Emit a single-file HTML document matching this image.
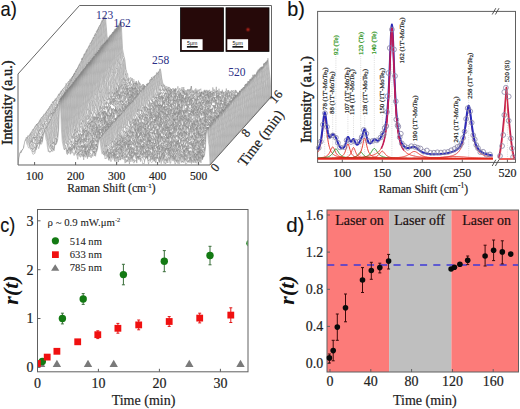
<!DOCTYPE html><html><head><meta charset="utf-8"><style>html,body{margin:0;padding:0;background:#fff;overflow:hidden}svg{display:block}.k{stroke:#222;stroke-width:0.2px}</style></head><body>
<svg width="520" height="409" viewBox="0 0 520 409">
<rect width="520" height="409" fill="#fff"/>
<defs><filter id="bl" x="-5%" y="-5%" width="110%" height="110%"><feGaussianBlur stdDeviation="0.35"/></filter></defs>
<defs><clipPath id="ca"><path d="M18,165 H210 L271.5,96.5 V5 H79 L18,73.5Z"/></clipPath></defs>
<g clip-path="url(#ca)"><g fill="#fff" stroke="#7a7a7a" stroke-width="0.4" stroke-linejoin="round" filter="url(#bl)">
<path d="M79,99.5V96.5l.7-11.6l.8-7.6l.7-1l.8-.5l.7-2.4l.7-3.4l.8-1.8l.7-3.9l.7-3.7l.8-3.5l.7-.2l.8,3.3l.7-.4l.7,.4l.8-1.1l.7,2l.7,1.3l.8,.1l.7-.1l.8-1.2l.7,0l.7-1.7l.8,.5l.7-3.3l.7-2.9l.8-1.8l.7-4.4l.8,1.7l.7-2.3l.7-.7l.8-1.7l.7-2.8l.8-6.1l.7-10.7l.7-9.6l.8,2.2l.7,9.4l.7,7.9l.8,7.1l.7,9.5l.8,4.9l.7,4.4l.7,6.3l.8,1.4l.7,1.1l.7,6.4l.8-.9l.7,.2l.8,.3l.7-2.6l.7,.5l.8,1.7l.7-5l.8-4.9l.7-10.9l.7-19.1l.8-13.5l.7,12l.7,14.8l.8,4.1l.7,3.6l.8,3.1l.7,6.5l.7,4.9l.8,3.4l.7-.5l.7,8.2l.8,.2l.7-2.7l.8-2.1l.7,1.8l.7,5.2l.8,2.1l.7-5.7l.8,3.3l.7,1.6l.7-3.9l.8,.2l.7,2.6l.7,.2l.8-.1l.7-2.2l.8,2.4l.7,.4l.7,.1l.8,4.8l.7-6.1l.7,.9l.8,1l.7,5.6l.8-2.8l.7-3.2l.7,5.9l.8-3.5l.7-2.6l.7,5.2l.8-6.4l.7,2.4l.8,1.4l.7-1l.7-.7l.8,.8l.7-2.1l.8,2.7l.7-1.1l.7-3.3l.8-.5l.7-2.6l.7-6.7l.8-4.7l.7,2.8l.8,6.5l.7,3.6l.7,2.8l.8,2l.7-1.6l.7,4.7l.8-3.5l.7,5l.8-.5l.7-2.6l.7-.8l.8,.6l.7,1.2l.8,.6l.7,.1l.7-.8l.8,1.8l.7-.9l.7-.6l.8,1.4l.7-1.6l.8,.5l.7-3.1l.7,3.7l.8,1.7l.7,0l.7-.8l.8-2l.7,2.8l.8-1.5l.7-3.2l.7,7.6l.8-1l.7-2.9l.7-.3l.8,.4l.7,1.5l.8-2.4l.7,.9l.7,1.8l.8-6.4l.7,4.6l.8,2l.7-1l.7,.4l.8-.4l.7,1.9l.7-.8l.8-3.3l.7,4.8l.8-2.4l.7-2.2l.7,.3l.8-1.4l.7,6.9l.7-2.7l.8,0l.7-2.1l.8-1l.7,3.5l.7-3.4l.8,5.6l.7-4.6l.8,4.8l.7-3.7l.7-2.2l.8,3l.7-.7l.7-1.3l.8,1.5l.7,.5l.8-3.5l.7,1.1l.7,3l.8-6.6l.7,8.6l.7-4.5l.8,2.6l.7-.8l.8-1.3l.7,1.1l.7-.9l.8,3.4l.7,0l.7-3.2l.8,3.5l.7,.2l.8-.6l.7-4.4l.7,1.2l.8-1.6l.7,5.4l.8-2.1l.7,2l.7-3.6l.8-1.7l.7,5.4l.7-5.3l.8,1.3l.7,2.6l.8-.8l.7-2.6l.7,3.3l.8,1.2l.7-2.2l.7,0l.8-2.4l.7,4.7l.8-3.9l.7-.8l.7,.1l.8,3.6l.7,1.2l.8-3.9l.7,2l.7,0l.8-2.9l.7,3.7l.7-1.9l.8,2.2l.7-1.2l.8-1.5l.7,1.1l.7,2l.8-1.4l.7-1.8l.7,1.6l.8-2.8l.7,3l.8-2.5l.7-1l.7-.3l.8,4.9l.7-3.6l.7,3.1l.8,.9l.7-.6l.8-4.9l.7,2.6l.7-2l.8-1.7l.7-3.5l.8-6.3l.7-12.6l.7-8l.8,6.4l.7,7.5l.7,6.1l.8,15.7v3H79Z"/>
<path d="M78.5,99.9V96.9l.7-10.1l.8-9.2l.7-1.4l.8-.5l.7-1.2l.7-2.5l.8-2.6l.7-5.1l.7-2.2l.8-4.2l.7-.4l.8,3.6l.7,1.1l.7-1.4l.8,.7l.7-1.8l.7,1.5l.8,2l.7,.7l.8-1.3l.7-3l.7,2.1l.8-4.6l.7,3.1l.7-5.2l.8-5.1l.7-1.8l.8,3.3l.7-2.7l.7-2.8l.8-1l.7-2.8l.8-5.8l.7-10.5l.7-9.2l.8,2.2l.7,8.2l.7,8.5l.8,8.4l.7,8.9l.8,3l.7,4.2l.7,4.9l.8,4.4l.7,1.2l.7,3.7l.8,4.9l.7-3.8l.8-.6l.7-.1l.7,.9l.8-2.6l.7-.8l.8-6.2l.7-9.9l.7-20.3l.8-13.8l.7,12.4l.7,14l.8,5.5l.7,3.2l.8,.6l.7,7.4l.7,4.7l.8,.9l.7,6.3l.7,.7l.8,2.2l.7,.6l.8-.4l.7,.4l.7,2.1l.8-2.8l.7,.6l.8-1l.7,6.4l.7-1.4l.8-.8l.7-.7l.7,4.3l.8-.8l.7,.9l.8-3.8l.7,2.2l.7,2.1l.8-1l.7-2.4l.7,4.2l.8-1.3l.7,1.3l.8-1.3l.7,1.2l.7-2.1l.8,3.4l.7-.3l.7-3.8l.8,.9l.7,2.2l.8-2.4l.7-.1l.7,1.6l.8-1l.7,.3l.8-.6l.7-.7l.7-1.9l.8-.1l.7-5.5l.7-3.6l.8-5.4l.7,2.1l.8,5.2l.7,4.5l.7,3.4l.8-.5l.7,3.2l.7,2l.8-.2l.7,4.4l.8-4.8l.7-1.9l.7,.8l.8,4.8l.7-3.3l.8,.1l.7,3.1l.7,1.6l.8-3.1l.7-2l.7,2.3l.8-1.9l.7,4.8l.8-1.4l.7,.3l.7-1.2l.8-1l.7,.1l.7,0l.8,.7l.7,1.7l.8-2.1l.7-.3l.7-1.6l.8,6.2l.7-2.8l.7,.7l.8-1.6l.7-1.7l.8,3.1l.7-1.5l.7,2l.8-2.2l.7-5.1l.8,7.2l.7,.2l.7-1.1l.8-2.2l.7,2.2l.7-.3l.8-.1l.7,2l.8-3.5l.7,3.2l.7-1.4l.8,.2l.7-.1l.7,.1l.8-1l.7,1.5l.8-.9l.7-1.4l.7,1.6l.8,0l.7-2.5l.8,5.9l.7-2.3l.7,1.3l.8,1l.7-4.4l.7,3.1l.8,1.4l.7-8.5l.8,3.6l.7-.7l.7,3.3l.8,.1l.7-2.8l.7,4l.8,.9l.7,.1l.8-3l.7,1.6l.7,1.5l.8-2.1l.7-2.4l.7,3.7l.8-2.9l.7,3.7l.8-4.9l.7,4.7l.7-1.5l.8,1l.7-2.6l.8,.9l.7,.9l.7-1.4l.8-.6l.7,3.3l.7,.2l.8-.1l.7-.7l.8,.6l.7-5.6l.7,3.9l.8,.2l.7,1l.7-.5l.8,.2l.7-4l.8,1.8l.7,1.5l.7-.9l.8,1.2l.7-3.9l.8,2.6l.7-2.5l.7,.9l.8,2.9l.7,1.5l.7-3.6l.8,3.2l.7-1.1l.8,1.1l.7,.2l.7-2.9l.8,.5l.7,.7l.7-3.8l.8,4.6l.7-3.7l.8,1.9l.7,.6l.7,.4l.8-3.8l.7,4.3l.7,1l.8-1.8l.7-3.6l.8,4.5l.7-3.2l.7-2.1l.8-1.7l.7-3l.8-8.1l.7-10.1l.7-6.5l.8,6.3l.7,6.2l.7,5.9l.8,15.8v3H78.5Z"/>
<path d="M78,100.4V97.4l.7-13.1l.8-6.8l.7-2.3l.8-.4l.7-1.7l.7-1.3l.8-2l.7-4l.7-3.2l.8-4.8l.7,1l.8,1.2l.7-.1l.7,2.2l.8-1.3l.7-1.9l.7,2.4l.8,2.3l.7-1l.8-.6l.7-.7l.7,1.4l.8-5l.7-1.7l.7-.4l.8-3.6l.7-.2l.8-2.3l.7,1.1l.7-4.3l.8-.6l.7-2.2l.8-6.8l.7-10.5l.7-9.1l.8,2.2l.7,8.3l.7,8.4l.8,8.1l.7,6.4l.8,6.2l.7,6.5l.7,.4l.8,6.1l.7,1.6l.7,4l.8,.5l.7,2.6l.8-5.1l.7-.4l.7,3.3l.8,0l.7-2.1l.8-8.3l.7-9.4l.7-19.4l.8-13.9l.7,11.9l.7,14.6l.8,4.9l.7,4.1l.8,1.5l.7,4.5l.7,4.8l.8,5.3l.7,4.1l.7-.1l.8,2.4l.7-3.3l.8,1.8l.7,1.9l.7,.8l.8,1l.7,1.2l.8-.5l.7-.6l.7,.2l.8,.4l.7-2.8l.7,6.5l.8-1.2l.7-5.9l.8,10.5l.7-2.7l.7-1.3l.8,.2l.7-.5l.7,1.6l.8-1.2l.7,.8l.8-1.5l.7,5.9l.7-2.1l.8-1.9l.7,2.3l.7,.1l.8-3.7l.7,2.7l.8-2.6l.7-.2l.7,.7l.8-.5l.7,.9l.8,1.7l.7-3l.7-1.9l.8-.7l.7-3.9l.7-5.8l.8-3.6l.7,.8l.8,4.6l.7,6.6l.7,2.1l.8,2.1l.7-1.6l.7,2.6l.8-.6l.7,3.3l.8-.9l.7,.2l.7,3.7l.8-6.5l.7,1.3l.8,6l.7-5.4l.7,2.1l.8-1.2l.7,.3l.7,4.2l.8-2.8l.7-3.6l.8,4.6l.7,1l.7,.8l.8-.2l.7-3.4l.7-2.9l.8,2.8l.7,.5l.8-4.4l.7,6.1l.7,.4l.8-2.6l.7,0l.7,3.5l.8,.4l.7-3.2l.8,.1l.7,3.5l.7-2.4l.8,.8l.7-2.2l.8,1.3l.7,0l.7,.6l.8-3l.7-.7l.7,3.9l.8-2.6l.7,3.5l.8-1.8l.7-1.4l.7-1.7l.8,4.3l.7-.7l.7-.5l.8,3.7l.7-3.3l.8,1.6l.7-2.3l.7,3.4l.8-.1l.7-2.4l.8-.5l.7,1.8l.7-3.1l.8,2.6l.7,.8l.7-2.4l.8,3.8l.7-1.2l.8-1.4l.7-1.8l.7,2.2l.8-1l.7,2.2l.7-2.1l.8-3l.7,5.3l.8-6.7l.7,6.6l.7-1.4l.8-.3l.7-1.8l.7,4.6l.8-1.9l.7-1.7l.8-.4l.7,.4l.7-4.3l.8,5.3l.7,0l.8-1.5l.7,1.3l.7-2.8l.8,5.2l.7-.7l.7-4.2l.8,1.7l.7,2.6l.8-2.8l.7-2.7l.7,4.8l.8,.6l.7,.6l.7,.7l.8-.4l.7-2.8l.8,1.3l.7-.1l.7,.6l.8-2.4l.7,.9l.8,1.4l.7-1.8l.7,1.8l.8,.8l.7-4.4l.7,2.2l.8,2.7l.7-4.1l.8,1.6l.7,1.2l.7-4l.8,2.8l.7-1.3l.7,1.5l.8,.8l.7,.4l.8-3l.7,2l.7,.6l.8-1.5l.7,.5l.7-1.5l.8,2.1l.7-1l.8,2.1l.7-3l.7-1.9l.8-2.3l.7-2.1l.8-6.9l.7-13.3l.7-5.4l.8,4.3l.7,7.1l.7,7.7l.8,14.8v3H78Z"/>
<path d="M77.6,101.4V98.4l.7-11.7l.8-7.8l.7,2.4l.8-5l.7-2.1l.7-.5l.8-2.9l.7-4.4l.7-1.9l.8-5l.7-.6l.8,1.2l.7,2.9l.7,1.8l.8-3l.7,1.3l.7-.1l.8-.4l.7,3.1l.8-3.6l.7,.6l.7-.5l.8-.8l.7-.7l.7-4.2l.8-3.1l.7,.1l.8-.6l.7-4.3l.7,0l.8-2.8l.7-1.5l.8-6.1l.7-10.1l.7-9l.8,1.3l.7,9.3l.7,7.4l.8,9.6l.7,5.9l.8,7.4l.7,5.5l.7,1l.8,5.9l.7-.7l.7,2.1l.8,3.5l.7-1.7l.8,2.5l.7-3.9l.7,.8l.8-.8l.7-1l.8-5.8l.7-11l.7-18l.8-14.2l.7,11.4l.7,13.5l.8,6.6l.7,2l.8,.9l.7,10.4l.7,6.6l.8-1.9l.7,3.2l.7,1.6l.8,6.1l.7-3.2l.8,1l.7,.1l.7-1.1l.8-.8l.7-2.6l.8,10.7l.7-1.1l.7,1.2l.8-5.7l.7,5.3l.7-1.8l.8,0l.7,6.4l.8-7.3l.7,.7l.7,3.2l.8,0l.7,0l.7-1.6l.8,.5l.7-1l.8,4.3l.7-.7l.7-1.9l.8-.1l.7,1.9l.7-4.4l.8,2.2l.7-.9l.8,.6l.7-2.4l.7,3.9l.8-.6l.7-2l.8,0l.7,2.4l.7-2.6l.8-3.2l.7-3.1l.7-4.6l.8-4.3l.7,1.2l.8,4.9l.7,4.4l.7,4l.8,2.6l.7,.4l.7,3.1l.8-4.2l.7,.4l.8,2.1l.7-.9l.7-1.8l.8,3.2l.7,0l.8-1.6l.7,3.4l.7-2.2l.8,3.1l.7-3.7l.7,3.5l.8-1.7l.7-.1l.8,3.4l.7-1.9l.7-1.8l.8,1.4l.7,1.1l.7,0l.8-.2l.7-1.2l.8,.6l.7-3.1l.7,1.7l.8,1.4l.7,3.6l.7-4.2l.8-1.1l.7,1.7l.8-3.9l.7,0l.7,1.3l.8,2.9l.7-5.1l.8,3.1l.7,5.4l.7-6.7l.8,6.1l.7-.1l.7-4.9l.8-1.1l.7,2.9l.8-1.8l.7-.1l.7,5.8l.8-4l.7-.8l.7,3.6l.8-3.6l.7,2.4l.8-1.5l.7,.7l.7-3.5l.8,3.1l.7,.9l.8,2.9l.7-1.8l.7-5.4l.8,3.1l.7-1.2l.7,.3l.8,5l.7-2l.8-.1l.7-2.9l.7,4.2l.8-.9l.7,.2l.7,.8l.8-1.5l.7-.6l.8,2.1l.7-.1l.7-2.1l.8-3.3l.7,3.3l.7,2.9l.8-3.5l.7-1.1l.8,1.4l.7,.2l.7,1.6l.8-1.2l.7,2.5l.8-3l.7-2l.7,2.2l.8-2.3l.7,1.4l.7,1.4l.8,1.9l.7-3.9l.8,1.7l.7,.9l.7-3.8l.8,1l.7-.4l.7-.3l.8,3.7l.7-.7l.8,1.9l.7-3.9l.7,2.9l.8-5l.7,6l.8-3.3l.7-1.4l.7,2.6l.8,1.1l.7,1.2l.7-4.6l.8,.5l.7-1.4l.8,4.5l.7-4.6l.7,2.3l.8-.4l.7,.7l.7,2l.8-.6l.7-2.8l.8,2.8l.7-.9l.7,0l.8-.8l.7-2l.7,4.2l.8-2.6l.7,1.6l.8-1.5l.7-.1l.7-.3l.8-2.7l.7-2.6l.8-8.9l.7-9.9l.7-7.4l.8,4.5l.7,8.4l.7,5.1l.8,16v3H77.6Z"/>
<path d="M77.1,101.6V98.6l.7-10.4l.8-10.7l.7,.9l.8,0l.7-4.3l.7,.2l.8-3.4l.7-3.3l.7-4.1l.8-3.8l.7,.3l.8,2.9l.7,2.1l.7-.4l.8-1.4l.7-1.4l.7,.9l.8,.6l.7,1l.8,1.3l.7-.6l.7,1.3l.8-4.2l.7-2.8l.7-2.8l.8-2.3l.7-1.1l.8-1.4l.7-.3l.7-3.5l.8-1.5l.7-1.9l.8-6.4l.7-9.1l.7-9.8l.8,2.1l.7,9l.7,6.3l.8,8l.7,9.1l.8,5.2l.7,3.8l.7,4.2l.8,2.7l.7,5.8l.7,1.2l.8-.1l.7-.9l.8,1.1l.7,.2l.7-.8l.8,.2l.7-1.8l.8-7.7l.7-9l.7-19.6l.8-14.7l.7,12.2l.7,14.3l.8,6.6l.7,1.2l.8,1.4l.7,6.4l.7,3.9l.8,6l.7,2l.7,3.2l.8-.1l.7-1.1l.8,5.7l.7-2.6l.7-.5l.8,2.2l.7,.1l.8-1.6l.7-1.9l.7,3.7l.8,1.2l.7,4.6l.7-7.3l.8,4.5l.7,.5l.8,2.6l.7-2.1l.7,2.4l.8-2.4l.7-.7l.7,1.1l.8-.4l.7,2.6l.8-5l.7,4.7l.7,2.6l.8-3.5l.7,1.3l.7,.6l.8-1.4l.7-1.4l.8,2.9l.7-2.1l.7-3.1l.8,1.3l.7,1.2l.8-.9l.7-.3l.7-1.3l.8-2.9l.7-2.4l.7-3.6l.8-6.3l.7,2.3l.8,4.6l.7,5.7l.7,2l.8-1.3l.7,5.9l.7,1l.8,1.1l.7,2.3l.8-.5l.7-4.1l.7,2.2l.8,3l.7-.7l.8-4.5l.7,3.2l.7-.8l.8-1.5l.7-2.1l.7-1.2l.8,2.1l.7,2l.8,0l.7-3.5l.7,.9l.8,3.9l.7-1.7l.7,.5l.8,.5l.7,1.3l.8,1.9l.7-1.7l.7,2.2l.8-6l.7,1.5l.7,3.9l.8-5.7l.7,1.2l.8,6.2l.7-8.2l.7,2.3l.8-2.7l.7,7.3l.8-3.9l.7,.3l.7,.5l.8,.1l.7-1.9l.7,5.7l.8-.5l.7,.3l.8-1.8l.7,.2l.7-2.1l.8,.2l.7,.6l.7,1.6l.8-.5l.7-3l.8,.4l.7,1.5l.7,1l.8-4.1l.7,4.8l.8-2.7l.7-1.1l.7,3.2l.8-2.4l.7,4.3l.7-4.6l.8,1.8l.7,3.1l.8-4.1l.7,3.5l.7-4.8l.8,4.4l.7-1.1l.7-1l.8,1.4l.7-1.2l.8,1.8l.7-2.7l.7,1.5l.8-.4l.7-.4l.7-1.6l.8,2.5l.7,1.1l.8-1.1l.7-.8l.7-1.3l.8,4.6l.7-5.6l.8,3.8l.7-5.6l.7,5.6l.8-1.7l.7,2.3l.7,.9l.8-4.1l.7,.5l.8-1.4l.7,1.6l.7,3.2l.8-1.2l.7,1.4l.7,.1l.8,.3l.7-3.1l.8,.6l.7,1.3l.7-1l.8,.7l.7-.8l.8-1.2l.7-.5l.7,3.7l.8-1.2l.7-3.5l.7,2.9l.8-2.2l.7,2.6l.8,.5l.7-.8l.7,.8l.8,.4l.7-2.8l.7-.8l.8-1.2l.7,5.4l.8-.7l.7-2.5l.7-1l.8,1.6l.7,2.5l.7-4.1l.8-.3l.7,.3l.8,1.8l.7-2l.7-1.4l.8-.8l.7-2.4l.8-8.4l.7-12.1l.7-6.4l.8,4.4l.7,9l.7,6l.8,14.9v3H77.1Z"/>
<path d="M76.6,102.4V99.4l.7-11l.8-7.6l.7-2.2l.8-.5l.7,.9l.7-6.5l.8-.9l.7-1.9l.7-5.1l.8-4l.7,.1l.8,2l.7,1.2l.7-.6l.8-1.1l.7,.2l.7,.9l.8,3.7l.7,.5l.8-2.1l.7,.3l.7-1.8l.8,.1l.7-2.1l.7-3.5l.8-.4l.7-2.6l.8-2.2l.7-.7l.7-1.6l.8-3.1l.7-3.3l.8-5.3l.7-8.8l.7-9.9l.8,2.4l.7,8.4l.7,8.4l.8,8.2l.7,6.6l.8,6.3l.7,4.6l.7,5.4l.8,.2l.7,4.1l.7,3.4l.8-.6l.7-.9l.8,2.4l.7-3.2l.7,2.2l.8-3.3l.7-1.5l.8-4.3l.7-10.4l.7-19.1l.8-14.3l.7,11.3l.7,14.2l.8,6l.7,3l.8,2.8l.7,4l.7,9.7l.8,.8l.7,2.1l.7,3.9l.8,.1l.7,0l.8,2.1l.7,.2l.7,.7l.8-.3l.7-1.3l.8-.9l.7,2.7l.7,1l.8,1.7l.7-1.6l.7,1.6l.8-2.8l.7,2.5l.8-1.6l.7,1.2l.7,1.1l.8-.3l.7,2.3l.7-3l.8,1.9l.7,1.4l.8-1.7l.7-1.6l.7,1.9l.8,5l.7-3.6l.7-1.2l.8-1l.7,2.6l.8-2.1l.7-.9l.7,.4l.8,3.7l.7-2.3l.8-.4l.7-1.1l.7-1.8l.8-3.4l.7-2.1l.7-4.6l.8-4.6l.7,.6l.8,6.8l.7,4.1l.7,.9l.8,1.3l.7,.9l.7,4.9l.8-4.3l.7,3.3l.8-1.7l.7,2.1l.7-1.9l.8,2.2l.7,.1l.8,.5l.7,1.6l.7-1.7l.8-1.7l.7,4.3l.7-2.5l.8,2.5l.7,.4l.8,.9l.7-7l.7,3.4l.8,1.1l.7-2.8l.7,6.5l.8-4.4l.7,1.5l.8-2.7l.7,4.3l.7-3l.8,.3l.7-3l.7,4.1l.8-.9l.7-1l.8,.1l.7-.2l.7,.9l.8,2.4l.7-4.7l.8-1.1l.7,3.6l.7,1.7l.8-3.6l.7,4.2l.7-2.5l.8,3.9l.7-6.2l.8,5.5l.7-3.1l.7,2l.8-.2l.7,1.6l.7-2.4l.8,2.3l.7-4.4l.8,4l.7-1.7l.7-1.7l.8,0l.7-.3l.8-.3l.7,1.4l.7-.6l.8-.4l.7,4.8l.7-2.8l.8,0l.7,.3l.8-1.4l.7,3.4l.7,.8l.8-1.6l.7-2.3l.7,3l.8-1.1l.7-3.4l.8,0l.7,1.4l.7,1.8l.8,.1l.7,2.2l.7-.4l.8-3.9l.7,2.7l.8-3.4l.7,2.9l.7-.2l.8-.5l.7-2.9l.8,2.7l.7,2.2l.7,0l.8-2.7l.7,3l.7-.1l.8-1.9l.7,.3l.8,1.7l.7,.3l.7-2.6l.8,.8l.7,1.5l.7-.2l.8-5.1l.7,5.5l.8-3l.7,1.8l.7-2.9l.8-.6l.7,3.7l.8-1.1l.7,2.3l.7-1l.8-2.5l.7,2.8l.7,.5l.8-1.7l.7,.7l.8,.2l.7-1.5l.7,1.3l.8-.5l.7-.1l.7-.4l.8-1.6l.7-2.8l.8,6.4l.7,.1l.7-3.3l.8,1.2l.7,2.1l.7-.5l.8,.2l.7-.3l.8-.1l.7-2.8l.7-2l.8-2.6l.7-1l.8-8.4l.7-12l.7-6.7l.8,4.1l.7,8.8l.7,5.8l.8,16v3H76.6Z"/>
<path d="M76.2,102.6V99.6l.7-9.6l.8-8.6l.7-1.6l.8-1.1l.7-3.1l.7-.3l.8-3.9l.7-1.5l.7-4.2l.8-5.3l.7,.2l.8,1.9l.7,1.8l.7-.2l.8,.9l.7-3.1l.7,2.9l.8-.8l.7,1.7l.8,2.9l.7-1.4l.7-4.4l.8,.6l.7-1.4l.7-3.7l.8-2.3l.7-1l.8-.8l.7-1.5l.7-4.2l.8-.1l.7-3.7l.8-5.4l.7-9.7l.7-9.2l.8,2.2l.7,8.8l.7,8l.8,8.8l.7,7l.8,6.4l.7,1.9l.7,5l.8,4.4l.7,4.6l.7-.5l.8,1.7l.7,1.3l.8-.6l.7,.2l.7-3.8l.8,.8l.7-5.2l.8-2.1l.7-10.8l.7-19.8l.8-13.3l.7,12l.7,14.4l.8,6.1l.7-.1l.8,3.7l.7,3.6l.7,8.3l.8,3.3l.7,4.5l.7-1.6l.8,5.6l.7-3.2l.8-.8l.7-.6l.7,5l.8-4l.7,4.7l.8,.9l.7,2l.7-4.8l.8-.5l.7,5.4l.7,.8l.8-.6l.7-6l.8,3.5l.7,3.7l.7,2.9l.8-2.3l.7-4l.7-1.3l.8,4.8l.7,1l.8-.3l.7,3.1l.7-6l.8,4.4l.7-4.7l.7,6.2l.8-1l.7-3.4l.8,2.1l.7-3.1l.7,1.4l.8,2l.7-3.5l.8-.8l.7,3.7l.7-6.6l.8-.1l.7-3.5l.7-3.2l.8-5.5l.7,1.5l.8,4.6l.7,6.9l.7,2.5l.8,3.5l.7-1.5l.7-.2l.8,4.1l.7-1.5l.8-1.8l.7-1.9l.7,2l.8,2.1l.7,2.1l.8-.4l.7-.5l.7-1.7l.8,.6l.7-3.7l.7,3.1l.8,3.1l.7-5.7l.8,1.4l.7,2l.7,1.8l.8,2.6l.7-1.8l.7-4.2l.8,3.8l.7,1.2l.8-3.3l.7-.1l.7-.7l.8-.1l.7-1.6l.7,5l.8-4l.7,4.4l.8-3.6l.7,1.1l.7-.1l.8-1.5l.7,2.2l.8-2.5l.7,.6l.7,1.7l.8,1.6l.7,.4l.7-.5l.8-.6l.7-.4l.8-6.6l.7,5.2l.7-.2l.8,3.6l.7-.3l.7-.8l.8-1.1l.7,2.7l.8-5.7l.7,4.8l.7-3.6l.8,4l.7-1.5l.8-.6l.7,.2l.7-.9l.8,.8l.7,.3l.7,2.5l.8-.5l.7-.6l.8-2.3l.7,.7l.7,1.2l.8,1.4l.7-.5l.7-5.3l.8,.3l.7,4l.8-3l.7,4.8l.7-.8l.8,.1l.7,.9l.7-.7l.8-1.6l.7-6.2l.8,8.1l.7-1.5l.7-.5l.8,.8l.7-2.1l.8-1.9l.7,5.7l.7-2l.8,.9l.7-1.3l.7,1.6l.8-.5l.7-1.3l.8,0l.7,.7l.7,.3l.8-1.2l.7,2.3l.7,.9l.8-1.2l.7,1.1l.8-3.1l.7,.3l.7,1.2l.8-1.2l.7,2.5l.8-1.5l.7,.1l.7-1.2l.8,1.4l.7,.1l.7,0l.8,1.1l.7-6.3l.8,3.8l.7,.1l.7-4.1l.8,1.9l.7,3.7l.7-2.2l.8-.3l.7-2.4l.8,1.2l.7,1.2l.7,3.6l.8-.2l.7-2.6l.7-.7l.8,3.1l.7-1.7l.8-.4l.7-1.6l.7-1.3l.8-1.3l.7-2.6l.8-8.7l.7-12.3l.7-5.4l.8,4.2l.7,8.3l.7,6.3l.8,15.3v3H76.2Z"/>
<path d="M75.7,103V100l.7-10.2l.8-9l.7-1.4l.8-.3l.7-2.3l.7-1.4l.8-3.7l.7-1.7l.7-5.2l.8-3.8l.7,.5l.8,1.3l.7,1.9l.7-.5l.8-4l.7,3.6l.7,.4l.8,2l.7,.9l.8-3.8l.7,.3l.7,.6l.8,.7l.7-6.8l.7-1.4l.8-1l.7-.4l.8-.9l.7-3.1l.7-.5l.8-1.1l.7-2.7l.8-4.5l.7-11.8l.7-9.2l.8,1.4l.7,9.1l.7,7.6l.8,8.4l.7,9.3l.8,4l.7,4.2l.7,2.8l.8,3.7l.7,4.5l.7,.9l.8,.8l.7-.9l.8,1.7l.7,.5l.7-1.5l.8-.6l.7-4.3l.8-4l.7-9.3l.7-20.4l.8-14.2l.7,12.5l.7,15l.8,3.5l.7,3.1l.8,5.4l.7,.2l.7,8.1l.8,7.9l.7-1.4l.7,2.5l.8-.3l.7,1l.8,2.8l.7-2.6l.7-.5l.8,2.2l.7,.6l.8,3.1l.7-1.3l.7,1.5l.8-.5l.7,1.3l.7,3.5l.8-4.9l.7,3l.8-.7l.7,1.8l.7-2l.8,1l.7-4.5l.7,7.9l.8-1.2l.7-2.6l.8,2.9l.7-2.1l.7-6.2l.8,5.1l.7,.5l.7-1.1l.8,.1l.7,.4l.8,.7l.7,.6l.7-3l.8,.6l.7,1.3l.8-.7l.7,1.3l.7-1.8l.8-1.2l.7-5l.7-6.5l.8-4.2l.7,2.4l.8,5.9l.7,3.5l.7,2.6l.8,3.9l.7-.1l.7-.5l.8,.5l.7,0l.8,0l.7,1.5l.7,1.7l.8,2.6l.7-1.5l.8-3.6l.7-1.3l.7,1.7l.8,2.9l.7,3l.7-5.7l.8,4.3l.7-1.7l.8-3.8l.7,5l.7-.5l.8-2.2l.7,2.7l.7-3.2l.8-1.9l.7,4.5l.8-3.9l.7,5.6l.7-2.5l.8,1.1l.7,2.9l.7-2.8l.8-2.1l.7,2.2l.8,2.1l.7-4.1l.7,3.2l.8-3.7l.7-.1l.8,1.2l.7,1.5l.7-.4l.8-3.7l.7-.7l.7,3.6l.8,3.6l.7,0l.8,.4l.7-6.4l.7,6.5l.8-6.1l.7,2.5l.7,1l.8-3.6l.7,3.8l.8-3.1l.7,0l.7,4.2l.8-1.4l.7-2.6l.8,4.4l.7-3.9l.7,2.7l.8-2.2l.7,2.5l.7,.3l.8,.7l.7,1.5l.8-1.3l.7-1.5l.7,2.5l.8-3.2l.7,0l.7-.2l.8-.3l.7-.1l.8,2.9l.7-2.5l.7,1l.8-.9l.7,2.1l.7,.2l.8,1l.7-.3l.8-1l.7,.4l.7-.6l.8,1.8l.7-.6l.8-.8l.7,1l.7-2.1l.8,.3l.7-1.5l.7,3.6l.8-1.8l.7,.2l.8-.1l.7,1.1l.7-4.7l.8,3.3l.7-2.5l.7,4.6l.8-1.9l.7-1.7l.8,1.9l.7-.3l.7,1.5l.8-5.4l.7,2.3l.8,2.5l.7-1l.7,2.1l.8-3.4l.7,1.6l.7,1l.8-2l.7-4.6l.8,5.6l.7,1.1l.7-.2l.8-2.8l.7,3.1l.7-.1l.8-3.8l.7,3.3l.8-.2l.7-.4l.7-.3l.8,.8l.7,0l.7-2l.8,1.6l.7,.2l.8-5.3l.7,1.4l.7-1.3l.8-.5l.7-2.6l.8-7.1l.7-13.4l.7-5.6l.8,6l.7,6.1l.7,6.3l.8,15.8v3H75.7Z"/>
<path d="M75.2,103.7V100.7l.7-11.2l.8-7.6l.7-.1l.8-1.1l.7-3.6l.7-.3l.8-3.8l.7-3.3l.7-2.7l.8-4l.7-.8l.8,1.7l.7,1.2l.7,.1l.8-1.4l.7,1.1l.7,.9l.8-.1l.7,2.2l.8-2.2l.7,3.4l.7-4.2l.8,.1l.7,.8l.7-7.1l.8-2.2l.7-.7l.8,1.5l.7-2.3l.7-4.9l.8,.7l.7-.2l.8-7.9l.7-10l.7-10l.8,2l.7,9l.7,7.8l.8,6.7l.7,9.9l.8,2.1l.7,7.3l.7,4.4l.8,.8l.7,2.8l.7,4.1l.8-1.2l.7,3.8l.8-1.9l.7-3.6l.7,1.5l.8,1.2l.7-4.4l.8-5.4l.7-10l.7-18.2l.8-14.6l.7,11.8l.7,13.7l.8,4.6l.7,4.5l.8,3.6l.7,4.3l.7,2.8l.8,7.6l.7-1.3l.7,9.4l.8-5.6l.7,3.5l.8-2.1l.7-.4l.7,4l.8-1.9l.7,0l.8,0l.7,4.2l.7,.8l.8,2.6l.7-9.4l.7,6.4l.8,.4l.7,3.1l.8-5.1l.7,3.4l.7-4.1l.8,1.4l.7,2l.7-1.4l.8,4.1l.7-1.6l.8,.7l.7,1.6l.7-2.8l.8,.4l.7-3.4l.7,10.6l.8-5.9l.7,.4l.8-1l.7-1.8l.7,0l.8,.5l.7,.6l.8-2.1l.7-.4l.7,1.9l.8-4.2l.7-2.4l.7-5.7l.8-5.5l.7,1.8l.8,5.6l.7,5.5l.7,2.2l.8,2.8l.7-.9l.7,.2l.8-1.5l.7,1.2l.8,4.2l.7-.4l.7,1.2l.8-2.4l.7-3.6l.8,3l.7,6.5l.7-2l.8,.2l.7-3.9l.7,1.3l.8-.6l.7-3.2l.8,5.8l.7,.2l.7-6.2l.8,3.7l.7,2.5l.7,2.8l.8-1.1l.7,.7l.8-4.1l.7,.1l.7-2.1l.8,2.6l.7,1.2l.7,.2l.8-5.8l.7,8.1l.8-4.2l.7,.4l.7-1.3l.8,2.3l.7-2l.8-.6l.7,2.2l.7,.7l.8-.6l.7,1.8l.7-1.7l.8,.3l.7-1.1l.8-2.4l.7,.1l.7,3.9l.8-2.3l.7,.7l.7-1l.8,1.7l.7-.5l.8,1.6l.7,.8l.7-3.6l.8-.9l.7,1.4l.8,.5l.7,.4l.7,1.7l.8,1.5l.7-3.9l.7,1l.8,1.7l.7,1l.8-4.9l.7,4.8l.7-5.8l.8,2.5l.7-3.8l.7,6.9l.8-1.5l.7,1.1l.8-1.5l.7,.9l.7,1.2l.8-4l.7,4.2l.7-.6l.8-2.3l.7,2.4l.8-.2l.7-1.7l.7,1.7l.8,1.1l.7-1.7l.8,.3l.7-4.2l.7,5.8l.8-4.1l.7,3.9l.7-.9l.8,0l.7-1.3l.8-1.3l.7-1.9l.7,5.3l.8-4.3l.7,.8l.7,.4l.8,3.5l.7-3.7l.8,2.2l.7-1l.7,1.4l.8-2.1l.7-1l.8,0l.7,2.9l.7-2.6l.8-1.1l.7,4.9l.7-4.9l.8,4.1l.7-2.1l.8-.1l.7-2l.7,2.6l.8,1.7l.7,.7l.7-.5l.8-3.1l.7,2.2l.8,1l.7-2.8l.7,2.8l.8-.8l.7-.1l.7-4.8l.8,.2l.7,3.2l.8,2.7l.7-4.3l.7-.9l.8-2.1l.7-3.5l.8-6.1l.7-12.9l.7-6.7l.8,5.5l.7,8.3l.7,6.5l.8,14.5v3H75.2Z"/>
<path d="M74.7,104.4V101.4l.7-10.8l.8-9.6l.7,.9l.8-.6l.7-4.7l.7,.3l.8-2.7l.7-2.7l.7-6.1l.8-2.5l.7,.2l.8,2l.7,1.5l.7-.3l.8-.7l.7,.5l.7-1.6l.8,4.3l.7-2.5l.8,.6l.7,2.6l.7-4.2l.8-.3l.7-.2l.7-6.7l.8-2.1l.7,3.4l.8-3.9l.7,.6l.7-1.7l.8-4.1l.7-.5l.8-6.4l.7-10.3l.7-9.2l.8,2.1l.7,9.5l.7,6.5l.8,7.1l.7,7.2l.8,5.3l.7,5.6l.7,3.9l.8,4.3l.7,4.9l.7-.3l.8,1.2l.7,.6l.8-1.9l.7-1.5l.7,1.1l.8-2.2l.7-1.2l.8-5.7l.7-10.8l.7-18.9l.8-13.1l.7,12.3l.7,13.7l.8,4.8l.7,6.3l.8-.6l.7,6.8l.7,2.9l.8,4.3l.7,4.1l.7,2.7l.8,.2l.7-1.1l.8,3.6l.7-2.3l.7,1.4l.8,.7l.7,1.7l.8,1.9l.7-3.8l.7,1.1l.8,2l.7,0l.7-2.1l.8,2.1l.7-.2l.8,1.2l.7-1.5l.7,2.4l.8,1.7l.7-3.6l.7,.3l.8,3.5l.7-2.4l.8,.1l.7-.3l.7-6l.8,6.5l.7,.5l.7,.9l.8,.4l.7,4.3l.8-4.7l.7-.6l.7,1.6l.8-2.4l.7-.9l.8-1.6l.7-2.2l.7,2.1l.8-.8l.7-3.4l.7-7.1l.8-3.3l.7,1.3l.8,5.1l.7,5l.7,2.7l.8,1.5l.7,4.6l.7-2l.8-.9l.7,3.8l.8,.8l.7-3.7l.7,1.8l.8-1.2l.7,5l.8-3.8l.7,2l.7-3.5l.8-2l.7,4.8l.7-2.7l.8,4l.7-1.3l.8-1.4l.7,2.3l.7-4.1l.8,2.1l.7,3.6l.7,.1l.8-1.5l.7,3.3l.8-7l.7,3.4l.7,.4l.8-1.2l.7,.9l.7-3.6l.8-.1l.7,1.3l.8,.5l.7-.8l.7,1.1l.8,1.2l.7-2.4l.8,1.7l.7-.7l.7-1.9l.8-.9l.7,4.2l.7-2.3l.8,5.5l.7-1.4l.8-2.4l.7,2.2l.7,.9l.8-.4l.7-2.7l.7,4l.8-4.2l.7-.9l.8,5l.7-3.7l.7-.6l.8,4.3l.7-3.6l.8,1.8l.7-2l.7-.4l.8,.7l.7,1.7l.7-2.1l.8-2.2l.7,6.1l.8-7.9l.7,6.5l.7,2.1l.8-.2l.7-5.7l.7,1.9l.8,2.6l.7-.2l.8-.6l.7,1.9l.7-.2l.8-2.5l.7,1l.7-2.5l.8,1.6l.7,.8l.8-1.6l.7-1.8l.7,4l.8-1.1l.7,1.4l.8,.7l.7,.3l.7-.9l.8,.5l.7-1l.7,.4l.8-1.5l.7-1.3l.8-2.2l.7,5.3l.7-.7l.8-1.4l.7,2.4l.7-3.4l.8,.7l.7,1.5l.8-2.6l.7,4.1l.7-1l.8,.4l.7-.5l.8,.3l.7-.5l.7-2.2l.8,.9l.7-1.1l.7,1.1l.8-.8l.7,3.5l.8-.9l.7-.6l.7-5.3l.8,.6l.7,4.6l.7,.8l.8-2.1l.7,2.9l.8-4.6l.7-2.3l.7,5.9l.8,.3l.7-4.1l.7-.6l.8,1.2l.7,.6l.8,.4l.7-1l.7-.6l.8-1.9l.7-3.3l.8-8.3l.7-9.4l.7-8.9l.8,6.9l.7,7.8l.7,7l.8,13.4v3H74.7Z"/>
<path d="M74.3,105V102l.7-12.1l.8-5.5l.7-4.2l.8,1.7l.7-.4l.7-4.6l.8-2.5l.7-2.7l.7-2.8l.8-4.9l.7-.1l.8,2.1l.7,1.6l.7,1.6l.8-2l.7-3.3l.7,1.3l.8,3.6l.7,1.1l.8-1.6l.7-1.4l.7-.4l.8,1.5l.7-3.7l.7-2.7l.8-4.9l.7-.7l.8,1l.7-2.2l.7-.9l.8-3.5l.7-.4l.8-6.2l.7-10.1l.7-8.6l.8,1.7l.7,9.3l.7,6.6l.8,8.3l.7,7.7l.8,4.8l.7,7.4l.7,1.3l.8,2.9l.7,3l.7,.5l.8,0l.7,3.1l.8,0l.7-1.6l.7-1l.8-.9l.7-.2l.8-7.1l.7-9.2l.7-20.1l.8-13.7l.7,12.1l.7,12.8l.8,7.8l.7,2.3l.8,2.4l.7,4.2l.7,8.4l.8,1.1l.7,4.5l.7-.7l.8-.3l.7,3.1l.8,.5l.7-.5l.7,6.3l.8-7l.7,1.1l.8,1.6l.7,2l.7,1.3l.8-.6l.7-2.4l.7,3.1l.8-2.7l.7,8.6l.8-4.3l.7-1.3l.7,.8l.8,3.6l.7-1.9l.7-4l.8,5.5l.7-.5l.8,.3l.7-1l.7-2.5l.8,.2l.7,5.6l.7-7.4l.8,4.4l.7-.1l.8-4.4l.7,3.3l.7,2l.8-1.3l.7-.2l.8,0l.7-1.9l.7-2.8l.8-1.2l.7-1.8l.7-8.2l.8-2.2l.7,1l.8,5.8l.7,3.8l.7,4l.8,.6l.7-1.5l.7,3.8l.8,2.5l.7-2l.8,2.3l.7-.5l.7-.9l.8-.2l.7,1.5l.8-2.3l.7,2.4l.7,2.4l.8-4.5l.7,2.7l.7-3.2l.8,4l.7-2.5l.8,.7l.7,5l.7-1.1l.8-.7l.7-5.3l.7,7l.8-5.9l.7-.3l.8,1.3l.7-.3l.7,2.5l.8-1l.7-.5l.7-.3l.8-.6l.7,2l.8,1.1l.7-.3l.7-2l.8,4.4l.7-.8l.8-1.7l.7,.3l.7-.6l.8,1.9l.7-1.6l.7-.2l.8-2.1l.7,5.2l.8-2.9l.7-1.6l.7,0l.8-1.4l.7,.3l.7,4.5l.8-3.5l.7,2.1l.8,1l.7-4.9l.7,4.6l.8,.5l.7-.9l.8,1l.7-3.9l.7,1.4l.8-2.2l.7,2.2l.7,2.2l.8-3.5l.7,3.6l.8-.3l.7-.6l.7-.4l.8-2.4l.7,3.8l.7-2l.8,.9l.7,2.6l.8-.3l.7-1.8l.7-1.3l.8,.2l.7-.3l.7,1l.8,1l.7-1.8l.8,3.1l.7-.2l.7-1.2l.8,1l.7-.5l.8,.5l.7-.3l.7-1.1l.8,1.7l.7-.8l.7-.4l.8-.7l.7,2.2l.8-2.7l.7-1.3l.7,3.9l.8-2.2l.7-.9l.7,2.3l.8-1l.7,0l.8,.6l.7-.9l.7,.2l.8,1.9l.7-3.2l.8,1.7l.7-.2l.7,1l.8-2.1l.7,.9l.7-2.2l.8,1.5l.7,2.2l.8-.8l.7-2.5l.7,2.7l.8-1.6l.7-.3l.7,1.5l.8-1.3l.7,.5l.8-.2l.7,.1l.7,1.8l.8-4.3l.7,2.8l.7,.8l.8,0l.7-2.6l.8,2.7l.7-2.3l.7-3.3l.8-1.3l.7-3.2l.8-7l.7-11.4l.7-5l.8,2.9l.7,7.8l.7,7l.8,15.6v3H74.3Z"/>
<path d="M73.8,105.6V102.6l.7-10.4l.8-7.7l.7-1.7l.8-2.2l.7,.3l.7-2.9l.8-2.7l.7-4.3l.7-2.6l.8-3.4l.7-1l.8,2.4l.7,2.1l.7,0l.8-2.7l.7,2.8l.7-.5l.8-1.2l.7,2.3l.8,1.5l.7-.7l.7-3.1l.8-.4l.7-.6l.7-2.5l.8-2.3l.7-1.1l.8-2l.7-1.6l.7-1.6l.8-2.8l.7-1l.8-6.3l.7-8.7l.7-10.6l.8,1.3l.7,8.9l.7,8.1l.8,7.7l.7,7.7l.8,5.6l.7,4.6l.7,3l.8,4l.7,2.2l.7,2.4l.8-.4l.7-.4l.8,.1l.7-.7l.7-1.8l.8,3l.7-5.5l.8-.9l.7-13.2l.7-18.6l.8-13.9l.7,13.1l.7,12.5l.8,6.6l.7,2.5l.8,1.9l.7,6.1l.7,4.9l.8,2.4l.7,4.4l.7,.9l.8,2.5l.7,1l.8-.9l.7,1.2l.7-1.5l.8,1.4l.7,1.3l.8-.1l.7,3.1l.7-3.5l.8,.8l.7,6.8l.7-4.7l.8,1.4l.7-1.9l.8-3l.7,5.6l.7-.5l.8,1.7l.7-2.4l.7-.7l.8,1.1l.7,.4l.8,2.7l.7-2.1l.7,1.9l.8-1.1l.7-4.1l.7,3.2l.8,1.8l.7,.5l.8,.8l.7-2l.7-4.9l.8,4.1l.7-.4l.8,.9l.7-1.7l.7-3.1l.8-1.8l.7-2.1l.7-4.8l.8-5.6l.7,.7l.8,4.9l.7,5.3l.7,4.2l.8,.8l.7,2.6l.7,1.4l.8,.4l.7-.8l.8-.9l.7-1.3l.7,.4l.8,1.7l.7,5.9l.8-7.8l.7,2.3l.7,2.6l.8-4.2l.7,4.8l.7-1.2l.8-.5l.7,.2l.8,.1l.7,4.3l.7-1.3l.8-2.7l.7-1.8l.7,1.8l.8,2.4l.7,.2l.8,0l.7-4.9l.7,4.5l.8-3.7l.7,4.2l.7-.3l.8-.7l.7-4.1l.8,4.3l.7-1.1l.7,1l.8-.2l.7-3.1l.8,3.4l.7-.8l.7,2.2l.8-1.1l.7-1.7l.7-2.9l.8-.7l.7,6.6l.8-2.1l.7,3.1l.7-2.8l.8-.8l.7-1.2l.7,.3l.8,3.3l.7,.5l.8,.6l.7-6.6l.7,6.2l.8-4.8l.7,1.6l.8-1.4l.7,5l.7-3.8l.8,0l.7,1l.7-1l.8,3.5l.7-5.6l.8,5.6l.7-2l.7-2.2l.8,.7l.7-2.2l.7,3.5l.8,2.4l.7-3.1l.8-.3l.7,2.9l.7-3.7l.8-.7l.7,4.5l.7-3.7l.8,1.8l.7-1.9l.8,3.3l.7-2.9l.7,.4l.8,1.3l.7,.9l.8-.3l.7-1.8l.7-1.6l.8,3.5l.7-2.2l.7,1.7l.8-3.9l.7,1.6l.8,.9l.7,.8l.7,2.1l.8-.8l.7-2l.7,3.4l.8-.2l.7-3.7l.8,1.6l.7,2l.7-3.9l.8,3.2l.7-2.8l.8,3.4l.7-.8l.7,.9l.8-3.1l.7,1.1l.7,2l.8-3.5l.7-3.4l.8,6l.7,1.3l.7-.9l.8,.7l.7-5l.7,1.7l.8,3.5l.7-3.9l.8,1.4l.7,.3l.7,0l.8,.4l.7,1.4l.7-.8l.8,.1l.7-3l.8,2.7l.7-3.3l.7-1.2l.8-.7l.7-3l.8-7.7l.7-12.4l.7-5.3l.8,4.1l.7,8.6l.7,4.5l.8,16v3H73.8Z"/>
<path d="M73.3,105.9V102.9l.7-9.3l.8-10.2l.7-.9l.8-2.6l.7-.4l.7-1.2l.8-2.4l.7-3.3l.7-3.3l.8-5.1l.7,.3l.8,2.5l.7,2.4l.7-2.1l.8-.1l.7,1.4l.7-1.1l.8-.4l.7,3.1l.8-.7l.7,.7l.7-.4l.8-3.7l.7-4.6l.7,1.5l.8-2.9l.7-2.3l.8,1.5l.7-2.6l.7-2.7l.8,.2l.7-2.3l.8-6.3l.7-10.3l.7-9l.8,1.3l.7,9.8l.7,6.5l.8,9l.7,6.7l.8,5.4l.7,5.8l.7,2.8l.8,4.2l.7,.7l.7,3.3l.8,.7l.7-.6l.8,.4l.7-3.3l.7,2.1l.8-2.3l.7-1.2l.8-3.8l.7-11.7l.7-18.8l.8-14l.7,12.1l.7,12.8l.8,7.7l.7,.2l.8,4.5l.7,7.4l.7,6.6l.8-1.2l.7,7.4l.7-3.2l.8,.5l.7,1.8l.8,1.4l.7,.1l.7-.9l.8,1.6l.7,1.1l.8,.5l.7-2.5l.7,4.4l.8-1.6l.7,3.8l.7-.5l.8,1.7l.7-2.2l.8-1.7l.7,1l.7,1.9l.8-2.2l.7,2.2l.7-1.4l.8,.3l.7-.4l.8,6.5l.7-2.4l.7-4.4l.8,2l.7-5l.7,5.3l.8,.7l.7-4.1l.8,1.8l.7-2.5l.7,2.5l.8,1.1l.7-1.9l.8,2.1l.7-1.3l.7-1.1l.8-2.4l.7-4.4l.7-4.2l.8-5l.7,2.1l.8,4.7l.7,8l.7,.3l.8,1.2l.7,3l.7-2.6l.8,1.8l.7-1.6l.8,.9l.7,.8l.7,1.7l.8,2.2l.7-1.7l.8,.6l.7-1.4l.7,1.7l.8-7.4l.7,10l.7-5.8l.8,3.6l.7-.4l.8-2.4l.7,2l.7,2.6l.8-3.4l.7,1.4l.7,4l.8-4.8l.7,2.7l.8-.6l.7-2.5l.7,.4l.8,1.3l.7-5.2l.7,3.8l.8,2.2l.7-1.8l.8,.8l.7,3.7l.7-.5l.8-.3l.7-7.3l.8,4.8l.7,.2l.7,.7l.8-3.3l.7,2.1l.7-3.5l.8,2l.7-1.8l.8,3.8l.7-1.1l.7,1.8l.8-.5l.7,3.3l.7-2.4l.8,.8l.7-.5l.8-4l.7,2.1l.7-2l.8,.8l.7-.1l.8-.1l.7,3.4l.7-2.9l.8,2.4l.7,.5l.7-3.7l.8-2l.7,6.7l.8-5.7l.7,2l.7,3.6l.8-2.4l.7-.2l.7,.1l.8,1.6l.7,2l.8-2.8l.7-1.7l.7,.2l.8,.3l.7-.9l.7,4.5l.8-2l.7-.8l.8-1.3l.7,1.8l.7-.8l.8,.9l.7-4.1l.8,4.3l.7,.2l.7-5.2l.8,4.8l.7,.8l.7-.6l.8,1.4l.7,.4l.8-1.8l.7-3.2l.7,2.7l.8-.4l.7-.7l.7,1.8l.8,2.2l.7-1.6l.8-.9l.7,1.3l.7,.8l.8-.7l.7-.3l.8,1.1l.7-1.4l.7,.6l.8-.8l.7-2.9l.7,2.3l.8,.7l.7,1.2l.8,.2l.7-2.3l.7,2.6l.8-2.8l.7,2.6l.7-2l.8,.4l.7-2.3l.8,2.9l.7-.1l.7-1.4l.8,.3l.7-3.6l.7,4l.8,.3l.7-.7l.8-2.2l.7,.2l.7-1.4l.8-.3l.7-6.2l.8-6.3l.7-10.6l.7-5.9l.8,4l.7,7.7l.7,8.4l.8,13.3v3H73.3Z"/>
<path d="M72.8,106.2V103.2l.7-9.5l.8-7.3l.7-3l.8-.5l.7-1.8l.7-1.1l.8-4.7l.7-4l.7-2l.8-3l.7-1.8l.8,1.8l.7,.9l.7,2.8l.8-1.8l.7,1.8l.7-1.8l.8,3.6l.7,1.2l.8-3.5l.7,0l.7,2.8l.8-3l.7-6.5l.7,4.2l.8-5.9l.7-4.4l.8,.5l.7,.7l.7-1.7l.8-2.8l.7-1.2l.8-6.3l.7-10.1l.7-8.8l.8,1.3l.7,8.3l.7,8.8l.8,7.7l.7,8.1l.8,4.2l.7,6.8l.7,2.8l.8,4.6l.7-1l.7,3.7l.8-1.7l.7,.9l.8-.3l.7,.5l.7,1.2l.8-1.1l.7-3.5l.8-5.1l.7-10.8l.7-19.1l.8-14.4l.7,12.2l.7,15.7l.8,4.5l.7,4.2l.8,1.8l.7,4.8l.7,3.6l.8,3.9l.7,6.1l.7-.2l.8,.1l.7,1.8l.8-3.3l.7,5.9l.7-3.7l.8,1l.7,2.1l.8,0l.7,1.1l.7-.5l.8,2.4l.7,0l.7-5.8l.8,6.8l.7-1.9l.8-.9l.7,4.4l.7-3.5l.8,3.3l.7,4.3l.7-5.4l.8,6.7l.7-6.2l.8-1.7l.7-2.3l.7,2.6l.8-.9l.7,1l.7,1.4l.8-2.2l.7,3l.8-1.3l.7,1.8l.7-.9l.8-1.4l.7,3.7l.8-2.7l.7-.3l.7-2.5l.8-4.3l.7-.3l.7-5.9l.8-4.6l.7,2l.8,5.8l.7,3l.7,4.1l.8,2.4l.7,2l.7,.2l.8-2.5l.7,3.8l.8,2.2l.7-1.6l.7-1.7l.8-.6l.7,1l.8-1.7l.7,4.7l.7-.5l.8-1.3l.7-.8l.7,4.8l.8-4.1l.7,3.3l.8-5.5l.7,1.6l.7-3.1l.8-.5l.7,3.2l.7,1.8l.8,1.7l.7-.9l.8-3.6l.7,1.6l.7,.7l.8,3.1l.7-2.4l.7-4.3l.8,4.4l.7-3.3l.8,6l.7-6.2l.7,5.3l.8,.9l.7-2.2l.8,1l.7-5.2l.7,4.2l.8-.1l.7,1l.7-3.1l.8-.9l.7,.7l.8,5.3l.7-2.8l.7-1.6l.8,3.9l.7-2.4l.7-2.3l.8-1.1l.7,2.2l.8-.8l.7,0l.7,1.2l.8,3.1l.7-6.3l.8,2.5l.7,1.8l.7,1.6l.8-6.8l.7,4.3l.7-1.2l.8,2.9l.7-1.3l.8,.5l.7-2.3l.7,3.9l.8-5.3l.7,3.9l.7-1.6l.8-.5l.7,3.4l.8-2.9l.7,4.3l.7-3l.8,2.3l.7-4l.7-.9l.8,5.3l.7-2.7l.8,2.3l.7-.1l.7-1.2l.8-2.4l.7-.2l.8,3.7l.7-.6l.7-3.7l.8,3.3l.7-4l.7-.2l.8,3l.7,3l.8-1l.7-2.4l.7,2.2l.8-.6l.7-.8l.7,1l.8,1l.7-.1l.8,.6l.7-2l.7,1.4l.8,.1l.7-4.1l.8-.1l.7,3.7l.7,.7l.8-1.2l.7-.6l.7-2.8l.8,3.3l.7,1.7l.8-1.1l.7-3.2l.7,3.3l.8-2l.7-.8l.7,3.8l.8-1.1l.7-.5l.8-1.4l.7,1.6l.7-.4l.8-1.2l.7,2.8l.7-3.7l.8-.9l.7,4.3l.8-1.1l.7-2.3l.7-.8l.8-2.1l.7-4.5l.8-4.8l.7-13.4l.7-6.1l.8,5.3l.7,8.4l.7,6.9l.8,13.3v3H72.8Z"/>
<path d="M72.4,107.2V104.2l.7-9.1l.8-7.8l.7-.5l.8-4.7l.7-1.4l.7-.1l.8-1.8l.7-4.6l.7-4.5l.8-2.3l.7-.4l.8,1.5l.7,1l.7,.7l.8-1.4l.7,1.5l.7,2.8l.8-2.3l.7,2.2l.8-1.1l.7-.1l.7-2l.8,.6l.7-4.9l.7-.7l.8-3.9l.7-1.2l.8-.3l.7-.6l.7-.3l.8-2.9l.7-4.2l.8-4.3l.7-9.7l.7-9.2l.8,2.2l.7,8.6l.7,7.5l.8,6.6l.7,8l.8,3.9l.7,5.7l.7,1.9l.8,4.7l.7,4.5l.7-1.9l.8,3l.7-.8l.8,.5l.7-.4l.7-.9l.8,1.5l.7-2.1l.8-5.7l.7-11.3l.7-18.7l.8-14.4l.7,12l.7,13l.8,5.7l.7,4.4l.8,1.9l.7,6.3l.7,3.8l.8,4.4l.7,3.5l.7,.6l.8,4l.7-3.1l.8,1.7l.7,1.6l.7-1.3l.8-1.6l.7,3.4l.8-1.7l.7,.5l.7-1.4l.8,6.2l.7-1.6l.7-1l.8-1.8l.7,3l.8-.8l.7,5l.7-1.8l.8-4.7l.7,4.4l.7-5.2l.8,6.4l.7-.9l.8,3l.7-4.8l.7,.9l.8-3.7l.7,4l.7,1l.8,2.5l.7-2.9l.8-2l.7,.3l.7-1l.8,.6l.7,1.4l.8-1.6l.7,.1l.7,.9l.8-5.7l.7-1.8l.7-4.1l.8-5.6l.7,1.7l.8,5.1l.7,3.9l.7,8l.8-2.8l.7-.6l.7,4.8l.8,2.2l.7-3.5l.8,.2l.7,.2l.7,3.1l.8-1l.7-1.3l.8-1.1l.7-3l.7,4.2l.8,2.1l.7,3.9l.7-7.4l.8,2.7l.7,.1l.8,2l.7-3.7l.7,5.6l.8-4.1l.7,0l.7-.4l.8-2.1l.7,3.1l.8-.4l.7-1.6l.7,5.3l.8-2.7l.7-.7l.7-1.9l.8,3.8l.7-3.4l.8,.9l.7,4.2l.7,0l.8-.1l.7-3.4l.8-.1l.7-1.1l.7-.1l.8,3l.7-3.5l.7,.6l.8,.8l.7,0l.8,3.9l.7-3.5l.7,3l.8,.4l.7-1.8l.7-1l.8,.4l.7,.7l.8,1.5l.7-2.6l.7,2.1l.8,1.5l.7-3.2l.8-3l.7,4.1l.7,1.5l.8-5.3l.7-.7l.7,4.4l.8-.1l.7-.9l.8-6l.7,6.2l.7-1.8l.8,1.2l.7,2.8l.7,.7l.8,.3l.7-3.6l.8,.8l.7-3.7l.7,4.5l.8-1.2l.7,.6l.7-.1l.8-4.8l.7,4.5l.8-2.6l.7,.5l.7,4.2l.8-2.8l.7,2.3l.8-1l.7-.1l.7,.4l.8,1.1l.7-4.4l.7,4l.8-2.1l.7-2.1l.8,2.4l.7-.9l.7-.7l.8,.6l.7-1.3l.7,4.3l.8-4.8l.7,4.2l.8-.1l.7,1.6l.7-.8l.8-.6l.7,.4l.8,1l.7-2.1l.7,.3l.8,2.1l.7-1.3l.7-.3l.8-.4l.7,.2l.8,.5l.7-2.5l.7,2.3l.8,.7l.7-1.4l.7,1.2l.8,.2l.7-.2l.8-1.5l.7-2.4l.7,3.1l.8,.1l.7-1.5l.7,1.1l.8,.9l.7-2.5l.8,1l.7-1.1l.7-2l.8-1.3l.7-3l.8-5.5l.7-12.3l.7-8.1l.8,5.1l.7,7.5l.7,6.6l.8,15.1v3H72.4Z"/>
<path d="M71.9,107.5V104.5l.7-9.8l.8-9.2l.7,.9l.8-1.4l.7-4.3l.7,.7l.8-4l.7-1.2l.7-6.4l.8-2l.7-1.9l.8,2.7l.7,1.3l.7,1.7l.8-2.3l.7,.5l.7-.7l.8,3.1l.7,.3l.8,.8l.7-1.1l.7-2.5l.8,.4l.7-2.6l.7,1.6l.8-8.3l.7,2l.8,.9l.7-4.1l.7-.3l.8-5.4l.7-.4l.8-5.4l.7-10.2l.7-8.8l.8,1.7l.7,8.3l.7,6.1l.8,8.8l.7,8.4l.8,4.8l.7,6.6l.7-.2l.8,6.2l.7,1.5l.7,1.3l.8,.5l.7,1.8l.8-.8l.7-1.2l.7,2.8l.8-3.2l.7-3.6l.8-5.4l.7-9.3l.7-19l.8-14.6l.7,12.8l.7,13.1l.8,7.8l.7,1.2l.8,3.9l.7,4.3l.7,3.7l.8,4.8l.7,3l.7,1.7l.8-2.2l.7,2.4l.8,1.5l.7,2.8l.7-3.9l.8,2.9l.7,2.7l.8-2.6l.7,2.4l.7-.9l.8-.1l.7,1.6l.7,1.3l.8-.8l.7-5.7l.8,7.7l.7,.7l.7-.5l.8,1l.7-1.7l.7,1.3l.8-2.4l.7,.5l.8-1.7l.7,2l.7-.4l.8-.1l.7,6.7l.7-6l.8,.9l.7,.8l.8-1.6l.7,1.3l.7-2.7l.8,.2l.7,3l.8-4.1l.7,3l.7-4.3l.8-3.4l.7-2.4l.7-3.2l.8-6.3l.7,1.5l.8,6.5l.7,4.6l.7,.6l.8,3.5l.7,4l.7-1.5l.8,.2l.7-.8l.8-2.1l.7,2.5l.7-.7l.8,5.4l.7-.9l.8-2.1l.7-.5l.7-3.9l.8,1.7l.7,6l.7-4.4l.8,3.7l.7-.7l.8-.9l.7,.3l.7-.5l.8,1.6l.7-2.9l.7,2.6l.8-.2l.7,1l.8-1.6l.7,2.1l.7,.2l.8-3.7l.7,.7l.7,.3l.8,.6l.7,2.3l.8,1l.7-5.2l.7,2.3l.8-1.1l.7,1l.8-1.6l.7,4.2l.7-4.4l.8,6l.7-4.3l.7-2.3l.8,2.1l.7,.2l.8,2.3l.7-3.7l.7,1.9l.8-1.3l.7,.2l.7,1.9l.8,.8l.7-2.8l.8,.2l.7,1l.7-.6l.8,2.4l.7-1.3l.8-1.5l.7,1.1l.7,2.3l.8-2.4l.7,1.8l.7-.4l.8-.9l.7-2.9l.8,5.5l.7-.2l.7-5.9l.8,5.3l.7-5l.7,.7l.8,5l.7-1.3l.8-2.3l.7-1.7l.7,3.6l.8-.6l.7,1.4l.7-5.4l.8,6.5l.7-2.3l.8-1.3l.7,1.1l.7,1.8l.8-2l.7,2.5l.8,.7l.7-6.3l.7,.3l.8,5.7l.7-1.5l.7-3l.8,3l.7,.8l.8-.4l.7,.3l.7-1l.8,2.3l.7-1.2l.7,.3l.8-.6l.7,.7l.8,.3l.7-2.8l.7,.4l.8,1.6l.7-.9l.8,1.1l.7-4l.7,2.9l.8-.8l.7,1.3l.7,1.1l.8-2.3l.7,.5l.8-1.5l.7,1.7l.7-.4l.8-.2l.7,1.1l.7,1.1l.8-3.2l.7,2.8l.8-.7l.7,.1l.7-1.9l.8,1.9l.7,1.8l.7-3l.8-2.2l.7,2.9l.8-4.3l.7,2.4l.7-1.4l.8-2.9l.7-2.9l.8-8.7l.7-8.6l.7-7.5l.8,4.6l.7,8.7l.7,6.9l.8,14.2v3H71.9Z"/>
<path d="M71.4,108.1V105.1l.7-10.7l.8-9.2l.7-1.7l.8-.7l.7,.3l.7-1.8l.8-3.6l.7-1.3l.7-5l.8-4l.7-.2l.8,1l.7,1.5l.7,1.4l.8-1.1l.7,1.6l.7-.2l.8,.7l.7,1.2l.8-.4l.7-1.3l.7,1.6l.8-1.8l.7,0l.7-6.9l.8-.1l.7-.3l.8-3l.7-.2l.7-3.9l.8-.2l.7-4.2l.8-4.2l.7-9.2l.7-9.2l.8,1.9l.7,7.8l.7,6.4l.8,9.8l.7,8l.8,3.7l.7,3.7l.7,6.6l.8,2l.7,2.8l.7-.2l.8,1.2l.7,1.8l.8-.2l.7-3.4l.7,3.7l.8-4.2l.7-.9l.8-7.2l.7-9.6l.7-18.1l.8-13.9l.7,12.3l.7,14.7l.8,5.5l.7,1.5l.8,6.5l.7,2.9l.7,1.8l.8,4.9l.7,5.3l.7,1.8l.8,1.1l.7,2.1l.8-5.2l.7,2.2l.7,1.6l.8,2.1l.7-1.6l.8,1l.7-4l.7,5.3l.8-.7l.7-1.6l.7,1.3l.8,2.2l.7,4.6l.8-7.5l.7,1.9l.7,2.4l.8-.6l.7,2l.7,.1l.8,1.3l.7-4.2l.8,.1l.7,.8l.7-1.2l.8,.6l.7,.9l.7,2.2l.8-3.1l.7-1.1l.8,1.1l.7-1.2l.7,3.1l.8,.7l.7-4.2l.8,2.7l.7-2l.7-.6l.8-2.2l.7-3.1l.7-5.1l.8-4l.7-.4l.8,6.6l.7,6.7l.7,2l.8,2.2l.7,.6l.7,3.9l.8-4.8l.7-1.7l.8,3.8l.7-1.6l.7,.4l.8,4l.7-5.1l.8,6.4l.7-2.3l.7-.4l.8-3.3l.7,2.5l.7,.6l.8,1.6l.7-1.8l.8,.1l.7-1.4l.7-1.4l.8,1.5l.7,1.6l.7,.4l.8-3.7l.7,3.1l.8,.5l.7-3.9l.7,.6l.8,2.2l.7,1.5l.7,1.1l.8-3.6l.7,3.3l.8-3l.7,3.8l.7-1.9l.8-.6l.7,.6l.8-.1l.7-.3l.7,3.3l.8,0l.7-2l.7-4.2l.8,4.2l.7,1.8l.8-.6l.7-1.4l.7-2.5l.8,3.8l.7-2.4l.7,.9l.8,1.2l.7,1.3l.8-1.7l.7,1.3l.7-2.7l.8,4.2l.7-5.4l.8,.9l.7,.4l.7-1.9l.8,1.9l.7,4l.7-2.7l.8-.8l.7,2.4l.8,1l.7-3.3l.7-.1l.8,2l.7-.3l.7,.6l.8,.1l.7-1l.8-2.4l.7,4.2l.7-1.1l.8-4.2l.7,2.8l.7,.4l.8-1.4l.7,4l.8,.1l.7-1l.7,.4l.8-2.1l.7-1.2l.8,2.7l.7,.6l.7-2.2l.8-.5l.7,.8l.7,.7l.8,1.1l.7-2.5l.8,.9l.7,2.4l.7-.4l.8-4.6l.7,.4l.7,1.9l.8,.4l.7,.2l.8,1.6l.7-1.1l.7-4.2l.8,5.9l.7-.4l.8-1.8l.7-1.6l.7,.2l.8,3.4l.7-1.4l.7,.3l.8,.5l.7-1.3l.8,1.2l.7-3l.7,1l.8,2.6l.7-1.9l.7,.9l.8,.6l.7-.4l.8-3.3l.7,3.1l.7-.1l.8,.7l.7-3.6l.7-3l.8,6.6l.7-1.8l.8-.5l.7-.3l.7-2.4l.8-1.5l.7-3.6l.8-8.2l.7-10.1l.7-7.6l.8,5l.7,9l.7,6.4l.8,14.2v3H71.4Z"/>
<path d="M71,108.7V105.7l.7-10.2l.8-8.5l.7-.2l.8-2l.7-1.4l.7-1.4l.8-2.2l.7-5.2l.7-3.1l.8-3.3l.7-.3l.8,2.2l.7,3.4l.7-.9l.8-1.7l.7-.8l.7,1.7l.8,2.8l.7-.5l.8-1l.7,0l.7-4.6l.8,2l.7-1.6l.7-1.8l.8-.4l.7-5.3l.8,2.3l.7-3.8l.7-.6l.8-1.8l.7-3.2l.8-4.3l.7-9l.7-10.2l.8,1.8l.7,8.2l.7,7.7l.8,7.5l.7,8.4l.8,4.6l.7,3.4l.7,8.2l.8-1.6l.7,1.6l.7,1.2l.8,3.5l.7-.8l.8,0l.7,0l.7-2l.8-.9l.7-1.7l.8-2.4l.7-12.4l.7-19.1l.8-13.8l.7,13l.7,12.2l.8,9.1l.7,2.2l.8-.3l.7,6.6l.7,6.3l.8,3.6l.7,.1l.7,4.1l.8-1.6l.7,1l.8,.4l.7-.8l.7,2.9l.8,2.3l.7,1.1l.8-2.7l.7,2.4l.7-4.4l.8,5.9l.7-5l.7,4.2l.8,0l.7,4.4l.8-3.7l.7-3.1l.7,6.5l.8-5.8l.7,1.2l.7-.1l.8,4.2l.7-5.5l.8,6l.7-5.8l.7,1l.8,6.3l.7-6.9l.7-.7l.8,4.2l.7,2.9l.8-2.7l.7,.1l.7-2.3l.8,3.2l.7-.5l.8-2.4l.7-.8l.7,1.7l.8-4.8l.7-2.4l.7-5.4l.8-5.2l.7,1.6l.8,5.7l.7,3.1l.7,4.3l.8,2l.7,.5l.7-1.2l.8,1.9l.7,.9l.8-1.1l.7,5.2l.7-4.8l.8,.4l.7,2.5l.8,2.8l.7,.4l.7,1.3l.8-5.4l.7,1.2l.7,1.8l.8-3.9l.7,4.2l.8-4.3l.7,.6l.7,.6l.8,3.6l.7,0l.7-2.4l.8-2.1l.7,4.6l.8-2.7l.7-1.4l.7,5.7l.8-7.8l.7,4.6l.7,.7l.8-1.5l.7,.8l.8,1.8l.7-.7l.7-.8l.8,1.9l.7-4.5l.8,.8l.7-.1l.7,5.2l.8-2.5l.7-2.2l.7,1.4l.8,3.7l.7-4.6l.8-3.6l.7,2.2l.7,2.5l.8,2.4l.7-4.8l.7,1.1l.8,2l.7,0l.8-2.5l.7,2.1l.7,1.3l.8,1.1l.7-1.7l.8-.1l.7,.5l.7-10.6l.8,12.3l.7,0l.7-1.2l.8-3.3l.7-2.5l.8,7l.7-1.3l.7-2.5l.8,2.9l.7-2.8l.7,2.1l.8-3.3l.7,2.3l.8-3.4l.7,6.4l.7-5.1l.8,3.3l.7-3.2l.7,3.7l.8-3l.7-.5l.8,1.7l.7,3l.7-.8l.8-.3l.7-.6l.8-2.6l.7,4.3l.7-1.8l.8-.3l.7,.1l.7,2l.8-4.8l.7,3l.8,1.6l.7-1.4l.7-2.8l.8,1.4l.7-1.3l.7,1.5l.8,2l.7-.2l.8,1.2l.7-1.8l.7,.1l.8,.3l.7,1.3l.8-4.4l.7,2.1l.7-4.4l.8,3.2l.7,2.6l.7-1.2l.8-3.2l.7,1.8l.8,2.2l.7,.6l.7-.3l.8-1.7l.7-1.2l.7,2l.8-.2l.7,1.7l.8-2.1l.7-.9l.7,3.2l.8-3.7l.7,1.9l.7-1.8l.8,.8l.7-1l.8-.2l.7-.7l.7,.1l.8-2.3l.7-2.6l.8-7.6l.7-12.8l.7-5.8l.8,4.1l.7,9l.7,5.8l.8,15.1v3H71Z"/>
<path d="M70.5,108.8V105.8l.7-10.8l.8-6.5l.7,1.3l.8-3.5l.7-3l.7-.3l.8-3.8l.7-2.8l.7-3.9l.8-4.6l.7-.5l.8,3.1l.7,1.7l.7-.7l.8,1.4l.7-.9l.7-1.3l.8,1.5l.7,2.5l.8,.4l.7-2l.7,1.8l.8-2.5l.7-2.1l.7,.4l.8-7.5l.7-1.2l.8-.2l.7,1.7l.7-2.9l.8-2.2l.7-1.8l.8-7.7l.7-7.8l.7-9.5l.8,1.5l.7,8.1l.7,6.5l.8,9.9l.7,5.4l.8,6.2l.7,5.8l.7,1.9l.8,4.8l.7-1.5l.7,4.8l.8-1.2l.7-.1l.8,1.7l.7-.8l.7-1.6l.8,1.5l.7-4.5l.8-4.3l.7-10.1l.7-19.1l.8-14.4l.7,13.3l.7,12.4l.8,8.3l.7,2l.8,4.3l.7,.8l.7,5.7l.8,2.7l.7,3.7l.7,2.7l.8-2.1l.7,2.5l.8,.6l.7-.2l.7-.3l.8,1.3l.7,1.6l.8,3.9l.7-7.2l.7,8l.8,2.4l.7-2.7l.7-5.4l.8,1.9l.7,4.3l.8-1.7l.7,.9l.7,4.4l.8-3.4l.7-1.3l.7-1.8l.8,5.4l.7,2.4l.8-1.4l.7-4.1l.7,.6l.8-.1l.7,.1l.7,1.1l.8,2.2l.7-3.9l.8,.2l.7-.5l.7-1.3l.8,4.5l.7,1.5l.8-1.6l.7-6.9l.7,3.3l.8-3.7l.7-2.9l.7-5.7l.8-5.9l.7,3.8l.8,5.5l.7,5.1l.7,1.9l.8,1.2l.7,3.4l.7-3.1l.8,.7l.7,1.6l.8,1.4l.7,.5l.7,3l.8-4.6l.7,3.8l.8-1l.7-3.1l.7,4.3l.8-.8l.7-2.9l.7-2.1l.8,5.7l.7-3.9l.8,4l.7-2.3l.7-.1l.8,3.6l.7-4.7l.7-1.7l.8,3.9l.7-.4l.8,3.2l.7-6.4l.7,3.8l.8,3l.7-4.5l.7,5l.8-1.7l.7,2.6l.8-7l.7-1.8l.7,6.3l.8,0l.7-.1l.8,0l.7-2.4l.7-1.9l.8,5.4l.7-3.1l.7,4.8l.8-7.1l.7,3.6l.8,1.3l.7-4.8l.7,3.6l.8-3.2l.7,.7l.7-1.3l.8,5.5l.7-1.9l.8-.6l.7,1.3l.7-3.8l.8,5l.7-3.7l.8-.8l.7,5.3l.7-.1l.8-.1l.7-.8l.7-2l.8,1.3l.7-.5l.8,1.2l.7-.8l.7-1.2l.8-.5l.7,3.4l.7-1.5l.8,1.5l.7-1.3l.8,2l.7-4.4l.7,.7l.8,1.8l.7,1.2l.7-.4l.8,.5l.7,.1l.8-5.1l.7-3.6l.7,9.3l.8,.1l.7-3.4l.8,0l.7,2.4l.7-.8l.8-1.3l.7,1l.7-2.9l.8,4.2l.7-1.2l.8,.2l.7,1.3l.7-.9l.8,.4l.7-3.4l.7,3l.8-.1l.7,1.1l.8,.2l.7,.2l.7-1.6l.8-4.1l.7,1.6l.8,1.9l.7-3.1l.7,1.4l.8,1.8l.7,.8l.7,1l.8-1.9l.7,1.2l.8-.4l.7,.7l.7-5.3l.8,3.8l.7-.7l.7,.6l.8,1.5l.7-2.1l.8-1.4l.7,3l.7-1.9l.8-1.3l.7,3.2l.7-1.6l.8,1.8l.7-3.2l.8,1.6l.7-2.3l.7,.4l.8-3.7l.7-1.9l.8-6.3l.7-11.9l.7-8l.8,6.2l.7,5.8l.7,6.9l.8,15.8v3H70.5Z"/>
<path d="M70,109.7V106.7l.7-10.6l.8-9.2l.7-.9l.8,3.2l.7-4.9l.7-.9l.8-2.4l.7-3l.7-4.7l.8-3.9l.7-.4l.8,1.9l.7,2.9l.7-.4l.8,.1l.7-2.6l.7,2.2l.8,3.2l.7-2.8l.8-1l.7,4.7l.7-6.1l.8,.9l.7-.9l.7,.5l.8-4.6l.7-1.6l.8-2.2l.7-.2l.7-2.9l.8-1.5l.7-2.3l.8-4.7l.7-10.4l.7-7.5l.8,1.2l.7,8l.7,7.7l.8,6l.7,8.9l.8,7.1l.7,2.7l.7,3.4l.8,3.3l.7,2.2l.7,1.5l.8-.6l.7,1.4l.8-1.4l.7-.6l.7-2.3l.8,1.7l.7-2.3l.8-5.9l.7-10.6l.7-18.6l.8-12.8l.7,12.7l.7,11.6l.8,9.7l.7,2.1l.8,4.4l.7,2.1l.7,5l.8,7.8l.7-3.8l.7,4.7l.8-2.2l.7,.8l.8,2.1l.7-2.1l.7,3.9l.8-1.4l.7,1.2l.8,0l.7-.1l.7,1.5l.8,1.9l.7-2l.7,2.7l.8-2.3l.7,4l.8,1l.7-7.5l.7,8.1l.8-4.6l.7-1.7l.7,2.2l.8,.8l.7,1.3l.8,0l.7,1.8l.7-3l.8-.3l.7,4.6l.7,1.8l.8-11.6l.7,7.2l.8,1.8l.7-.2l.7-3.7l.8-1l.7,3.8l.8-1.6l.7-2.1l.7,.4l.8-3l.7-3.4l.7-5.3l.8-4.7l.7,2.2l.8,6.2l.7,5.5l.7,1.5l.8,3.1l.7,.3l.7,.4l.8,.3l.7-1.6l.8,1.4l.7,.7l.7-2.9l.8,3.3l.7-3.7l.8,4.2l.7-.8l.7,3.2l.8-2.3l.7,2.3l.7-5l.8,2.7l.7-2.6l.8,2.1l.7,3.4l.7,2.9l.8-4.8l.7,1.1l.7-.2l.8-1.7l.7,.5l.8,.9l.7-1.2l.7,2.2l.8,.5l.7-.8l.7-3.4l.8,1l.7,2.2l.8-1.7l.7-.4l.7,3.7l.8-6.4l.7,5l.8,1.6l.7-2.5l.7-.2l.8-2.5l.7,.2l.7,3.8l.8,.3l.7-.5l.8,0l.7,1.5l.7-1.8l.8-3l.7,.8l.7,2.7l.8,2.1l.7-4.1l.8-1.2l.7,5.8l.7-4.2l.8-2.7l.7,1.5l.8,1l.7,1.6l.7,1.2l.8-2l.7-1.9l.7,1.1l.8-.2l.7,2.1l.8,.3l.7-3.5l.7,2.9l.8-1.8l.7,3.1l.7,1.3l.8-2.6l.7-.2l.8-.3l.7,2.9l.7-2.6l.8,1.4l.7,2.1l.7-2.5l.8-1.1l.7-1.9l.8,3.9l.7-.9l.7,1.5l.8-6.3l.7,4l.8,3.3l.7-3.8l.7-.3l.8-.4l.7,0l.7,3.4l.8,.4l.7-2l.8,.8l.7,.8l.7-.9l.8-1.3l.7,.2l.7-1.4l.8,1.7l.7,1.3l.8,1.3l.7-.9l.7,.9l.8-1.2l.7,1.3l.8-4.1l.7,2.7l.7-1.3l.8,.9l.7,.7l.7-1.3l.8,1.4l.7,.2l.8-3.4l.7,3.7l.7-3l.8,.2l.7,1.5l.7,0l.8-2.1l.7,1.4l.8-4.8l.7,4.4l.7,2.7l.8-6.5l.7,3.3l.7,1.9l.8-.4l.7,1.8l.8-.2l.7-2.5l.7-2l.8-2.1l.7-2.7l.8-7.5l.7-11.7l.7-7.8l.8,6.7l.7,6.9l.7,6.3l.8,14.8v3H70Z"/>
<path d="M69.5,110.1V107.1l.7-10.4l.8-7.4l.7-.6l.8-.9l.7-2.2l.7-2.3l.8-.8l.7-5l.7-3.3l.8-4.1l.7-1.5l.8,4.1l.7,1.1l.7,.4l.8-2.2l.7,1.2l.7,2.9l.8,1.1l.7-1.8l.8-.1l.7-1.6l.7,1.6l.8-2.9l.7,.8l.7-6.1l.8-1.2l.7-.3l.8-.9l.7-3.3l.7,.5l.8-1.3l.7-2.4l.8-5.4l.7-10.2l.7-9.2l.8,1.9l.7,8l.7,6.5l.8,8.9l.7,8.2l.8,6.7l.7,1.3l.7,4.6l.8,2.3l.7,1.4l.7,1.7l.8,3.7l.7-.6l.8-2.1l.7-.9l.7-2.1l.8,2.2l.7-.2l.8-8.8l.7-8.5l.7-19.6l.8-14.3l.7,13l.7,12.1l.8,7.8l.7,2.3l.8,4.4l.7,.5l.7,7.1l.8,5.8l.7-1.1l.7,7.1l.8-1l.7-1.2l.8,.5l.7,2.2l.7-5.1l.8,.4l.7,5.9l.8-2.1l.7,3l.7,.2l.8-2.6l.7,2.4l.7,.9l.8-.1l.7,3.1l.8-5.1l.7,4.6l.7-4.4l.8,4.1l.7,.1l.7-4.1l.8,2.9l.7,1.9l.8-.1l.7-2.4l.7-2.7l.8,2.8l.7,2.3l.7,1.6l.8-1l.7-1.2l.8-.8l.7,1.7l.7-3.8l.8,4l.7-.7l.8-2.6l.7-.6l.7,.1l.8-3.6l.7-1l.7-7.6l.8-4.7l.7,1.7l.8,6.8l.7,2.6l.7,4.8l.8-.2l.7,3.4l.7,0l.8-.1l.7,4.6l.8-2.5l.7-3.6l.7,9.4l.8-6.5l.7-1l.8,1.4l.7,.4l.7-2.5l.8,2.4l.7,5l.7-2l.8-1.3l.7-.9l.8,1.4l.7-.7l.7-3.8l.8,7l.7-5.8l.7,.5l.8,.8l.7,1.4l.8-.1l.7-.6l.7,.3l.8,2.2l.7-3.3l.7,3.6l.8-1.7l.7,.7l.8,1.8l.7-3.8l.7,1.5l.8,2.5l.7-2.4l.8,2.9l.7-6.1l.7,2l.8-3.2l.7,5.7l.7-2.8l.8,3.8l.7-.3l.8-1.6l.7-1.1l.7-1l.8,2.6l.7-3l.7,.4l.8,4.1l.7-1.5l.8,1.6l.7-5.7l.7,5l.8-3.1l.7,0l.8,2.6l.7,.5l.7-1.8l.8,2.5l.7,1.1l.7-.6l.8-2.8l.7,.3l.8-3.4l.7,5.9l.7-3l.8,3.6l.7-5l.7,1.1l.8,1.2l.7-2.9l.8,4.1l.7,.4l.7,1.2l.8-.9l.7-1.6l.7-1.2l.8-1.3l.7,3.4l.8,1.1l.7-.9l.7,.3l.8,.1l.7-.1l.8,1.1l.7-1.8l.7,1l.8-.7l.7,.9l.7-1.5l.8-.9l.7-.1l.8,2.6l.7,.2l.7-.3l.8,.2l.7,.3l.7-.7l.8-1l.7-1.2l.8,1.8l.7,1.2l.7,.1l.8-3.4l.7-2.2l.8,4.7l.7-.1l.7,.2l.8-.4l.7-.1l.7-5.8l.8,6.8l.7-1.2l.8,1.5l.7-2.5l.7,1.9l.8-2.4l.7,2.8l.7-6.2l.8,4.1l.7,.8l.8-2l.7,2.5l.7,1l.8-3.2l.7,2l.7-2.9l.8,2.6l.7-3.5l.8,1.2l.7-.6l.7-.9l.8-1.4l.7-3.4l.8-7.4l.7-12.2l.7-5.9l.8,3l.7,8.3l.7,8.6l.8,13.9v3H69.5Z"/>
<path d="M69.1,110.8V107.8l.7-10l.8-11.3l.7,1.4l.8,1.6l.7-3.4l.7-2.2l.8-3.1l.7-1.9l.7-3.7l.8-3.5l.7-1.5l.8,1.8l.7,4l.7-1.6l.8,.2l.7-1.4l.7,.4l.8,2.6l.7,.4l.8,2.6l.7-3.1l.7-3l.8,2l.7-3.2l.7-2.8l.8-5.8l.7,3.4l.8-2l.7,0l.7-2.8l.8-1.6l.7-.6l.8-7.1l.7-8.7l.7-9.4l.8,1.4l.7,8.6l.7,8.2l.8,7.6l.7,5.5l.8,4.7l.7,3.3l.7,7.1l.8,1.1l.7,2.4l.7,2.7l.8,.4l.7,1.2l.8-2.1l.7-.5l.7-.4l.8-2.5l.7,1.1l.8-6.4l.7-10.2l.7-19.3l.8-13.8l.7,12.4l.7,14.2l.8,7.3l.7,1.1l.8,5.6l.7,4.7l.7,4.2l.8-.1l.7,2.4l.7,4.9l.8-3.8l.7,3.6l.8,3.8l.7-3.8l.7,3l.8,.9l.7,2.9l.8-4.4l.7,.2l.7,3.8l.8-3.1l.7,1l.7,0l.8,.2l.7,3.3l.8-2.2l.7-.1l.7,2.6l.8-.5l.7,2.2l.7-3l.8,3l.7-3.3l.8,.8l.7,.7l.7-1.6l.8,2l.7-4.3l.7,2.8l.8,3.4l.7-1.4l.8-1.8l.7-2.7l.7,4.3l.8-4l.7,2.2l.8-2.3l.7,2.3l.7-1l.8-2.6l.7-3.8l.7-4.5l.8-4.6l.7,.6l.8,5.3l.7,5.4l.7,3.3l.8-.4l.7,5.4l.7-3.3l.8,1.4l.7-.5l.8,.8l.7-1l.7,1l.8,1.4l.7-1.8l.8,4.1l.7-2.4l.7-.3l.8,4.4l.7-4.5l.7,.2l.8-.8l.7,1.9l.8-2.4l.7,.6l.7,.8l.8,4l.7-2.7l.7-.4l.8,.6l.7,2.4l.8-4.2l.7,2.9l.7-.5l.8-1.1l.7-1.7l.7,3.4l.8,1.4l.7-3l.8,.4l.7,4.6l.7-2.7l.8-1.5l.7,4.1l.8-6.4l.7,5.3l.7-4.4l.8,4.1l.7-1.4l.7,.7l.8-.7l.7,2.8l.8-1.9l.7-3.4l.7,.9l.8-3.4l.7,7.6l.7-6.2l.8,2.9l.7,3.1l.8,.3l.7-1.9l.7-1.3l.8,1.3l.7-4.3l.8,3.5l.7,1.3l.7,.6l.8,.5l.7-2.2l.7,.2l.8,1.4l.7-2.4l.8,2.3l.7-.4l.7-3.4l.8-.1l.7,3.3l.7-4.6l.8,4.8l.7-3.5l.8,2.2l.7,1.4l.7-.8l.8,.7l.7-1.2l.7,.7l.8,.1l.7,1.8l.8-3l.7-1l.7,4.3l.8-2.2l.7-1.9l.8,.1l.7,3.7l.7-7.2l.8,7.2l.7-3.3l.7,.8l.8-4.9l.7,7.2l.8-4.2l.7,1.8l.7,3l.8-1.9l.7,1.8l.7-2.2l.8,.1l.7-.2l.8-.8l.7,.7l.7-1.6l.8,2.1l.7,1.9l.8-3.3l.7-.6l.7,1.2l.8-1.4l.7,1l.7,2.3l.8,.7l.7-.8l.8-3.2l.7,1.8l.7-1.2l.8,2.6l.7,0l.7,.8l.8-6.5l.7,2.7l.8,.4l.7,.2l.7,1.2l.8,.2l.7,.3l.7-1.8l.8,1l.7-.8l.8-1.3l.7-.2l.7-.9l.8-1.7l.7-3.5l.8-7.3l.7-12.1l.7-6.9l.8,6.7l.7,7l.7,6.7l.8,14.7v3H69.1Z"/>
<path d="M68.6,110.9V107.9l.7-10l.8-9.4l.7,.8l.8,.5l.7-2.1l.7-3.5l.8-2.4l.7-2.8l.7-3.7l.8-4.1l.7,.3l.8,2l.7,1.2l.7,1.1l.8-2l.7,.8l.7,.8l.8,1.1l.7-1.7l.8-.3l.7,.5l.7,1.7l.8-2.2l.7-3l.7-2.5l.8,.2l.7-3.2l.8,1.1l.7-3.2l.7-2.4l.8-.3l.7-4.2l.8-3.4l.7-10.7l.7-7.8l.8,1.7l.7,7l.7,8.6l.8,7.7l.7,5.3l.8,6.8l.7,3.6l.7,5.4l.8-1l.7,3.3l.7,2.5l.8,.6l.7,1.7l.8-.8l.7,.1l.7-2.7l.8-1.3l.7-1.3l.8-5l.7-10.4l.7-18l.8-13.6l.7,11.6l.7,14.6l.8,5.5l.7,4l.8,4.1l.7,2.6l.7,6.1l.8,5.3l.7,.8l.7,2.1l.8,1.5l.7-.6l.8-2.7l.7-2.7l.7,1.2l.8,4.7l.7-2.7l.8,3.4l.7-.2l.7,2.9l.8-.7l.7,3.8l.7-7l.8,5.8l.7-2.6l.8,2.7l.7-1.6l.7,3.2l.8-1.4l.7-2.6l.7,.7l.8,5.5l.7-5.8l.8,4.6l.7-3.2l.7-.4l.8,2.5l.7-.7l.7,0l.8-1.4l.7-1l.8-.8l.7,1.9l.7-3.1l.8,5.2l.7-5l.8,3l.7-2.3l.7,.2l.8-2.3l.7-2.4l.7-6.3l.8-5.5l.7,2.7l.8,5.8l.7,4.5l.7,2l.8,2.8l.7,.9l.7,.3l.8-1.4l.7,.9l.8,4l.7-.6l.7-.9l.8-1.6l.7-.2l.8,2.6l.7-4.8l.7,5l.8-3.2l.7,.1l.7-.4l.8,3.1l.7-.7l.8,4.5l.7,.7l.7-2.5l.8-2.7l.7-.7l.7,2.5l.8-2.4l.7,1.1l.8-2l.7,6.7l.7-1.7l.8,.4l.7,.2l.7-5.7l.8,5.5l.7-.1l.8-.9l.7-2.7l.7,2.9l.8-2.5l.7,.5l.8,2.6l.7,1.9l.7-1.3l.8,.7l.7-6.1l.7,5.1l.8,.8l.7-3.1l.8,.8l.7,2.1l.7-4.3l.8,.5l.7,1.4l.7,2.1l.8,.4l.7,1l.8-3.6l.7,0l.7,2.9l.8-2.1l.7-6.9l.8,9.4l.7,.6l.7-4.1l.8,2.2l.7,.1l.7-2.3l.8,1.7l.7-2.4l.8,1.1l.7-1.4l.7,2.3l.8,1.4l.7-3.9l.7,4.9l.8-4.2l.7,1.7l.8,3.1l.7-2.6l.7-1.7l.8,4.1l.7-2.3l.7,1.8l.8,.5l.7-.7l.8-4l.7,1.2l.7,1.6l.8,.2l.7-.5l.8-.3l.7,.3l.7,1.1l.8-2.6l.7,3.8l.7-3l.8-.3l.7,3.1l.8-1.2l.7-.1l.7,1.2l.8-2.4l.7,1.8l.7,0l.8,.9l.7-.9l.8,.8l.7-1.5l.7-2.8l.8,.7l.7,1.2l.8,1.8l.7-3.1l.7,.3l.8-2.5l.7,3.5l.7,.9l.8,.7l.7-3.1l.8,4l.7-.8l.7-5.7l.8,2.7l.7,2l.7,0l.8-2.9l.7,4.2l.8-2.6l.7,1l.7,1.7l.8-.3l.7-3.9l.7-.4l.8,3.6l.7-4l.8,3.5l.7-2.3l.7-.9l.8-.9l.7-4.5l.8-6.2l.7-10.3l.7-8.2l.8,5.1l.7,7.9l.7,6.5l.8,14.3v3H68.6Z"/>
<path d="M68.1,111.4V108.4l.7-9.6l.8-11l.7-.5l.8,.2l.7-2.2l.7-.5l.8-2.4l.7-2.6l.7-4.4l.8-3.9l.7,.3l.8,2.7l.7,1.5l.7,.2l.8,.9l.7-1.2l.7-1l.8,5.2l.7-2.7l.8-1.7l.7,2.4l.7-2.7l.8-.5l.7-.6l.7-1.2l.8-4.6l.7-2.1l.8,.6l.7-1.3l.7-4l.8-.8l.7-1.2l.8-5.8l.7-8.6l.7-8.4l.8,1l.7,7.3l.7,7.3l.8,7.7l.7,6.9l.8,6.4l.7,1.7l.7,5.7l.8,2.5l.7,1.5l.7,3.6l.8-2l.7-.2l.8,.8l.7-.1l.7-3.6l.8,3.3l.7-2.9l.8-5.2l.7-11.6l.7-17.4l.8-14.8l.7,12.5l.7,14.8l.8,7.9l.7-.4l.8,8.5l.7,2.3l.7,.2l.8,5l.7,4.5l.7,2l.8,2.5l.7-3.7l.8,3.8l.7-1.8l.7-1.7l.8,3l.7-.2l.8-2.4l.7,7.2l.7-3.1l.8-2.7l.7,4.4l.7,.9l.8-1.3l.7,4.6l.8-3.1l.7-1.1l.7,1.9l.8-4.3l.7,7.8l.7-4.7l.8,.4l.7-.2l.8,3.6l.7-6.3l.7,3.3l.8-.2l.7,.8l.7,1l.8-.5l.7,.3l.8-.8l.7-2.9l.7,1.4l.8,2.5l.7-1.2l.8-1l.7,.1l.7-2.7l.8-1.5l.7-1.6l.7-6.8l.8-3.7l.7,1.1l.8,6l.7,4.8l.7,1.5l.8,2.8l.7-1.9l.7,2.9l.8-.7l.7,2.7l.8-4.2l.7,5.4l.7,.5l.8,2.1l.7-6.9l.8,1.3l.7,3.3l.7,3.2l.8-2.1l.7-1.7l.7-1.6l.8-.3l.7,.6l.8,1.5l.7,1.5l.7,2.5l.8-6.5l.7,5l.7-2.3l.8-2.2l.7,6.4l.8-3l.7-1.6l.7,3.2l.8,.4l.7-5.5l.7,4.4l.8-.6l.7-3.3l.8,3.1l.7-2.9l.7,6.1l.8-4.7l.7-3.1l.8,7l.7-.3l.7-3.2l.8-2.4l.7-.5l.7,6.6l.8,.7l.7-1.5l.8-5.4l.7-.7l.7,3.6l.8-.2l.7,2.9l.7-2.6l.8,2.1l.7-1.4l.8,2.6l.7-1.2l.7-2l.8-.3l.7,4.5l.8-8.5l.7,2l.7,2.9l.8-1.7l.7,4.6l.7-3.9l.8-2.6l.7,6.9l.8-1.3l.7,.2l.7-2.2l.8,.2l.7,3.4l.7-2.5l.8-.6l.7-1.7l.8,3.8l.7-2.7l.7,2.2l.8-1.8l.7-2l.7,3.9l.8,1.1l.7-1.5l.8-.6l.7-1.9l.7,4.3l.8-2.4l.7-2.7l.8,3.2l.7-.5l.7-.5l.8-.3l.7-.6l.7,.8l.8,.5l.7,.2l.8-3.5l.7,5.2l.7-2.3l.8,1.7l.7-.5l.7-3.1l.8,1.7l.7,2.1l.8,.8l.7-5.2l.7,5.2l.8-1.4l.7-1l.8,1.4l.7,.4l.7-1.2l.8-.5l.7,1.2l.7-.6l.8,.3l.7,.4l.8-.3l.7-2.8l.7,2.2l.8-1.3l.7-.3l.7-2l.8,4.4l.7-1.8l.8,3l.7-5.4l.7,5.2l.8-.3l.7,.3l.7-4.2l.8-.6l.7-3.6l.8,6.3l.7-1.1l.7-1.7l.8-1.7l.7-3.4l.8-7.5l.7-11.6l.7-6.6l.8,6.4l.7,5.9l.7,6.7l.8,15.4v3H68.1Z"/>
<path d="M67.6,112.1V109.1l.7-11.6l.8-5.7l.7-3.6l.8,2.2l.7-4.3l.7,1.5l.8-3.4l.7-4.9l.7-3.4l.8-3.4l.7-.1l.8,2l.7,2l.7,1.1l.8-1.6l.7-.9l.7,2.5l.8-.4l.7-1.2l.8,4.7l.7-1.9l.7-1.1l.8-1.5l.7-1.9l.7-1.5l.8-4.1l.7-1.1l.8,.4l.7-3.3l.7-.9l.8,.1l.7-2.1l.8-6.8l.7-8.8l.7-8.8l.8,2l.7,7.5l.7,7l.8,8.2l.7,6.8l.8,4l.7,4.1l.7,3.6l.8,3.7l.7,3.7l.7-1.1l.8,.1l.7,.5l.8-.6l.7-.1l.7-.5l.8,.3l.7-3.4l.8-3.4l.7-12.5l.7-17.8l.8-13.2l.7,12.3l.7,15.7l.8,6l.7,2.4l.8-.6l.7,9.1l.7,1.7l.8,4.8l.7,3.1l.7-.1l.8,5.8l.7-5l.8-1.8l.7,3.2l.7,.7l.8-.1l.7-.4l.8,3.2l.7-.5l.7-.2l.8,2.4l.7-1.1l.7,.5l.8-.5l.7,3.9l.8-.7l.7-.1l.7-3.2l.8,2.1l.7,4.2l.7-.6l.8-6.8l.7,3.5l.8,3.6l.7-.7l.7-2.2l.8-2.7l.7-.3l.7,4.2l.8-.1l.7-4.4l.8,5.6l.7-4.9l.7,2.2l.8,.3l.7-2.3l.8,1l.7,1.3l.7-.4l.8-4l.7-3.8l.7-5.7l.8-2.2l.7-.6l.8,6l.7,3.6l.7,3.3l.8,2.4l.7,.7l.7,.7l.8,2.3l.7-.5l.8-.2l.7,1.3l.7,2.2l.8,.4l.7-4l.8,.1l.7,1l.7,2.8l.8-4.1l.7,2.7l.7,3.7l.8-7.6l.7,6.5l.8-7.8l.7,3.7l.7,2.1l.8,3.9l.7-3.3l.7-4.6l.8,.4l.7,2.3l.8,4.3l.7-2.8l.7-.2l.8-1.5l.7,1.3l.7-1l.8,4.3l.7-2.1l.8-4.4l.7,6.2l.7-5l.8-2.9l.7,3.6l.8,4.4l.7-5.6l.7,6.6l.8-4.6l.7,1.6l.7-3.4l.8,.1l.7,2.2l.8-3.4l.7,1.8l.7,3.1l.8,1.1l.7-7.3l.7,6.2l.8-1.7l.7,1.1l.8,.8l.7,2.4l.7-3l.8,0l.7-2.3l.8,3.2l.7,2.1l.7-.9l.8-2.1l.7-.6l.7-1l.8,2.4l.7-1.9l.8,.9l.7-3.3l.7,3.8l.8-.4l.7-.9l.7-1.3l.8,4.6l.7-.9l.8-.4l.7,.2l.7-3.5l.8,.5l.7,2.3l.7-7.1l.8,4.5l.7-1.6l.8,1l.7,1.5l.7,3.7l.8-5l.7,2.4l.8,2.9l.7-2l.7-1.5l.8-.4l.7,1.7l.7,1.5l.8-2.7l.7,3.3l.8-1.4l.7-1.8l.7,2.4l.8-1.5l.7,.3l.7,2.2l.8-.6l.7-.8l.8-1.7l.7,1.6l.7-2.1l.8,1.8l.7,.6l.8-1.5l.7,1.6l.7-.8l.8-2l.7,3.4l.7-3.6l.8,3.8l.7-.9l.8-.4l.7,1l.7-4.5l.8,2.6l.7-2l.7,3.6l.8,1l.7-3l.8-.8l.7-.1l.7,2.8l.8-2.3l.7,1.1l.7-.5l.8-1l.7,1.3l.8,2.5l.7-3.4l.7-.8l.8-1.9l.7-4.3l.8-7.8l.7-10.5l.7-6.7l.8,5.3l.7,8.3l.7,5.1l.8,15v3H67.6Z"/>
<path d="M67.2,112.7V109.7l.7-9.5l.8-9.1l.7,1l.8-1.9l.7-.8l.7-3.5l.8-.1l.7-6.6l.7-2.7l.8-3.3l.7,0l.8,2.7l.7,2.1l.7-1.2l.8,.1l.7-1.7l.7-.7l.8,3.7l.7-.2l.8,1.5l.7,.5l.7-2.3l.8-3.7l.7,.1l.7-2.1l.8-1.7l.7-1.9l.8-1.8l.7,.3l.7-1l.8-2.1l.7-2.9l.8-5.2l.7-7.9l.7-9.9l.8,1.9l.7,9.2l.7,6.8l.8,6.7l.7,7.9l.8,3.9l.7,4l.7,3.7l.8,3.1l.7,1l.7,4.2l.8,1.9l.7-3l.8-2l.7,1.1l.7-2.6l.8,.4l.7-.1l.8-6.3l.7-11.4l.7-17.6l.8-14.1l.7,12.4l.7,15.3l.8,4.8l.7,4.5l.8,1.2l.7,5.4l.7,5.8l.8,2.7l.7,3.7l.7-4.4l.8,6.9l.7,.2l.8-3.6l.7,.9l.7,.3l.8,3.9l.7,.6l.8-1.1l.7,0l.7-.9l.8,.6l.7,1.5l.7-.3l.8,5.4l.7,0l.8-1.3l.7-1.3l.7,1.5l.8-.4l.7-1.1l.7,1.7l.8-1l.7-2.4l.8,1.3l.7,1.9l.7-1l.8-.6l.7,.7l.7-1.5l.8,4.9l.7-5l.8,3.9l.7-3.2l.7,3.8l.8-4.7l.7,.1l.8,2.1l.7-2.8l.7,.4l.8-3.9l.7-1.8l.7-5.1l.8-4.3l.7,1.2l.8,5.2l.7,4.2l.7,4.4l.8,1.4l.7,2.2l.7,.2l.8-.4l.7-.6l.8-.5l.7,2.8l.7,1.5l.8-5.6l.7,3.6l.8,.9l.7-1l.7,.6l.8-1.5l.7,.4l.7,3.8l.8-1.7l.7-2.1l.8,2l.7-2.1l.7,4l.8-5.4l.7,2.4l.7,4.2l.8-5.6l.7,4.5l.8-2.6l.7,.2l.7-.4l.8-.6l.7,5.5l.7-3.2l.8,1.3l.7-.8l.8-1.4l.7-5.9l.7,6.2l.8,2.1l.7-7.9l.8,4.2l.7,2l.7-4.4l.8,1.9l.7,.3l.7,5l.8-6.4l.7,4l.8-1.3l.7-.2l.7-2.5l.8,.7l.7,3.6l.7,.3l.8,1l.7-1.5l.8-1l.7,.3l.7,.7l.8,1.6l.7-.2l.8-2.2l.7-1.2l.7,.7l.8,2.2l.7-2.2l.7-1.1l.8,4.2l.7,.7l.8-4l.7-2.1l.7,3l.8,.2l.7,.8l.7-2.5l.8,5.5l.7-3.2l.8,1.2l.7,.1l.7-.1l.8-.7l.7-.1l.7,.6l.8,.2l.7-1.6l.8,3l.7,.5l.7-3.5l.8,0l.7-.7l.8,3.8l.7-4.3l.7,.5l.8,1.5l.7,2.7l.7-3.8l.8-.8l.7,3.2l.8-1.5l.7-.1l.7-.7l.8,.4l.7,0l.7,2.6l.8-.1l.7-.5l.8-2.7l.7,.6l.7,.6l.8-2.9l.7,5.8l.8-5.1l.7,5l.7-1.8l.8,.9l.7,.1l.7-.5l.8-.5l.7-1l.8-.4l.7,2.7l.7,.3l.8-3.2l.7-1.3l.7,.7l.8,.9l.7,1.5l.8-1.9l.7,2.7l.7-3.7l.8-.7l.7,3.5l.7,1.1l.8-1.5l.7-2.1l.8-.6l.7,1.3l.7-2.1l.8-.9l.7-3.6l.8-8l.7-11.1l.7-5.2l.8,4.2l.7,6.2l.7,8.6l.8,13.5v3H67.2Z"/>
<path d="M66.7,113.5V110.5l.7-9.9l.8-7.5l.7-4.1l.8,1.3l.7-.1l.7-3.3l.8-2.2l.7-3.3l.7-3.9l.8-3.6l.7,.8l.8,2.3l.7,1.2l.7,1l.8-2.7l.7-1.9l.7,1.9l.8,2.3l.7,.8l.8,1.4l.7,.6l.7-3.4l.8,1.8l.7-4.3l.7-2l.8-4.3l.7-.1l.8,.2l.7-.5l.7-1.4l.8-3l.7-2.8l.8-5.2l.7-9.3l.7-7.7l.8,1.6l.7,7.1l.7,7.7l.8,5.1l.7,8.9l.8,7.2l.7,3l.7,.7l.8,7l.7-.3l.7,3.6l.8-2.9l.7,2.7l.8,0l.7-.5l.7-1.2l.8,2.1l.7-4.8l.8-7.8l.7-8.7l.7-18.7l.8-13.3l.7,11.8l.7,15.1l.8,7l.7,.3l.8,4.2l.7,6.4l.7,.5l.8,6l.7,1.3l.7,2.2l.8-1l.7,1.5l.8,2.1l.7-2.1l.7,2.2l.8-.7l.7-2.6l.8,6.6l.7,.7l.7-.7l.8,.7l.7-3.4l.7,6.6l.8-8l.7,1.8l.8,4.6l.7-1.2l.7,1.4l.8-2.1l.7,.2l.7-.1l.8,.1l.7-2.4l.8,4.6l.7-1.8l.7,2l.8-.4l.7-.4l.7,.6l.8-.8l.7,2.4l.8-1.4l.7,.8l.7,.9l.8-1l.7-.7l.8-1.1l.7,1.4l.7-3.2l.8-1l.7-3.9l.7-6.1l.8-5.1l.7,2.2l.8,6.2l.7,4.6l.7,.7l.8,5.7l.7-3l.7,5l.8-.9l.7-.8l.8,.8l.7-3.4l.7,2.4l.8,1.3l.7-2l.8,2.1l.7,1.9l.7-4l.8-.7l.7,.5l.7,5.4l.8-6.5l.7,5l.8-2.4l.7-.9l.7-2.4l.8,8.6l.7-1.2l.7-4.7l.8,1.5l.7,1.8l.8,2.4l.7-4l.7,1.4l.8,3.1l.7-9.1l.7,9.2l.8-2.2l.7-1.1l.8-.5l.7-1.1l.7,2.2l.8,1.4l.7-1.1l.8,3l.7-1.3l.7-6.6l.8,5.8l.7-1.3l.7-4.2l.8,1.9l.7,2l.8-1.3l.7,2.2l.7,1.4l.8-4l.7,1.9l.7-3.1l.8,4l.7,.3l.8-1.5l.7,1.2l.7,.3l.8,1.2l.7-2.4l.8-.1l.7-3.2l.7,4l.8,2.6l.7-3.6l.7-3.9l.8,6l.7,.8l.8-1.3l.7-.6l.7,1l.8-.3l.7,2.1l.7-3.7l.8,3.2l.7-.3l.8,0l.7-2.8l.7-2.8l.8,1.5l.7,2.3l.7,1.6l.8-.5l.7-2.7l.8,3.3l.7-2l.7-1.1l.8,4l.7-.6l.8-2.2l.7,1l.7,.3l.8,.9l.7-1l.7-4.1l.8,1.1l.7,3.5l.8-.6l.7,0l.7,.1l.8,.9l.7-.5l.7-.5l.8,1.8l.7-2.2l.8-.9l.7,2l.7-.6l.8-.7l.7,1.2l.8,.7l.7-1.4l.7-2l.8,.4l.7,2.1l.7,.8l.8-3.3l.7,1.1l.8-.7l.7,2.5l.7,1.2l.8-2.3l.7,1.7l.7-3.8l.8,.6l.7,1.3l.8-1l.7-1.5l.7,.6l.8,3.1l.7,.7l.7-4.1l.8-.3l.7,1.7l.8,2.2l.7-2l.7-2.4l.8-1l.7-3.5l.8-7.6l.7-12.4l.7-4.4l.8,4l.7,6.3l.7,7.5l.8,14.9v3H66.7Z"/>
<path d="M66.2,113.9V110.9l.7-10.1l.8-6.6l.7-.1l.8,1.5l.7-3.7l.7-5.5l.8,.3l.7-5l.7-4l.8-2.7l.7,.5l.8-.5l.7,2.7l.7,.7l.8,1.3l.7-2.6l.7,3.5l.8,1.6l.7-1.6l.8,.1l.7-.8l.7-.5l.8-.6l.7-2.2l.7-.5l.8-4.8l.7-2.1l.8-1.4l.7,3.8l.7-6.7l.8,.9l.7-3.7l.8-3.7l.7-9.6l.7-8.9l.8,1.7l.7,7.8l.7,6.3l.8,7.5l.7,8.5l.8,3.5l.7,4.7l.7,5.3l.8,2.4l.7-1.1l.7,1.9l.8,3.6l.7-2.1l.8,1.4l.7-3l.7-3.1l.8,3.4l.7-3.9l.8-2.6l.7-11.4l.7-18.8l.8-14.5l.7,13l.7,15.3l.8,7.3l.7,1.9l.8,1.7l.7,3.8l.7,7l.8,.8l.7,3.7l.7,2.2l.8-.1l.7-3.2l.8,5l.7-.7l.7,.3l.8,1.1l.7-.8l.8,1.9l.7,4.1l.7-4.2l.8,5.2l.7-3.5l.7,.4l.8-3l.7,1.5l.8,1.3l.7,3.8l.7-2.6l.8-3.7l.7,3l.7,.2l.8-4.8l.7,6.3l.8,3.4l.7-5.1l.7,1.1l.8,3.7l.7-6.5l.7,4.2l.8-5.4l.7,7.4l.8-5.2l.7,1.2l.7,1.2l.8-1.5l.7,4.2l.8-7.5l.7,1.9l.7-.1l.8-4.3l.7-2.8l.7-1.9l.8-5.7l.7,2.8l.8,4.8l.7,4.9l.7,1.2l.8,2.9l.7,3.4l.7-2.9l.8,2.7l.7-2.4l.8,4.6l.7-.5l.7-.7l.8,.1l.7-.3l.8-1.8l.7,.6l.7,.7l.8,.1l.7,1.3l.7,2.9l.8-2.3l.7-.1l.8-.1l.7,3.4l.7-2.9l.8,0l.7,1l.7-1.1l.8-.7l.7-1.3l.8-.8l.7,4.4l.7-3.5l.8,1.8l.7-.2l.7-2.8l.8,.9l.7,1.1l.8,3.1l.7-1.7l.7-3.1l.8,4.1l.7,.3l.8,.4l.7-2.6l.7,2.5l.8-8.2l.7,6.2l.7-.2l.8,1.4l.7-2.2l.8,.2l.7,1.7l.7,.4l.8-3.5l.7,2.2l.7-1.3l.8,1.7l.7,1.2l.8-2.1l.7-.7l.7,1.8l.8-.1l.7-1.8l.8,3.8l.7-2.8l.7,1.3l.8-.6l.7-1.4l.7,5l.8-2.9l.7-.2l.8-.4l.7-4.2l.7,6.2l.8-1.8l.7-1.5l.7,3.4l.8-3.3l.7,.1l.8,2.9l.7-.6l.7,.9l.8-4l.7,4.3l.7,.9l.8-.7l.7-.1l.8-1.8l.7,.2l.7-2.1l.8,3.3l.7-1.6l.8,1.2l.7-.6l.7,1.6l.8-.5l.7-2l.7-1.4l.8,3.6l.7-2l.8,3l.7-3.4l.7,2.3l.8,.1l.7,.7l.7-1.6l.8-2l.7-1l.8,.9l.7,1.8l.7-.6l.8,1.6l.7-3.6l.8,4.8l.7-.1l.7-3.9l.8,3l.7-1.4l.7-2l.8,1.8l.7-.6l.8,.9l.7-.2l.7,1.8l.8-4.9l.7,4.2l.7,.3l.8-1.4l.7-2.4l.8,3.3l.7-.4l.7-2.6l.8,.7l.7,2.2l.7-.4l.8-.9l.7,1.5l.8,.2l.7-2.4l.7-.6l.8-4.4l.7-1.2l.8-7.8l.7-10.1l.7-7.8l.8,3.3l.7,9.3l.7,7.6l.8,13.7v3H66.2Z"/>
<path d="M65.8,114.5V111.5l.7-9.6l.8-8.2l.7,.1l.8-.8l.7-2l.7-2.6l.8-3.8l.7-2l.7-4.9l.8-1.7l.7-.8l.8,2.5l.7,2.7l.7-4.6l.8,3l.7-.9l.7,2.4l.8,1.2l.7,1.3l.8-2.9l.7,1.7l.7-1l.8-1.6l.7,.3l.7-4.7l.8-2.6l.7-1.8l.8,1.3l.7-1.8l.7-3.1l.8-1.8l.7-.3l.8-6.3l.7-8.1l.7-9.1l.8,1.5l.7,7.8l.7,8.8l.8,6.6l.7,6.2l.8,4l.7,5.8l.7,.5l.8,6.9l.7-.3l.7,1l.8,1.6l.7-.2l.8-1.6l.7,.9l.7-2.1l.8-.8l.7-.3l.8-3.2l.7-12.1l.7-19.3l.8-13.5l.7,11.9l.7,15.4l.8,3.5l.7,4.6l.8,5.7l.7,3l.7,1.2l.8,4.7l.7,5.4l.7-2.2l.8,3.7l.7-4.7l.8,5.5l.7-2.3l.7,.1l.8,2.5l.7,0l.8-2.1l.7,2.2l.7,1.9l.8-.6l.7-2.4l.7,2.2l.8,1.3l.7,.6l.8,4.3l.7-3.4l.7,1.5l.8-2.5l.7,3l.7-2.1l.8,3.3l.7-4.1l.8,3.6l.7-1.4l.7-1.3l.8,2.1l.7-.7l.7-2.3l.8-1.5l.7,7.5l.8-1.9l.7-3.1l.7-.6l.8,2.5l.7-1.4l.8,.1l.7-4.5l.7,2.6l.8-.9l.7-3.3l.7-5.8l.8-6.2l.7,2.7l.8,3.9l.7,5.4l.7,3l.8,1.3l.7,.7l.7,.4l.8,3.8l.7-.3l.8,.3l.7-1l.7,.9l.8,2.3l.7-1l.8-5.2l.7-.6l.7,6.5l.8-2.5l.7,1l.7,1.8l.8-3.3l.7,1.8l.8-3.7l.7,2.7l.7,1.7l.8,3.4l.7-3.7l.7-2l.8,3.4l.7-3.4l.8,.5l.7,5.3l.7-3.3l.8-1.1l.7-.9l.7,1.3l.8,.4l.7,.8l.8-.1l.7-.6l.7,2.4l.8-3.7l.7,2.2l.8-1.8l.7,2.2l.7-1.9l.8,.6l.7-1.6l.7,1l.8-1l.7,2.4l.8-.2l.7,.5l.7,2.2l.8-2.4l.7-2.6l.7,.7l.8,3.6l.7-2.5l.8-.9l.7,4.6l.7-3.7l.8,.1l.7-.9l.8,1.1l.7,3.4l.7-.6l.8-6.4l.7,5.2l.7-3.6l.8,.1l.7,2.6l.8,2.7l.7-5.4l.7,3l.8-1.1l.7,.1l.7-1l.8-.1l.7,4.7l.8,0l.7-2.7l.7,.3l.8-1.6l.7,2l.7,.2l.8-4.8l.7,1.5l.8,.5l.7,.3l.7,4l.8-1.5l.7,0l.8,2l.7-.2l.7-2.2l.8,2l.7-2.8l.7,.2l.8,1.6l.7,.2l.8-2l.7,.3l.7,.3l.8,1.9l.7-.9l.7-4.5l.8,5.8l.7-.6l.8-1.2l.7,2.1l.7-.1l.8-3.4l.7-.3l.8,2.7l.7,.3l.7,.1l.8,.6l.7-.7l.7-.7l.8-.9l.7-2l.8,2.3l.7,1.4l.7-3.9l.8,1.7l.7,2.8l.7-.6l.8,.1l.7-1.3l.8-2.8l.7,4.1l.7-1.3l.8-.6l.7,2.5l.7-1.6l.8-2.5l.7-1.5l.8,5.3l.7-4.5l.7-.3l.8-3l.7-2.9l.8-7.7l.7-10.8l.7-6.2l.8,5.4l.7,8.3l.7,5l.8,15.2v3H65.8Z"/>
<path d="M65.3,115.1V112.1l.7-9.6l.8-6.4l.7-3.3l.8-.8l.7-.9l.7-2l.8-1.4l.7-3.4l.7-5.7l.8-2.2l.7-1l.8,3.1l.7,2l.7-.2l.8,1.6l.7-3.6l.7,1.9l.8,1.3l.7,1.2l.8-1.3l.7,1.7l.7-.7l.8,1l.7-5.6l.7-2.1l.8-2.5l.7-3.7l.8,2l.7,.5l.7-3l.8-2.1l.7-2.1l.8-3.9l.7-10.6l.7-8.3l.8,1.6l.7,6.8l.7,6.6l.8,9.2l.7,6.5l.8,5.7l.7,5.9l.7-.6l.8,5.2l.7,.5l.7,2.3l.8,2.8l.7-2.8l.8,.1l.7-2.2l.7-1.3l.8,3l.7-4l.8-4.7l.7-9.1l.7-20.1l.8-13.4l.7,12.6l.7,13.3l.8,6.5l.7,3.2l.8,2.4l.7,4.5l.7,3.8l.8,2.3l.7,4.1l.7,4.7l.8,1.8l.7-3l.8,1l.7-2.5l.7,3.7l.8-3.9l.7,4l.8-3.2l.7,2l.7-.6l.8-2.1l.7,10.6l.7-3l.8,1.1l.7-1.8l.8,2.2l.7,1.3l.7-1.1l.8-2l.7,3.7l.7-4.6l.8,1.6l.7-1l.8,4.6l.7-3.5l.7-1.2l.8,.9l.7-.9l.7,2.1l.8-.6l.7,2l.8-3.7l.7,.7l.7-1.2l.8,4.4l.7-5.2l.8,1.4l.7,1.3l.7-1.3l.8-2.4l.7-3.1l.7-6.6l.8-5l.7,2.2l.8,5.5l.7,4.3l.7,4.9l.8,2.7l.7-1.1l.7,2.3l.8-1.3l.7,.8l.8,.1l.7,.4l.7-.6l.8-4.1l.7,5l.8,.8l.7,.4l.7-2l.8,2.6l.7-2.4l.7,4.2l.8-.1l.7-.5l.8-1.7l.7-4.5l.7,7.7l.8-2.5l.7-1.8l.7,2.3l.8,.4l.7-2.8l.8-2.8l.7,1.9l.7,3.1l.8,1.4l.7,2.1l.7-3.1l.8-3.1l.7,1.1l.8,2l.7,1.4l.7-.7l.8-1.7l.7-.5l.8-2.6l.7,6l.7-7.1l.8-.3l.7,8.1l.7-2.9l.8-3l.7,1l.8,.4l.7-1l.7,1.2l.8-2.4l.7,4.7l.7,.2l.8-2.5l.7,.7l.8,1l.7-2.7l.7,5.7l.8-8.1l.7,2.7l.8,3.6l.7,.5l.7,1l.8-4.1l.7,3.4l.7-1.2l.8-2.2l.7,2.8l.8-5l.7,3.6l.7,2.2l.8,.7l.7-3.3l.7,.4l.8-1.3l.7,3l.8-1.6l.7-.6l.7,0l.8-1.8l.7,.3l.7,1.6l.8,1.2l.7,1.2l.8-1.6l.7-.6l.7-.7l.8,3l.7-4.5l.8,4.5l.7-.6l.7,.7l.8-2.2l.7,2.4l.7-.6l.8,.6l.7-.2l.8-2.6l.7-.8l.7,3.3l.8,1l.7-8.5l.7,6.1l.8,.4l.7,.7l.8-1.2l.7-1.2l.7,2.6l.8-.3l.7-3.1l.8,3.4l.7,0l.7,.8l.8-2.4l.7-.8l.7,2.2l.8,.8l.7-.9l.8-1.2l.7-.2l.7,.9l.8,.2l.7,.5l.7-1l.8-.9l.7,1.6l.8-1.1l.7,.9l.7,.2l.8,.2l.7-1l.7-2.6l.8,2l.7,2.1l.8-.8l.7-3l.7-.1l.8-2.3l.7-4l.8-6.1l.7-12.8l.7-6.8l.8,6.5l.7,6.1l.7,6.4l.8,15.9v3H65.3Z"/>
<path d="M64.8,115.3V112.3l.7-9.8l.8-6.7l.7-2.4l.8,.4l.7-2.2l.7-1.5l.8-2.1l.7-4l.7-3.8l.8-3.1l.7-1l.8,2.5l.7,2.8l.7-.5l.8-1.5l.7-.7l.7,1.3l.8,1.5l.7,.1l.8,1.6l.7,.1l.7-2.7l.8,.4l.7-2.3l.7-3.5l.8-3.5l.7-1.3l.8,2.7l.7-1.7l.7-3.5l.8,.5l.7-2.1l.8-6.5l.7-8.4l.7-8.6l.8,.9l.7,7.8l.7,6.4l.8,8.5l.7,6.9l.8,5.2l.7,3.2l.7,6l.8,1l.7,.3l.7,3.5l.8,0l.7-.2l.8-1.3l.7,0l.7,.8l.8-5.3l.7,2.3l.8-7.6l.7-7.9l.7-20.1l.8-13.4l.7,11.5l.7,14.2l.8,7.1l.7,5l.8,3.1l.7,4.3l.7,4l.8,1.9l.7,4.2l.7,.5l.8-2.4l.7,.6l.8,6.5l.7-1.8l.7-1l.8-3.2l.7,4.1l.8-4l.7,4l.7-1.6l.8,5.4l.7-.7l.7-2.5l.8,1.3l.7,5.5l.8-3.2l.7-.8l.7-.7l.8,2.8l.7-4.9l.7,3.5l.8-2.6l.7,2.3l.8,.8l.7,.9l.7,1.9l.8-4.3l.7,.3l.7-.4l.8,2.9l.7,1.1l.8-1.2l.7-.2l.7-.7l.8-2l.7,3.1l.8-1.3l.7-2.5l.7-1.3l.8-3.3l.7-1.3l.7-4.2l.8-4.6l.7,1.6l.8,5.1l.7,4.4l.7,3.1l.8,2.5l.7,.5l.7,.6l.8-.7l.7,1.3l.8,2l.7,.9l.7-4.9l.8,3.2l.7,.4l.8-.2l.7-2.4l.7,3.2l.8-.9l.7,1l.7-1.7l.8,3.5l.7-2.5l.8-1.7l.7-.3l.7,1.3l.8,.8l.7-2.7l.7,1.9l.8-1.4l.7,5.6l.8-.2l.7-4.1l.7,2.4l.8,.4l.7,1.1l.7-5.2l.8,5.8l.7-2.7l.8,3.3l.7-2.6l.7-5.1l.8-.5l.7,6.4l.8,1.1l.7-5.5l.7,5.3l.8,2l.7-4.5l.7,3.1l.8,.8l.7-5.4l.8,4l.7,.7l.7-2.6l.8,.8l.7-2.8l.7,2.3l.8-3.2l.7,1l.8-1.4l.7,1.6l.7,2.2l.8-.9l.7,1.1l.8,3.4l.7-.8l.7-4l.8,2.9l.7,.5l.7,1l.8-2.6l.7,2.2l.8-2.7l.7,.9l.7,.7l.8,.8l.7-.8l.7-1.1l.8,3l.7-2.1l.8-1.4l.7-1.5l.7,.9l.8-1.7l.7,5.4l.7-3.6l.8-1.8l.7,2.5l.8,3.2l.7-3.2l.7,2l.8,.3l.7-3.6l.8,2.7l.7,1.7l.7-.6l.8-5.5l.7,6l.7-3.2l.8,1l.7-2l.8,3.1l.7,1.3l.7-.5l.8,.3l.7-7.2l.7,5.3l.8,1l.7-3.3l.8,1.2l.7,1.9l.7-1.8l.8,.8l.7-1.9l.8-1.1l.7,4.2l.7-.6l.8,.3l.7-3l.7,1.8l.8-.9l.7-.3l.8,3.3l.7-1.6l.7-2.7l.8,.9l.7,.3l.7,2.2l.8,.2l.7,1l.8-1.3l.7-.5l.7,1.4l.8-4.2l.7,4l.7-2.4l.8-.9l.7,2.1l.8,1.9l.7-4.9l.7-.6l.8-1.3l.7-4.4l.8-6.6l.7-10.6l.7-7.5l.8,6.4l.7,6.7l.7,5.2l.8,16.1v3H64.8Z"/>
<path d="M64.3,116V113l.7-9.8l.8-7l.7-2l.8,0l.7-1.1l.7-4.6l.8-1.4l.7-2.4l.7-4.4l.8-3l.7-.6l.8,2.7l.7,.2l.7,1.4l.8-1.5l.7-1.1l.7,2.2l.8,2l.7,1.1l.8-.8l.7,1.5l.7-2.3l.8-.7l.7-.1l.7-7l.8,.2l.7-3l.8-.9l.7,.1l.7-.4l.8-1.7l.7-2.3l.8-4.9l.7-9.6l.7-8.5l.8,1.2l.7,8.7l.7,5.2l.8,10.2l.7,6.1l.8,2.4l.7,4.6l.7,6.1l.8,.9l.7,1.9l.7-.4l.8,4.7l.7-2.8l.8,.9l.7-1.5l.7,.1l.8-3.2l.7-1.4l.8-3.6l.7-9.5l.7-19.7l.8-13.5l.7,11.8l.7,16.4l.8,5.2l.7,1.9l.8,3.7l.7,5.2l.7,1.8l.8,5.6l.7,.9l.7,2.3l.8-2.8l.7,7.2l.8-5.6l.7,3.2l.7,1.6l.8-1.1l.7,.5l.8-2.2l.7,4.9l.7-2.7l.8,.9l.7,5.4l.7-3l.8,1.6l.7-5.5l.8,5.5l.7,.2l.7-2.4l.8,6.2l.7-2.8l.7-4.3l.8,.5l.7,6.5l.8-7.2l.7,2l.7,1.9l.8-3.9l.7,5l.7,1.3l.8-5.5l.7,5.4l.8-7.2l.7,5.2l.7,2.4l.8-1.6l.7-.7l.8,.1l.7-.3l.7-3l.8-2.2l.7-3.9l.7-5.2l.8-2.9l.7,1l.8,6.5l.7,4.8l.7,1.6l.8,1.7l.7,1.1l.7,4.8l.8-5.4l.7,1.5l.8-1.2l.7,1l.7,.8l.8,.6l.7,.9l.8-1.5l.7,5l.7-4.8l.8,2.5l.7-3l.7,2.9l.8,4.3l.7-6.7l.8,4.9l.7-2.2l.7-1l.8,.1l.7,.3l.7-1.1l.8,.3l.7,2.3l.8-4.6l.7,4.1l.7-2.1l.8-2l.7,4.4l.7-3.5l.8-1.2l.7,1.8l.8,1.3l.7,3.6l.7-2.1l.8,1.2l.7-3.2l.8,0l.7,1.6l.7,2.7l.8-3.9l.7-.1l.7,1.7l.8-.4l.7-2.2l.8,1.6l.7-2.3l.7-.4l.8,1l.7-.1l.7,2.2l.8,2.4l.7-1.4l.8,1.4l.7-.1l.7-.2l.8-3.1l.7,2l.8-2l.7,2.4l.7,1.2l.8-2.6l.7,3.6l.7-.1l.8-2l.7,.9l.8-4.8l.7,3.7l.7,1.5l.8-1.4l.7-2.5l.7,.5l.8,1.1l.7,2.6l.8-1.3l.7,.3l.7,1.1l.8-1.9l.7,2l.7-.3l.8,1l.7-3.1l.8,1.7l.7,1.5l.7-2l.8-2l.7,1.3l.8-.5l.7-1.9l.7,3.3l.8-1.8l.7,0l.7-2.1l.8,5.3l.7-8.4l.8,7.8l.7-.7l.7-1l.8,.8l.7-2.5l.7,.9l.8,1.5l.7,.5l.8-.9l.7-.1l.7-.3l.8,1.4l.7-1.3l.8,.1l.7,0l.7-.6l.8,.8l.7-3.3l.7,2.8l.8-.8l.7,2.9l.8,.1l.7-5.1l.7,3.3l.8,.2l.7-1.2l.7,1.9l.8-3.6l.7,5l.8-2.9l.7,.6l.7,.9l.8,.2l.7,.5l.7,.8l.8-3.1l.7-2.5l.8,1l.7-1.1l.7,1.2l.8-1.7l.7-4.1l.8-6.7l.7-13.2l.7-4.9l.8,5.2l.7,6.9l.7,7.7l.8,13.6v3H64.3Z"/>
<path d="M63.9,116.5V113.5l.7-11l.8-6.5l.7-.9l.8,1.5l.7-3.5l.7-2l.8-1.9l.7-3l.7-5.1l.8-2.7l.7-.3l.8,2.8l.7,.8l.7-.6l.8,.9l.7-1.7l.7,3.6l.8-1.3l.7,.7l.8,1.3l.7-2.1l.7,1.8l.8-2.4l.7-4l.7-.2l.8-1.6l.7-4l.8,1.1l.7-.2l.7-.9l.8-1.5l.7-2.4l.8-7.2l.7-8.2l.7-8l.8,.7l.7,7.3l.7,8.1l.8,6.5l.7,8.8l.8,3.1l.7,2.1l.7,7l.8,.8l.7,2.9l.7,.8l.8,.7l.7-.2l.8-1.6l.7-.7l.7-1.3l.8,0l.7-1.9l.8-3.2l.7-11.6l.7-18.4l.8-13.4l.7,11.4l.7,15.5l.8,6.8l.7,5.5l.8,.9l.7,2.8l.7,5.6l.8,3.9l.7-1.3l.7,4.7l.8,.9l.7,0l.8,.4l.7-2.6l.7,1l.8,1.6l.7,1.2l.8,.6l.7-3.4l.7,4.9l.8-1.5l.7,5.2l.7-3.7l.8-.4l.7-1l.8,2.3l.7-.4l.7,.7l.8-1.4l.7-2l.7,4.1l.8,2.3l.7-2.9l.8,1.6l.7-1.5l.7-.3l.8,1.4l.7,1.4l.7-1.6l.8,3.3l.7-3.2l.8,2.3l.7-2.7l.7,.5l.8,.5l.7,1.4l.8-2.6l.7,.4l.7-2l.8-3l.7-3.4l.7-3.5l.8-6l.7,1.4l.8,5.6l.7,5.2l.7,3.2l.8-.9l.7,4l.7,2.8l.8-2.2l.7,0l.8,2.8l.7,.6l.7-5.9l.8,3.7l.7-1.2l.8,3l.7,2l.7-2.6l.8-3.2l.7,4.4l.7,2.4l.8-3.3l.7,.3l.8-.5l.7,2.3l.7-1.5l.8,.5l.7-2.9l.7,1.6l.8-1.5l.7,2l.8,4.5l.7-.4l.7-5.2l.8-.7l.7,0l.7,2.1l.8,3.7l.7-2.7l.8-1.9l.7-2l.7,3.7l.8,.5l.7,.5l.8-3.8l.7,.4l.7,5.7l.8-6.4l.7,4.6l.7,1.2l.8,.3l.7-1.8l.8-6.4l.7-.5l.7,8.1l.8-1.1l.7-1.8l.7-.5l.8,1.9l.7,2.5l.8-2.5l.7,.6l.7,1.7l.8-3.4l.7,3.4l.8-.1l.7-6.1l.7,1.3l.8-1.1l.7,2.9l.7,1.1l.8-.6l.7,2.7l.8-4.4l.7,1l.7,1.3l.8,1.3l.7-1.6l.7-3.7l.8,.4l.7,1.3l.8,2.6l.7-1l.7-.8l.8,.8l.7-1.8l.7,3.6l.8-1.3l.7-.1l.8,2.1l.7,0l.7-3.3l.8-.8l.7,2.3l.8-1.1l.7,1l.7-.2l.8,1.5l.7-.2l.7-3.3l.8,3.1l.7-.4l.8-2.6l.7,.5l.7,2.9l.8-1.3l.7,2.1l.7-1.8l.8-.4l.7,.7l.8-.4l.7-.4l.7-.9l.8,3.4l.7-1.9l.8,1.2l.7,.6l.7-1.1l.8-4l.7,3.9l.7,.9l.8-.4l.7,.3l.8-2.4l.7,2.9l.7-3.8l.8,0l.7,.7l.7-1l.8,2.3l.7,.3l.8-.4l.7-1.6l.7,2.6l.8,.9l.7-4.8l.7,1.3l.8-2.2l.7,1.1l.8,.9l.7-.9l.7-1.3l.8-1.2l.7-3.2l.8-7.2l.7-11.5l.7-8.8l.8,7.4l.7,8.4l.7,6.3l.8,13.8v3H63.9Z"/>
<path d="M63.4,117.2V114.2l.7-11.4l.8-6.5l.7,1l.8-.7l.7-3.3l.7-1.9l.8-.8l.7-4.4l.7-4.2l.8-3l.7,1l.8,1.4l.7,1.1l.7-1.5l.8-.6l.7,1.6l.7,2.1l.8-.4l.7,1.9l.8-.8l.7-1.2l.7-.2l.8-2l.7-3l.7,2.1l.8-7.2l.7,3.9l.8-1.3l.7-3.9l.7,.2l.8-1.8l.7-2.7l.8-4.2l.7-9.3l.7-8.8l.8,1.7l.7,7.9l.7,6.8l.8,7.9l.7,5.2l.8,2l.7,7.9l.7,4.7l.8-2l.7,3.1l.7,3.5l.8,1.2l.7-.4l.8-1.6l.7,.5l.7-1.9l.8,3.1l.7-3.8l.8-5.3l.7-11.4l.7-19.1l.8-13.5l.7,12.5l.7,13.9l.8,5l.7,6l.8,2.1l.7,5.3l.7,3.4l.8,4.4l.7,2.1l.7,.1l.8-1.3l.7,2.8l.8,.6l.7,.4l.7,2.1l.8,0l.7-1.9l.8-1.1l.7,2.7l.7,2.7l.8-1.1l.7-1.8l.7,2.4l.8-2l.7,5.9l.8-3.8l.7,3.3l.7,2l.8-4.1l.7-1l.7,.2l.8-1.4l.7,2.5l.8,5.5l.7-6.7l.7-.4l.8,3l.7,.2l.7-1.1l.8,0l.7,2.5l.8-4.5l.7-1.5l.7,2.2l.8,.7l.7,6l.8-7.2l.7-.7l.7-1.2l.8-1.4l.7-2.3l.7-6.2l.8-4.4l.7,1.6l.8,5l.7,5l.7,3.6l.8,2.6l.7,2.6l.7-5.3l.8,4.1l.7-2.2l.8,1.7l.7,.7l.7-.6l.8,1l.7-3.3l.8,4.8l.7-.4l.7-.2l.8-.9l.7-2.4l.7,5l.8,3.4l.7-5.8l.8-.4l.7,1.7l.7-.1l.8-1.4l.7,3.5l.7,.1l.8,1.7l.7-3.3l.8,1.5l.7-1.5l.7,2.4l.8,1.7l.7-6.7l.7,1.7l.8-1.5l.7-.5l.8,6.7l.7-5.5l.7,4.5l.8,.8l.7-.8l.8-1.2l.7-5.3l.7,4.6l.8,0l.7-1.4l.7,.2l.8,1.1l.7-4.9l.8,7l.7,.5l.7,.1l.8,0l.7-.6l.7-.9l.8-.4l.7-4l.8,1.5l.7,2.8l.7-1.4l.8,2l.7-.9l.8-.3l.7-4.7l.7,7.2l.8-.2l.7-3.4l.7,3.1l.8,.2l.7-2.9l.8,3.1l.7-5.4l.7,1.7l.8,2.6l.7-.8l.7,1.2l.8-4.8l.7,3.2l.8-.1l.7,2.3l.7-5.4l.8,3.6l.7,1.5l.7-4.9l.8,2.7l.7,1.7l.8-2.9l.7,3.2l.7-.8l.8-2.4l.7,4l.8-1.4l.7-.2l.7-.9l.8,2.7l.7-.3l.7-.8l.8,1.3l.7-2.3l.8,.7l.7-.6l.7,0l.8,1.5l.7-.2l.7-1.3l.8-2.3l.7,2.1l.8,.6l.7-4.5l.7,5.6l.8-4l.7,1.5l.8,2.3l.7-.8l.7-1.8l.8,2.7l.7-4.2l.7,4.3l.8-2.1l.7,1.5l.8-1.5l.7,2.6l.7-5.2l.8,5.3l.7-5.5l.7,4.3l.8,1.3l.7-3.8l.8,1.5l.7,.8l.7,1l.8-1.2l.7-.4l.7,1.4l.8,.6l.7-.9l.8-.2l.7-3.9l.7-.9l.8-.8l.7-2.9l.8-7.5l.7-12.4l.7-6l.8,4.7l.7,7l.7,7.4l.8,14.7v3H63.4Z"/>
<path d="M62.9,117.8V114.8l.7-9.9l.8-7.1l.7-1.3l.8,.3l.7-3.6l.7-3.2l.8-1.3l.7-1.3l.7-4.4l.8-4.1l.7,.3l.8,2.7l.7,.2l.7,.9l.8-1.4l.7,.9l.7-.6l.8,3.7l.7,1.6l.8-1.5l.7,1.8l.7-4.7l.8-.2l.7,1.9l.7-5.4l.8-4l.7,.7l.8-.7l.7,0l.7-3.1l.8-1.4l.7-2.2l.8-3.9l.7-9l.7-9.2l.8,1.9l.7,7l.7,7.4l.8,8.2l.7,4.7l.8,5.5l.7,3.3l.7,4.4l.8,2.6l.7-.2l.7,5.4l.8-3.7l.7,1.7l.8-.1l.7-1.5l.7-1.1l.8,1.8l.7-3.4l.8-3.8l.7-10.3l.7-20.3l.8-13.4l.7,12.4l.7,14.7l.8,6.4l.7,2.7l.8,5.7l.7,.7l.7,1.5l.8,8.7l.7,3.6l.7-2.2l.8,.3l.7,.2l.8-.9l.7,5.9l.7-3.6l.8,.1l.7-1.1l.8,5.5l.7-1.3l.7,1.5l.8,0l.7,.5l.7,.4l.8,3.9l.7-3.6l.8,0l.7,1.2l.7,7.2l.8-6.2l.7,.1l.7,.6l.8-5.4l.7,1.6l.8,2.6l.7-1.7l.7-5.9l.8,9.5l.7-3.1l.7,2.4l.8-4.6l.7,1l.8,2.5l.7-1.5l.7,2.6l.8,1.2l.7-4.7l.8-1.7l.7,2.5l.7-.9l.8-.6l.7-7.4l.7-2.4l.8-4.9l.7,1.3l.8,4.5l.7,5.5l.7,2.9l.8,1.7l.7-.3l.7,2.1l.8,.2l.7,.8l.8,2.3l.7-4.6l.7,4.3l.8,1.7l.7-1.8l.8-.9l.7-1.7l.7,5.2l.8-.3l.7-3.1l.7-.4l.8,3.4l.7,.2l.8-2.8l.7,.7l.7,3.3l.8-1.6l.7-5.1l.7,5.6l.8-4.6l.7,5.8l.8-6.6l.7-.3l.7,5l.8,.2l.7-2.9l.7,4.2l.8-3.9l.7-1.4l.8,2.1l.7-.1l.7,1.1l.8-2.5l.7,4.1l.8-5.3l.7,3.6l.7,.7l.8,2.9l.7-2.6l.7-1.4l.8-2.2l.7,6.3l.8-3.2l.7,1.3l.7,1.1l.8-2.6l.7,1.7l.7-3.5l.8,3.1l.7-2.8l.8,4.5l.7-.2l.7-3.7l.8,2l.7-1l.8,2.4l.7,.3l.7-.7l.8-1.5l.7,1.8l.7-.9l.8,1l.7-2.4l.8,3.1l.7-1.1l.7-1.3l.8,0l.7-.2l.7-1.9l.8,3.9l.7,.9l.8-.4l.7-3.8l.7,3.1l.8-3.5l.7,2.4l.7,.5l.8,.3l.7,.6l.8-3.2l.7,3.2l.7-2.9l.8,2.6l.7-3.2l.8-3.9l.7,3.7l.7,1.8l.8,2.3l.7-.3l.7,.3l.8-1.8l.7-.1l.8,2.4l.7-3.6l.7,1.5l.8-1.3l.7-.2l.7,3l.8-.5l.7-1.6l.8,.9l.7-.1l.7,2l.8-4.1l.7,1.2l.8-1.5l.7,3.3l.7-2.3l.8,1.7l.7,1.5l.7-1.5l.8-.1l.7,.3l.8-.8l.7-1.2l.7,3.1l.8-.6l.7,.6l.7-2.1l.8,1.9l.7-7.3l.8,5.4l.7,2l.7-.3l.8-5.5l.7,6.3l.7-2.4l.8-.3l.7,1.1l.8-.5l.7-.9l.7-1.7l.8-3.5l.7-3.5l.8-5.4l.7-12.8l.7-6.6l.8,5.4l.7,8l.7,5.4l.8,15.8v3H62.9Z"/>
<path d="M62.4,118V115l.7-9l.8-9.6l.7,1.7l.8-3.7l.7-.1l.7-1.8l.8-.9l.7-4l.7-4.8l.8-3.3l.7,.2l.8,2.2l.7,.5l.7,2.2l.8-2.2l.7-.8l.7,1.8l.8,1.7l.7,2.6l.8-4l.7,0l.7,2.8l.8-1.2l.7-1.4l.7-2l.8-5l.7,.2l.8-1.1l.7-1.7l.7-1.1l.8-1l.7-3.7l.8-4.7l.7-8.2l.7-8.2l.8,1l.7,7.5l.7,6.1l.8,7.9l.7,7.5l.8,5.3l.7,2.7l.7,5.1l.8,1.7l.7-.2l.7,1.5l.8,1.2l.7-1l.8,1.2l.7-.8l.7-1.3l.8-1.2l.7,.4l.8-8.1l.7-9.8l.7-17.3l.8-13.7l.7,11.9l.7,15l.8,5.9l.7,3.5l.8,3.9l.7,4.8l.7,2.6l.8,3l.7,4.3l.7,.7l.8,.2l.7,1.3l.8,1.5l.7-3.3l.7,4.2l.8-2.7l.7,2.3l.8-1l.7-2.2l.7-1.3l.8,3.8l.7,2.5l.7,2.5l.8-1.6l.7-1l.8,4.4l.7-2.1l.7-1.8l.8,.2l.7,1.8l.7,1.4l.8-2.7l.7,2.9l.8-6.6l.7,5l.7,.8l.8-3.6l.7,4.6l.7-.8l.8-2.6l.7,4.2l.8-3.5l.7,1.9l.7,1l.8-2.5l.7-.1l.8-.6l.7-1.5l.7,.9l.8-4.6l.7-3.7l.7-2.6l.8-5.3l.7,1.4l.8,6.7l.7,3.2l.7,3.3l.8,1.9l.7-.2l.7,2.4l.8,.6l.7-1.5l.8,1.1l.7-.7l.7-.9l.8,4.7l.7-2.9l.8-1.8l.7,2.6l.7,.3l.8-.9l.7-.1l.7,.8l.8,1.6l.7-1.7l.8,2.1l.7-1.5l.7,.8l.8,4.1l.7-4.1l.7-1l.8-.1l.7,1.1l.8,2l.7,.9l.7,1.6l.8-5l.7-1.6l.7-.6l.8-1.1l.7,6.5l.8-3.9l.7,3.3l.7,2.4l.8-3.9l.7,1l.8-2.4l.7-.2l.7,1.2l.8-2.9l.7-.7l.7,4.7l.8-2.6l.7-1.4l.8,3.9l.7,.5l.7-1.3l.8,1.6l.7-2.5l.7-.8l.8,3l.7-2.4l.8,2l.7-4.8l.7,3.2l.8-2l.7,1.7l.8,3.3l.7-.5l.7-2.1l.8,3.2l.7-4.7l.7,3.1l.8-5l.7,6.5l.8,.7l.7-4.7l.7,2.8l.8,2.2l.7-5.9l.7,2.9l.8,.4l.7,1.6l.8-2.1l.7,.3l.7,1.5l.8-.7l.7-1.6l.7,3.2l.8-5.4l.7,3.7l.8,1.2l.7-1.8l.7,2.7l.8-3.4l.7-1.6l.8,4l.7-.7l.7-.6l.8,2.2l.7-.4l.7,.5l.8-.8l.7-2.1l.8,2.3l.7-1.5l.7,1.5l.8-4l.7,4.2l.7-2.2l.8,.3l.7,2l.8,.2l.7-3.1l.7,2.4l.8,.3l.7-1.3l.8-1.5l.7,2.4l.7-3.4l.8,4.2l.7-2.6l.7,2.6l.8-4.2l.7,4.1l.8-.8l.7-.4l.7-.8l.8-2.6l.7,.8l.7,.2l.8,3.3l.7-3.1l.8-.1l.7,2.4l.7-.7l.8,2.3l.7-3.7l.7,2.4l.8-4.3l.7,3.7l.8-5.9l.7,2.7l.7-.7l.8-1.5l.7-3l.8-6.6l.7-12.5l.7-5.5l.8,3l.7,7.3l.7,6.7l.8,16.1v3H62.4Z"/>
<path d="M62,118.9V115.9l.7-8.9l.8-9.7l.7,3.4l.8-3.7l.7-1l.7-1.1l.8-4.6l.7-2l.7-4.7l.8-2.6l.7-.5l.8,2.6l.7,1.4l.7,.5l.8-.2l.7-1.6l.7,2l.8,2.5l.7,.8l.8-2l.7-1.6l.7,3.3l.8-2.4l.7-3l.7-3.4l.8-2.6l.7,1.7l.8-1.4l.7-2.3l.7-1.6l.8-.8l.7-1l.8-6l.7-8.6l.7-8.5l.8,.8l.7,7.5l.7,7.8l.8,6.5l.7,7.3l.8,4.5l.7,1.9l.7,3.9l.8,3.6l.7,2.9l.7,.8l.8,.1l.7,1.1l.8-2.9l.7,.1l.7,1.5l.8-4.9l.7,4.4l.8-8.3l.7-10.9l.7-19.3l.8-13.5l.7,12.5l.7,14.4l.8,7.6l.7,3.2l.8,1.8l.7,5.7l.7,6.1l.8,1.8l.7,.1l.7,1.5l.8,4.2l.7-4.2l.8,1.9l.7,3.6l.7-3.9l.8-1l.7,1.7l.8,2.6l.7,1.8l.7-3.6l.8,2.5l.7,1l.7,1.3l.8,1.7l.7,2.1l.8-3.2l.7-3l.7,1l.8,3.3l.7-4.7l.7,4l.8,1.8l.7-4.3l.8-.8l.7,4l.7,1.9l.8-2.5l.7,5.3l.7-5.5l.8-3.2l.7,2.8l.8,2l.7-2.9l.7,2.2l.8-3.4l.7,2.7l.8-4.5l.7,3.2l.7-2l.8-.6l.7-3.3l.7-6.6l.8-4.5l.7,2.4l.8,4.7l.7,5.4l.7,3.1l.8,1.1l.7,.3l.7,.1l.8-.5l.7,2l.8,2.4l.7,.2l.7-1.9l.8,3.5l.7-2.1l.8,.6l.7-.5l.7-.5l.8-1.8l.7-1.2l.7,1.7l.8-.2l.7,4.7l.8-4.5l.7-.6l.7,6l.8-8.6l.7,6.9l.7,3.1l.8-8.1l.7,3.8l.8,1.9l.7-.4l.7-3.6l.8,1.8l.7,1.5l.7-3.4l.8,4.7l.7-.2l.8-.6l.7,.5l.7-3.1l.8,2l.7,1.9l.8-1.3l.7,2.8l.7-4.1l.8,.2l.7-1.1l.7,1.9l.8-1.3l.7,2.9l.8-2l.7-.3l.7,3.1l.8-4l.7,1l.7,.3l.8,1.2l.7-5.4l.8,4.4l.7,1.7l.7,.3l.8-3.2l.7,1.8l.8,1.3l.7-.1l.7-3.6l.8,1.9l.7-2.1l.7,2.4l.8,2.6l.7-4.5l.8,1.3l.7,2.2l.7-.8l.8,1.5l.7-3.9l.7,2.8l.8-1.9l.7,.5l.8,1.2l.7-1.4l.7,1.4l.8,2.1l.7-1.7l.7,1.6l.8-4.1l.7,.3l.8,2.8l.7-2.7l.7,.9l.8-1.6l.7,4.3l.8-2.1l.7,2.3l.7-.7l.8-4.5l.7,2.9l.7,2.2l.8-3l.7-.6l.8,3.5l.7-2.3l.7,.6l.8-.8l.7-1.6l.7,.5l.8,3.6l.7-4.6l.8,3.4l.7-1.8l.7,1.8l.8-3.9l.7,4.6l.8-2.2l.7,1.8l.7-1.2l.8-.2l.7,2.2l.7-1.1l.8,.8l.7-.8l.8-.7l.7-.4l.7-3.1l.8,3.2l.7-.7l.7,.1l.8,2.5l.7-1.8l.8,.2l.7,2.1l.7-3.9l.8-2.7l.7,2.6l.7-.4l.8-.9l.7,2.4l.8-2.9l.7,2.1l.7-1.8l.8-2.3l.7-3.8l.8-5.5l.7-12l.7-7.4l.8,5.5l.7,7.7l.7,6l.8,15.6v3H62Z"/>
<path d="M61.5,119.4V116.4l.7-10.7l.8-7.5l.7,1l.8-1.1l.7-1.2l.7-3.5l.8-2.7l.7-1.2l.7-4.8l.8-3.5l.7,.7l.8,.5l.7,3.5l.7-.8l.8-.2l.7-.3l.7,2.2l.8,1.9l.7-2.1l.8,.2l.7,0l.7,1l.8-.6l.7-2.8l.7-1.4l.8-4l.7,.3l.8-3.9l.7,2.8l.7-.1l.8-4.7l.7-3l.8-3.1l.7-10.5l.7-7.2l.8,.6l.7,7.6l.7,6l.8,8.3l.7,4.2l.8,9.1l.7-.4l.7,6.3l.8,1.9l.7,4.4l.7-.5l.8,.7l.7,1.4l.8-1.6l.7-2.1l.7-2.9l.8-.4l.7,1.2l.8-5.2l.7-11.3l.7-20l.8-12.3l.7,12.4l.7,13.6l.8,8.2l.7,3.9l.8,4.6l.7,2.2l.7,5l.8-2.2l.7,7l.7,1.3l.8,1.7l.7-.9l.8-.5l.7-2.9l.7,5.4l.8-.1l.7-.1l.8-.7l.7,1.3l.7,1.6l.8-1.9l.7,3.1l.7,.1l.8,2.7l.7-.5l.8-1.8l.7-1.3l.7-3.4l.8,4l.7,2.8l.7-2.7l.8-.4l.7,.9l.8-4.4l.7,4.7l.7-1.7l.8,1.3l.7,3.5l.7-3.3l.8-.1l.7-2.3l.8,6.5l.7,.6l.7-5.8l.8,.3l.7-.6l.8-.1l.7,.1l.7-1.4l.8-2l.7-2.4l.7-5.8l.8-3.6l.7,.6l.8,5.9l.7,6.1l.7,2.4l.8,1.7l.7,1.4l.7,1.9l.8-3.8l.7,3.6l.8-1.1l.7,2.1l.7-2.1l.8-1l.7-1.6l.8,1.5l.7,4.5l.7-4.9l.8,2.2l.7,.2l.7,1.3l.8,2.3l.7-3.1l.8,1.9l.7-1.5l.7-3.7l.8,3l.7-1l.7-1.1l.8,6.1l.7-2.9l.8-5l.7,.8l.7,3.9l.8,4.4l.7-5.8l.7-1.7l.8,5.7l.7-4.8l.8,3.1l.7,1.5l.7-4.4l.8,3.1l.7,2.7l.8-4.1l.7-2l.7-1l.8,6.1l.7-6.2l.7,3.3l.8-.2l.7,2.3l.8-.4l.7,.5l.7-1.9l.8,1.2l.7,3l.7-3l.8,.6l.7-3.8l.8,2l.7-2.2l.7,1.4l.8,3.6l.7-.3l.8-2.8l.7,4.3l.7-4.2l.8,3.6l.7-2.1l.7-.9l.8,1.8l.7,2l.8-1.1l.7,.2l.7-.8l.8-2.5l.7,2.3l.7-1.7l.8-2.6l.7,4.7l.8-6.2l.7,6.6l.7-.3l.8-1.6l.7,3.1l.7-2.6l.8,2.2l.7-4.6l.8,2.6l.7-5.8l.7,5.4l.8-1.3l.7,1l.8,2.3l.7-1.1l.7,1.5l.8,.3l.7-3.3l.7,1.2l.8-3.9l.7-.6l.8,6.5l.7-2l.7-.1l.8,.8l.7-1.7l.7-.4l.8,3.4l.7-4.9l.8,3.5l.7-.1l.7-2.3l.8,.2l.7,1.1l.8,.9l.7,1.7l.7-2.8l.8-1.5l.7,0l.7,4.3l.8-3.6l.7,.3l.8,1l.7-3.5l.7,5.8l.8-3l.7-.2l.7,2.6l.8-3.1l.7-.3l.8,2.9l.7-3.6l.7,3.7l.8,.3l.7-.1l.7-.1l.8-3.3l.7,3.5l.8-2.4l.7-.1l.7-1.8l.8-1.4l.7-4.5l.8-6.9l.7-11.4l.7-6.9l.8,5l.7,9l.7,6.7l.8,13.6v3H61.5Z"/>
<path d="M61,119.4V116.4l.7-10.7l.8-9l.7,1.1l.8,3l.7-4.5l.7-2.6l.8-1l.7-3.5l.7-5.2l.8-2.7l.7,.7l.8,1.9l.7,3.9l.7-2.1l.8,.5l.7-1.6l.7,2.7l.8,1.1l.7,.2l.8-4.5l.7,5.3l.7-.6l.8-2l.7-3.9l.7-2.2l.8-2.9l.7,.4l.8-.2l.7-.2l.7-3.1l.8-.8l.7-1.2l.8-5.4l.7-10.4l.7-7.5l.8,2l.7,7.1l.7,6.7l.8,5.8l.7,7.8l.8,5.6l.7,2.2l.7,3.4l.8,3.7l.7,2.1l.7,.2l.8,3.1l.7-.9l.8-3.4l.7-1l.7-1l.8,2.1l.7-1.9l.8-5.5l.7-10.6l.7-19.7l.8-12.8l.7,12l.7,16.1l.8,6l.7,1.4l.8,6.2l.7,4l.7,4l.8,4.9l.7-.2l.7,2.1l.8-4.6l.7,5.5l.8,3.4l.7-6.2l.7,.1l.8,2.2l.7,0l.8-.2l.7,3.5l.7-.7l.8,.3l.7-2.8l.7,1l.8,2.9l.7,3.6l.8-4.6l.7,2.2l.7-2.4l.8,2.5l.7-.1l.7-.9l.8,3.1l.7-.1l.8-6.3l.7,6.9l.7-3.8l.8,.6l.7-.2l.7-1.1l.8,5.8l.7-4.8l.8,5.9l.7-4.2l.7-.6l.8-1.4l.7-.4l.8,3l.7-1.8l.7-1.4l.8-1.4l.7-3.4l.7-5.5l.8-5.7l.7,1.5l.8,5.9l.7,3.5l.7,4.4l.8,3.3l.7,.6l.7-.7l.8-.9l.7-.1l.8,4.3l.7-3.3l.7,3.1l.8-2.2l.7-.5l.8-1.1l.7,4.4l.7-1.5l.8-.3l.7,1.9l.7-1l.8-1l.7,4.9l.8-2.1l.7-6.2l.7,4l.8,2.2l.7,2.8l.7-1.8l.8-3.2l.7-.2l.8,.5l.7-.2l.7,2.5l.8-4.6l.7,5.9l.7-3.5l.8,1.7l.7,3.1l.8-5.5l.7,2.6l.7-2.2l.8-1.1l.7,2.4l.8,1.8l.7-.9l.7-.2l.8-3.3l.7,1.4l.7-1.6l.8,1.8l.7,3.3l.8-3.5l.7-.1l.7,2.4l.8-1.3l.7,1.8l.7,2l.8-2.4l.7-1.9l.8,2.5l.7,1.3l.7-.3l.8-4l.7,1.9l.8-1.9l.7,4.1l.7-.7l.8,1.3l.7-.5l.7-2.7l.8,.8l.7,1.4l.8-1.6l.7,3.5l.7-2l.8,1.8l.7-.1l.7,.3l.8-.3l.7-5.7l.8,.4l.7,.4l.7,3.9l.8-2.5l.7,3.8l.7-1.2l.8-1.7l.7,2l.8-1.8l.7-.9l.7,1.6l.8-.8l.7,1.2l.8-.3l.7-.5l.7,2.2l.8-3.1l.7,1.1l.7,1.8l.8-5l.7,2.9l.8-.9l.7-2.4l.7,5.1l.8-.6l.7-.5l.7,.6l.8-1.4l.7-4.5l.8,4.2l.7,.8l.7,1.3l.8,.9l.7-2.2l.8,1l.7-.8l.7-.5l.8,2.4l.7-1.3l.7,1.3l.8-3.1l.7,0l.8,2.5l.7-.2l.7,.2l.8-.2l.7-5.8l.7,4.7l.8-1.9l.7,.6l.8-2.1l.7,3.9l.7,1.2l.8-4.3l.7,.1l.7,3.3l.8-4.1l.7,2.1l.8-.4l.7-2.1l.7-.1l.8-1.6l.7-3l.8-7.1l.7-12.6l.7-6.3l.8,5.9l.7,7l.7,6.9l.8,14.7v3H61Z"/>
<path d="M60.6,120.3V117.3l.7-11.1l.8-5.5l.7-2.3l.8,.7l.7-4.4l.7,1.3l.8-2.8l.7-4.8l.7-3.2l.8-2.6l.7,.5l.8,.7l.7,4.2l.7-.3l.8-.7l.7-2l.7,1.3l.8,1l.7,.9l.8,1.7l.7-3.2l.7,3.1l.8-1.5l.7-2.3l.7-3.8l.8-2.4l.7-2.5l.8,4.8l.7-5.1l.7-1.2l.8-2.6l.7-.2l.8-4.2l.7-10.5l.7-7.8l.8,2.4l.7,6.8l.7,6l.8,7.3l.7,6.1l.8,5.1l.7,2.8l.7,4.8l.8,1.2l.7,1.9l.7,3.2l.8-.3l.7,.1l.8-.6l.7-1.5l.7-.1l.8-.4l.7-.4l.8-7l.7-10l.7-19.1l.8-14.1l.7,14.4l.7,13.2l.8,9.7l.7-.2l.8,4.5l.7,5.4l.7,2.8l.8,2.4l.7,3.4l.7,0l.8-1l.7,8.3l.8-4l.7-1.7l.7-.2l.8,3.9l.7-5.7l.8,1.5l.7,1.4l.7,5.5l.8-.4l.7-.6l.7-3.7l.8-2.6l.7,7.6l.8,.3l.7-.8l.7,1.5l.8,.9l.7-1.3l.7,1.7l.8-.3l.7-4.8l.8,3.3l.7-2.1l.7-.9l.8,.6l.7,.9l.7-.7l.8,2.2l.7-2.5l.8,6.5l.7-7.4l.7,5l.8-2.2l.7,1.1l.8-3.5l.7-.2l.7,1.1l.8-2.4l.7-4.4l.7-5.4l.8-4.8l.7,1.6l.8,5.8l.7,3.8l.7,3.6l.8,2.6l.7,.8l.7,.3l.8,2.6l.7-.2l.8,.3l.7-2l.7,3.9l.8-4.7l.7,.2l.8,2.4l.7-3.9l.7,4.9l.8-2.1l.7-5.1l.7,5l.8,.2l.7,.2l.8,.6l.7,1l.7,1.7l.8-3.1l.7,2.9l.7,1.9l.8-5.3l.7,2.2l.8-1.6l.7,.6l.7-.9l.8,1.7l.7,3.5l.7-.1l.8-4.6l.7,.4l.8-1.2l.7,4.2l.7-1.1l.8-1.2l.7-.9l.8,1l.7,1.1l.7,0l.8,3.4l.7-3.8l.7-1.8l.8,1.8l.7,2.7l.8-4.2l.7,1.9l.7,3.1l.8-1.4l.7-2.6l.7,2.5l.8,.1l.7-4.2l.8,3.7l.7,1.6l.7-1l.8,.9l.7-2.8l.8,1.8l.7,1.1l.7-4.4l.8,1.9l.7,.4l.7-.5l.8-.9l.7,3.7l.8-2l.7-1.8l.7,3.4l.8-3.2l.7,2.8l.7-2.2l.8,3.4l.7-3l.8-2.2l.7,.7l.7,2.3l.8,1.1l.7-1.4l.7-.5l.8,2.4l.7-2.3l.8,2.9l.7-3.8l.7,2.1l.8-.1l.7-2.9l.8,1.7l.7-2.2l.7,4.7l.8,.1l.7-2.2l.7-1.5l.8-.2l.7,2.2l.8,2l.7-3.3l.7,.7l.8,1.9l.7-.9l.7-.1l.8-2.6l.7,3.1l.8-.7l.7-1l.7-3.2l.8,4.7l.7,.7l.8-.4l.7-2.7l.7,2.6l.8-.5l.7-2.4l.7,3.7l.8-1.2l.7-.7l.8-.2l.7,2.4l.7-.8l.8-1.2l.7-2l.7,4l.8-3.5l.7,1l.8,2.6l.7-.9l.7-1.4l.8-.7l.7-1.5l.7,4.5l.8-2l.7-3.4l.8,1.1l.7,.5l.7-1l.8-1.8l.7-4.9l.8-4.9l.7-13.4l.7-5.9l.8,5.5l.7,7.3l.7,7.5l.8,13.5v3H60.6Z"/>
<path d="M60.1,121V118l.7-9.6l.8-5.3l.7-3l.8-2l.7,.5l.7-4.1l.8,.1l.7-4l.7-4.8l.8-2.5l.7,.2l.8,1.8l.7,1.3l.7-.7l.8-.7l.7-1.1l.7,3.6l.8,3.6l.7-1.4l.8,.6l.7,.6l.7-1.3l.8-1.7l.7-1.8l.7-3.8l.8-.5l.7-3.8l.8,1.9l.7-2.1l.7-2.9l.8,1.4l.7-4.3l.8-2.9l.7-9.3l.7-8.6l.8,1.5l.7,8.7l.7,5.3l.8,6.3l.7,7.7l.8,4.9l.7,3.5l.7,.9l.8,5.2l.7,2.4l.7,1.6l.8,0l.7-.4l.8-1.7l.7-.7l.7,2.2l.8-.7l.7-5l.8-4.9l.7-9l.7-20.2l.8-12l.7,10.7l.7,15.6l.8,9.1l.7,.8l.8,3.8l.7,4.7l.7,3.8l.8,2.8l.7,1.9l.7,2.9l.8,.1l.7-1.8l.8,.1l.7,3.7l.7-1.6l.8-4.2l.7,2.5l.8-1.3l.7,7.4l.7-.1l.8,3l.7,0l.7-3.1l.8,1.8l.7,.4l.8-.7l.7-.9l.7-2.1l.8,.8l.7,5.2l.7-7l.8,4.1l.7,1.6l.8-2.1l.7,.9l.7,2.3l.8-6.4l.7,4.7l.7,.1l.8-2.5l.7-2.2l.8,2.4l.7,2.6l.7-2.7l.8-1.3l.7,1l.8-.8l.7,1.1l.7-1.8l.8-.1l.7-4.7l.7-5.1l.8-5.3l.7,.7l.8,8.4l.7,4.1l.7,2.7l.8,.6l.7-.9l.7,3.9l.8,.6l.7-3.3l.8,1.8l.7,0l.7-.5l.8,3.5l.7-2l.8,2.1l.7,.3l.7-1.8l.8-.6l.7,3.9l.7-1l.8-3l.7,1.1l.8-1l.7,2.2l.7,1.1l.8-3.4l.7,.4l.7,4.7l.8-5.1l.7,3.6l.8-3.1l.7-2l.7,4.2l.8,1.5l.7-2.6l.7,.4l.8-1l.7,4.4l.8-3.6l.7-1.4l.7,.4l.8,.2l.7-1.2l.8,4.5l.7-4.5l.7,2.3l.8,2.7l.7-1.5l.7-1.2l.8-.1l.7-2.2l.8,2.6l.7,1.6l.7-5.9l.8,5.6l.7,1.1l.7-3.8l.8,3l.7,.8l.8,.7l.7-5l.7,5l.8-2.5l.7,1.3l.8-.6l.7,1.4l.7-2.1l.8-.9l.7-1l.7,3.2l.8,1.8l.7,.3l.8-2.8l.7,.5l.7-3.4l.8,2.9l.7-.1l.7,2.8l.8-1.1l.7,.3l.8-3.1l.7,2.4l.7-2.2l.8,.3l.7,2l.7-.3l.8-3.3l.7,4l.8-1.4l.7,.6l.7,1.8l.8-6.8l.7,5.1l.8-1.7l.7,2.5l.7-4.1l.8,.6l.7,0l.7,.5l.8,.6l.7-1.5l.8,2.2l.7,.7l.7-1.5l.8,3.6l.7-3.7l.7,.2l.8,1.5l.7,1.8l.8-.9l.7,.9l.7,.3l.8-2.3l.7,.2l.8-1.6l.7,2.1l.7-1.7l.8-.1l.7,3.1l.7-1.6l.8,1.5l.7-.9l.8,.5l.7-6l.7,6.3l.8-2.5l.7,2.7l.7-3.3l.8,2.9l.7-3.5l.8,1.6l.7,1.3l.7,1l.8-5.8l.7,4.8l.7-4.6l.8,3.5l.7,1.8l.8-7.1l.7,2l.7,.3l.8-2.6l.7-3.1l.8-6l.7-12.3l.7-5.8l.8,5.2l.7,6.7l.7,6l.8,15.4v3H60.1Z"/>
<path d="M59.6,121V118l.7-8.9l.8-11l.7,2.4l.8-2.2l.7,2l.7-4.7l.8-2l.7-2.3l.7-4.7l.8-3.2l.7-.7l.8,2.5l.7,2.4l.7,.5l.8-3.3l.7,1.1l.7,1.8l.8,1.1l.7,.7l.8,.3l.7,.5l.7-3l.8,1.6l.7-1.3l.7-2.3l.8-4.2l.7-.5l.8,.1l.7-1.5l.7-2.4l.8-2l.7-.7l.8-4.6l.7-8.9l.7-8l.8,1l.7,8l.7,6.7l.8,4.8l.7,10.3l.8,3.9l.7,1.8l.7,4l.8,.8l.7,6.3l.7-2l.8-1.5l.7,1.3l.8,.6l.7-3.6l.7,1.4l.8-2.7l.7,1.3l.8-6.1l.7-10.6l.7-18.8l.8-14.1l.7,12.9l.7,15l.8,7.1l.7,3.7l.8,3.3l.7,2.7l.7,5.4l.8,.6l.7,4.4l.7,3.1l.8-.1l.7-3l.8,.9l.7,1.2l.7,3.6l.8-3l.7,3.6l.8-4.1l.7,.7l.7,2.9l.8-.1l.7,.3l.7,1.5l.8,.9l.7-.6l.8-3.3l.7-1.6l.7,7.4l.8,0l.7-.1l.7-.4l.8-2.2l.7,1.3l.8,.6l.7-2.1l.7,2.9l.8-.5l.7-2.6l.7,2.2l.8-.1l.7-5.1l.8,4.8l.7,1.6l.7,.1l.8-4.5l.7,.1l.8-.9l.7,1.1l.7-3.2l.8-1.9l.7-2l.7-4.3l.8-4.4l.7,.8l.8,4.9l.7,5.7l.7,4.1l.8,.2l.7,3.7l.7-1.4l.8-2.2l.7,4.1l.8-1.2l.7-1.1l.7,4.7l.8-2.5l.7-2.1l.8,3.3l.7,1.2l.7-1.7l.8-2.7l.7,1.9l.7,1.3l.8-.2l.7-2.5l.8-4.2l.7,7.6l.7-3.8l.8,3.1l.7-.8l.7-.1l.8-.5l.7-.2l.8-3.8l.7,6l.7,3l.8-6.6l.7,3.9l.7,.5l.8-2.2l.7,2.5l.8-2.2l.7,1.4l.7-2.3l.8,3.8l.7-.2l.8-1.2l.7,3.6l.7-3.9l.8,2.5l.7,0l.7,1.1l.8-2.1l.7-3.4l.8-.3l.7,6.4l.7-.9l.8-1.4l.7-3.3l.7,1.4l.8,2.3l.7,1.4l.8-6l.7,4.7l.7,.5l.8-5.7l.7,3.4l.8,1.8l.7-2.2l.7,1.8l.8-1.7l.7-1.3l.7,5.1l.8-6.1l.7,4l.8-1.9l.7-.7l.7,1.9l.8,.1l.7,.7l.7-1.7l.8,.3l.7-.7l.8,2.2l.7,0l.7-2.1l.8,3.3l.7-2.1l.7-.4l.8,2.9l.7-1.6l.8,.7l.7-1l.7,1.6l.8-3.6l.7-.1l.8,.9l.7-.2l.7,3.5l.8-4l.7-.1l.7,1.3l.8,.5l.7-2.1l.8,2.6l.7-.6l.7-.8l.8-1.8l.7,.3l.7,1.2l.8-.6l.7,1.8l.8,2.2l.7,.3l.7-.7l.8-2.4l.7,2l.8-3.7l.7,1.4l.7,.1l.8-.4l.7,.9l.7-1.3l.8,4.1l.7-1l.8-.5l.7-1l.7-.1l.8-.8l.7,2.6l.7-.1l.8-1.4l.7,1.4l.8-6.3l.7,6.8l.7-1.5l.8,.4l.7-2l.7-.4l.8,1.8l.7,1.8l.8-5.7l.7,2.8l.7-1.9l.8-2.4l.7-2.8l.8-6.6l.7-11.7l.7-7.4l.8,6l.7,6.3l.7,7.8l.8,14.3v3H59.6Z"/>
<path d="M59.1,121.5V118.5l.7-8.8l.8-9.6l.7,1.8l.8-.4l.7-1l.7-3.6l.8-1.1l.7-4.8l.7-3.9l.8-2.9l.7,.8l.8,1.4l.7,1.1l.7,2.6l.8-3.3l.7,.4l.7,2l.8,.4l.7,.1l.8,1.1l.7,.8l.7-2.9l.8,1.2l.7-3.2l.7-3.4l.8-3.5l.7-1.2l.8,1.1l.7,0l.7-2l.8-1.7l.7-1.8l.8-6.3l.7-6.9l.7-7.5l.8,.4l.7,8.8l.7,4.6l.8,9.1l.7,6.5l.8,4.2l.7,3.4l.7,4.3l.8-.2l.7,2.8l.7-.6l.8,3.9l.7,1l.8-4.2l.7-.2l.7-2.1l.8,4.5l.7-3.7l.8-6.7l.7-11.9l.7-16.8l.8-13.2l.7,12.3l.7,13.8l.8,6.4l.7,6.4l.8,2.3l.7,6l.7,2.4l.8,3.2l.7-.4l.7,0l.8-1.7l.7,5.7l.8-2.3l.7,1.1l.7,.3l.8-3.7l.7,3.3l.8-1.1l.7,3.4l.7-.5l.8,1.2l.7,1.8l.7,1.7l.8-.3l.7-.6l.8,1l.7,.2l.7,.9l.8-3.3l.7,2.6l.7-.2l.8,.4l.7-3.3l.8,4.1l.7-4.2l.7,5.1l.8-5.2l.7,2.1l.7,2.4l.8-2l.7-1.3l.8,4.1l.7-1.5l.7-1.1l.8,.8l.7-.2l.8-1l.7-1.1l.7-1.8l.8-2.6l.7-1.3l.7-7.6l.8-2.3l.7,.4l.8,6.8l.7,5.9l.7,1.9l.8,1.7l.7-1.2l.7,5.9l.8-1.8l.7-.5l.8-1.2l.7,.7l.7-.7l.8,2.2l.7,.3l.8-3l.7-1l.7,3l.8,.6l.7,2.3l.7-6.4l.8,3.9l.7-.4l.8,4.9l.7-4.7l.7-3.9l.8,5.7l.7,.1l.7-3.8l.8,3.9l.7-2.3l.8-2.3l.7,6.9l.7-.8l.8-3.2l.7,1.3l.7,.2l.8,.5l.7-.6l.8-.5l.7,1.9l.7-.4l.8-1.1l.7,2.9l.8-3.3l.7,4.4l.7-4.7l.8,1.7l.7,2.3l.7-5.4l.8,5.5l.7-7l.8,6.1l.7-4.2l.7,2.8l.8-3.6l.7,4l.7-2.7l.8,3l.7,2.4l.8-3.9l.7-.1l.7,.2l.8-2.7l.7,5.3l.8,1.5l.7-3.6l.7,2.1l.8-1.3l.7-.2l.7,1.9l.8-4.2l.7,2.7l.8-4.1l.7,3.4l.7-1.7l.8,2.9l.7,.9l.7-.3l.8,.8l.7-2.8l.8,.7l.7,2.7l.7-.4l.8,0l.7-.7l.7,.8l.8-.2l.7-3.2l.8,3.9l.7-1l.7-1l.8-.3l.7-.8l.8-.7l.7,.3l.7,2.2l.8-3.5l.7,2l.7,2.4l.8-4.8l.7,4.7l.8-2.4l.7-1.7l.7,2.5l.8-.4l.7,.5l.7-1.2l.8,1l.7,.5l.8-1.6l.7,1.1l.7-.1l.8,1.2l.7-4.9l.8,3.6l.7,2.1l.7-2.9l.8,2.3l.7,.3l.7-.6l.8-1.7l.7-1.5l.8,.3l.7,1.8l.7,.8l.8-.8l.7-2.2l.7,2.8l.8-2.8l.7,4.2l.8-1.7l.7-1.8l.7,.1l.8,1l.7,1.4l.7,.2l.8-.8l.7,.6l.8-1.4l.7-2.7l.7,.7l.8-3.1l.7-2.7l.8-5.9l.7-12.9l.7-7.3l.8,6.6l.7,7.8l.7,5.9l.8,14.5v3H59.1Z"/>
<path d="M58.7,122.1V119.1l.7-9.9l.8-7.7l.7-2.9l.8,0l.7,2.6l.7-3l.8-2l.7-4.6l.7-4l.8-4.2l.7,1.7l.8,1.3l.7,2.3l.7,2.3l.8-4l.7,1l.7,3.4l.8-1.9l.7,2.7l.8-1.1l.7,1.4l.7-2l.8-.7l.7-4.3l.7,1.2l.8-5.8l.7,.9l.8-.5l.7-1l.7,0l.8-2.9l.7-.8l.8-6.2l.7-8.7l.7-8l.8,2.5l.7,7.2l.7,6.1l.8,6.4l.7,6.3l.8,5l.7,3.9l.7,2.7l.8,1l.7,3.8l.7,2.6l.8-3.3l.7,4.3l.8-3.1l.7-2.3l.7-.5l.8-.1l.7-3.5l.8-4.1l.7-8.4l.7-19.3l.8-14.4l.7,13.3l.7,15.4l.8,5.3l.7,4.6l.8,2.3l.7,3.8l.7,3.5l.8,5l.7-.8l.7,4l.8,1.8l.7-2.6l.8-.1l.7,3.5l.7-3.1l.8,2.5l.7-1.2l.8-.9l.7,.9l.7,5.3l.8,.8l.7-.4l.7,.7l.8-3.3l.7-2.7l.8,7.2l.7-1.7l.7-.2l.8-2.1l.7,0l.7,2.7l.8-.6l.7,1.6l.8,.4l.7-.3l.7-1.2l.8-1.6l.7,4.4l.7-4.3l.8,5.5l.7-5.8l.8,0l.7-1.1l.7,6.2l.8-4.6l.7,2.1l.8-2.3l.7-1.7l.7,1.8l.8-2.9l.7-2.5l.7-5.9l.8-3.6l.7,.3l.8,7.7l.7,3l.7,1.4l.8,.5l.7,5.2l.7-2.7l.8,3.1l.7,3.1l.8-6l.7,2.3l.7-.7l.8,.5l.7-.6l.8,3.6l.7-2.8l.7,1.8l.8-.7l.7,1.7l.7-3.5l.8-.1l.7,1.6l.8-1.7l.7,4.5l.7-5.8l.8,5.6l.7-1l.7-.4l.8-2.6l.7,1.7l.8,0l.7,2.7l.7-4.1l.8-.1l.7,5.1l.7-1.7l.8-2.5l.7-.1l.8,5.2l.7-1.5l.7-2.2l.8,1.2l.7-1.4l.8,2.7l.7,.1l.7-2.7l.8,.2l.7,3.1l.7-4.5l.8,1.3l.7,.8l.8,0l.7-1.7l.7,1.4l.8,.8l.7-.1l.7-3l.8-.5l.7,4.8l.8,.6l.7,0l.7-.2l.8-.6l.7,1.3l.8-3.2l.7,.9l.7-.5l.8,4l.7-2.7l.7-1.6l.8,4.2l.7-.7l.8-2.2l.7-7.4l.7,9l.8-1.1l.7-1.7l.7-1.7l.8,1.9l.7,2l.8-.7l.7-1.1l.7,.9l.8-1.1l.7,2.9l.7-2.1l.8,1.7l.7,.5l.8-1.1l.7-2.5l.7,2l.8-.2l.7,.4l.8,.1l.7,.5l.7,.3l.8-.8l.7-.3l.7,2l.8-.1l.7,.7l.8-3.2l.7,1.7l.7-1l.8,.1l.7-.3l.7,.5l.8-1.4l.7-.5l.8,.6l.7,1l.7-1.7l.8,3.4l.7,.3l.8-1l.7-.4l.7,1.6l.8-1.9l.7-2.8l.7,2.3l.8,2.1l.7-2.5l.8,.1l.7,.5l.7-1.3l.8,3.5l.7-4l.7,3l.8-.7l.7-1.6l.8,.3l.7,2.2l.7-.7l.8,1.3l.7,.3l.7-2.9l.8-3.9l.7,5l.8-4.7l.7,3l.7-1.6l.8-2l.7-4.9l.8-5.3l.7-10.2l.7-7.9l.8,4.1l.7,8.6l.7,5.7l.8,15.5v3H58.7Z"/>
<path d="M58.2,122.7V119.7l.7-12.3l.8-5.5l.7,.8l.8,.9l.7-3.9l.7-2.2l.8,.2l.7-4.8l.7-4.7l.8-1.5l.7-1.3l.8,3.2l.7,1.9l.7-1.1l.8-1.7l.7-.4l.7,3.5l.8,0l.7,3.8l.8-.2l.7-3.1l.7,.7l.8,0l.7-.5l.7-4.9l.8-6.4l.7,4.9l.8-1.1l.7-3.9l.7,1.2l.8-2.8l.7-2.2l.8-5.4l.7-7.7l.7-8.9l.8,2.2l.7,7.2l.7,5.8l.8,7.1l.7,8.3l.8,4.3l.7,2.8l.7,2.1l.8,4.3l.7,1.2l.7,1.3l.8-.7l.7,.9l.8-2.2l.7-1l.7,1.4l.8-1.2l.7-.9l.8-6.6l.7-11.1l.7-17.7l.8-13.1l.7,11.9l.7,15.5l.8,6.9l.7,2.6l.8,3.2l.7,3l.7,6l.8,6l.7-1l.7,1l.8,1l.7-1.2l.8,1.3l.7-3.2l.7,3.9l.8-.9l.7,1.3l.8-4.6l.7,7.4l.7,.7l.8-.8l.7-2l.7,2l.8,.7l.7,3l.8,1.6l.7-3.8l.7,.2l.8-4.1l.7,3.1l.7,0l.8-1.1l.7,4.1l.8,.9l.7-1.9l.7-3.9l.8,1.2l.7,3.4l.7,1.4l.8-4.6l.7-.2l.8,4.3l.7-5.3l.7,4.5l.8-3l.7,1.4l.8-.3l.7-.3l.7-3l.8-1.8l.7-3.4l.7-4.3l.8-4.3l.7-.1l.8,5.7l.7,6.1l.7,4l.8-1.9l.7,3.1l.7,.8l.8-.9l.7,1.2l.8,.8l.7-3.5l.7,7.8l.8-4.9l.7,3.6l.8-2.1l.7,.6l.7-.8l.8,5.9l.7-6.6l.7-3.4l.8,6l.7-2.8l.8,.7l.7,.8l.7,1.8l.8-2.5l.7,.9l.7-2.5l.8,1.3l.7,3.4l.8,1.5l.7-6.2l.7,2.3l.8,.7l.7,1.8l.7-6.7l.8,2.5l.7,2.7l.8,1.1l.7-2l.7-1.7l.8,1.9l.7-.9l.8,1.5l.7-.1l.7,3.5l.8-3l.7,.2l.7,.4l.8,.4l.7-1.2l.8,2l.7-.8l.7,2.4l.8-7.8l.7,7l.7,.7l.8-1.4l.7-.2l.8,1.4l.7-.7l.7-5.1l.8,1.4l.7,3.1l.8-2l.7,3.6l.7,.6l.8-3.6l.7-.5l.7,2.8l.8-1.5l.7-.5l.8,.9l.7-2.6l.7,2l.8,0l.7-.8l.7,2.4l.8,1.7l.7,0l.8-3.2l.7,1.9l.7-.2l.8-3l.7,2.3l.7-2.5l.8-2.2l.7,5.8l.8,.7l.7-4.3l.7-.7l.8,2.2l.7,.1l.8-.7l.7,.1l.7,3.1l.8-3.2l.7-.5l.7,3.1l.8,1.2l.7-.9l.8,.2l.7-2.4l.7-.5l.8,1.7l.7,.7l.7-.9l.8,1.2l.7,.5l.8-.2l.7-2l.7,.4l.8-7.3l.7,9.4l.8-.6l.7,0l.7-.6l.8,.1l.7-2.9l.7,1.7l.8-1.5l.7,.6l.8,2.5l.7,.4l.7-2l.8-.7l.7,1.5l.7-.1l.8-.4l.7,1.8l.8-2.5l.7-.7l.7,1.1l.8,2.3l.7-2.4l.7,.1l.8-1.2l.7,1.3l.8-3.2l.7,.3l.7-.8l.8-1.4l.7-4.1l.8-5.8l.7-11.9l.7-5.8l.8,3.9l.7,7l.7,8.1l.8,14.1v3H58.2Z"/>
<path d="M57.7,123.2V120.2l.7-10.1l.8-4.3l.7,0l.8-4.2l.7-3.5l.7,0l.8-.9l.7-4.8l.7-3.4l.8-2.7l.7-.3l.8,2.1l.7-.2l.7,1.9l.8-.4l.7-1.3l.7,.3l.8,1.5l.7,5.7l.8-2.5l.7-.1l.7-2.5l.8,.6l.7-3.5l.7-.1l.8-1.7l.7-1.7l.8-.1l.7-2l.7-2.1l.8-2l.7-1.9l.8-4.8l.7-7l.7-8.3l.8,.3l.7,9l.7,5.1l.8,8.1l.7,6.9l.8,1.7l.7,7.2l.7,2.1l.8-1.4l.7,5.2l.7-1.4l.8,1.5l.7-.6l.8,1.8l.7-6.3l.7,4.2l.8,.1l.7-3.7l.8-4.4l.7-10.7l.7-18l.8-14.5l.7,13.3l.7,12.9l.8,6.6l.7,4.5l.8,3.4l.7,5.9l.7,3.1l.8,.6l.7,5.1l.7,1.4l.8,.6l.7-1.6l.8-.5l.7,.1l.7,1.1l.8,2.7l.7-1.6l.8,.7l.7,2.1l.7-1.4l.8-1.3l.7,3.8l.7,1.4l.8-1.8l.7-.5l.8,2.7l.7-2.8l.7,1.3l.8,2.2l.7,.5l.7-4.9l.8,3l.7-.3l.8-4.1l.7,5.7l.7,0l.8-2.4l.7,3.2l.7-1.8l.8-.7l.7,5.2l.8-3.7l.7,1.4l.7-4.4l.8,5.9l.7-5l.8-1.7l.7-.5l.7-2.6l.8,1.2l.7-2.1l.7-6.1l.8-4.2l.7,.6l.8,5.9l.7,4l.7,3.2l.8,1.1l.7,3.9l.7-.8l.8-.8l.7,3.7l.8-1l.7-1.6l.7,1.9l.8,1.8l.7-2.7l.8,1.7l.7-1.9l.7,3.1l.8-3.7l.7,1.2l.7-1l.8,7l.7-4.2l.8,1.3l.7-2.2l.7-2.3l.8,2l.7,1.3l.7-1.5l.8,4l.7-3.5l.8,2.7l.7-5l.7,3.5l.8,.1l.7-3.1l.7,1.8l.8,3l.7-.4l.8-2l.7-1.7l.7,2.5l.8,1.8l.7-.6l.8-1.2l.7,1.5l.7,.1l.8-5.5l.7,3.7l.7-2l.8,3.7l.7-4.7l.8,4.4l.7,.5l.7-2l.8,1.1l.7,1.6l.7-1.7l.8-1.4l.7,3.7l.8-.6l.7-2.2l.7,1.4l.8-2.1l.7-2l.8-.1l.7-.2l.7,.6l.8,4.2l.7-1.1l.7-3l.8,2.6l.7,2.3l.8-.2l.7,.6l.7-5.5l.8,5.3l.7-.7l.7,1.1l.8-4.7l.7,4.3l.8-1.2l.7,1.1l.7-3.9l.8,.4l.7,.8l.7-4.7l.8,5l.7-3.8l.8,5.4l.7-1.9l.7,3l.8-.8l.7-3.9l.8,3.2l.7-1.6l.7,.4l.8-.8l.7,.3l.7,3.6l.8-1.5l.7,.8l.8,.8l.7-3.2l.7,2.2l.8-.5l.7-4.4l.7,2.6l.8,1.3l.7-5l.8,4.3l.7,.5l.7,1.4l.8-1.9l.7,1l.8-.4l.7,.6l.7,.9l.8-1.2l.7,.3l.7-3.3l.8,2.7l.7,1.5l.8-1l.7-1.5l.7-1.2l.8,1.2l.7,2.6l.7-1.2l.8,.6l.7-.7l.8,.8l.7-4.2l.7,1.4l.8-.7l.7-1l.7-.5l.8,2l.7-4.1l.8-.4l.7,5.2l.7-1.8l.8-3.2l.7-4.1l.8-5.7l.7-11l.7-6.7l.8,4.6l.7,7.8l.7,7.8l.8,13.6v3H57.7Z"/>
<path d="M57.2,124.1V121.1l.7-10.9l.8-7.3l.7,.8l.8-.5l.7-2l.7-2.7l.8-.4l.7-5l.7-2.9l.8-3l.7,0l.8,3.4l.7,.1l.7,2.1l.8-1.6l.7,.3l.7-.1l.8,.8l.7,1.6l.8,0l.7-.6l.7-2.4l.8,.6l.7-3.1l.7-.2l.8-3.5l.7,.4l.8-1.2l.7,.6l.7-3.9l.8-.1l.7-1.8l.8-5.7l.7-7.7l.7-8.3l.8,1.8l.7,8l.7,4l.8,8.2l.7,7l.8,2.9l.7,6l.7,2.3l.8-.1l.7,4.1l.7-1.1l.8,2.5l.7-.1l.8-1.4l.7-.6l.7-2.5l.8-.2l.7-.6l.8-5.5l.7-10.4l.7-19.1l.8-12l.7,11.8l.7,15l.8,8.1l.7,2.9l.8,3.7l.7,1.4l.7,7.6l.8-.2l.7,.7l.7,2.6l.8,2.7l.7,.2l.8,3.5l.7-2.4l.7-4.1l.8,4.4l.7,2.3l.8-2.4l.7,3.6l.7-3.7l.8,3.4l.7-3.5l.7,2.7l.8,2.9l.7-.9l.8-.2l.7,.8l.7-4.3l.8,5l.7-2.9l.7,2.2l.8-2.5l.7,4.6l.8,.1l.7-4.2l.7-1.9l.8,6.2l.7-2.4l.7,.5l.8,.8l.7-3.8l.8,1.7l.7,2.8l.7-2.5l.8-2.9l.7,3.3l.8-.7l.7-.5l.7-2.5l.8-1.2l.7-4.7l.7-3.9l.8-4.3l.7,.6l.8,8.4l.7,3l.7,1.6l.8,1.6l.7,2.4l.7,.5l.8-1.1l.7-5.3l.8,8.4l.7-1l.7,.8l.8-1.9l.7,1.3l.8-1l.7-2.3l.7,4.2l.8,.3l.7-1.4l.7-3.7l.8,5.4l.7-4.3l.8,1.3l.7,6.4l.7-1.8l.8,.2l.7-3l.7-2l.8,2.8l.7-.1l.8-4.2l.7,3.9l.7-3.8l.8,6.6l.7-5.4l.7,4.6l.8,2.7l.7-1.9l.8-.9l.7-.7l.7-1.7l.8,.1l.7,.4l.8,2.9l.7-5.4l.7,1.2l.8,2.5l.7,1.4l.7-1.1l.8,.5l.7,.9l.8-1.3l.7,1.3l.7-2.7l.8,2.7l.7-2.3l.7,.4l.8,.4l.7-.7l.8,3.4l.7-7.6l.7,6.9l.8-3l.7,1.5l.8,1l.7-4.7l.7,1.5l.8,3l.7-1.8l.7-.2l.8-1.8l.7,1.2l.8,2.5l.7,.3l.7,1.8l.8-2.8l.7-1.3l.7,2.8l.8-2.3l.7,1.2l.8,1.2l.7,1.8l.7-5l.8-3.1l.7,4.4l.7,3.6l.8-.3l.7-2.6l.8-.8l.7-1.9l.7,3.1l.8-3.8l.7,3.7l.8,.2l.7-.5l.7,1.6l.8-.2l.7-2.8l.7,2.9l.8-.3l.7-1.4l.8,1.5l.7,.1l.7-3.6l.8,2.5l.7-.7l.7,.1l.8,1l.7-.3l.8,2.6l.7-1.4l.7-4.5l.8,5.2l.7-.7l.8,.6l.7,.2l.7,.3l.8-.6l.7-1.5l.7,2.2l.8-2.8l.7-2.9l.8,2.5l.7,1.9l.7-.9l.8,.7l.7-1.1l.7,.3l.8-2.1l.7,2.2l.8,1l.7-4.1l.7,5.1l.8-1.8l.7-1l.7,2.5l.8-2.4l.7-3.4l.8,6.3l.7-2.8l.7-2.1l.8-2l.7-2.6l.8-5.9l.7-14.4l.7-6.4l.8,6.3l.7,6.5l.7,6.9l.8,14.8v3H57.2Z"/>
<path d="M56.8,124.4V121.4l.7-10.2l.8-7.5l.7-.1l.8,.1l.7-4.6l.7,3l.8-4.7l.7-3.8l.7-2.5l.8-3.8l.7-.3l.8,2.2l.7,.7l.7,2.7l.8-2.7l.7,1.3l.7,1.4l.8,1l.7,2.4l.8-2.3l.7,0l.7,0l.8-.7l.7-1.5l.7-3.9l.8-1.9l.7-.3l.8,1.4l.7-3.3l.7-3.2l.8,.6l.7-2.3l.8-4.1l.7-8.7l.7-7.6l.8,2.3l.7,6.3l.7,5.8l.8,7.2l.7,6l.8,4.7l.7,5.3l.7-.1l.8,2.4l.7,1.1l.7,1.2l.8-.5l.7,2.3l.8-3l.7,0l.7-.1l.8-1.2l.7,.3l.8-3.5l.7-13.1l.7-18.2l.8-13.4l.7,13.3l.7,14.3l.8,6.6l.7,4l.8,3.4l.7,4.4l.7,5l.8-.6l.7,4.8l.7-.2l.8-3l.7,1.8l.8,.4l.7,2.1l.7-.9l.8-1.1l.7-1l.8,1.7l.7-.7l.7,1.8l.8-.5l.7,1.4l.7,2.4l.8,4.2l.7-2l.8-1.8l.7,2.3l.7-3.4l.8,3.2l.7-.6l.7,2.3l.8-5l.7,3.7l.8,1.5l.7-1.7l.7-1.7l.8,4l.7-6.4l.7,4.9l.8-.3l.7,3.2l.8-5.1l.7-1.4l.7,3.3l.8,.4l.7-1.8l.8,0l.7-.9l.7-3l.8,.1l.7-1.7l.7-5.5l.8-6.7l.7,2.4l.8,5.4l.7,5.8l.7,1.7l.8,2.3l.7,3.9l.7-2.3l.8,2.1l.7,.2l.8-.3l.7,1.7l.7-1.3l.8-3.1l.7-.9l.8,2.2l.7,5.1l.7-4.8l.8,.6l.7,1l.7,4.1l.8-.1l.7-.3l.8-1.9l.7-2.1l.7,2.6l.8-2.1l.7,3.2l.7-5.4l.8,4.2l.7-4.6l.8,3.5l.7,0l.7,4.2l.8-4.1l.7,2.3l.7,.9l.8,.8l.7-.9l.8-5.5l.7,1.8l.7-.6l.8-2.3l.7,4.4l.8-3.9l.7,3.4l.7,.1l.8,1.2l.7-.2l.7-1.1l.8-3.2l.7,4.2l.8,.1l.7-.8l.7,.6l.8-5.1l.7,2.8l.7-3.2l.8,7.2l.7-5.9l.8,3.7l.7,2.4l.7-1.3l.8,.5l.7-.4l.8-3.4l.7,2.8l.7-1.2l.8-1.8l.7,5.4l.7-4.6l.8-.8l.7,4.2l.8-3.8l.7,1.1l.7-.5l.8-.1l.7,.7l.7,4l.8-1.3l.7-1.5l.8-3.8l.7,6l.7-1.1l.8-.8l.7,1.1l.7,1.1l.8-.3l.7-2.9l.8,1.5l.7-1.4l.7,2.8l.8,.6l.7-.8l.8-2.8l.7,2.9l.7-1.3l.8,.4l.7-3.1l.7,4.4l.8-.2l.7-1.2l.8,1.8l.7-2.1l.7,1.2l.8-.8l.7-1.2l.7,1.8l.8,0l.7-4.5l.8,5.1l.7-2.5l.7,2.3l.8-1.1l.7-1.8l.8,.7l.7,2.5l.7-.4l.8-1.2l.7-.8l.7,.9l.8-1.1l.7-2.5l.8,3.5l.7,1.1l.7-4.3l.8-2.2l.7,3.5l.7-1.4l.8,3.6l.7,1.6l.8-1.9l.7,.9l.7-1.5l.8,1.6l.7-6.5l.7,3.5l.8,1.8l.7-3.3l.8,4.7l.7-3.3l.7-.9l.8-2l.7-4.1l.8-5.4l.7-13.5l.7-6.5l.8,5.2l.7,7.5l.7,7.4l.8,14.9v3H56.8Z"/>
<path d="M56.3,124.8V121.8l.7-11.6l.8-4.1l.7-.9l.8-.8l.7-1.5l.7-3.6l.8-1.6l.7-3l.7-3.9l.8-2.3l.7,.8l.8-.3l.7,2.4l.7,.8l.8-.8l.7-.3l.7,1.6l.8,1.8l.7,3.5l.8-3.7l.7,.5l.7-2l.8,0l.7-.7l.7-3.8l.8-2.4l.7,0l.8,.3l.7-1.2l.7-2.5l.8-1.1l.7-2.8l.8-5.6l.7-6.3l.7-8.5l.8,2.8l.7,7.9l.7,4.5l.8,6.7l.7,7l.8,5.4l.7,3l.7,2.3l.8,1.4l.7,2.4l.7,2.4l.8-.5l.7-2.6l.8,2.1l.7-2.5l.7-1.8l.8,2.4l.7-2.4l.8-8.6l.7-8.6l.7-17.6l.8-13.6l.7,12.9l.7,15.2l.8,6.8l.7,4.1l.8,6l.7,2.1l.7,1.9l.8,5.4l.7,.2l.7-2.2l.8,3.1l.7,2l.8-1.5l.7-1.9l.7,5.6l.8-.5l.7-.6l.8,.2l.7,0l.7,1.6l.8-.9l.7,.5l.7,3.1l.8-.9l.7,1.6l.8-3.1l.7,.3l.7-.7l.8,3.5l.7-.7l.7,3.9l.8-4.8l.7,3.7l.8-4.2l.7-1.6l.7,1.5l.8-.4l.7,1l.7-.3l.8-1.2l.7-.6l.8-1.3l.7,4.3l.7-2.2l.8-.2l.7,.6l.8-.2l.7,1.7l.7-4.6l.8,.5l.7-3.7l.7-5.3l.8-5.5l.7,2.6l.8,4.7l.7,4.4l.7,3.3l.8,2.3l.7-.4l.7-.5l.8,3.5l.7,1.5l.8-.5l.7,.8l.7-1l.8,0l.7,4.9l.8-8.1l.7,5.1l.7-.8l.8,3.5l.7,0l.7-1.9l.8-2.6l.7-1.3l.8,5.8l.7-4.3l.7-2.7l.8,3.9l.7-2.5l.7,1.3l.8,2.7l.7-4.1l.8,3.6l.7-2.1l.7,1.7l.8-.3l.7-.8l.7-2.5l.8,6.5l.7-1.1l.8-2.6l.7-1.9l.7,2.6l.8,0l.7-1.5l.8-2.3l.7,5.5l.7,1.6l.8-2.9l.7-2.2l.7,4.5l.8-5.2l.7,.5l.8,.3l.7,3.6l.7,1l.8-4.2l.7,.9l.7-.9l.8,4.5l.7-2.2l.8-3.1l.7,.3l.7,2.8l.8-.6l.7-.9l.8-.6l.7,2.1l.7,.7l.8,1.1l.7-4.3l.7,2l.8-.9l.7,.4l.8,2l.7,1.6l.7-1.6l.8,1.7l.7-1.8l.7,.3l.8-2.3l.7,3.4l.8-.7l.7-.1l.7,1l.8-3.9l.7,2.1l.7,1l.8,.5l.7-1.8l.8,.1l.7,.6l.7-.4l.8-.9l.7-1.4l.8-.3l.7,2.8l.7,1.2l.8-.6l.7-2.2l.7,3.4l.8-4.7l.7,4.8l.8-.5l.7-3.2l.7,2l.8-.8l.7,1.3l.7-.7l.8,1.4l.7-5.3l.8,2.6l.7,1.7l.7-1.4l.8-.7l.7,2.9l.8-1.5l.7-.1l.7,1.7l.8,.4l.7-1.2l.7,.2l.8,.2l.7-1.4l.8,.3l.7-1.3l.7,1.3l.8-3.6l.7,1.9l.7,2.6l.8,.6l.7-2.6l.8,1.8l.7,.1l.7-1.3l.8,.9l.7-.3l.7-2l.8,.7l.7-4.4l.8,5.6l.7-2.2l.7-1.3l.8-1.3l.7-3.3l.8-8.5l.7-9.5l.7-8.2l.8,6.7l.7,6.3l.7,8.1l.8,13.7v3H56.3Z"/>
<path d="M55.8,125.2V122.2l.7-9l.8-5.9l.7-4.5l.8,1.5l.7,.3l.7-3.9l.8-.8l.7-3.8l.7-5l.8-2.7l.7,0l.8,1.1l.7,2l.7,2.1l.8-1.5l.7,1.5l.7-1l.8,1.3l.7,3.6l.8-.7l.7,.6l.7-3.7l.8,.8l.7-3.3l.7-2.2l.8-3.5l.7,1l.8,.1l.7-1.6l.7-2.1l.8-1.2l.7-.7l.8-5.9l.7-7.5l.7-8.9l.8,2l.7,7.8l.7,4.2l.8,8.4l.7,6.8l.8,4.6l.7,4.1l.7,1.5l.8,1.1l.7,3.4l.7,1.7l.8-1.6l.7,.4l.8-.3l.7-2l.7,1.3l.8-1.5l.7-1.6l.8-7.2l.7-9l.7-18.5l.8-12.5l.7,12.9l.7,16l.8,7.3l.7,1.4l.8,2.2l.7,5.4l.7,1.9l.8,3.2l.7,1.4l.7,5.9l.8-2.7l.7,.2l.8,.7l.7-1l.7,3.2l.8-2.6l.7,.3l.8,.3l.7,2.4l.7-.3l.8-1.4l.7,.8l.7,7l.8-8.4l.7,6.1l.8-3.4l.7,3.7l.7-3.4l.8,1.1l.7,0l.7,0l.8-.4l.7,0l.8-.3l.7,1.3l.7-.4l.8,2.4l.7,3l.7-4l.8-3.7l.7,3.2l.8,.7l.7-.4l.7-2.8l.8,4.5l.7-6l.8,.7l.7,3.7l.7-2.2l.8-2.9l.7-3.6l.7-4.6l.8-4.1l.7,.8l.8,5.5l.7,5.6l.7,2.5l.8,2.8l.7-3.2l.7,4.2l.8,.1l.7,.9l.8,2.3l.7,1.7l.7-2.1l.8,1.2l.7-3.5l.8-1.1l.7,1.2l.7,1.5l.8-2.8l.7,3.4l.7-.9l.8,.2l.7,.5l.8-.5l.7-2.9l.7,1l.8,1.7l.7-.9l.7,4.6l.8-2.3l.7-1.8l.8,1l.7,4.4l.7-6.4l.8,1l.7,4.4l.7-2.2l.8-2.2l.7-2.7l.8,7l.7-.5l.7-5.6l.8,4.3l.7-.2l.8,.8l.7-1.3l.7-2.3l.8,1l.7,3.9l.7-1.9l.8-5.4l.7,6.3l.8-.9l.7,1.4l.7,.9l.8,.7l.7-9.2l.7,9l.8-3.7l.7,2.7l.8-3.7l.7,.6l.7-.9l.8,5l.7-4.9l.8,1.1l.7-.4l.7,2.8l.8,.5l.7-2.3l.7,.7l.8,2l.7-3.7l.8,1.4l.7,2.2l.7,.2l.8-2l.7-1.1l.7,1l.8-.6l.7-3.8l.8,3.8l.7-1l.7,3.9l.8-.9l.7,0l.7,.4l.8-1.3l.7-.5l.8-.2l.7,2.7l.7-1.7l.8-1.8l.7,2.8l.8-1.3l.7,.6l.7-1.4l.8,0l.7-1.5l.7,3l.8-1.4l.7,.5l.8,1.1l.7,1l.7-2.5l.8-.7l.7,1.1l.7,1.2l.8-1.7l.7,1.3l.8-2.3l.7-.3l.7,4.3l.8-.4l.7-1.9l.8-.7l.7-.1l.7,1l.8-4l.7,6l.7-3.6l.8,.2l.7,1.3l.8,.2l.7-1.4l.7-1l.8,1.6l.7,2.5l.7-5.3l.8,4.5l.7-3.8l.8,1.1l.7-2.9l.7,6.1l.8-1.5l.7-1.2l.7,3.2l.8-.5l.7-2.8l.8,2.6l.7-3.7l.7-.8l.8-2.3l.7-3.3l.8-8.5l.7-9.8l.7-6.8l.8,4.6l.7,7.3l.7,9.7l.8,12.6v3H55.8Z"/>
<path d="M55.4,126.3V123.3l.7-10l.8-8.5l.7,1.7l.8-2.4l.7,.3l.7-.9l.8-2.5l.7-4.6l.7-2.7l.8-4.3l.7,.7l.8,1.5l.7,3.2l.7-1.5l.8,.4l.7,1.2l.7,1.3l.8-.4l.7,3.1l.8-2.5l.7-.4l.7,1l.8-3.8l.7-1.7l.7-.9l.8-3.2l.7-.8l.8,1.3l.7-3l.7-.2l.8,.7l.7-3.9l.8-4.7l.7-8.4l.7-7l.8,.2l.7,8l.7,5l.8,6.7l.7,6.7l.8,3.6l.7,5.2l.7-.3l.8,4l.7,2.9l.7-2.8l.8,4l.7,1.9l.8-4.7l.7-1.6l.7,2.4l.8,.2l.7-4.5l.8-3.9l.7-9.9l.7-19.1l.8-13.4l.7,12.5l.7,14.6l.8,8.9l.7,1l.8,6.9l.7,.7l.7,4.8l.8,1.8l.7,3.4l.7,1.8l.8-1.2l.7-1.2l.8,6.3l.7-4.4l.7,.9l.8,1.7l.7,1.2l.8-3.1l.7,.5l.7,.6l.8,6l.7-.6l.7-1.5l.8,0l.7-4.5l.8,4.8l.7-.9l.7-1.6l.8-1.4l.7,3l.7,.1l.8-3.1l.7,4.9l.8,3l.7-2.1l.7-.8l.8-3.5l.7,2.3l.7-2l.8,2.5l.7,0l.8,1.2l.7,1.2l.7-3.3l.8,0l.7-.5l.8,1.3l.7-.9l.7-2.3l.8-2.1l.7-4.5l.7-2.9l.8-5.7l.7,1.7l.8,6.4l.7,4.2l.7,3l.8-.4l.7-.8l.7,4.2l.8,1.4l.7-1.7l.8,1l.7,1.5l.7-1.6l.8-.1l.7,2.7l.8-2.4l.7,6.6l.7-1.9l.8-2l.7-.8l.7,3.4l.8-6l.7,3.9l.8-1l.7,.4l.7-1.5l.8,2.8l.7-2.7l.7,3.3l.8,1.4l.7-4.2l.8,.9l.7-1.6l.7,6.1l.8-4.3l.7,1.7l.7-1l.8,.5l.7,0l.8,.7l.7-3.6l.7,5.9l.8-.1l.7-4.2l.8-3.6l.7,6l.7,.3l.8,.6l.7-.3l.7-4.6l.8,1.1l.7-.3l.8,1.1l.7,.4l.7,1.6l.8,.9l.7-3.4l.7-3.7l.8,5.9l.7-3.3l.8,4.1l.7-1.4l.7-3.6l.8,3.9l.7-1.6l.8,2.7l.7-5.3l.7,6.7l.8-3.8l.7,1.8l.7-.9l.8-.2l.7-2.1l.8,1.1l.7-.5l.7,1.6l.8,3l.7-5l.7-.5l.8,2.4l.7-.7l.8,2.3l.7,1.9l.7-4.4l.8,3.5l.7-5.4l.7,2.5l.8,1.6l.7,1.3l.8-1.5l.7,2.4l.7-1.3l.8-4.2l.7,4.1l.8-4.6l.7,4.3l.7-1.2l.8,3l.7-1.4l.7,.5l.8,.3l.7-5.2l.8,2.7l.7,1.5l.7,1.5l.8-1.6l.7,1.6l.7,.1l.8-1.3l.7-4.8l.8,4.5l.7-1.2l.7,2.3l.8-3.5l.7,3.1l.8-.5l.7-.5l.7,1.8l.8-5.4l.7,2.7l.7,2.4l.8-1l.7-.8l.8,1.9l.7-3.7l.7,4l.8-4.4l.7,3.6l.7-1.5l.8,1l.7-2l.8-1.1l.7,3.5l.7,.7l.8-6.1l.7,2l.7-2.3l.8,1.9l.7,1.3l.8-3.5l.7,3.2l.7-1.2l.8-1.8l.7-4.2l.8-5.6l.7-12.5l.7-6.3l.8,4.6l.7,6.9l.7,6.5l.8,15.7v3H55.4Z"/>
<path d="M54.9,126.5V123.5l.7-9.2l.8-9.2l.7,.4l.8,.8l.7-1.9l.7-.8l.8-4.1l.7-2.4l.7-4.1l.8-3.1l.7,.8l.8,1.7l.7,1.8l.7-.7l.8,1.2l.7-1.8l.7,1.3l.8,.5l.7,2.6l.8,.3l.7-1.4l.7,1.1l.8-.7l.7-2.8l.7-1.6l.8-2.4l.7-.9l.8-.2l.7-1.3l.7-2.8l.8-2.3l.7-.2l.8-3.9l.7-9.8l.7-6.7l.8,.3l.7,7.9l.7,5.5l.8,7.7l.7,6l.8,3.1l.7,.8l.7,5l.8,4l.7,.4l.7,3.8l.8-1.1l.7-1l.8,.3l.7-1.6l.7-.9l.8,1.7l.7-4.2l.8-6.3l.7-9.7l.7-17.8l.8-13.8l.7,13.6l.7,14.3l.8,8l.7,5.1l.8-1.1l.7,10.3l.7,.2l.8,1.2l.7,1.2l.7,2.1l.8,1.3l.7,.4l.8,.5l.7-1l.7-1.8l.8,1l.7,2.8l.8-3.5l.7,4.1l.7,1.1l.8,1.3l.7-4.7l.7,6.3l.8-5.4l.7,5.6l.8,1.9l.7-2.1l.7-3l.8,.1l.7,3.6l.7-2.7l.8,2.1l.7-1.1l.8-.5l.7,5l.7-6.1l.8,2.5l.7-2.5l.7,2.4l.8-2.4l.7-1.7l.8,5.5l.7-3.3l.7,2.4l.8-4.5l.7,2.2l.8,1l.7-1l.7-3l.8,1.8l.7-6.3l.7-3.7l.8-5l.7,2.2l.8,5.3l.7,4l.7,2.2l.8,3.9l.7,.7l.7-.7l.8-.6l.7,4.4l.8-2.5l.7,1.5l.7,.7l.8-1.6l.7,.9l.8-.8l.7,4.4l.7-4.3l.8-.4l.7,3.5l.7-6.4l.8,7.7l.7-4.7l.8,1.4l.7,.3l.7-.1l.8-2.6l.7,7.4l.7-5.6l.8,0l.7,4.4l.8-8.4l.7,5.7l.7-.8l.8,1.4l.7,.4l.7-1.7l.8,2.8l.7-.3l.8-2.4l.7,.3l.7,3.6l.8-3.7l.7,2.8l.8-3.4l.7,3.7l.7,.3l.8-1.9l.7,1.7l.7-4.3l.8-1.8l.7,2.5l.8,1.1l.7-.6l.7-1.7l.8,3.6l.7,0l.7,2.2l.8-2.6l.7,.1l.8,.5l.7-.5l.7,1.5l.8-.8l.7-1.6l.8-.9l.7,4.3l.7-3.5l.8,3.5l.7-4.2l.7,.4l.8,.5l.7,.5l.8,.5l.7,0l.7,.6l.8-.9l.7-.2l.7-.4l.8-.9l.7,1.6l.8-1.2l.7,2l.7,2.2l.8-8.4l.7,4.1l.7,3l.8,.9l.7-.4l.8-1.3l.7-.2l.7,2.5l.8-4.7l.7,.1l.8,2.9l.7,1.3l.7-2.9l.8,1.5l.7,0l.7-4.9l.8,5.9l.7-1.4l.8,.2l.7,.6l.7-1.6l.8,.6l.7-.2l.7-.7l.8,3l.7-1.7l.8-1.2l.7,3.2l.7-3.4l.8,0l.7-3.1l.8,4.7l.7,1.8l.7-2.1l.8-1.5l.7,2.9l.7-3.1l.8,1l.7-.6l.8,.2l.7,.6l.7,.6l.8-3.7l.7,4.3l.7-1.6l.8-.2l.7,3.2l.8-.6l.7-4.3l.7,2.8l.8-.8l.7,1.1l.7-6.3l.8,6.6l.7-2.1l.8,1.7l.7-1.7l.7-2l.8-1.4l.7-3.4l.8-7.8l.7-11.3l.7-6.2l.8,4.6l.7,8.3l.7,6.6l.8,14.2v3H54.9Z"/>
<path d="M54.4,127.2V124.2l.7-9l.8-6.6l.7-.1l.8-.9l.7-2.3l.7-2.5l.8-1.1l.7-4.1l.7-4.2l.8-2.7l.7-1.1l.8,3.6l.7,2.3l.7,1.7l.8-3.7l.7,0l.7,2.4l.8,.8l.7,1.4l.8-1.2l.7,1.1l.7-1l.8-.4l.7-.4l.7-.8l.8-6.8l.7,1.6l.8-1.8l.7-1.3l.7-3.8l.8,1.8l.7-2.3l.8-4.9l.7-7.2l.7-7.9l.8,.8l.7,5.8l.7,6.3l.8,6.8l.7,8.1l.8,2.8l.7,2.7l.7,5.6l.8,.5l.7,2l.7,0l.8,3.6l.7-3.3l.8-.1l.7-1l.7,2.4l.8-.5l.7-4.2l.8-6.3l.7-10.2l.7-18.7l.8-12.3l.7,12.3l.7,14.5l.8,9.8l.7,1.1l.8,4.8l.7,1.9l.7,4.2l.8,5.6l.7,1l.7-3l.8,3.1l.7-2.2l.8,1.7l.7-1.1l.7,2.4l.8-.9l.7,1.8l.8-1.9l.7,3.8l.7-2.9l.8-.6l.7,6.4l.7-1.8l.8-1.2l.7-2.5l.8,1.8l.7,2.3l.7,4l.8-5.3l.7,3.2l.7-1.5l.8-.3l.7,4l.8-5.2l.7,.2l.7,.9l.8,0l.7,.6l.7,3.8l.8-1.9l.7-2.8l.8,2.3l.7-.8l.7-.7l.8,.3l.7-.5l.8-.8l.7,.1l.7,.3l.8-3.2l.7-4.5l.7-3.9l.8-5.3l.7,1.8l.8,6.5l.7,6.6l.7,.1l.8,2.8l.7,.9l.7-1.7l.8,3.3l.7-1.5l.8,.6l.7,.1l.7-3.4l.8,8.3l.7-6.1l.8,2.6l.7,.4l.7,.9l.8-1.4l.7,.1l.7,2.1l.8-5.2l.7,5l.8-1.2l.7,2.5l.7-2.9l.8-.5l.7-1.4l.7,.2l.8,3.2l.7-4.5l.8,3.8l.7-3.6l.7-.1l.8,4.4l.7,1.5l.7-3.4l.8-1.8l.7,2.2l.8-1.4l.7,1l.7-.5l.8-1l.7,3.6l.8,2.4l.7-2.7l.7,1.5l.8,.8l.7-2.1l.7-1.8l.8,5.3l.7-.6l.8-4.9l.7,3.7l.7-1l.8-3.6l.7,.4l.7,1.8l.8-.5l.7,2.7l.8-2.6l.7,.5l.7,3.8l.8-3.4l.7-.6l.8,1.3l.7-1.9l.7-.1l.8,1.8l.7,.7l.7,2l.8-4.8l.7,3.6l.8-1.9l.7-2.6l.7,1.8l.8,4.3l.7-2.5l.7,1.4l.8,.7l.7-.4l.8-2.9l.7,.5l.7,1.2l.8-.8l.7,2.8l.7-.7l.8-1.3l.7-2l.8,2.4l.7-.3l.7-.9l.8-2.5l.7,5.2l.8-3.1l.7,.8l.7,.6l.8-.7l.7,.5l.7,.1l.8,.6l.7,.9l.8-3.2l.7,2.1l.7,.5l.8-2.2l.7,3.3l.7-.2l.8-3.3l.7,0l.8-2.6l.7,5.3l.7-.4l.8,0l.7,.6l.8-1.4l.7,.8l.7,.8l.8,.2l.7-.1l.7-.7l.8-3.2l.7,1l.8-1.5l.7,1.1l.7,.2l.8-1l.7,1.6l.7-2.5l.8,1l.7-1.7l.8,3.5l.7,2l.7-6.9l.8,5.7l.7-1.8l.7,1.7l.8,.4l.7-2.7l.8,2.9l.7-2.9l.7-2.2l.8-.9l.7-3.9l.8-6.6l.7-11.8l.7-6.6l.8,4.7l.7,9.1l.7,5.3l.8,15.4v3H54.4Z"/>
<path d="M53.9,127.8V124.8l.7-8.5l.8-6.5l.7-2.3l.8,.1l.7-1.8l.7-1.8l.8-3.8l.7-.8l.7-3.8l.8-4.8l.7,1.9l.8,1.6l.7,.7l.7,1.6l.8-1l.7-1.8l.7,1.2l.8,3.4l.7,.5l.8-.2l.7,2.5l.7-5.3l.8,3.7l.7-5.2l.7-4l.8,1.8l.7-2.7l.8,1.8l.7-1.7l.7-5.9l.8,.9l.7,.6l.8-6.7l.7-7.4l.7-7.5l.8,1.5l.7,6.7l.7,4.8l.8,7.6l.7,5.7l.8,4.3l.7,2.9l.7,1.5l.8,4.2l.7,2.7l.7-.3l.8,1.1l.7-1.3l.8,1.7l.7-1.8l.7,.6l.8-3.3l.7,.9l.8-6.2l.7-11.2l.7-18l.8-14.4l.7,13.4l.7,14.3l.8,7.2l.7,3.2l.8,1.7l.7,7l.7,2.1l.8,3.9l.7,2.6l.7,1.4l.8-2.3l.7,3.5l.8,.2l.7,0l.7,1.2l.8-5.8l.7,4.2l.8,2.4l.7-2.7l.7,4.1l.8-5.3l.7,7.1l.7-1.9l.8-2.1l.7,4.8l.8-4.7l.7,3.6l.7,.1l.8,3l.7-.1l.7-4.3l.8,.7l.7-1.5l.8-.3l.7,4l.7-5l.8,3.6l.7-.6l.7-1.1l.8-.2l.7,2.2l.8-2.2l.7-.9l.7,2.5l.8,1.7l.7-5.6l.8,1.6l.7,.8l.7-.7l.8-4.2l.7-1.7l.7-5.8l.8-4.3l.7,1.8l.8,4.1l.7,6.4l.7,4l.8,0l.7,1.3l.7,.1l.8,1.2l.7-.1l.8-1.3l.7,2.8l.7-.7l.8,1.3l.7-1.5l.8,1.7l.7-2.7l.7-1.1l.8,.5l.7,1.2l.7,1.3l.8-1.4l.7,3.3l.8-3.1l.7,2.4l.7,2.1l.8-2.3l.7,3.9l.7-7.8l.8,7l.7-5.5l.8,4.4l.7-1.9l.7-2.9l.8,7l.7-7l.7,2.7l.8,.2l.7,2.8l.8,.3l.7-4.8l.7,.6l.8-.7l.7,.8l.8-2.8l.7,3.7l.7,2.7l.8-2.7l.7,3.3l.7-1.7l.8,.5l.7-1.8l.8,3.7l.7-4.9l.7,1.8l.8,3.2l.7-5.3l.7,2.4l.8-3.9l.7,3l.8,1.9l.7-.8l.7,1.6l.8-1.5l.7-2.3l.8,1.5l.7,3.7l.7-.5l.8-4.7l.7,1.7l.7,1.9l.8-3l.7,3.8l.8,.9l.7-.2l.7-3.2l.8-1.8l.7,2.5l.7,.4l.8,1.7l.7-3.8l.8,4.3l.7-3.3l.7,.3l.8,1.5l.7-.5l.7,1.4l.8-3.8l.7,.9l.8-.4l.7-.1l.7,.7l.8-.9l.7-2.7l.8-.7l.7,5l.7-1.7l.8,4l.7,.4l.7-4.9l.8-.1l.7,3.7l.8-1.2l.7,1.8l.7-2.4l.8,2.8l.7-4.2l.7,4.3l.8-5.3l.7,.1l.8,5.4l.7-3.8l.7,1.2l.8,2.4l.7-1.1l.8-1.6l.7-1.5l.7,1.7l.8,0l.7-1.8l.7-1l.8,3.2l.7-3.3l.8,5.3l.7-.5l.7-3.5l.8,3.9l.7-1.3l.7,1.3l.8-2.8l.7,1.1l.8-5.1l.7,5l.7-3.1l.8,2.4l.7-2.8l.7,1.5l.8,2.5l.7-1.9l.8-.9l.7,.8l.7-2.2l.8-.8l.7-3l.8-7.2l.7-12.4l.7-6l.8,4.9l.7,7.4l.7,6.6l.8,14.6v3H53.9Z"/>
<path d="M53.5,128V125l.7-10.5l.8-5.9l.7-.9l.8-2.2l.7,.8l.7-3.7l.8-1.5l.7-2.3l.7-3.1l.8-4.7l.7,.9l.8,2.1l.7,1.8l.7-.3l.8-.5l.7,2.6l.7,0l.8,.2l.7,1.1l.8-.7l.7,.1l.7-2.1l.8,2.4l.7-4.4l.7-1.2l.8-2.8l.7-1.3l.8,1.7l.7-2.4l.7-1.2l.8-2.1l.7,0l.8-5.8l.7-6.4l.7-8.3l.8,1l.7,6.5l.7,6.6l.8,6.5l.7,5.5l.8,3.6l.7,2.9l.7,4.8l.8,1.6l.7,1.9l.7,2.7l.8-.9l.7-2.2l.8,2.1l.7-6.5l.7,1.7l.8-1.3l.7,.3l.8-2.7l.7-13l.7-19.1l.8-12.2l.7,12.2l.7,15.4l.8,7.2l.7,3.3l.8,3.1l.7,3.5l.7,2.5l.8,3.9l.7,1.4l.7,1.5l.8,1.2l.7,2.1l.8,1.9l.7-1.6l.7,.5l.8,.9l.7-4l.8,2.9l.7-2.7l.7-3.2l.8,5.4l.7,3.1l.7-1.5l.8,1.6l.7-.8l.8-3.5l.7,1.1l.7,1l.8,2.1l.7-2.9l.7,2l.8,.1l.7,4.4l.8-1.1l.7-1.6l.7,.9l.8,.7l.7,3.1l.7-2.5l.8-1.4l.7-.8l.8,2.6l.7-1.8l.7-3.7l.8,2.8l.7,3.3l.8-3.4l.7-1l.7-2.9l.8-.5l.7-4.4l.7-4.2l.8-5l.7,1.6l.8,5.2l.7,5.6l.7,2.2l.8-2.9l.7,8.4l.7-1.5l.8-.1l.7,2.5l.8-2.5l.7,2.1l.7-1.7l.8,1.4l.7,2.5l.8-4l.7-2.1l.7,2.6l.8,1.4l.7,4.3l.7-4.2l.8,.8l.7,1.8l.8,2.3l.7-4.9l.7-1l.8,.6l.7-3.2l.7,8.9l.8-4.8l.7,.9l.8-3l.7,3.1l.7,2l.8-1.9l.7-1l.7,2.5l.8,.1l.7-2.1l.8-1.2l.7,2.3l.7-1.5l.8,2.2l.7-.3l.8-1.1l.7-1.6l.7-1.4l.8,3.8l.7-1.2l.7-3.1l.8,2.3l.7,2.6l.8-1.6l.7,3.9l.7,0l.8-1.3l.7,0l.7,1.3l.8-5l.7,3.2l.8-1.1l.7,.1l.7,.6l.8,2.1l.7-6.6l.8,6.7l.7-2.4l.7-1.5l.8,1.9l.7-.1l.7-.9l.8,.2l.7,1.3l.8-3l.7,1.2l.7-2l.8,3l.7,1.8l.7,.6l.8-1l.7-2.1l.8,3.1l.7-.8l.7-3.8l.8,1.9l.7,2.3l.7-1.2l.8-.4l.7,1.1l.8-.2l.7,.7l.7-1.7l.8-3l.7,.5l.8,4.9l.7-6.7l.7,5.1l.8,1.2l.7-.3l.7-1.3l.8-.2l.7,1.9l.8,.4l.7-1.2l.7-1l.8-.8l.7,.2l.7-.1l.8,2.6l.7-1.8l.8-.2l.7-.9l.7,2.2l.8-3.8l.7,4.4l.8-.7l.7,.5l.7,0l.8,.7l.7-3.4l.7,0l.8,1l.7,1.8l.8,.2l.7-1.2l.7-1l.8,2l.7-.6l.7-6.3l.8,5.5l.7,.7l.8-1.5l.7,2.4l.7-5.1l.8,1.5l.7,4.2l.7-4.4l.8,1.1l.7,1.7l.8-3.7l.7,1.4l.7-1.3l.8-2l.7-3.6l.8-6.2l.7-12.5l.7-6.6l.8,4.9l.7,7.7l.7,7.2l.8,14.7v3H53.5Z"/>
<path d="M53,128.4V125.4l.7-7.7l.8-7.5l.7-1.6l.8-2.6l.7,.8l.7-.6l.8-2.9l.7-4.7l.7-2.9l.8-2.9l.7-.4l.8,3.3l.7,.7l.7,1.6l.8-2.2l.7-.4l.7,2.4l.8-.6l.7,1.3l.8,.9l.7-.8l.7-.9l.8-.3l.7-3.4l.7-1.1l.8-2.2l.7-.3l.8,2.9l.7-1.3l.7-6.3l.8-.4l.7,.4l.8-4.9l.7-8.5l.7-7.4l.8,1.4l.7,6.7l.7,6l.8,5.8l.7,5.2l.8,6.2l.7,2.7l.7,1.5l.8,1.5l.7,5.3l.7-2.2l.8,2.1l.7-.2l.8-.2l.7-3.7l.7,1l.8-1l.7-2.3l.8-3.9l.7-10.2l.7-18.6l.8-13.9l.7,13.4l.7,14.4l.8,8.1l.7,4.6l.8,4.8l.7,.3l.7,3.5l.8,4.7l.7,.1l.7,.7l.8,.6l.7-1l.8,1.5l.7,.1l.7-.1l.8-2.1l.7,1.4l.8,3.9l.7,1.1l.7-1.2l.8,1.4l.7,4.3l.7-6.6l.8,1.6l.7,1l.8,2.7l.7-2.1l.7-3.4l.8,2.2l.7,1.2l.7,3.6l.8-.2l.7-3.8l.8,4.4l.7-2.8l.7,1.8l.8-5.3l.7,5.3l.7-1.4l.8,3.1l.7-1.5l.8-.1l.7-1.8l.7,2.7l.8-2.2l.7-2.6l.8-2.1l.7,3.8l.7-3.2l.8,.7l.7-5.1l.7-5.6l.8-4.7l.7,2.1l.8,5.5l.7,5.1l.7,2l.8,1.6l.7,0l.7,.3l.8,3.9l.7-.6l.8-2.9l.7,3l.7,.1l.8,3.4l.7-4.3l.8-.6l.7,7.4l.7-7.8l.8,2.4l.7,2.1l.7-3.2l.8,.7l.7,3.2l.8,1.5l.7-2.5l.7-2.9l.8,4.2l.7-1.1l.7-.8l.8,.9l.7-2l.8,.6l.7,3.8l.7-5.2l.8-.2l.7-.8l.7,6.1l.8-1.5l.7-2.9l.8,3.7l.7-1.7l.7-4.7l.8,5l.7-8.1l.8,9.8l.7-6.5l.7,1l.8,4.4l.7-2.4l.7,3.2l.8-.5l.7-2.7l.8-4.3l.7,5.5l.7-.5l.8,4.1l.7-5.7l.7,1.8l.8,3.1l.7-1.2l.8-1.7l.7-.3l.7,4.4l.8-3.9l.7-2.5l.8,1.6l.7,2.9l.7-1.6l.8-3.2l.7,5.2l.7,0l.8-3.4l.7,1.9l.8,.5l.7,1l.7,.8l.8-2.5l.7,1.1l.7-1.6l.8,2.5l.7,1.1l.8-.8l.7,.7l.7-.5l.8-3.7l.7,2.9l.7-2.2l.8,2.1l.7-2.2l.8,3.5l.7-5l.7,3.1l.8,1.4l.7-4l.8,1.2l.7,3.5l.7-5.3l.8,4.4l.7,.4l.7-1.4l.8,0l.7-1.2l.8,2.8l.7-3.3l.7,1.8l.8-2.1l.7,3.1l.7-.2l.8-1l.7-4.2l.8,6.4l.7-3.2l.7,2.7l.8-2.2l.7,1.3l.8-2.2l.7-2.3l.7,2.5l.8,3.1l.7-1.2l.7-1.1l.8-2l.7-1l.8,2.9l.7,2.5l.7-1.4l.8,.1l.7-2.2l.7,2.4l.8-1.6l.7-1.6l.8,4.1l.7-2.2l.7,.6l.8,1l.7-2.1l.7,2.3l.8-.1l.7-5.1l.8,2.6l.7,.3l.7-2.5l.8-.8l.7-3.7l.8-8l.7-11.5l.7-6.1l.8,4.9l.7,8.5l.7,4.4l.8,16.2v3H53Z"/>
<path d="M52.5,129.5V126.5l.7-9.6l.8-6.2l.7-1.7l.8,.3l.7-2.3l.7,0l.8-2.4l.7-3.9l.7-3.1l.8-4.8l.7,.8l.8,2.8l.7,2l.7,.7l.8-1.8l.7,.3l.7-.1l.8,4.1l.7-.6l.8,2.2l.7-1.6l.7-3.2l.8,1.3l.7-3l.7-1.2l.8-1.5l.7-1.2l.8,.7l.7-2.9l.7-2.1l.8-3.8l.7,.2l.8-3.5l.7-6.9l.7-8.2l.8,1.7l.7,4.8l.7,7.7l.8,5l.7,8.6l.8,2.2l.7,5.6l.7,1.7l.8,1.2l.7,1.6l.7,1.3l.8,.6l.7,.7l.8-2l.7-1.4l.7,.9l.8-2.4l.7-1.4l.8-4.1l.7-12.1l.7-17.5l.8-12.7l.7,11.8l.7,16.3l.8,5.7l.7,4.4l.8,4.8l.7,.7l.7,4.3l.8,1.8l.7,3.2l.7-1.6l.8,1.7l.7,2.7l.8,2.2l.7-2.9l.7-.2l.8,2.5l.7-1.1l.8-2.9l.7,4.9l.7-2.7l.8,4.8l.7,.5l.7-3.6l.8,2.6l.7-.5l.8-1.5l.7-1.1l.7,6.2l.8-3.7l.7,.9l.7,.3l.8-3.4l.7,4.4l.8,.8l.7-2.2l.7,5.4l.8-5l.7,2.7l.7-2.5l.8,2.3l.7-2.6l.8,1.4l.7,.8l.7-2.4l.8-.5l.7,3.8l.8-1.2l.7-2.3l.7-1.1l.8-3.9l.7-3.3l.7-4.2l.8-4.8l.7,2.4l.8,6.5l.7,3.3l.7,5.2l.8-2.7l.7,3l.7-.8l.8,3.5l.7,2.2l.8-2.3l.7-1l.7,1.5l.8,.8l.7-1.1l.8,.7l.7-3.2l.7,5.8l.8,2l.7-4.3l.7-.7l.8,3.9l.7-3.1l.8-.9l.7,.3l.7,.1l.8,2.3l.7,1.5l.7-5l.8,2.8l.7,2.2l.8-6.1l.7,1.7l.7,4.8l.8-8.6l.7,5.2l.7,3.7l.8-5.3l.7,1.3l.8-1.9l.7,2.7l.7,3.6l.8-3.2l.7,.7l.8-1.5l.7,1l.7-1.5l.8,3.8l.7-1.4l.7,0l.8-2l.7,4.6l.8-3.6l.7-5l.7,8.7l.8-5.8l.7,2l.7-1.8l.8,2l.7-.4l.8-.2l.7-.1l.7,3.5l.8-2.2l.7-4.1l.8,.9l.7,4.8l.7,.3l.8-1.6l.7-2.6l.7,.3l.8,3.3l.7-.1l.8-1l.7,2.4l.7-5l.8-.5l.7,1.7l.7,.2l.8,.1l.7-2.6l.8,1.6l.7-.7l.7,5.5l.8-1.3l.7-1.1l.7,.5l.8,.2l.7-.5l.8,.1l.7-5.4l.7,5.8l.8,0l.7-.1l.8,.5l.7,.7l.7-3.8l.8,2.4l.7-.7l.7,.7l.8,1.8l.7-1l.8,0l.7-1.7l.7,1.4l.8-1.7l.7,3.2l.7-1l.8-.9l.7,.5l.8-.6l.7-2.7l.7,3.9l.8-1.1l.7,1.6l.8-2.5l.7,.7l.7,2l.8,0l.7-.4l.7-.6l.8-.9l.7,1.3l.8-.8l.7-.5l.7-4.7l.8,2.4l.7-2.4l.7,4.6l.8-.2l.7-3.7l.8,3.2l.7-.6l.7,2.4l.8-.1l.7-2.9l.7,2.8l.8-.1l.7,1.4l.8-4.2l.7,0l.7-1.5l.8-.8l.7-3.1l.8-8.5l.7-11.1l.7-7.4l.8,6.5l.7,8l.7,7.4l.8,12.9v3H52.5Z"/>
<path d="M52,129.6V126.6l.7-10l.8-4.7l.7-3.2l.8,1.7l.7-1.5l.7-4l.8-.8l.7-4.3l.7-2.2l.8-3.2l.7-.7l.8,1.1l.7,4.2l.7-.2l.8-2.2l.7,0l.7,.7l.8,2l.7,1.5l.8,2l.7,.3l.7-3.2l.8,3.8l.7-4l.7-5.2l.8,.1l.7-2.3l.8-.2l.7-.4l.7-1.9l.8-1.4l.7-.5l.8-5.7l.7-7.6l.7-7.4l.8,.8l.7,6.9l.7,4.9l.8,6.6l.7,7.7l.8,3.9l.7,2.9l.7,4.1l.8,.9l.7,0l.7,1.1l.8,1.5l.7-2l.8-2.6l.7,.1l.7,3.9l.8-4.9l.7-1.9l.8-3.4l.7-10.8l.7-17.7l.8-13.1l.7,12.3l.7,16.1l.8,6.6l.7,2.7l.8,5.6l.7,4.3l.7,1.6l.8,1.7l.7,5.5l.7-1.5l.8-1.3l.7,2.5l.8-1l.7,1.1l.7-1.3l.8,1.7l.7,1.3l.8-.3l.7-1.3l.7,2l.8-1.1l.7,.2l.7,3.8l.8,.5l.7-1l.8-3.2l.7,3.9l.7-2.3l.8-1.1l.7-4.2l.7,7.3l.8,.2l.7,1.6l.8,2.9l.7-6.4l.7,1.6l.8,4.4l.7-2.5l.7-.5l.8,1l.7,.5l.8-2.6l.7-.2l.7,4.6l.8-3.7l.7,.2l.8-3.7l.7-1.1l.7-.4l.8-1l.7-2.1l.7-5.5l.8-3.9l.7,1.9l.8,3.8l.7,4.5l.7,3.3l.8,0l.7,1.1l.7,2.8l.8,1.7l.7,.3l.8,1l.7,.2l.7-.8l.8,1.9l.7-1.3l.8-.2l.7-2.6l.7,.4l.8-1l.7,2.1l.7,2.2l.8,.5l.7-.6l.8-1.4l.7-.3l.7-2.8l.8,2.8l.7-.3l.7-.1l.8,2.8l.7-1.3l.8,2.1l.7-.9l.7-1.7l.8-2.7l.7,6.8l.7,.7l.8-2.1l.7-5.2l.8,5.3l.7,0l.7-3.8l.8,1.5l.7,1.1l.8-.9l.7-3l.7,1l.8,.3l.7,.3l.7,1.7l.8-2.4l.7,4l.8-2.4l.7,2.9l.7-2.2l.8-1.8l.7,3.2l.7-3.3l.8-.1l.7,.8l.8-1.2l.7,2.4l.7,2.7l.8,1.2l.7-2.6l.8-1.4l.7,3.7l.7,.1l.8,.2l.7-2.8l.7,2.1l.8,.8l.7-5.9l.8,1.2l.7,2.9l.7-4.4l.8,5.3l.7-1.1l.7,1.3l.8-1.6l.7-2l.8,2.7l.7,1.4l.7-2.4l.8-1l.7,.7l.7,1.9l.8-2.6l.7-1l.8,.3l.7,1.4l.7-.5l.8-2.9l.7,6.4l.8-1.3l.7-.4l.7-.5l.8-2.8l.7,2.8l.7-2.6l.8,2.7l.7-.8l.8,.8l.7-4.3l.7,5.9l.8-2.2l.7,1.8l.7-7.2l.8,6.6l.7,.6l.8-.7l.7,0l.7-2.5l.8,.5l.7,.3l.8-1.9l.7,3.7l.7,1.6l.8-2.3l.7-.1l.7-1.7l.8,2.8l.7-3.1l.8,4.3l.7-.9l.7,.9l.8-.6l.7,.2l.7-1.6l.8-2.5l.7,2.8l.8,.8l.7,.7l.7-1.6l.8-1.7l.7,1.6l.7-1.8l.8,.4l.7,1.7l.8-1l.7-1.2l.7-2.4l.8-1.9l.7-2l.8-6.9l.7-13.5l.7-5.4l.8,2.8l.7,10.5l.7,5.6l.8,15.6v3H52Z"/>
<path d="M51.6,130.6V127.6l.7-9.7l.8-4.1l.7-2.2l.8-2l.7-1.4l.7-1.2l.8,.4l.7-3.8l.7-6l.8-3.7l.7,1.8l.8,1.1l.7,1.5l.7,2.2l.8,.1l.7-2.3l.7,2.3l.8,1.1l.7,.9l.8,.2l.7-.8l.7,.7l.8-1.7l.7-.7l.7-2.1l.8-4.6l.7,.7l.8-1.3l.7-.4l.7-3.5l.8-.5l.7,1.1l.8-6l.7-8.2l.7-7.4l.8,1.3l.7,5.9l.7,5.8l.8,8.4l.7,4.7l.8,3.3l.7,4.2l.7,4.3l.8-.6l.7,1.7l.7,.4l.8,1.7l.7-.1l.8-2.1l.7,1l.7-4.3l.8,1.8l.7-1.7l.8-5.4l.7-10.4l.7-17.1l.8-14.4l.7,13.5l.7,16l.8,6.1l.7,3.2l.8,3.7l.7,5.1l.7,2.1l.8,4.4l.7-4.4l.7,6.8l.8-2.2l.7-1.4l.8,4.9l.7-.7l.7,3.3l.8-3.6l.7,2.8l.8-2.4l.7,1.5l.7,.2l.8,.4l.7,1.6l.7-.9l.8,.7l.7,1.6l.8-.6l.7,.7l.7,1.8l.8-2.6l.7,4.1l.7-5.1l.8,1.3l.7-.3l.8-2.1l.7,.6l.7,3l.8-1.6l.7-1.8l.7,3l.8-1.2l.7,0l.8,2.8l.7-2.6l.7,1.2l.8-.5l.7-1.5l.8-.7l.7,1.7l.7-2.2l.8-2.1l.7-2.8l.7-6.3l.8-4.2l.7,2l.8,4.5l.7,5.4l.7,4.1l.8,.4l.7,1.3l.7-.1l.8-2.9l.7,3.3l.8-1.4l.7,3.3l.7-1.1l.8,0l.7,1.5l.8-.7l.7,1.7l.7-2.4l.8,3.5l.7-5.5l.7,6.5l.8,.4l.7-2.6l.8-1l.7,.5l.7,3.9l.8-4.3l.7,2.8l.7-2.3l.8,1.4l.7-.3l.8,2.8l.7-.5l.7-1.5l.8,1.1l.7-2.8l.7,3.5l.8-3.3l.7-.7l.8,2.8l.7,.5l.7-1.3l.8-2.3l.7-1.4l.8-1.4l.7,4.4l.7-1.1l.8,.9l.7,.5l.7,2.3l.8-1.5l.7-3.2l.8-.4l.7,4.3l.7,2.1l.8-7.5l.7,4.1l.7-.9l.8,1.4l.7,2.8l.8-3.7l.7,2.8l.7-1.5l.8,.8l.7-.8l.8-5.7l.7,2.1l.7,5.4l.8,.9l.7-1.9l.7,.3l.8-3.1l.7-1.5l.8,4.9l.7-2.7l.7,1.6l.8,1.2l.7-4.1l.7-1.1l.8,5.5l.7-3l.8,2.4l.7-.8l.7,.8l.8-.7l.7-.4l.7,1.5l.8-1.9l.7,2.8l.8-3.9l.7,3.9l.7-1.4l.8-2.3l.7,2.5l.8,.4l.7-3.1l.7,2.1l.8-4.3l.7,3.4l.7,1.9l.8,.2l.7,.4l.8-.8l.7-4.3l.7-2l.8,2l.7,2.8l.7-.2l.8,.9l.7-.9l.8-1.7l.7-1.4l.7,5.4l.8-1.1l.7,1.5l.8-1.1l.7,1.4l.7-.6l.8-3.8l.7,2l.7-1.6l.8,3.4l.7-.7l.8-1.2l.7-.8l.7,3.1l.8-7l.7,7.2l.7-2.5l.8-1l.7,3.5l.8-.3l.7,.2l.7-3.4l.8,.5l.7-1.7l.7,4.3l.8-.5l.7-2l.8,.2l.7-1.8l.7-1.7l.8-1.1l.7-2.7l.8-7.3l.7-11.5l.7-6.8l.8,3.1l.7,8.8l.7,5.6l.8,16.3v3H51.6Z"/>
<path d="M51.1,130.8V127.8l.7-8.6l.8-6.8l.7,.1l.8-3.1l.7,2.5l.7-4.7l.8-.4l.7-5.7l.7-2.6l.8-4.3l.7,.5l.8,2l.7,2.7l.7,2.3l.8-4.3l.7,.9l.7,.1l.8,.6l.7,4.6l.8-3.3l.7,.3l.7-2.1l.8,3.9l.7-2.3l.7-5l.8,.6l.7-1.8l.8,1.6l.7-2.7l.7-3.7l.8-.4l.7,.9l.8-5.4l.7-7.7l.7-7.4l.8,.8l.7,7.4l.7,5l.8,6.4l.7,6l.8,4.7l.7,1.9l.7,4.3l.8,.6l.7,1.6l.7,.5l.8,4.1l.7-3.1l.8-1.6l.7-3.8l.7,4.3l.8,.6l.7-6l.8-2.4l.7-12l.7-18.1l.8-13l.7,13.3l.7,14.9l.8,7.1l.7,4.6l.8,3.3l.7,.5l.7,3.7l.8,4.3l.7,2.3l.7,.7l.8,.5l.7,5.9l.8-4.4l.7-2.8l.7-.7l.8,5.8l.7-4.1l.8,5.1l.7-.4l.7-6.1l.8,1.5l.7,4l.7,1.6l.8-4.7l.7,4l.8,.1l.7,2.7l.7-4.8l.8,4.3l.7-.6l.7-.4l.8,2.2l.7-2.3l.8,2.2l.7-2.6l.7-.4l.8,3l.7-3l.7,.4l.8-.4l.7,3.5l.8,.3l.7-5.7l.7,1.1l.8,2l.7-1.5l.8-.5l.7-2l.7-.6l.8,.1l.7-2.8l.7-5.2l.8-4.5l.7,.4l.8,6l.7,6l.7,.9l.8,3.9l.7-1.3l.7,3.1l.8-1.7l.7,2.6l.8-.6l.7,0l.7-2.4l.8,1.9l.7,1.7l.8,.4l.7-1.7l.7,.1l.8,.5l.7,3.3l.7-7.8l.8,5.1l.7,1.2l.8-1.2l.7,2.4l.7-3.4l.8,.4l.7-1.2l.7,1.3l.8,5.1l.7-7.6l.8,1l.7,4l.7-.2l.8,1.1l.7-3.4l.7,2.8l.8-1l.7,.4l.8-1.4l.7-1.5l.7,3.3l.8-2.5l.7,1.6l.8-.1l.7,.8l.7-3.9l.8,1.7l.7,4.9l.7-.9l.8-4.1l.7-3.6l.8,4.2l.7,2.8l.7,1.5l.8-5.2l.7,.5l.7,2.7l.8-5.3l.7,4l.8,1.4l.7-2.7l.7,1.8l.8-2.2l.7-.1l.8,3.6l.7-3.5l.7-2.5l.8,3.2l.7,1.9l.7,1.5l.8-3.9l.7-.7l.8,1l.7,1.5l.7-1.4l.8,.8l.7-3.2l.7,4.5l.8,2.4l.7-1.6l.8,1.7l.7-.1l.7-5.2l.8,3l.7-2.1l.7,2.7l.8-2.3l.7,2.2l.8-2.9l.7,.3l.7-2.2l.8,3.1l.7-2.6l.8,4.5l.7-.4l.7-2.8l.8,.5l.7,1.5l.7,.2l.8,2l.7-2.4l.8-.6l.7,2.9l.7-2.7l.8,2l.7-1.1l.7,2.4l.8,0l.7-.1l.8-.2l.7-4.4l.7,4.6l.8,.1l.7-.9l.8-2.1l.7,3.2l.7-.6l.8-2.7l.7-1l.7,1.5l.8-3.4l.7,1.8l.8,2.2l.7,1.4l.7-1.9l.8-2.4l.7,4.9l.7-1.2l.8,.7l.7-2.3l.8,1.4l.7-1l.7-1.2l.8,.7l.7-1l.7,1.1l.8-.6l.7-1.6l.8,3.2l.7-1l.7-2l.8-.8l.7-3.6l.8-7.5l.7-12.4l.7-6.7l.8,5.2l.7,7.3l.7,7.1l.8,14.7v3H51.1Z"/>
<path d="M50.6,131.3V128.3l.7-10.8l.8-4.6l.7-1.6l.8,.5l.7-2.7l.7-1.5l.8-3l.7-1.8l.7-4.1l.8-3.3l.7,.5l.8,.8l.7,5.1l.7,.3l.8-1.7l.7-1.6l.7,2.2l.8,1l.7,3.5l.8-2.7l.7-.1l.7-2.1l.8,.2l.7,.6l.7-2.3l.8-2.4l.7-1.7l.8-.1l.7-2.7l.7-2.6l.8,.7l.7-1.7l.8-3.5l.7-7.2l.7-8.5l.8,1.8l.7,7l.7,5.3l.8,4.5l.7,8.6l.8,1.5l.7,6.4l.7,.9l.8,1.2l.7,2.7l.7,1.7l.8-.8l.7-2.3l.8,.1l.7-.8l.7-1l.8-1l.7-1.9l.8-3.2l.7-10.2l.7-18.7l.8-13.6l.7,13.4l.7,15.3l.8,8.2l.7,0l.8,7l.7,.3l.7,6.9l.8,2.5l.7,2.3l.7,1.1l.8,1.6l.7-1.2l.8-1.2l.7-2l.7,4.9l.8-4.2l.7,1.8l.8,.5l.7,5.2l.7-5l.8,.2l.7-.7l.7,3.5l.8-3l.7,2.8l.8,2.3l.7-2.8l.7-.9l.8,1.8l.7,.7l.7,.5l.8-1.8l.7,5.3l.8-4.3l.7,3.4l.7-1.5l.8-1.5l.7-2.2l.7,2.7l.8,2l.7-7.3l.8,4.6l.7,5.7l.7-5l.8,.9l.7-.5l.8-3.2l.7-2.2l.7,1.9l.8-.3l.7-5.7l.7-4.5l.8-4.3l.7,1.3l.8,6.7l.7,3.5l.7,2.6l.8,.4l.7-.3l.7,4.8l.8-1.2l.7,2.5l.8-1.4l.7-1.7l.7,1.2l.8,2l.7-4.3l.8,2l.7-.5l.7,2.5l.8-2.6l.7,3.3l.7-2.1l.8,1.9l.7,.2l.8,3.4l.7-5.4l.7,.9l.8,2.6l.7-1.4l.7-1.1l.8,0l.7,5.8l.8-7.6l.7,5.5l.7-6.3l.8,1.7l.7,2.2l.7-.1l.8-.1l.7,1.5l.8-4.1l.7,4.8l.7-.3l.8-.6l.7,3l.8-5.6l.7,4.8l.7-5.8l.8,1.3l.7-2.3l.7,5.7l.8-.6l.7,.3l.8-2.6l.7,3.7l.7-1.2l.8,1.7l.7-2.4l.7-.4l.8-3.7l.7,6.1l.8-3.9l.7,.9l.7-.6l.8,4.3l.7-3.1l.8,1.8l.7-3l.7,1.7l.8-2.7l.7-1.5l.7,6.2l.8-.6l.7-4.1l.8,5.7l.7-1.8l.7-1.1l.8-.1l.7-2.5l.7,1.7l.8,1.7l.7,1.2l.8,.3l.7-2.6l.7,2.5l.8-.5l.7-1.5l.7,1.5l.8-.5l.7,1.2l.8-5.7l.7,4.7l.7-2.7l.8,4.6l.7-.9l.8-3.1l.7,2.7l.7,.8l.8-3.8l.7,1.3l.7,1.5l.8,.1l.7-4.8l.8,4.2l.7,1.2l.7,.9l.8-4.8l.7-.2l.7,1.8l.8,1.9l.7-2.2l.8,3.6l.7-.7l.7-.1l.8-3.4l.7,1.2l.8-.1l.7,2.2l.7,.2l.8-3.5l.7,3.7l.7-.8l.8-1.8l.7,1.6l.8-2.6l.7,.9l.7-.2l.8-3.6l.7,6.2l.7-5.8l.8,5.9l.7,.3l.8-2.9l.7,2.5l.7,.2l.8-3.4l.7-1.3l.7-2.5l.8,6l.7-3.8l.8,2.3l.7,.4l.7,.7l.8-4.7l.7-2.2l.8-8.9l.7-10.6l.7-8l.8,6.1l.7,7l.7,7.5l.8,14.1v3H50.6Z"/>
<path d="M50.2,132.1V129.1l.7-8.3l.8-6l.7-1.7l.8-3.6l.7,2.1l.7-1.1l.8-3.8l.7-2.9l.7-4.5l.8-1.6l.7-1.1l.8,2.2l.7,1.7l.7,1.5l.8,1.3l.7-2.2l.7,.3l.8,.6l.7-.3l.8,1.8l.7-.1l.7,1.8l.8-2.4l.7-.5l.7-4.2l.8,.5l.7-3.2l.8,.7l.7-.8l.7-4.4l.8,0l.7,.2l.8-4.7l.7-7.5l.7-7.8l.8,1.1l.7,5.8l.7,4.4l.8,8.8l.7,5.5l.8,4.3l.7,1.8l.7,4.2l.8,1.3l.7,2.6l.7-.6l.8,1.8l.7-2.1l.8-2.8l.7,.4l.7,1.1l.8-3.3l.7-.8l.8-3.6l.7-10.2l.7-19.8l.8-12.9l.7,13.8l.7,15.6l.8,7.8l.7,3.7l.8,1.1l.7,5.8l.7,3.7l.8,1.3l.7,5l.7-2.5l.8-1.8l.7,1.2l.8,.3l.7,4.3l.7-1.6l.8-2.9l.7-1.8l.8,6.7l.7,1.9l.7-5.2l.8,1.8l.7-.8l.7-.3l.8,4l.7,1l.8-5.9l.7,5.2l.7,1l.8-2l.7,.8l.7,2.4l.8-3l.7,2.6l.8-2.5l.7,2.9l.7,.1l.8-.6l.7-.4l.7,0l.8,.9l.7-2.8l.8,4.4l.7-1.2l.7,2.7l.8-5.1l.7-1.7l.8-1l.7,2.3l.7-2.5l.8-.9l.7-4.7l.7-3.6l.8-5.5l.7,1.5l.8,7.3l.7,4.6l.7,.1l.8,3.3l.7,1l.7-1.2l.8,5.5l.7-1.5l.8,.6l.7-6.1l.7,7.8l.8-2.2l.7-.1l.8,1.2l.7-1.2l.7,2.9l.8-3.4l.7,.6l.7-.6l.8,4.2l.7-3.3l.8,4.1l.7-3.3l.7-6.4l.8,6l.7,1.2l.7-3.2l.8,3.4l.7-.6l.8-4.1l.7,4.9l.7-3.5l.8,2.7l.7,2.2l.7-2.6l.8-1.3l.7,.3l.8,3.9l.7,1.4l.7-6l.8,1.2l.7,3l.8-2.1l.7,.1l.7-1.5l.8,1.7l.7-.9l.7,.9l.8-.9l.7-1.5l.8,4.5l.7-.2l.7-2l.8,1l.7,1l.7-4l.8,5.7l.7-3.7l.8-2.3l.7,5.4l.7-7.5l.8,4.8l.7-.5l.8-.3l.7-4.2l.7,7.8l.8-.1l.7,.4l.7-3l.8,2.6l.7-3.5l.8,3.5l.7,.5l.7-5.7l.8,4.1l.7-1.6l.7,1.7l.8-2.5l.7-3.2l.8,2.5l.7,1.3l.7,.8l.8-2.6l.7,4.4l.7-6l.8,1.2l.7,.9l.8,.3l.7,2.8l.7-1.6l.8,2.9l.7-2.2l.8-2.2l.7,1.4l.7,0l.8,.1l.7,.7l.7-1.3l.8,3.7l.7-3.3l.8,3.5l.7-.9l.7-3.3l.8,2.3l.7-4.4l.7,3.2l.8,1.1l.7-.2l.8-2.1l.7,3.4l.7-1.5l.8,.8l.7,.6l.8,1l.7-1.2l.7,1.1l.8-1.7l.7-1.8l.7,1.3l.8,1.5l.7-3.6l.8,2.6l.7-2.4l.7,.9l.8,.1l.7-.4l.7-1.8l.8,2l.7-1.1l.8,3.2l.7-.7l.7,1.6l.8-1.6l.7-2.8l.7,3l.8-2.4l.7-1.3l.8,2.9l.7-1.6l.7-2l.8-1.1l.7-3l.8-6.2l.7-12.4l.7-6.6l.8,4.8l.7,9l.7,6.8l.8,13.2v3H50.2Z"/>
<path d="M49.7,132.4V129.4l.7-9l.8-4.7l.7-4.1l.8,.5l.7,.2l.7-1.4l.8-4.1l.7-3.7l.7-3.3l.8-3l.7,.5l.8,1.4l.7,2.2l.7,1.7l.8-.7l.7,1.6l.7-2.6l.8-.8l.7,4.9l.8-.5l.7-.7l.7,.9l.8-4.5l.7,3.2l.7-2.6l.8-6.3l.7,.1l.8,.8l.7,0l.7-2.3l.8-1.2l.7-1.5l.8-3.3l.7-8.7l.7-7.8l.8,2.3l.7,6.7l.7,4.8l.8,4.1l.7,9.4l.8,1.7l.7,5.5l.7,2.6l.8-.4l.7,3l.7,.8l.8-.6l.7-.7l.8,0l.7-3l.7,2.5l.8-.7l.7-3.4l.8-4.8l.7-8.7l.7-19.6l.8-13.5l.7,13.6l.7,14.2l.8,10.4l.7,1.9l.8,4.4l.7,4.9l.7,1l.8,2.1l.7,2.3l.7,1.5l.8-2.2l.7,3.9l.8-.9l.7,1.5l.7-5.1l.8,5.7l.7-6.2l.8,6.3l.7-1.2l.7-3.1l.8,6.3l.7-4.7l.7,6l.8-1.4l.7-1.9l.8,.6l.7,.3l.7,.1l.8-2.4l.7,7l.7-2l.8-3.3l.7,5.1l.8-1.5l.7-6.5l.7,2.2l.8,2l.7,.9l.7,.5l.8,1.7l.7-.3l.8,.2l.7,.4l.7-2.8l.8-.6l.7,2.1l.8-2.3l.7,1.5l.7-3.7l.8-1.1l.7-3.7l.7-5.4l.8-5.1l.7,2.2l.8,6.3l.7,3.9l.7,2.5l.8,1.4l.7,.3l.7,3.7l.8,1.1l.7-2.8l.8,3.5l.7-2.7l.7-4l.8,2.5l.7,6l.8-1.1l.7-2.5l.7,1.5l.8-2l.7,1l.7,0l.8-.5l.7,4.6l.8-5.7l.7,5.6l.7-1l.8,2.9l.7-4.8l.7-.7l.8,1.7l.7,1.7l.8,2l.7-5.6l.7,3.8l.8-1.8l.7-1.2l.7,.7l.8-1l.7-2.5l.8,1.9l.7,3.7l.7-2l.8,.5l.7,1.4l.8-3.2l.7,2.3l.7-1.3l.8-1l.7-2.8l.7,5.7l.8-2.8l.7-3.3l.8,1.6l.7,2.6l.7,2.3l.8-1.9l.7,1.8l.7-.4l.8,2.7l.7-2.9l.8,2.2l.7-5l.7,1.2l.8,2l.7-.9l.8-.2l.7,.9l.7-1.2l.8,1.1l.7-1.4l.7,2.8l.8-1.9l.7-3.3l.8,5.4l.7-.1l.7-3.8l.8,1.5l.7,.3l.7,.1l.8,1.3l.7,.2l.8-2.2l.7,.8l.7-1l.8,.5l.7-4l.7,4.9l.8-3l.7,2.9l.8-4.7l.7,3l.7,3.8l.8-4.9l.7,4.5l.8-3.3l.7,3.8l.7-2.3l.8,.3l.7-2.5l.7,2.5l.8,.6l.7-2.3l.8,.7l.7,2.7l.7-1.2l.8,.1l.7,1l.7,.6l.8-3.3l.7,1.3l.8,.9l.7-3l.7,4l.8-3.1l.7,2.2l.8-1.5l.7,1.7l.7-3.9l.8,4.1l.7-5.4l.7,2.8l.8,3.5l.7-.9l.8-4l.7,0l.7,4.3l.8-1.6l.7-1.2l.7-3.5l.8,3.4l.7,1.9l.8-2.6l.7,1.9l.7,1.9l.8-1.8l.7,.2l.7-.2l.8-.9l.7-.8l.8,2l.7-2.8l.7,.6l.8-3.5l.7-3.3l.8-6.7l.7-10.5l.7-7.5l.8,4.5l.7,7.7l.7,6.2l.8,15.7v3H49.7Z"/>
<path d="M49.2,133.2V130.2l.7-8.4l.8-5.3l.7-.6l.8-2.4l.7-1.8l.7-1.4l.8-1.2l.7-3.9l.7-4.5l.8-2.5l.7,.1l.8,1.6l.7,3.2l.7,1.2l.8-3l.7-.1l.7,3.1l.8,2.6l.7-1.2l.8,1.2l.7-.7l.7,.8l.8-3.3l.7-.1l.7-4.8l.8,1.6l.7-2.9l.8,.3l.7-.8l.7-3.8l.8-.6l.7-.4l.8-3.8l.7-8.6l.7-6.4l.8,.6l.7,5.6l.7,5.9l.8,5.5l.7,6.3l.8,6.2l.7,3.6l.7,.7l.8,2.5l.7,.4l.7,1.2l.8-.2l.7-1.4l.8,1.4l.7-1.3l.7-.6l.8,.4l.7-2.9l.8-6.2l.7-9.5l.7-18.9l.8-12.9l.7,13.5l.7,16.8l.8,7.3l.7,1.6l.8,6.4l.7-.2l.7,1.5l.8,3.9l.7,2.8l.7,1.6l.8-2.7l.7,1.7l.8,1.5l.7,1.4l.7-1.8l.8,.4l.7,.8l.8-1.2l.7,3.3l.7-2.2l.8-1.4l.7,4.7l.7,3.7l.8-5.3l.7,3.7l.8,2l.7-5l.7,3.5l.8-1.6l.7,2l.7-.1l.8-1.8l.7,4.9l.8-4.6l.7,1.1l.7,1.5l.8-1.4l.7-2.5l.7,1.3l.8-2.9l.7,3.3l.8-.2l.7-1l.7,.1l.8,1.9l.7-.3l.8,.8l.7-2.6l.7-1.2l.8-2.8l.7-4.6l.7-3.1l.8-5.3l.7,2.1l.8,5.5l.7,5l.7,4.5l.8-1.6l.7,2.6l.7,1.9l.8,3l.7-4.9l.8,3.2l.7-3.7l.7,3.2l.8,2.1l.7-1.3l.8-1.9l.7-1l.7,6l.8-3.7l.7,1.9l.7-1l.8-1.6l.7,1.1l.8-1l.7-.8l.7-.6l.8,2.8l.7,3.1l.7-5.7l.8,2l.7-3.4l.8,1.3l.7,1.4l.7-1.4l.8,3.9l.7-1.1l.7-1.4l.8,.9l.7,2.3l.8-3.7l.7,3.1l.7-3.8l.8,.8l.7,2.4l.8,3.1l.7-5.4l.7,2l.8,3.3l.7-3.3l.7-1.6l.8,.6l.7,3.2l.8-4.3l.7,4.4l.7-2.4l.8,3.4l.7-3l.7-1.6l.8,1.5l.7,.5l.8-1.8l.7,3l.7-2.5l.8,3.7l.7-4.7l.8,1.9l.7-4.8l.7,3.9l.8,.7l.7,1.4l.7,2.6l.8-2.4l.7-2.2l.8,2.2l.7,1.6l.7-3.7l.8,3l.7-3.2l.7-.7l.8,2.4l.7-2.5l.8,.4l.7,4.4l.7-3.3l.8,2.9l.7-.8l.7-3.2l.8,4.4l.7-3.7l.8,2.1l.7-1.5l.7,2.4l.8-.1l.7-.8l.8-.8l.7,1.5l.7,.7l.8-.5l.7-4.9l.7,6l.8-1.3l.7,.9l.8-3.5l.7,2l.7,2.1l.8-2.6l.7-.1l.7,1.9l.8,.4l.7-2.6l.8,2.1l.7-.2l.7,1l.8-.8l.7-4.2l.8,4.1l.7-2l.7,2.8l.8-2.2l.7-4.8l.7,2.3l.8,4.9l.7-2.9l.8,.3l.7,0l.7,.5l.8-.4l.7,1.7l.7-.1l.8-2l.7,2.4l.8-2.7l.7,2.2l.7-2.5l.8,.8l.7-1l.7-3l.8,4l.7,.5l.8-1.3l.7-1.1l.7,0l.8-1.8l.7-5.4l.8-4.8l.7-12.4l.7-7.5l.8,6.4l.7,7.1l.7,6.3l.8,15.2v3H49.2Z"/>
<path d="M48.7,133.7V130.7l.7-8.4l.8-8.1l.7,.7l.8-1.6l.7,2.3l.7-7l.8,1.8l.7-3.6l.7-5.6l.8-2.9l.7,.7l.8,3.4l.7-.1l.7,1l.8,.4l.7-1.2l.7,2.1l.8,2.4l.7-1.7l.8,1.5l.7-.4l.7,1.5l.8-1.8l.7-1.9l.7-2.2l.8-4l.7-.6l.8,1l.7-1.3l.7-2.7l.8-1.8l.7,1l.8-5.8l.7-7.3l.7-7.4l.8,1.9l.7,5.7l.7,4.1l.8,9.2l.7,3.8l.8,5.3l.7,.9l.7,4l.8,1.1l.7,3.2l.7,.9l.8-2.6l.7,3.7l.8-2.3l.7-1.6l.7,1l.8-2.8l.7,.2l.8-6.4l.7-10.4l.7-17.6l.8-14.2l.7,14.1l.7,14.8l.8,10.1l.7,1.9l.8,1.5l.7,3.8l.7,2l.8,1l.7,3.5l.7,2.4l.8,.7l.7-1.6l.8,3.9l.7-.6l.7-1.9l.8-4l.7,7.1l.8-2.5l.7,3.1l.7-2.8l.8,1.7l.7,.9l.7-1.3l.8,2.5l.7,3.5l.8-8.3l.7,5.4l.7-1l.8-.5l.7,3.3l.7-.4l.8,.4l.7-2.4l.8,0l.7,.9l.7,3.1l.8-.8l.7,1.2l.7,0l.8-1.5l.7-1.9l.8-.8l.7,4.6l.7-5l.8,.7l.7-2.8l.8,1.3l.7,2.8l.7-3.9l.8-1.8l.7-3.3l.7-4.5l.8-5.8l.7,2.3l.8,6.3l.7,5.9l.7,1.4l.8,3.2l.7,1.5l.7-4.6l.8,3.7l.7-1.9l.8,.5l.7,.5l.7,2.7l.8,1.7l.7-1.8l.8-.8l.7,1l.7,.2l.8-.6l.7,3.3l.7-5l.8,4.6l.7-2.5l.8,2l.7-4.4l.7,3.8l.8,1.1l.7-1.4l.7-2.3l.8,4.4l.7,.3l.8-1.8l.7-2.5l.7,4.2l.8-4.4l.7-3.5l.7,5.9l.8-2.8l.7,2.8l.8,3.6l.7-2.9l.7-2.6l.8,4.1l.7-2l.8,1.1l.7-2.5l.7-4l.8,4.7l.7,3.3l.7-6.8l.8,4.8l.7,0l.8-1.6l.7-1l.7,1.7l.8-.6l.7,.7l.7,2.9l.8-4.1l.7-.6l.8,4l.7,1.4l.7-1.7l.8-2l.7-2.2l.8,2.2l.7,.3l.7,1.7l.8-1.2l.7-.7l.7,3.7l.8-2.2l.7-.8l.8-1.6l.7,.2l.7-2.3l.8,5.6l.7-.8l.7,.4l.8-2.4l.7-2.8l.8,3.6l.7,.4l.7,2.2l.8,.5l.7-6.6l.7,4.6l.8-3.7l.7,1.8l.8,2.6l.7-1.3l.7,2.3l.8-3l.7,1.4l.8-1.7l.7-1.4l.7,4.4l.8-3.3l.7,1.2l.7,1.8l.8-1.4l.7-2.5l.8,2.8l.7-2.1l.7,1.8l.8-2.4l.7,3.5l.7,.2l.8-1.8l.7-.2l.8,2.6l.7-4.9l.7,5.4l.8-6.1l.7,1.1l.8,4.2l.7,.8l.7-2.8l.8-.8l.7-2.3l.7,1l.8,4.5l.7-3.1l.8,2.7l.7-3.2l.7,.9l.8-1.7l.7,2.9l.7-1.7l.8,3l.7,.6l.8-3.4l.7,1.2l.7-2.2l.8-2.7l.7,5.9l.7,1.2l.8-.6l.7-1.1l.8-4.7l.7,1.9l.7-.6l.8-2.5l.7-2.8l.8-7l.7-11.9l.7-5.7l.8,3.3l.7,8.5l.7,4.7l.8,16.8v3H48.7Z"/>
<path d="M48.3,134.2V131.2l.7-9.1l.8-8.2l.7-.9l.8,.6l.7,.6l.7-4l.8-1.9l.7-2.6l.7-3.2l.8-3.6l.7,1.7l.8,.1l.7,.7l.7,2.1l.8,1l.7-3.1l.7,2.6l.8,3.9l.7,2l.8,0l.7-.1l.7-4l.8,1.4l.7-3l.7-3.1l.8-2l.7-3l.8,3.3l.7-2.9l.7-3.2l.8-.4l.7,.1l.8-4.9l.7-6.1l.7-8.3l.8,2.2l.7,6l.7,7l.8,3.7l.7,7.2l.8,3.2l.7,2.5l.7,1.2l.8,2.3l.7,6.5l.7-4l.8,.8l.7-.1l.8,.8l.7-1.7l.7-.9l.8,.5l.7-5.5l.8-2.9l.7-9.5l.7-19l.8-13.2l.7,13.6l.7,15.7l.8,6.4l.7,3.7l.8,5.6l.7,4l.7,.4l.8,1.3l.7,3.9l.7-.6l.8-.8l.7,1.4l.8-.2l.7,2.2l.7,.7l.8-1.7l.7,.5l.8-3.4l.7,5.6l.7,1.8l.8,.7l.7,4.1l.7-6.2l.8-4.2l.7,5.9l.8,1.8l.7,.9l.7-3.9l.8,2.3l.7,2.3l.7-2.9l.8,1.6l.7-3.9l.8,7.1l.7-1.8l.7-.2l.8-2.7l.7,.7l.7,0l.8-.6l.7,.4l.8-2.8l.7,5.5l.7-2.8l.8,1.3l.7-1l.8-.6l.7,.5l.7-2.6l.8-2.1l.7-3.2l.7-6.5l.8-3.4l.7,1.1l.8,5.9l.7,4.9l.7,4.8l.8-1.7l.7,2.2l.7,2.4l.8-4.6l.7,4.1l.8,.9l.7,.6l.7,0l.8-1.2l.7,1.4l.8-.5l.7,2l.7-3l.8-.4l.7-.1l.7,6.8l.8-5.6l.7,.8l.8-2.3l.7,4.4l.7-1.5l.8-.9l.7,1l.7,2.2l.8-3.2l.7-2l.8-2l.7,2.2l.7,.5l.8,5l.7-4.2l.7,1.4l.8,3.3l.7-3.8l.8-2l.7,4.4l.7-3.7l.8,.4l.7,4.2l.8-1.6l.7-.5l.7-1.8l.8,2.1l.7-2.1l.7,.3l.8,1.6l.7-1.9l.8-4.3l.7,5.7l.7,0l.8,2.6l.7-3.9l.7,4.2l.8,1.1l.7-3.7l.8,.5l.7-.6l.7,2l.8,1.7l.7-.5l.8-4.6l.7,.1l.7-.1l.8,3.1l.7,1.4l.7,.6l.8-2.2l.7-1.4l.8,1l.7,.3l.7-2.7l.8,3.4l.7,.1l.7-.7l.8,1.9l.7-1.7l.8,0l.7,.3l.7-.1l.8-3.3l.7,2.3l.7,2.3l.8-6.9l.7,4.3l.8,3.2l.7-4.2l.7-2.2l.8,4.6l.7,.7l.8-2.3l.7,3.1l.7-1.6l.8-2.1l.7-.3l.7,1.6l.8,1.9l.7,.9l.8-.1l.7-2.8l.7-3.2l.8,1.7l.7-.3l.7-1.2l.8,2l.7,2.6l.8-3.9l.7,5.1l.7-.9l.8-1.1l.7,2l.8-.8l.7-2l.7,1.6l.8,1l.7,.3l.7-4.3l.8,.1l.7,.8l.8,2.6l.7-3.1l.7,2.3l.8-1l.7,1.2l.7,1.2l.8-2.5l.7,.3l.8-2.2l.7,3.2l.7-1.4l.8-.2l.7,2.7l.7-1.5l.8-3.7l.7,1.5l.8,3.2l.7-3.5l.7-1.2l.8-1.8l.7-3.3l.8-6.7l.7-11.3l.7-7.5l.8,4.4l.7,9.2l.7,5.5l.8,15.1v3H48.3Z"/>
<path d="M47.8,134.7V131.7l.7-9.9l.8-4.6l.7-2.3l.8,1.2l.7-3.6l.7,.3l.8-3.6l.7-1.5l.7-5.9l.8-3l.7,1.2l.8,2.1l.7,2.9l.7-.1l.8,.8l.7-2.7l.7,2.4l.8-.1l.7,2.4l.8,.7l.7,.8l.7-2.7l.8,.2l.7,.2l.7-2l.8-6.5l.7,.7l.8,.5l.7-.4l.7-2.3l.8-1.6l.7-1.3l.8-3l.7-9.9l.7-6.3l.8,2.6l.7,5.1l.7,4.5l.8,7.9l.7,6.7l.8,2l.7,4.5l.7,1.5l.8-.5l.7,3.6l.7-.9l.8,3.3l.7,1.1l.8-3.2l.7-1.4l.7-2l.8,.1l.7,1.2l.8-6.3l.7-11.3l.7-18.5l.8-13.1l.7,13.2l.7,15.4l.8,9.5l.7,3.3l.8,3.2l.7,0l.7,5.3l.8,4.8l.7-2.1l.7,.1l.8,5.6l.7-.6l.8-3.4l.7,.6l.7-1.2l.8-2.1l.7,2.7l.8-.1l.7,4.1l.7-3.7l.8,5.3l.7-1.9l.7,5.7l.8-3.4l.7-2.4l.8,4.1l.7-.8l.7,3.9l.8-3.9l.7,2.3l.7-3l.8,1.3l.7,.6l.8-.7l.7,.2l.7-.8l.8,.6l.7-3.1l.7,.2l.8,8.1l.7-8.5l.8,3.2l.7-1.2l.7,2.4l.8-3.1l.7-.2l.8,1.6l.7,.1l.7-3.7l.8-1.8l.7-2l.7-4.5l.8-5.5l.7,.8l.8,4.9l.7,6.6l.7,2.5l.8,2.6l.7-1.1l.7,2.7l.8-4l.7,2.4l.8,1.8l.7,.6l.7-2.7l.8,3.2l.7,.1l.8-1l.7-2l.7-.7l.8,4.1l.7,2.1l.7-.7l.8-1.5l.7-1.8l.8,5.7l.7-5.5l.7,.6l.8,.5l.7,3.8l.7-3.5l.8,1.4l.7,1l.8-3.4l.7-1.4l.7,2.4l.8-.8l.7-.9l.7,2.2l.8,1.1l.7-4.3l.8,4.8l.7-.7l.7-1.4l.8,1.7l.7,1.3l.8-4.6l.7,2.6l.7,1.5l.8-.2l.7-2.6l.7-.4l.8,1.3l.7-2l.8,2.6l.7-3.5l.7,1.5l.8,4.7l.7-2.4l.7-.8l.8,.7l.7,2.3l.8-3.3l.7,1.3l.7,3.1l.8-.3l.7-2l.8-2.8l.7,2.1l.7-.4l.8-1.7l.7,2.7l.7-.6l.8,.3l.7-2.2l.8,3.6l.7-2.4l.7,2.6l.8-1.8l.7-2.2l.7,4.2l.8-2.7l.7,.8l.8-.2l.7-.7l.7,1.1l.8-1l.7-2.8l.7,5.5l.8,1l.7-4.1l.8,.9l.7-3.5l.7,5.9l.8-3.1l.7,3l.8-.3l.7,.4l.7,.4l.8,.5l.7-1.5l.7-.2l.8-.5l.7-1.6l.8,3.7l.7-1.6l.7,1.6l.8-3.6l.7,3.6l.7-.9l.8,.8l.7-4l.8,3.5l.7,0l.7-.3l.8,0l.7,.9l.8-4.2l.7,3.6l.7-2.1l.8,1.3l.7,.4l.7,.6l.8-.3l.7,.8l.8-1l.7-.1l.7-2.2l.8-4.2l.7,7.1l.7-.7l.8-3.4l.7-1.4l.8,2l.7,2.2l.7-4.9l.8,3.9l.7-2.4l.7,3.5l.8,1.4l.7-6l.8,4.5l.7-1.9l.7-1.9l.8-1l.7-4.6l.8-6.3l.7-11.8l.7-6.5l.8,3.5l.7,8l.7,6.6l.8,16v3H47.8Z"/>
<path d="M47.3,134.9V131.9l.7-8.9l.8-3.5l.7-2.6l.8-3.2l.7-.1l.7,1.3l.8-3l.7-4.1l.7-6l.8-.8l.7-1l.8,1.8l.7,3.5l.7,.6l.8-2.7l.7,.1l.7,1l.8,3.8l.7-.5l.8-.3l.7-.3l.7,1.7l.8-2.8l.7-1l.7-1.1l.8-3.3l.7,.5l.8-1.2l.7-.4l.7-1.9l.8-2.2l.7-1.6l.8-3.5l.7-7.8l.7-5.8l.8-.2l.7,6.3l.7,4.7l.8,7.4l.7,5.1l.8,3.7l.7,2.8l.7,5.3l.8,.2l.7,1.4l.7,1.1l.8-3.2l.7,3.3l.8-1.7l.7-2.2l.7,.1l.8,.5l.7-1.9l.8-5l.7-11.5l.7-18.1l.8-12.8l.7,13.1l.7,15l.8,7.4l.7,4.7l.8,4l.7,1.6l.7,4l.8,2.6l.7-.2l.7,2.4l.8-2.1l.7-.8l.8,3.2l.7-1.9l.7,6.7l.8-3.7l.7,.8l.8,0l.7-.7l.7-1l.8,4.5l.7,0l.7,3.2l.8-3.4l.7,6.1l.8-6.4l.7-.9l.7,5l.8-3.3l.7,2.3l.7-1.5l.8,1.4l.7-4.3l.8-.5l.7,1.8l.7,0l.8,.8l.7,.3l.7,2l.8,.5l.7-1.3l.8-2.3l.7,.3l.7,0l.8,2.6l.7-2.8l.8,1.6l.7-.1l.7,0l.8-5.3l.7-3.9l.7-3.7l.8-5.3l.7,1.4l.8,5.2l.7,6.1l.7,1.4l.8,2.1l.7,3.2l.7,1.4l.8-.4l.7-1.2l.8,2.8l.7-2.8l.7,2.2l.8-1.1l.7,.4l.8-.9l.7,3.6l.7-3.2l.8,1.9l.7-4l.7,1.3l.8,3.6l.7-2.3l.8-.7l.7,4.2l.7-3.2l.8-2l.7,3.4l.7-.1l.8,2.6l.7-2.5l.8-2.2l.7-2.4l.7,6.3l.8-3.9l.7,3l.7-3.1l.8,.1l.7,2.4l.8,1.5l.7-2l.7,1.9l.8-2.5l.7-3.9l.8,6.3l.7-3.6l.7-.6l.8,.4l.7,4.7l.7-3.6l.8,2.3l.7-3.9l.8,5.3l.7-.9l.7,1.2l.8-1.3l.7,1.2l.7-2.2l.8-.2l.7,1l.8,.1l.7-4l.7,6.1l.8-3.7l.7,1.2l.8,.7l.7-1l.7,.7l.8,.8l.7-2.2l.7,.2l.8-1.3l.7-1.4l.8,.8l.7,4.7l.7-.9l.8,1.5l.7-2.6l.7-.9l.8,.6l.7,.4l.8,1.1l.7-3.3l.7,.2l.8,1.4l.7,3.1l.7-1.8l.8-2l.7,1l.8-1.1l.7,4.1l.7-1.4l.8,1.4l.7-3.6l.8-1.5l.7,1.3l.7,.9l.8,2.2l.7-2l.7-.6l.8,1.2l.7,2.3l.8-.5l.7-2.4l.7,2.2l.8-2.4l.7,1.9l.7,.4l.8-2.6l.7,.8l.8-.3l.7,2.8l.7-1.4l.8,1l.7-4.7l.8,4.3l.7-1.9l.7,2.1l.8-.1l.7-1.1l.7,1.2l.8,.8l.7-5.5l.8,3.9l.7,0l.7-.5l.8,2.1l.7,.2l.7-.7l.8-2.5l.7-.8l.8-.1l.7,2.4l.7-2.9l.8-.3l.7,4.4l.7-2.7l.8-1.6l.7-.3l.8,4.2l.7-3.7l.7,.2l.8-3l.7-3.6l.8-6.3l.7-12.7l.7-6.3l.8,5.1l.7,7.9l.7,6.6l.8,15.2v3H47.3Z"/>
<path d="M46.8,135.3V132.3l.7-9.2l.8-2.7l.7-6.6l.8,.8l.7-.6l.7-.4l.8-2.8l.7-2.6l.7-5.5l.8-1.7l.7,.6l.8,1.6l.7,2.5l.7-.2l.8-.7l.7,1.1l.7,2.3l.8,.1l.7,2.2l.8-1.1l.7-.8l.7,.5l.8-1.8l.7-.5l.7-5.6l.8,2.2l.7-1.9l.8-2.4l.7,2l.7-4.4l.8-.1l.7-1.3l.8-2.9l.7-8.3l.7-7.4l.8,2.1l.7,5l.7,5.7l.8,8l.7,3.5l.8,4.7l.7,4.5l.7-1.2l.8,3.5l.7,2.6l.7,.6l.8-1.3l.7,.8l.8-2.9l.7,1.1l.7-2.5l.8-.3l.7-2.1l.8-3.5l.7-10.7l.7-18.6l.8-13.6l.7,14.5l.7,12.7l.8,10.2l.7,1.9l.8,5.1l.7,.6l.7,5.7l.8-.1l.7,1.6l.7,2.1l.8,3.6l.7-3.2l.8,.7l.7,.5l.7,0l.8-1.9l.7,6.7l.8-5.1l.7-1.4l.7,5.3l.8-3.3l.7,3.8l.7,.2l.8,.3l.7-.3l.8,1.6l.7,0l.7-.8l.8,1.8l.7-1.9l.7-2l.8,3.9l.7-1.9l.8,1.9l.7,1.1l.7-2.5l.8,.8l.7-2.9l.7,.9l.8,1.1l.7,1.6l.8-4.1l.7,5.2l.7-1.3l.8-2.7l.7,.1l.8-.6l.7,.5l.7-2.4l.8-2.4l.7-.3l.7-7.4l.8-4.7l.7,2.8l.8,5.8l.7,3.4l.7,2.6l.8,2.4l.7,3.7l.7-2.3l.8,1.2l.7,.7l.8-2.1l.7,6.1l.7-4l.8,1.5l.7-2.1l.8,1.8l.7-4l.7,3.2l.8,1.8l.7,2.3l.7-2.7l.8-.6l.7-3.1l.8,2.4l.7,.7l.7,2.2l.8-2.2l.7,2.4l.7,1.2l.8-4.1l.7,2.1l.8,1.8l.7-5.1l.7-.3l.8,1.9l.7,4.3l.7-1.5l.8,.2l.7-2.4l.8-7l.7,5.7l.7,2l.8,1.8l.7,1l.8-1.2l.7-2.1l.7,1.2l.8-1.8l.7,.2l.7,3.4l.8-4l.7,1.6l.8-3.1l.7,3.5l.7,.7l.8-.7l.7-2.6l.7,1.4l.8-1.2l.7,.1l.8,1.8l.7-4.5l.7,5.4l.8,.2l.7-2.7l.8,4.8l.7-3l.7-1.6l.8,4.2l.7,.1l.7,.9l.8-5.3l.7-2.7l.8,7.1l.7,1l.7-.2l.8-5.8l.7,1.6l.7,.4l.8,2.8l.7-2.7l.8,2.8l.7-2.6l.7,2.8l.8,.6l.7-1.2l.7-1.7l.8,.1l.7,2l.8-3.2l.7,3.1l.7-.8l.8-1.4l.7,1.5l.8-.1l.7,.8l.7-1.9l.8,.6l.7-2.3l.7,4.8l.8-.8l.7-.8l.8,.4l.7,0l.7-1.7l.8,.3l.7-2.6l.7,2.7l.8-1.7l.7,1.2l.8,.8l.7-.4l.7-1.4l.8,1.3l.7-.3l.8,1.4l.7,1.5l.7-2.4l.8,1.7l.7-2.2l.7,0l.8-2.6l.7,1.1l.8-.6l.7,2.5l.7,2.2l.8-.6l.7,.4l.7-2.1l.8,.7l.7-.3l.8,.4l.7,.8l.7-1.4l.8-2.8l.7,1.8l.7,.8l.8,.6l.7,1.4l.8-2.1l.7-1.2l.7-.7l.8-3.2l.7-1.1l.8-8.4l.7-12.5l.7-6.8l.8,6.8l.7,8.9l.7,3.3l.8,15.7v3H46.8Z"/>
<path d="M46.4,136.1V133.1l.7-8.7l.8-6.4l.7,.5l.8-2.8l.7-1l.7-1.3l.8-2.8l.7-1.2l.7-4.7l.8-3.4l.7-.9l.8,4.2l.7,1.2l.7,2.2l.8-1.8l.7,.4l.7,.7l.8,1.5l.7,1.2l.8-.9l.7-1.1l.7-.2l.8,2l.7-3.2l.7-2.4l.8-.4l.7-1.4l.8,1.7l.7-4.1l.7-2.8l.8-1.3l.7-.2l.8-3.3l.7-7.3l.7-7.2l.8,.8l.7,5.8l.7,6.6l.8,5.2l.7,4.1l.8,3.6l.7,6.2l.7,1.4l.8,1.3l.7,2.2l.7-.6l.8,1.4l.7,.5l.8-2.9l.7-.1l.7-4l.8,4.5l.7-3.6l.8-5.3l.7-10.8l.7-17.3l.8-14.3l.7,13.2l.7,15.9l.8,7.9l.7,4.4l.8,2l.7,7l.7,4l.8,2.6l.7-2.7l.7,.9l.8-.6l.7,2l.8-4.5l.7,4.4l.7-2.6l.8-.2l.7,4.8l.8,2.1l.7-5.5l.7,2.3l.8,.3l.7,3.5l.7,.2l.8,.2l.7,2.3l.8-2.9l.7,.9l.7-.9l.8,1.5l.7-3l.7,.6l.8,3.1l.7-3.6l.8-.5l.7,.3l.7,7l.8-9.3l.7,8.7l.7-4.6l.8-.5l.7,3.6l.8-2.2l.7,.2l.7-5l.8,6.6l.7-3.5l.8,.5l.7-1.3l.7-2l.8-1.2l.7-3.6l.7-5.4l.8-4.3l.7,1.8l.8,6.5l.7,3l.7,6.1l.8,2.1l.7-.1l.7-.7l.8-2l.7,3l.8,.3l.7-1.4l.7,1.8l.8,4l.7-3.3l.8,.8l.7-1.2l.7-4.1l.8,4.8l.7,1.7l.7-1.9l.8-1.7l.7,1.9l.8-3.5l.7,4.2l.7-2.3l.8-.6l.7,.4l.7,.9l.8,.9l.7,.7l.8,3.4l.7-3.4l.7-2l.8,.6l.7,.1l.7,5.4l.8-1.2l.7-2.1l.8,2.6l.7-2.3l.7-4l.8,3.7l.7-.7l.8-1.3l.7,4.9l.7-3.4l.8-.3l.7,2.3l.7-2l.8-.6l.7,.9l.8,.7l.7-2.9l.7,2.2l.8-1.9l.7,3.6l.7-1.2l.8-2.2l.7,1.2l.8,.2l.7-.5l.7-2.4l.8,4.6l.7,2.5l.8-3.5l.7,1.7l.7-4.1l.8,3.2l.7-.1l.7-4.3l.8,4l.7-.3l.8,.3l.7,1.3l.7-5.3l.8,4.4l.7,2.6l.7-7.6l.8,7.2l.7-.7l.8-.5l.7-5.6l.7,6l.8-.1l.7-.5l.7-2.3l.8,4.2l.7-7l.8,6.7l.7-.6l.7-1.4l.8,.8l.7,.7l.8,.7l.7-6.5l.7,1.9l.8,3l.7-.4l.7-2.2l.8,2.6l.7-3.1l.8,1.3l.7-.2l.7,1.4l.8,2.3l.7-1.9l.7,.6l.8,1.1l.7-.2l.8-1.7l.7-.2l.7,1.4l.8-.6l.7-3.3l.8,.2l.7,.2l.7,1.9l.8-.1l.7,2.3l.7-2.2l.8-1.3l.7,1.3l.8,1.1l.7-.2l.7,.4l.8,.4l.7-3.2l.7,3.9l.8-.9l.7-2.1l.8,3l.7-5.6l.7,2.1l.8,2.8l.7-2.3l.7-5.7l.8,3.8l.7,1l.8,3.2l.7-4.2l.7-1.5l.8-1l.7-3.6l.8-6.4l.7-10.6l.7-8.5l.8,5.2l.7,7.2l.7,7l.8,15.4v3H46.4Z"/>
<path d="M45.9,136.6V133.6l.7-9.3l.8-3.3l.7-1.9l.8-.4l.7-3l.7-3.7l.8-.2l.7-2.3l.7-5.2l.8-2.6l.7,1l.8,2.5l.7,.2l.7,1l.8,2.4l.7-1.5l.7-.1l.8,4l.7-.8l.8,1.5l.7,1.1l.7-2.2l.8-.7l.7-2.7l.7,.5l.8-5.8l.7,.2l.8,2.1l.7-4.6l.7-.1l.8-1.9l.7-2.1l.8-2.8l.7-7.6l.7-6.7l.8,1.4l.7,5.6l.7,6.6l.8,4.5l.7,5.3l.8,4.5l.7,4.2l.7,2.9l.8,1.2l.7,.6l.7,2.4l.8-4.1l.7,3.2l.8-2.4l.7-.8l.7-1.2l.8,2.9l.7-3.7l.8-6.2l.7-10.4l.7-18.7l.8-12.6l.7,12.8l.7,16.1l.8,8.1l.7,3.7l.8,1.6l.7,4.8l.7,.2l.8,4.6l.7,1.3l.7,1.4l.8-.1l.7-.2l.8,2.1l.7-3l.7-3.7l.8,4.3l.7,1.5l.8,2.6l.7,.7l.7,.7l.8-1.9l.7,2.5l.7-4.6l.8,4.7l.7,1.3l.8,.2l.7-1.5l.7,.3l.8-2.2l.7,3.7l.7-2.2l.8-1.2l.7,2.7l.8,3.2l.7-4.1l.7-1.6l.8,1.3l.7,.9l.7,4.3l.8-7.7l.7,3.9l.8,1.9l.7-1.8l.7-1l.8,0l.7,1.4l.8-6l.7,1.4l.7-.7l.8-1.3l.7-2.3l.7-4.8l.8-4.7l.7,.3l.8,6.3l.7,3l.7,7.3l.8-3l.7,2.2l.7,2.4l.8-2l.7,3.2l.8-.4l.7-1.3l.7,.9l.8-.1l.7,.2l.8-1.6l.7,4.2l.7,2.6l.8-2.2l.7,3.3l.7-9.4l.8,5.8l.7-1.3l.8-.7l.7,2.5l.7-.6l.8-1.6l.7,.6l.7-1.7l.8,2.4l.7,1l.8,1.7l.7,.6l.7-4.2l.8-.1l.7,1.6l.7-3.5l.8,5.5l.7-4.2l.8,4l.7-1.7l.7-.2l.8,1.1l.7-.9l.8-1.2l.7-4.5l.7,5.2l.8-1.5l.7-.3l.7,3.9l.8-3l.7,1.9l.8-2.8l.7,3.3l.7-3.6l.8,4.3l.7-.8l.7-2.8l.8-.4l.7,.4l.8-2.5l.7,2.2l.7,2.3l.8-2l.7,3.9l.8-3.5l.7,.9l.7,1.2l.8,1.3l.7-3.8l.7,4l.8-1.3l.7,2.5l.8-2.1l.7,.3l.7,.8l.8-.4l.7-1.9l.7-3.6l.8,.6l.7,4.2l.8,.5l.7-2.2l.7,3.1l.8,.1l.7-3.9l.7,3l.8-4.1l.7,2.6l.8,2.3l.7-2.1l.7-.4l.8,.9l.7,1.7l.8-.4l.7-5l.7,2.1l.8,4l.7-3.8l.7-2.1l.8,2.5l.7,1.5l.8-.8l.7-1.6l.7,3.6l.8-3.8l.7,2.2l.7,.1l.8-.5l.7,.3l.8,2.1l.7-4.8l.7,4.4l.8-.5l.7-2.2l.8,1.6l.7-1.2l.7,1.4l.8,0l.7,.6l.7-2.1l.8,2.7l.7-1l.8-.3l.7,1.6l.7-2.4l.8-2.5l.7,1.9l.7,2.6l.8-.4l.7-2.9l.8,.6l.7,1.2l.7-1.6l.8,0l.7,.1l.7-2l.8,5l.7-1.2l.8-.7l.7-1.1l.7-3.4l.8-.6l.7-3.4l.8-7l.7-11.2l.7-7.6l.8,5.8l.7,7.2l.7,6.6l.8,15.1v3H45.9Z"/>
<path d="M45.4,137.3V134.3l.7-7.6l.8-6.9l.7,.7l.8-5.1l.7,1.8l.7-2.3l.8-1.2l.7-3.5l.7-3.7l.8-4.9l.7,1.8l.8,2.7l.7,.8l.7,1.4l.8-2.2l.7-1.8l.7,2.7l.8,1.8l.7,2.5l.8-.5l.7-1.6l.7,2.5l.8-1.1l.7-2.9l.7-.9l.8-1.1l.7-2.9l.8,0l.7,.4l.7-4.3l.8,.8l.7-3.1l.8-1.9l.7-7.9l.7-6.8l.8,.9l.7,6.3l.7,6.8l.8,4l.7,5.1l.8,5.5l.7,2.5l.7,.6l.8,1.8l.7,1.5l.7-.2l.8,3.1l.7-1.3l.8-2.6l.7,.7l.7-2l.8,2.8l.7-4.3l.8-5.7l.7-9.5l.7-19.3l.8-12.3l.7,13.6l.7,15.6l.8,7.8l.7,3.1l.8,7l.7,1.9l.7,2.3l.8,2.4l.7-.7l.7,1.7l.8,.4l.7-.1l.8-2.1l.7,3.6l.7-3.9l.8,1.3l.7,.1l.8,1.1l.7,2.7l.7-.2l.8,.7l.7-5.3l.7,7.2l.8-7.2l.7,10.4l.8-6.1l.7,3.1l.7-.8l.8,2l.7-1.7l.7,1.9l.8-3.5l.7,5.4l.8-1.3l.7,2l.7-1.6l.8-5.3l.7,.8l.7,4.3l.8-.8l.7,.7l.8,1.2l.7-4.5l.7,3.8l.8-1l.7-1.7l.8-.5l.7,2.3l.7-4.3l.8-2.3l.7-2.7l.7-5.8l.8-3.9l.7,.9l.8,6.5l.7,4l.7,4.8l.8,.4l.7,1.2l.7-2.2l.8,.1l.7,.9l.8,1.8l.7-1.5l.7,3.7l.8,2.4l.7-1.4l.8-1.9l.7,2.4l.7-3.1l.8,.3l.7,2.4l.7,.1l.8,.5l.7-3.4l.8,3.8l.7-4.3l.7,.2l.8,3.6l.7-1.5l.7,2l.8-4.8l.7,6.1l.8-2.9l.7,.1l.7,1.7l.8-2.2l.7-.5l.7,1.3l.8-1l.7,3.5l.8-.6l.7,.3l.7-6.9l.8,1.1l.7,1.7l.8,3.2l.7-4.1l.7,4l.8,.3l.7-1.5l.7,0l.8,.7l.7,1.7l.8-2.6l.7,1.2l.7,1.9l.8-4.1l.7,1.3l.7-2.1l.8,2.4l.7-2.4l.8,4.3l.7-4l.7,3.5l.8,2l.7-1.6l.8-2.9l.7,1.7l.7,3l.8-3.2l.7-2.2l.7,4.8l.8,.8l.7-8.2l.8,6.2l.7-.1l.7,1.3l.8-1.6l.7,2.3l.7-4.2l.8-.1l.7,4.5l.8-5.2l.7,3.6l.7-3.1l.8,.4l.7,.5l.7,2.9l.8-2.2l.7,1l.8,1.1l.7-.2l.7,.4l.8-.5l.7,.6l.8-1.1l.7-4.6l.7,6.5l.8-.7l.7-1.2l.7,1.3l.8-.9l.7-4.2l.8,5.8l.7-2.8l.7,0l.8,2l.7,.3l.7-2.3l.8,.1l.7-3.4l.8,3.2l.7,.5l.7-.1l.8,.8l.7-.6l.8-.3l.7,.8l.7-2.5l.8,3.7l.7-3.8l.7,3.9l.8-3.4l.7-1.1l.8-2.4l.7,5.3l.7-.6l.8,1.5l.7-3.6l.7,0l.8,1.6l.7,.2l.8,2.8l.7-2.9l.7-.8l.8,3.1l.7,0l.7,.2l.8-3.1l.7-2.3l.8,.1l.7,3.6l.7-3.1l.8-2.5l.7-2.2l.8-7.3l.7-13.1l.7-5.6l.8,5.1l.7,8.6l.7,5.2l.8,15.3v3H45.4Z"/>
<path d="M44.9,137.5V134.5l.7-8.3l.8-6.4l.7-1.2l.8,2.4l.7-3.9l.7-1.4l.8-2l.7-4.3l.7-3.9l.8-3l.7,.4l.8,2.5l.7,2.2l.7,0l.8,.9l.7-.8l.7,.9l.8,2.2l.7,2.5l.8-1.3l.7,.4l.7-.1l.8-2.7l.7-2.2l.7-.8l.8-1.1l.7-2.2l.8,.6l.7,.1l.7-2.8l.8-1.8l.7-.3l.8-4.7l.7-6.2l.7-8.2l.8,1.7l.7,5.5l.7,5.1l.8,6.7l.7,4l.8,7.4l.7,.4l.7,1.6l.8,2.8l.7,1l.7,2.3l.8-1.2l.7-.7l.8-.2l.7-2.3l.7,.2l.8,.5l.7-3.2l.8-4.4l.7-11.8l.7-17.5l.8-13.8l.7,14l.7,15.9l.8,8.7l.7,2.6l.8,5l.7,4.1l.7-.3l.8,6.6l.7-4.4l.7,4.1l.8-3.7l.7,2.8l.8-2.9l.7,6.1l.7-2.2l.8-1.2l.7,2.3l.8-.6l.7,1.2l.7-1.1l.8-1.3l.7,8.3l.7-5.8l.8,4.3l.7-5.9l.8,7l.7-1.2l.7-2.7l.8,1.5l.7-1.6l.7,.7l.8,2.6l.7,2l.8-5.9l.7,2.9l.7-.1l.8,.5l.7,0l.7,1l.8-1.7l.7-.4l.8,2.9l.7,.6l.7-4.2l.8-.8l.7,2.3l.8-1.2l.7-.2l.7-2.5l.8-1.3l.7-3l.7-5.2l.8-5.4l.7,1.8l.8,6.2l.7,3.8l.7,7.2l.8-1.6l.7,.1l.7,4.5l.8-1.9l.7-1l.8-1.8l.7,2l.7,3.4l.8-4.2l.7,2.6l.8-2.2l.7,4.9l.7,.7l.8,0l.7-4.6l.7-1.4l.8,2.3l.7,.1l.8,.8l.7-.7l.7,2.8l.8-5l.7,1.2l.7-.5l.8,2.5l.7-2.1l.8-.1l.7-3.5l.7,3.3l.8,4l.7,.2l.7-3.7l.8,1l.7-.2l.8,1.2l.7,1.9l.7-2l.8,3.5l.7-3.7l.8-4.5l.7,3.6l.7,3.4l.8,.1l.7-7.3l.7,4.1l.8,2.5l.7-2.3l.8,2l.7,1.7l.7-2.7l.8-.6l.7-1.9l.7,5.7l.8-6l.7,3.9l.8,1.9l.7-4.5l.7-.1l.8,1.2l.7-.8l.8,3.9l.7-3.1l.7,4l.8-1.3l.7-6.8l.7,1.7l.8,3l.7-.3l.8,1l.7-1.2l.7,1l.8,2.5l.7-1.2l.7,.5l.8,.7l.7-1.5l.8-1.1l.7-4.2l.7,6.6l.8-6.3l.7,5.8l.7,0l.8-.7l.7-5.1l.8,7.3l.7-1.5l.7-1.9l.8-1l.7,1.4l.8,.5l.7-1.7l.7,4.2l.8-5.4l.7,4.4l.7-1.8l.8,2.7l.7-.5l.8-3.6l.7,1.1l.7,1.6l.8-2l.7-5.5l.7,5.4l.8,.8l.7,.7l.8,0l.7-1.8l.7,3.8l.8-1.6l.7,1.6l.8-6.1l.7,.9l.7,3.4l.8-1.4l.7,2.2l.7-4.1l.8,2.7l.7,2.3l.8-.7l.7-1.1l.7-3.5l.8,3.3l.7,1.4l.7-.3l.8-2.7l.7,2.4l.8-4.4l.7,1.6l.7,1.7l.8-.1l.7,.9l.7-1l.8-2.6l.7-1.3l.8,3.5l.7-1.4l.7,.2l.8-2.7l.7-3.7l.8-6.6l.7-12l.7-7.6l.8,5.3l.7,7.8l.7,7.5l.8,14.6v3H44.9Z"/>
<path d="M44.5,138.3V135.3l.7-10.5l.8-2l.7-3.8l.8-.3l.7,.5l.7-3.1l.8-3.2l.7-1.3l.7-4.1l.8-3.2l.7,.3l.8,2.8l.7,1.2l.7,.7l.8,.1l.7-1.6l.7,3.5l.8-.6l.7,1.4l.8,2.4l.7-2.2l.7-1.7l.8,1.3l.7-1.7l.7-.9l.8-3.6l.7-.3l.8,.8l.7-2.6l.7-1.6l.8-1l.7-2.1l.8-2.1l.7-7.4l.7-7.4l.8-.2l.7,6.1l.7,5.5l.8,8.2l.7,4.2l.8,3.7l.7,5.2l.7-1.6l.8,2.9l.7,.3l.7,1.8l.8,.8l.7-.8l.8-2.6l.7-1.3l.7,1l.8,1l.7-4.5l.8-5.2l.7-10.6l.7-17.4l.8-13.7l.7,16l.7,13.9l.8,7.9l.7,3.1l.8,6.4l.7,1.9l.7-1.2l.8,5.6l.7,2.4l.7,.6l.8,2.4l.7-.6l.8-2.4l.7-.6l.7-.6l.8-2.6l.7,2.7l.8-1.8l.7,4.9l.7-1.2l.8,3.9l.7-5.2l.7,1.1l.8,6.2l.7-1.8l.8-.3l.7,1.5l.7-4l.8,3.9l.7,.5l.7-.1l.8,3.7l.7-2.5l.8-3l.7-.5l.7,2.5l.8,2.2l.7,.5l.7-3.9l.8,1.7l.7-1.2l.8,.3l.7-2.2l.7,2.2l.8-1.7l.7-.9l.8,1.8l.7-1.9l.7-1.5l.8-.9l.7-3.9l.7-4.8l.8-5l.7,2.1l.8,5.3l.7,4.5l.7-.2l.8,3.2l.7,2.1l.7,0l.8,4.6l.7-3.4l.8,0l.7,4.5l.7-1.5l.8-3.5l.7,3.9l.8-1.6l.7,0l.7,4.6l.8-1.9l.7-1.8l.7-3.4l.8,3.5l.7,.2l.8-.9l.7-1.5l.7,2.3l.8-.8l.7,1.8l.7,.3l.8,3.2l.7,.5l.8-6.2l.7,1.4l.7-1.7l.8,.6l.7,.8l.7,4.4l.8-2.8l.7-2.5l.8,4.4l.7-1.8l.7-5l.8,2.1l.7,1.1l.8,4.6l.7-5.8l.7,1.1l.8-1.8l.7-.6l.7,3.5l.8-.5l.7,3.5l.8-2.3l.7,3.2l.7-4.5l.8,3.4l.7-1.3l.7-1.9l.8,2.2l.7-.2l.8-.6l.7-.5l.7,1.8l.8,1.8l.7-1.7l.8-2.2l.7,.4l.7,3.5l.8-2.9l.7-.7l.7-1.2l.8-1l.7,4.1l.8-2.5l.7-1.2l.7,2.7l.8-.6l.7-3.3l.7,3.7l.8-1.2l.7,1.9l.8,.1l.7,1.2l.7-4.5l.8-1.7l.7,4.2l.7,1l.8-.6l.7-3.3l.8,4.5l.7-1.6l.7-3.8l.8,3.7l.7-1.3l.8,3.1l.7-.6l.7,.9l.8-2.9l.7,2l.7,1.1l.8-1.5l.7-4.1l.8,6.4l.7-2.4l.7,1.7l.8-.6l.7-5.7l.7,5.6l.8-2.4l.7,2.6l.8-2.9l.7,3.8l.7-2l.8-1.3l.7,3.6l.8-1.5l.7,.8l.7-4.5l.8,4.8l.7-.2l.7-8.6l.8,5l.7,3.1l.8,.3l.7,.7l.7-2.4l.8-.1l.7,2.6l.7-4.3l.8,.8l.7,3l.8-.7l.7,.7l.7-5.7l.8,5.8l.7-5.6l.7,3.2l.8,1.3l.7-6.7l.8,2.7l.7,1l.7-1.8l.8-1.1l.7-3.4l.8-6.5l.7-11.5l.7-7l.8,3.3l.7,9.3l.7,6.1l.8,15.5v3H44.5Z"/>
<path d="M44,139V136l.7-7.5l.8-7.4l.7-.6l.8-.2l.7-.7l.7-.9l.8-3.1l.7-3.1l.7-4.5l.8-3.6l.7,.9l.8,2.9l.7,.9l.7-.2l.8,.3l.7,.7l.7,1.4l.8,1.6l.7,1.9l.8-2.4l.7,1.7l.7-3.8l.8,.3l.7,1.1l.7-6.8l.8,1.5l.7-.3l.8,1.8l.7-3.3l.7-2.6l.8,0l.7-1.3l.8-4.3l.7-6.4l.7-7.4l.8,1.1l.7,4.7l.7,5.4l.8,6.8l.7,6.7l.8,3l.7,3.6l.7,1.6l.8,.6l.7,.7l.7,.4l.8,2.4l.7-1.4l.8-1l.7-2.6l.7-2.6l.8,1.5l.7-1.5l.8-4.2l.7-10.5l.7-17.2l.8-14l.7,13.7l.7,15.9l.8,7.3l.7,.8l.8,6.4l.7,5.4l.7,1.6l.8,0l.7,1.5l.7,1.9l.8-.3l.7,2.7l.8-4.6l.7,6.9l.7-3.5l.8,1.2l.7-.1l.8-.7l.7,.9l.7-1.2l.8-1.7l.7,3.6l.7,3.4l.8-1.7l.7,1.9l.8,.3l.7-.7l.7-2.7l.8,3.9l.7-2.3l.7,2.4l.8-3.3l.7-.7l.8,5.7l.7-4.6l.7,3.6l.8-2.6l.7,1l.7-2l.8,4.5l.7-6.5l.8,3.2l.7,1.8l.7-3.7l.8-.4l.7,1.4l.8,1.3l.7-.4l.7-1.1l.8-5l.7-1.7l.7-5.1l.8-4.4l.7,.8l.8,6.6l.7,3.5l.7,5.9l.8,.5l.7-.5l.7,2.8l.8-4.5l.7,7.5l.8-4.2l.7,0l.7,.3l.8,1.2l.7,.3l.8-7.6l.7,7l.7,2l.8,3.8l.7-8.8l.7,4l.8-3.7l.7,3.9l.8-2.3l.7-.6l.7,4.3l.8,3.5l.7-7.1l.7-1.7l.8,7.5l.7-2.1l.8-.8l.7,.4l.7-1.8l.8,1.5l.7-1.4l.7,3.1l.8,1.6l.7-7.3l.8,3.5l.7-.3l.7,3.4l.8-3.5l.7,1.2l.8-1.2l.7,.9l.7-2l.8-.6l.7,3.7l.7,.1l.8-2.4l.7,4.8l.8-1.5l.7-.8l.7,2.1l.8-6.8l.7,4.7l.7-.1l.8,2.1l.7-3.7l.8,2.2l.7,1.6l.7-3.3l.8-2.4l.7,6.5l.8-3.1l.7-4.8l.7,5.2l.8,1.2l.7-4.9l.7,2.9l.8-1.4l.7-1.7l.8,2.3l.7,.7l.7-3.3l.8,6.6l.7,0l.7-1.9l.8,.8l.7-.9l.8,1.1l.7,.4l.7-3.2l.8,1.9l.7-1.3l.7,1.8l.8-.7l.7,1.5l.8-5.3l.7,1.5l.7,4.2l.8-.8l.7-1.7l.8,1.7l.7-.8l.7-.5l.8,.8l.7-1.9l.7,.6l.8,3l.7-1.5l.8-.2l.7,.4l.7-.6l.8,.6l.7-.6l.7-.7l.8,0l.7-.1l.8,2.2l.7-1.5l.7-1.8l.8,1.9l.7-.3l.8,.3l.7-1l.7,2.1l.8-.8l.7-2l.7,3.6l.8-3l.7,2.2l.8-.1l.7,.5l.7,.5l.8-4.6l.7,3.5l.7-1.2l.8,1.5l.7-5.7l.8,2.8l.7,3.2l.7,.4l.8-1.7l.7-1.4l.7-3.1l.8,.3l.7,4.9l.8-3.1l.7-.8l.7,.1l.8-1.9l.7-4.5l.8-5l.7-13l.7-6.7l.8,5.2l.7,7.6l.7,7.7l.8,13.5v3H44Z"/>
<path d="M43.5,139.1V136.1l.7-9.1l.8-5.3l.7-2.5l.8,3.1l.7-3.3l.7-.8l.8-1.9l.7-4.2l.7-3.8l.8-3.9l.7,.1l.8,3.3l.7,2.6l.7,.5l.8-1.1l.7-2.6l.7,2.6l.8,2.1l.7,4.8l.8,.1l.7-4.6l.7-2l.8,2.7l.7-1.3l.7-2.4l.8-3.9l.7-1.5l.8,3.4l.7-2.6l.7-1.6l.8,.9l.7-3.7l.8-3.5l.7-7.1l.7-5.9l.8,1l.7,5l.7,4.5l.8,5.4l.7,6.4l.8,4.6l.7,2.8l.7,.8l.8,1.5l.7,2.6l.7,.7l.8-1.3l.7,2l.8-1l.7-1.7l.7-.2l.8-3.1l.7,1l.8-7.5l.7-9.2l.7-18.7l.8-12.8l.7,13.3l.7,15.8l.8,8.6l.7,5.5l.8,.3l.7,4.3l.7,2.2l.8,1.7l.7,.1l.7,2.8l.8-3.3l.7,2.8l.8-3.9l.7,5.2l.7,.7l.8,1.4l.7-3.4l.8-.4l.7-.9l.7,2.6l.8,0l.7,7.2l.7-3.6l.8-.9l.7,.6l.8,2.4l.7-.7l.7-.5l.8-1.8l.7,1.8l.7,3.1l.8-4.6l.7-.4l.8,2.5l.7,0l.7,.5l.8-2.4l.7,3.8l.7-1.7l.8-2.3l.7-.6l.8,1.1l.7,.3l.7,.8l.8,2.1l.7-1.2l.8-.1l.7-1.4l.7-1.1l.8-5.1l.7-.2l.7-6.7l.8-3.4l.7,2.3l.8,4.5l.7,4.2l.7,6l.8,.5l.7-.3l.7,.3l.8-.4l.7,2l.8,.9l.7-.1l.7,.1l.8-.5l.7,2l.8,2.7l.7-5.4l.7,1.5l.8,1.2l.7,.1l.7,.9l.8-3.4l.7,1.8l.8,1.8l.7-.1l.7,1.5l.8-3l.7,3.3l.7-5.2l.8,3.2l.7,0l.8-2l.7-2.2l.7,4.4l.8-.8l.7,4.1l.7-6.5l.8,3.7l.7-2.5l.8,1.6l.7,0l.7,2.5l.8-6.8l.7,2.7l.8,.9l.7,1.3l.7-2.2l.8-1.2l.7,1.9l.7,1.1l.8-.1l.7,.3l.8,2.2l.7-1.5l.7,.1l.8,.6l.7-.6l.7-2.8l.8,3l.7-3.3l.8,1.8l.7,.2l.7,2.5l.8,.2l.7-.2l.8-.8l.7-2l.7,.7l.8,2.5l.7-.5l.7-1.6l.8,2.6l.7-2l.8-2.4l.7,4.6l.7-1.1l.8-.4l.7-1.8l.7,2.3l.8-5.9l.7,1.3l.8,4.5l.7-2.1l.7,.6l.8,1.4l.7-.8l.7,0l.8,1.2l.7-.2l.8-1l.7,1.7l.7-2.3l.8,1.8l.7,.3l.8-2.2l.7,1.4l.7-5.8l.8,2.4l.7,3.8l.7-3.1l.8,1.7l.7,.7l.8,.9l.7-.7l.7,.5l.8-2.1l.7,.6l.7-1.8l.8,3.2l.7-.7l.8-.6l.7,.6l.7-5.4l.8,3.4l.7,.4l.8-2.6l.7,1.9l.7,2.2l.8,.7l.7,1l.7-4.7l.8,2.6l.7-1.1l.8,2.2l.7-2.9l.7,3.7l.8-1.6l.7,1.1l.7-6l.8,3.3l.7,1l.8-.3l.7-1.9l.7,4l.8,.3l.7-4.5l.7,3.1l.8-2l.7-.1l.8,1l.7-1.2l.7-1.4l.8-.5l.7-4.6l.8-8.7l.7-10.7l.7-6l.8,4.4l.7,7.7l.7,7.5l.8,14.3v3H43.5Z"/>
<path d="M43.1,139.6V136.6l.7-8.4l.8-6.7l.7,1.2l.8-2.3l.7-1.1l.7-.5l.8-3.5l.7-1.6l.7-5.5l.8-2.1l.7-.8l.8,2.9l.7,2.1l.7,1.9l.8-2.7l.7,2.1l.7-2.7l.8,3.9l.7,1.2l.8,.6l.7-1l.7-.1l.8-.8l.7-2.1l.7-.9l.8-5.3l.7,3.6l.8,.8l.7-3.9l.7-1.4l.8,.7l.7-1.4l.8-4.3l.7-8.4l.7-6.6l.8,2.3l.7,5.6l.7,4l.8,7.3l.7,5.1l.8,3.9l.7,2l.7,1.4l.8,3.3l.7,.8l.7-.2l.8-1.6l.7,1.1l.8-.2l.7-3.1l.7,.8l.8,1.5l.7-4.6l.8-5.8l.7-8.1l.7-19.5l.8-12.1l.7,13.1l.7,16l.8,8.4l.7,3.7l.8,1.9l.7,4.8l.7,2.4l.8,2.1l.7,.4l.7,2.5l.8-2.2l.7,1l.8,1.7l.7,1.1l.7-2l.8-2.5l.7,1.3l.8,2l.7-3.6l.7,1.7l.8,2.7l.7-1.5l.7,3.9l.8,.5l.7-1l.8,4.7l.7-3.8l.7,1.2l.8-3.8l.7,1.8l.7-2l.8,4.4l.7-4.1l.8,3l.7-.7l.7,.3l.8,3.7l.7-4.7l.7,3l.8-2.4l.7,1.5l.8,1.7l.7-1.3l.7-1.2l.8,.9l.7-3.8l.8,.5l.7,1.1l.7-.5l.8-4.1l.7-1.8l.7-5.9l.8-3l.7,2l.8,3.9l.7,4.3l.7,3.9l.8,1.7l.7,.1l.7,.6l.8,1.5l.7,.2l.8-.1l.7-1.4l.7,.9l.8,7l.7-6.1l.8,1.6l.7-2.9l.7,.9l.8,2.8l.7-.9l.7,5.1l.8-4.8l.7,2.2l.8-2.5l.7,1.9l.7-4.2l.8-.1l.7,3.6l.7,1.2l.8-4.6l.7,5.7l.8-2.1l.7,.1l.7-1.3l.8,.5l.7,2l.7-3.7l.8,1.1l.7,.1l.8-2.6l.7-.7l.7,3.6l.8,1.5l.7-.3l.8-.3l.7,2.1l.7-.7l.8-.4l.7-2.2l.7-.4l.8,4l.7,1l.8-2l.7,1l.7-2.2l.8,3.7l.7-3.1l.7-1l.8-.3l.7,1.8l.8-1.8l.7-.7l.7,2.4l.8,1.5l.7-1l.8-1.8l.7,.1l.7,3.6l.8,.2l.7-.1l.7-6.9l.8,3.1l.7,.6l.8,2.9l.7-1.1l.7-5.7l.8,3.1l.7,1.9l.7-4l.8,2.7l.7,.9l.8-.6l.7-1.3l.7,3l.8-1.6l.7,3.1l.7-1.5l.8-.5l.7,.6l.8,.6l.7-1.9l.7,1.3l.8-1.4l.7-1l.8,3.5l.7-1.4l.7,1.5l.8-3.6l.7,.2l.7-.6l.8-.1l.7,2.1l.8,2.1l.7-.2l.7-4.2l.8,2.4l.7-1.4l.7,3l.8-.7l.7-4.6l.8,1.9l.7,2.5l.7,1.2l.8-1.8l.7-2l.8,.2l.7,.2l.7-.8l.8,1.1l.7-.3l.7,3.7l.8-.7l.7-.1l.8-3.8l.7-.3l.7,4.6l.8-1.1l.7-.8l.7-1.1l.8,.5l.7-2.6l.8,2.7l.7,.9l.7,0l.8-3l.7,2.8l.7-1.8l.8,1.7l.7,1.4l.8-.1l.7-3.3l.7-.7l.8-3l.7-2.5l.8-6.3l.7-13.3l.7-5.9l.8,3.2l.7,9.8l.7,6l.8,15.1v3H43.1Z"/>
<path d="M42.6,140.6V137.6l.7-9.6l.8-5.7l.7,.1l.8-.7l.7,1.3l.7-3.4l.8-1.3l.7-3.3l.7-5l.8-2.7l.7-.7l.8,3.5l.7,.7l.7,.6l.8-2.2l.7,1.9l.7-.9l.8,4l.7,1l.8,.1l.7,1.4l.7,.3l.8-1.2l.7-2.4l.7-1.5l.8-5l.7-1.2l.8,3l.7-3l.7,.2l.8-1.7l.7-1.7l.8-2.1l.7-8.2l.7-7.4l.8,1.4l.7,6l.7,5.2l.8,4.1l.7,7.1l.8,3.6l.7,3.6l.7,.6l.8,3.2l.7-.9l.7,.6l.8,.8l.7-1.3l.8-1l.7,.2l.7-1.8l.8-1.8l.7,1.2l.8-6.9l.7-9.6l.7-17.9l.8-13.2l.7,13.3l.7,16.5l.8,8.3l.7,3.2l.8,3.6l.7,1.2l.7,6.7l.8-.5l.7,6.7l.7-2.3l.8-3.8l.7,2.3l.8-.1l.7,2.6l.7-2.1l.8,0l.7-1.7l.8,1.9l.7,.8l.7,.6l.8,.2l.7-.8l.7,1.9l.8,4.1l.7-3l.8-3.1l.7-.7l.7,2.7l.8,3.6l.7-4.2l.7,.7l.8,.6l.7,1.2l.8,1.7l.7-.2l.7-3.8l.8,4.1l.7,.2l.7,2.4l.8-1.7l.7-2.3l.8,.6l.7,.1l.7-1.2l.8-.6l.7,.1l.8,2.2l.7-4.3l.7-2.4l.8,.1l.7-3.4l.7-4.1l.8-6.1l.7,4.1l.8,5.7l.7,3.1l.7,4.9l.8-.1l.7,3.3l.7,2.3l.8-2.9l.7-.2l.8,2.4l.7-.3l.7-.1l.8,.6l.7-4.4l.8,1.2l.7,4.5l.7-4.8l.8,1.5l.7,6.1l.7-8.4l.8,3.8l.7-2.1l.8,1.2l.7,.4l.7,1.7l.8-3.2l.7,2.5l.7-.3l.8-4.2l.7,5.3l.8-2.3l.7-1l.7,2.3l.8,.9l.7-1.1l.7-1.4l.8,5.1l.7-2.5l.8-1.5l.7,2.6l.7-2.9l.8,.9l.7,.8l.8-1.3l.7,1.7l.7-4.7l.8,5.7l.7-2.1l.7,3.9l.8-5.7l.7-1.2l.8,3.6l.7-3.6l.7,1.4l.8,.4l.7,3.4l.7-3.4l.8-1l.7,.5l.8,3.7l.7-2l.7,2.2l.8-4l.7-1.9l.8,2.4l.7,4.7l.7-3.5l.8,.7l.7,1.8l.7,1.2l.8-2.2l.7,2.6l.8-.7l.7-.7l.7-2.7l.8,3.5l.7-3.8l.7,3.3l.8-2.4l.7-.2l.8,2.5l.7,.8l.7-4.3l.8,2.1l.7-.1l.7-1.9l.8,.1l.7,1.6l.8,2.7l.7-4.8l.7,4.4l.8-4.8l.7,5.3l.8-.4l.7-2.6l.7,1.1l.8-1.1l.7-.1l.7-1.5l.8,2.2l.7-1l.8,1.1l.7-1.2l.7,3.2l.8,.2l.7-2.4l.7,.4l.8,1.6l.7-1.7l.8,.3l.7,.2l.7-.2l.8-2.7l.7,4.4l.8-1.1l.7-.5l.7,1.2l.8-.8l.7-1.4l.7-2l.8,1.3l.7-.4l.8,2l.7-2.6l.7,2.6l.8,2.1l.7-3.9l.7,.1l.8,2.2l.7,0l.8,.8l.7-1.5l.7,1.7l.8-5l.7,2.3l.7,1.2l.8,.8l.7-4l.8-2.6l.7,4.3l.7-1.8l.8-1.3l.7-3.8l.8-5.6l.7-13.9l.7-6.2l.8,5.7l.7,7.5l.7,5.9l.8,15.2v3H42.6Z"/>
<path d="M42.1,140.6V137.6l.7-9.2l.8-4.9l.7-2.5l.8-.4l.7,.8l.7-1.1l.8-4.3l.7-2.5l.7-3.3l.8-3.8l.7,1.9l.8,.8l.7,2.8l.7-.4l.8,.7l.7-.1l.7,.1l.8,2l.7,3.4l.8-2.4l.7-.3l.7,3.1l.8-1.9l.7-1.1l.7-2.7l.8-3.2l.7-4.2l.8,4.5l.7-1.2l.7-2.9l.8-2.5l.7,.8l.8-4.8l.7-6.9l.7-6.1l.8,.6l.7,5.2l.7,5.3l.8,4.6l.7,6.6l.8,2.5l.7,5.8l.7,.4l.8,5.1l.7-.3l.7-.4l.8,0l.7-.7l.8-2.2l.7,.9l.7,.2l.8-3.8l.7-1.2l.8-5.5l.7-10.1l.7-18l.8-12.5l.7,13.1l.7,17l.8,8.8l.7,3l.8-.5l.7,7.6l.7-1l.8,4.5l.7-2.1l.7,4.9l.8,1.8l.7-1l.8-.9l.7-1.7l.7,2.5l.8-1.7l.7-4.2l.8,5.8l.7-.7l.7-3.5l.8,7.7l.7-1.2l.7,1.1l.8-1.1l.7,2.6l.8-.9l.7-2l.7,1.7l.8,4.4l.7-6.5l.7,1.7l.8-3.2l.7,6.1l.8-2.6l.7,2.9l.7-3.7l.8,3.1l.7-4l.7,2.5l.8,4.8l.7-2.2l.8-3.7l.7-.2l.7-.5l.8,.8l.7,1.3l.8-1.4l.7-.6l.7-1l.8-3.1l.7-1.4l.7-5.9l.8-5.5l.7,2.4l.8,5.2l.7,5.5l.7,2.3l.8-.1l.7,.4l.7,3.1l.8,1.8l.7-3.5l.8,6.7l.7-3.1l.7-1.6l.8-3.4l.7,2.9l.8,2.6l.7,.1l.7,0l.8,2.1l.7-1.1l.7-1.4l.8,4.3l.7-1.7l.8,2.1l.7-5.8l.7,1.8l.8,4l.7-.5l.7-1.5l.8-5l.7,2.5l.8,3.4l.7-1.1l.7,2.3l.8-1.2l.7,1.5l.7-7.5l.8,2.4l.7-1.2l.8,1.9l.7,2.7l.7-3.8l.8,1.1l.7,2.6l.8,2.2l.7-3.6l.7,2.7l.8-2.1l.7,2.8l.7,.6l.8-5.9l.7,.9l.8,1l.7,.8l.7-.9l.8,2.5l.7-3.7l.7-1.6l.8,4.7l.7,2l.8-3.2l.7,3.2l.7-7.5l.8,4.6l.7-1.1l.8,.5l.7,1.6l.7,.5l.8,.9l.7-6.6l.7,4.1l.8-2.1l.7-1l.8,3.9l.7,.6l.7-.3l.8-1.5l.7,2.9l.7-4.2l.8,2.7l.7,1.2l.8-3.2l.7-1.6l.7,5.1l.8-1.4l.7-.1l.7-1.4l.8-.5l.7,2l.8,1.7l.7-.6l.7-3.2l.8-2.1l.7,3.7l.8,2.2l.7-7.2l.7,3l.8,4l.7-.2l.7,.7l.8-8.4l.7,3.9l.8,4.3l.7,0l.7-.7l.8,.1l.7-2.2l.7,2.5l.8-.6l.7-1.8l.8,1.8l.7-2.7l.7,3.3l.8-3.7l.7,4l.8-.2l.7-1l.7-1l.8-.8l.7,1.4l.7-3.1l.8,1.8l.7,.6l.8,.9l.7,.2l.7-1.2l.8,2l.7-4.4l.7,2.4l.8-2.5l.7,4.5l.8-5.3l.7,.8l.7,2.6l.8,1l.7-4.4l.7,5.6l.8-2l.7-3.2l.8,2.1l.7-.2l.7-.8l.8-2.3l.7-4.7l.8-7.9l.7-9.2l.7-6.5l.8,3.6l.7,8.5l.7,6.6l.8,14.6v3H42.1Z"/>
<path d="M41.6,141.7V138.7l.7-6.8l.8-8.5l.7,2.6l.8-2l.7-3.1l.7-.2l.8-2.4l.7-3.5l.7-3.9l.8-2.1l.7-.6l.8,2.8l.7,3.3l.7-1.4l.8-.4l.7-1.2l.7,1.4l.8,4.9l.7-1.1l.8-.7l.7,2.5l.7-2.6l.8-2.6l.7,0l.7,1.9l.8-4.6l.7-1.4l.8,.7l.7-.9l.7-3l.8,.3l.7-3.1l.8-2.1l.7-6.9l.7-6.9l.8,1.1l.7,4l.7,6.1l.8,4.9l.7,5.8l.8,4.6l.7,3.2l.7,1l.8,3.2l.7-1.3l.7,3.9l.8,.1l.7-2.6l.8-.5l.7-2.3l.7,1.5l.8-1l.7-4.2l.8-4.2l.7-9.9l.7-18.9l.8-12.1l.7,13.6l.7,15.9l.8,7.9l.7,4.7l.8,5l.7-1.3l.7,4.5l.8,3.2l.7-1.1l.7,3.7l.8,.4l.7-3.6l.8,.7l.7-.7l.7,2.3l.8,4.1l.7-.2l.8-7.2l.7,1l.7,5.6l.8-3.2l.7,3.4l.7-2l.8,5l.7-3.8l.8,2.1l.7-.3l.7,.2l.8,2.1l.7-4.1l.7,1l.8-2.1l.7,4.7l.8-2.9l.7,2.6l.7-1.4l.8,.1l.7-.7l.7-3.2l.8,1.2l.7,2.5l.8,.5l.7,.1l.7-3.2l.8,3.8l.7-2.1l.8,1.4l.7-3.4l.7-1.3l.8-.1l.7-2.6l.7-5.6l.8-4.1l.7-.7l.8,6.7l.7,4.3l.7,2.1l.8,3.8l.7-1.2l.7,2.2l.8,1.6l.7-.2l.8-2l.7,3.5l.7-3.7l.8,.3l.7,5.9l.8-1.3l.7,.3l.7-.9l.8,.7l.7-1.1l.7,1l.8-4.6l.7,5.1l.8-1.4l.7,2.4l.7-.4l.8-.6l.7-.8l.7,.3l.8,1.5l.7-2.1l.8-.7l.7,1.3l.7-4.1l.8,7.6l.7-5.7l.7,2.2l.8,0l.7-1.5l.8,.3l.7,4.3l.7-3.8l.8-2.9l.7,3.5l.8-3.8l.7-.4l.7,2.6l.8,5.7l.7-6.2l.7,3.4l.8-.9l.7-.6l.8,4l.7-4.7l.7,1.1l.8-1.2l.7-.3l.7,4.6l.8-1.9l.7-3l.8,3.5l.7,2l.7-2.3l.8-5.6l.7,6.1l.8,.8l.7-1.6l.7-1.5l.8,.3l.7,.1l.7-1.5l.8,3.1l.7-.1l.8,.9l.7-.9l.7-3.8l.8,6.2l.7-4.1l.7,3.5l.8-1.3l.7-.9l.8-2.2l.7,2.8l.7-4.8l.8,4l.7,.6l.7,1.7l.8-1.9l.7-.7l.8,2.2l.7-.5l.7,.6l.8-.5l.7,1l.8-4.8l.7-1.4l.7,4.5l.8-2.4l.7,1.9l.7,.7l.8,2l.7-1.9l.8,1.1l.7-5l.7,3.8l.8,.8l.7-1.2l.7,1.9l.8-.9l.7-1.4l.8,1.4l.7-3.8l.7,4.1l.8,.1l.7,.7l.8,.1l.7-.2l.7,.2l.8-2.8l.7,1.5l.7-.4l.8,.3l.7,.5l.8,1.1l.7-4.9l.7,3.1l.8,1.3l.7-.5l.7-.7l.8-4.3l.7,2.8l.8,1.7l.7-4.2l.7,4.9l.8-3.7l.7,1.4l.7,1l.8-2.2l.7-.9l.8,1.3l.7-.5l.7-.7l.8-2.3l.7-4.5l.8-4.8l.7-13.7l.7-5.9l.8,5.3l.7,8.1l.7,5.6l.8,15.5v3H41.6Z"/>
<path d="M41.2,142.1V139.1l.7-8.5l.8-5.4l.7,.5l.8-1.7l.7-1.6l.7-2.4l.8-2l.7-1.7l.7-4.6l.8-3.5l.7,1.5l.8,1.7l.7,3.1l.7,.2l.8-2.6l.7,.8l.7-.8l.8,5.8l.7-1.7l.8,1.9l.7,2l.7-3l.8-.9l.7-.6l.7-4.5l.8-.6l.7-2.2l.8,1.6l.7-.2l.7-3.2l.8-1.5l.7-1.1l.8-3.2l.7-5l.7-7.2l.8,.5l.7,4.6l.7,7.1l.8,4.2l.7,6.9l.8,1.6l.7,2.2l.7,3.7l.8-.7l.7,1.9l.7,1.8l.8-1.9l.7-1.5l.8,1.7l.7-1.9l.7-.7l.8-1l.7-.2l.8-5.3l.7-11.4l.7-17.5l.8-13.4l.7,14l.7,15l.8,8l.7,6.9l.8,.6l.7,4.3l.7,3.2l.8-.6l.7,.9l.7,1.7l.8-.7l.7-1l.8,2.3l.7-.7l.7,.2l.8-2.1l.7,5.7l.8-1l.7,3.2l.7-.9l.8-1.5l.7,2l.7,1.2l.8-.8l.7-2.8l.8-1.8l.7,4.4l.7,2.1l.8-1.9l.7,1.9l.7-2l.8-.6l.7-2.7l.8,6l.7-1.3l.7,1.6l.8-4.2l.7,4.5l.7-4.9l.8-1l.7,7.3l.8-5.6l.7-2.4l.7,4.2l.8,.1l.7-3.9l.8,3.4l.7-.9l.7,0l.8-4l.7-3.9l.7-3.4l.8-5.6l.7,1.9l.8,4.7l.7,5.9l.7,3.6l.8,.5l.7,.6l.7,1.9l.8,1.8l.7-2.5l.8,4.5l.7-.6l.7-1.8l.8,2.9l.7-3.9l.8,4.8l.7-3.1l.7-1.2l.8-1.9l.7,4.9l.7-2.4l.8-1.9l.7,4.5l.8-2.5l.7-1.6l.7,.1l.8,2.6l.7-.9l.7,2.4l.8-2.7l.7,.3l.8,2.1l.7-6.3l.7,3.9l.8,3.3l.7-1.9l.7-1l.8,3.4l.7-.2l.8-3.6l.7,1.8l.7,.1l.8-2.4l.7,2.9l.8,2.7l.7-.8l.7-2.1l.8,.2l.7,.4l.7,1.2l.8,1.9l.7-3.2l.8-1.5l.7,.4l.7-.8l.8-5l.7,9.1l.7-1.2l.8-1.7l.7,2.3l.8-3.4l.7,1.8l.7-7.2l.8,7.3l.7,0l.8-.2l.7,.6l.7,1l.8-3.9l.7,1.8l.7,0l.8,1.4l.7,1.4l.8-.9l.7,0l.7,.4l.8-2.1l.7,1.4l.7-.8l.8-3.2l.7,2.3l.8-1l.7,3l.7,0l.8,1.6l.7-5.5l.7,.8l.8,2.7l.7-1.1l.8,.5l.7-2.5l.7,2l.8,1.3l.7,2.2l.8-3.1l.7,.2l.7,1.2l.8-3.1l.7,4.2l.7-1l.8-1.9l.7-2.1l.8,2.4l.7,1.5l.7,.8l.8-2.8l.7,2.7l.7-1l.8-1.4l.7,1.6l.8,.9l.7,.4l.7-.7l.8-5l.7,4.7l.8,.3l.7-3.4l.7,2.7l.8-.7l.7,.7l.7,.1l.8-3.1l.7,4.8l.8-1.3l.7,.3l.7,.6l.8-1.9l.7-1l.7,1.5l.8-.1l.7,1.4l.8-.3l.7-2l.7-2.5l.8,1.2l.7-3.7l.7,7.4l.8-1.3l.7-1.3l.8-1.2l.7,.6l.7-.2l.8-4.4l.7-.8l.8-8.6l.7-12.3l.7-7.1l.8,6.1l.7,7.1l.7,7.4l.8,14.6v3H41.2Z"/>
<path d="M40.7,142.7V139.7l.7-8.4l.8-3.4l.7-6.1l.8,2.4l.7-.9l.7-1l.8-2.6l.7-3.5l.7-3.3l.8-3.8l.7,1.1l.8,.8l.7,2.3l.7,1l.8,.5l.7-1.6l.7,3.1l.8,2.6l.7-2.5l.8,3.8l.7-2l.7,3.1l.8-5.8l.7,1.2l.7-3.1l.8-3.8l.7,1.7l.8,.6l.7-3.7l.7-4.8l.8,3.5l.7-.9l.8-3.5l.7-7.9l.7-5.9l.8,.2l.7,7.8l.7,3.9l.8,4.9l.7,5.6l.8,4.2l.7-.1l.7,5.2l.8-.5l.7-.1l.7,5.8l.8-4l.7,3.1l.8-2.4l.7-2.5l.7-.3l.8-1.2l.7-1.4l.8-5.2l.7-9.6l.7-19.2l.8-13.2l.7,14.1l.7,16.8l.8,6.7l.7,3l.8,7.1l.7,2.2l.7-.5l.8-1.6l.7,7.6l.7-.2l.8-1.4l.7-.9l.8-1.9l.7,5.6l.7-1.4l.8-3.1l.7,7l.8-2l.7-2.8l.7,6.3l.8-5.4l.7-1l.7,6.6l.8-1.4l.7-.5l.8,.1l.7-1.7l.7,2.7l.8,2.9l.7-4l.7,3.1l.8,1.1l.7-2.2l.8-1.5l.7,4l.7-.4l.8-2.5l.7-1.8l.7,2.9l.8-5.2l.7,3.8l.8-2.4l.7,3.4l.7,1.4l.8-4.1l.7,1.1l.8-.3l.7,.5l.7-2.6l.8,.7l.7-5.2l.7-4.6l.8-4.9l.7,1.1l.8,6.5l.7,3l.7,1.7l.8,4.4l.7,.5l.7,1l.8,.8l.7-.9l.8,2.9l.7,1.3l.7-1.3l.8,2l.7,1.3l.8-3.4l.7-2l.7,.8l.8,6l.7-4.4l.7,.1l.8,.7l.7-.9l.8,4.1l.7-5.8l.7,1l.8-5.5l.7,7.7l.7,.8l.8-3.5l.7-.9l.8-.4l.7,4.5l.7-5.2l.8,5.3l.7-3.6l.7,2.6l.8-.7l.7-1.3l.8-1.2l.7,0l.7,3.6l.8-2l.7,1.5l.8-2.1l.7,3.7l.7-3.9l.8-.7l.7,3.2l.7-4.2l.8,4.3l.7,2l.8-1.4l.7-2.7l.7-.5l.8,2.3l.7-.1l.7,.7l.8-1.1l.7,3.1l.8-2.7l.7-3l.7-.3l.8,5.5l.7-2.4l.8,1.3l.7,.1l.7,1.9l.8-3.6l.7,.4l.7-.2l.8-1.6l.7-1l.8,6.6l.7-.3l.7-.3l.8-.6l.7,.2l.7-2.4l.8,1.9l.7-1.2l.8-2.4l.7,3.2l.7-1.4l.8-3.6l.7,3.2l.7,1.9l.8-4.2l.7,5.3l.8,.2l.7-1.4l.7-3.7l.8,3l.7,.3l.8,1.2l.7,.9l.7-1.4l.8,.7l.7-.2l.7-3.1l.8,2.9l.7-3.6l.8,3.1l.7-.1l.7-4.2l.8,4.1l.7,1.8l.7-.3l.8-1.5l.7-.1l.8,.3l.7,.6l.7,.9l.8-3.4l.7-.2l.8,3.7l.7-2.1l.7-2.2l.8,4.3l.7-.9l.7-2.5l.8,.5l.7-2.4l.8,1.6l.7-.1l.7,3.4l.8,.4l.7-8.1l.7,7.7l.8-.5l.7,.1l.8-1.6l.7-3.6l.7,5.3l.8-3.1l.7,3.5l.7-2l.8-1.8l.7-.2l.8,2.3l.7-2.6l.7-1.9l.8-.9l.7-3.3l.8-6.2l.7-12.1l.7-5.7l.8,3.7l.7,9.4l.7,5.6l.8,14.3v3H40.7Z"/>
<path d="M40.2,143.2V140.2l.7-7.2l.8-5.1l.7-3l.8-.7l.7-1.1l.7,.2l.8-2.8l.7-3.7l.7-3.6l.8-3.3l.7,.5l.8,2.2l.7,1.9l.7,.2l.8-1.4l.7,1.5l.7,4.1l.8-3l.7,5.1l.8-2.1l.7-1.5l.7,.5l.8-1.9l.7,.6l.7-5.6l.8-.3l.7,2.5l.8-2.8l.7,.6l.7-3.8l.8,1.3l.7-2.5l.8-1.7l.7-7.7l.7-6.8l.8,.2l.7,6.6l.7,3.9l.8,5l.7,8.6l.8-.2l.7,4.6l.7,1.5l.8-.9l.7,3.7l.7-.4l.8-.6l.7-.8l.8-.9l.7,.8l.7-1.8l.8,2.3l.7-2.5l.8-6.1l.7-10.5l.7-18.3l.8-12.7l.7,12.5l.7,17.9l.8,6.8l.7,6.2l.8,.9l.7,4.8l.7,4.1l.8,2.6l.7-4.6l.7,.6l.8,3.3l.7-.2l.8-1.1l.7,3.6l.7-4.6l.8-5.1l.7,8.2l.8,3.4l.7-1.8l.7-.6l.8,1.1l.7-4.1l.7,2.8l.8,3l.7-1.6l.8,1.8l.7,.9l.7-5l.8,3.9l.7,1.1l.7-4.4l.8,3.9l.7-2.8l.8,8.3l.7-7.4l.7,4.1l.8-1.6l.7-2.8l.7-1.9l.8,9.1l.7-7.9l.8,3.3l.7,.3l.7-3.1l.8,2.1l.7,.5l.8-1.1l.7-.7l.7-.8l.8-4l.7-3.7l.7-3l.8-4.8l.7,1.4l.8,6.2l.7,3.8l.7,2.7l.8,1.9l.7,2.3l.7-1l.8,3.3l.7-1.2l.8-.1l.7-.2l.7-1.4l.8,2.3l.7,2l.8-3l.7,1.3l.7-1.9l.8-1.9l.7,.4l.7,3.6l.8,2.2l.7-2.6l.8,1l.7,1.3l.7,1.8l.8-5.9l.7,4.8l.7-4.5l.8,0l.7,4.5l.8-2.9l.7,1.1l.7,3.1l.8-1.8l.7-1.6l.7-1.8l.8,3.8l.7-1.2l.8-2.7l.7,3.3l.7,.6l.8,1.9l.7-4.3l.8,2.6l.7,.6l.7-1.1l.8,.7l.7-8.1l.7,7.8l.8-2.9l.7,4.6l.8-4.8l.7,1.2l.7,1.7l.8-5.9l.7,7.2l.7,.4l.8-1.7l.7,1.1l.8-.2l.7-1.4l.7-1.8l.8,1.9l.7,1.6l.8,.5l.7-5.8l.7,4.7l.8-4.8l.7,4.1l.7,.6l.8,.1l.7-1.9l.8-.7l.7,2.7l.7-1.9l.8,4l.7-.8l.7,.1l.8-1l.7,.5l.8-3.1l.7,2.4l.7,.2l.8-.2l.7,1.2l.7,.4l.8-6.5l.7,3.1l.8,2.9l.7,.4l.7-2.7l.8,.5l.7-.3l.8,1.7l.7,.3l.7-3l.8,3.6l.7-.5l.7-2.2l.8,2.9l.7-2.2l.8,0l.7,1.3l.7-4.9l.8,4.5l.7-.3l.7,.2l.8-.6l.7,.7l.8-2l.7,3.1l.7,0l.8-1.9l.7-.1l.8,0l.7-1.2l.7,2.5l.8-3l.7,2.2l.7,.9l.8-.1l.7-2.4l.8-.8l.7,2.7l.7-1.9l.8-1.5l.7,2.3l.7-2.6l.8,1.7l.7,3.5l.8-.7l.7,.3l.7-5.7l.8,1.1l.7,4.5l.7-2.1l.8-4.9l.7,6.1l.8-2.3l.7-.3l.7-2.1l.8,.4l.7-5.1l.8-6.7l.7-12.7l.7-6.2l.8,5.1l.7,8.9l.7,5.5l.8,15.2v3H40.2Z"/>
<path d="M39.7,143.3V140.3l.7-8.4l.8-5.8l.7-1.7l.8,.3l.7-.9l.7-3.3l.8-.2l.7-3.6l.7-2l.8-4.5l.7,.6l.8,2.1l.7,1.9l.7,1.2l.8-.9l.7-2.2l.7,3.9l.8,3l.7-.2l.8-.4l.7,1.9l.7-1.9l.8-2.2l.7-2l.7-.4l.8-3.9l.7,1.2l.8-1.7l.7,2.8l.7-3.9l.8-.1l.7-2.3l.8-2.9l.7-7l.7-7l.8,1.6l.7,5l.7,6.2l.8,3.5l.7,7.7l.8,1.6l.7,4l.7,1.4l.8,1.9l.7-3.1l.7,4l.8,1.7l.7-3l.8-.5l.7-3.2l.7,1.5l.8-.2l.7-4.6l.8-3.6l.7-10.2l.7-17.7l.8-12.6l.7,14l.7,16.1l.8,6.4l.7,6.2l.8,2.1l.7,4.6l.7,1.5l.8,1.8l.7-2.8l.7,3.2l.8-1.6l.7,3.8l.8-5.5l.7,5.5l.7,0l.8-1.9l.7,2.8l.8-1.2l.7-2.8l.7,4.2l.8,1.4l.7-2l.7,3.8l.8-.7l.7,0l.8-.7l.7,1.7l.7-1.1l.8,2.9l.7-2.3l.7-4.7l.8,3.1l.7,5.5l.8-5l.7-.3l.7,.4l.8-.3l.7-.3l.7,4.1l.8-2.7l.7,2.6l.8,.5l.7-1.8l.7,1.5l.8,0l.7-1.6l.8-3l.7,1.1l.7-.1l.8-2.5l.7-5.3l.7-4.2l.8-4l.7,1.7l.8,5.9l.7,3.7l.7,3.2l.8-.9l.7-.7l.7,4.1l.8,1.8l.7,3.2l.8-4.1l.7,.3l.7,5.5l.8-5.4l.7,.2l.8,3.2l.7,0l.7-1.2l.8-2.2l.7,5.2l.7-6.7l.8,4.4l.7,1.6l.8,.1l.7-1.4l.7,2.2l.8,.3l.7-1.6l.7-2.6l.8,1.7l.7,.2l.8,.2l.7-2l.7,3.7l.8-2.3l.7-.1l.7-1.2l.8,3.1l.7,.8l.8-6.6l.7,2.3l.7,.3l.8,1.2l.7-.4l.8-1.5l.7,2l.7,0l.8-1.8l.7,1.7l.7-1.8l.8,1.6l.7,3.6l.8-.2l.7-.9l.7-.8l.8-3l.7,3.2l.7-3.8l.8,2.8l.7-1.3l.8,1.2l.7,3.8l.7-4.1l.8,4.2l.7-.6l.8-1.3l.7-5.3l.7,7.2l.8-5.7l.7,2.9l.7-1.9l.8-1.5l.7,1.1l.8,3.7l.7,1.7l.7-1.3l.8-3.5l.7,1.7l.7,2.8l.8-4.3l.7,1.2l.8-1.6l.7,4.9l.7-4.7l.8,2.5l.7-2.3l.7,.4l.8,4.1l.7-3.4l.8-2.3l.7,5l.7,.1l.8-4.2l.7,3.5l.8,.9l.7-1.1l.7,0l.8-1.6l.7-.6l.7,3.7l.8-4.3l.7,2.6l.8-.2l.7,.4l.7-6.3l.8,7.7l.7-.6l.7-1.5l.8-.1l.7-2.3l.8,2.5l.7,1.1l.7-1.2l.8,1.9l.7-5.6l.8,4.5l.7,.8l.7-1.9l.8-1.4l.7,1.5l.7,1.8l.8-2.4l.7,.3l.8,1l.7-2l.7,1.6l.8-2.9l.7,4.4l.7-2.9l.8,3l.7-1.7l.8,1.7l.7-2.6l.7,1.8l.8-1.3l.7,2.5l.7-.8l.8-2.8l.7,.6l.8,2.4l.7-3.5l.7-1.1l.8-1.7l.7-4.4l.8-6l.7-10.9l.7-7.4l.8,4.9l.7,8l.7,6l.8,14.9v3H39.7Z"/>
<path d="M39.3,144V141l.7-7.8l.8-6.3l.7,1.4l.8-3.7l.7,1.8l.7-3.2l.8-3.2l.7-2.7l.7-1.2l.8-4.6l.7,1.2l.8,1.2l.7,3.1l.7-2.8l.8,.3l.7,2.5l.7,.7l.8,1.2l.7-.3l.8-.2l.7,1l.7,2.5l.8,2.1l.7-3.8l.7-3l.8-5.6l.7,2.4l.8-3.1l.7-.2l.7-1l.8-1.6l.7,.8l.8-5l.7-6.1l.7-6.3l.8,1.1l.7,6.3l.7,3.5l.8,4.9l.7,6.4l.8,3.8l.7-.2l.7,.2l.8,7.1l.7-2.6l.7,2.4l.8,0l.7,.6l.8-2.1l.7-2.3l.7-.8l.8,1.2l.7-2.1l.8-6.1l.7-10.9l.7-17.1l.8-13.1l.7,13.5l.7,16.3l.8,9.6l.7,3.1l.8,2.9l.7,4.8l.7,.6l.8,1.9l.7,2.5l.7-3.8l.8,3l.7,2.3l.8-4.2l.7,2.8l.7,1.3l.8,.8l.7-4.4l.8,5.6l.7-2.6l.7,.2l.8,2.8l.7-2.5l.7-.2l.8,2.7l.7,.1l.8-1.3l.7,1.5l.7-2.6l.8,1.4l.7,1.6l.7-.2l.8,1.5l.7-2.3l.8,3.2l.7-1.5l.7,2.8l.8-8l.7,4.6l.7,.6l.8-.9l.7,4.4l.8-6.3l.7,6l.7-4.5l.8,1.8l.7-2.4l.8-.2l.7,0l.7-2.1l.8-.3l.7-3.9l.7-4.8l.8-4.4l.7,1.9l.8,4.7l.7,3.1l.7,5.7l.8,1.3l.7,1.5l.7-1.1l.8,4.8l.7-3.5l.8,2l.7,.8l.7-2.3l.8,.2l.7,0l.8-2l.7,6l.7-5.5l.8,1.4l.7-4.2l.7,2.5l.8,2l.7,5.5l.8-4.7l.7-2.8l.7,1.6l.8,2.1l.7,2.6l.7-2.8l.8,3.4l.7-1.5l.8-.7l.7-1.8l.7,2.4l.8-1.3l.7,0l.7-.6l.8-.8l.7,.4l.8,1.7l.7-.9l.7,1.8l.8,1.3l.7-1.4l.8-1.2l.7,3.6l.7-5.2l.8,.9l.7,4.3l.7-1.1l.8-.3l.7,.6l.8,1.3l.7-4.7l.7,4l.8-7.9l.7,1.9l.7-.4l.8,2.4l.7-1.5l.8-.2l.7,5.1l.7-5.6l.8,5.3l.7-1l.8,0l.7,.1l.7,1.9l.8-7.6l.7,4.2l.7-1.1l.8,3.1l.7-3.1l.8,.9l.7,2.1l.7-2.1l.8,2.2l.7,2l.7-1.7l.8,.8l.7-3.2l.8-3l.7,5.5l.7,.3l.8-4.2l.7,3.3l.7-1.1l.8,.8l.7-.5l.8,2.4l.7-2.5l.7,.5l.8,.9l.7,1l.8-1.9l.7,1l.7,1.6l.8-1.6l.7-1.1l.7-4.2l.8,2.4l.7,4.4l.8-3.6l.7,2.1l.7-1.8l.8,3.3l.7-6l.7,2.6l.8,3.3l.7-2.5l.8-.2l.7,1.5l.7,1l.8-.6l.7,.1l.8,.9l.7-2.6l.7,1.6l.8-1.7l.7-.2l.7-.8l.8,.3l.7-.1l.8-.8l.7-.5l.7,.4l.8-.2l.7,3.6l.7-.5l.8-3.9l.7,4.6l.8-3.1l.7-.7l.7-.8l.8,4.4l.7-2.1l.7,.7l.8-2l.7,3.3l.8-2.4l.7-1.8l.7-.1l.8-2.6l.7-3.7l.8-5.8l.7-11.5l.7-6.7l.8,5.6l.7,7.3l.7,6.2l.8,14.6v3H39.3Z"/>
<path d="M38.8,144.6V141.6l.7-8.2l.8-6.8l.7,1.3l.8-1.1l.7-.6l.7-1l.8-5.1l.7-1.4l.7-3l.8-4l.7,1.2l.8,.2l.7,3.9l.7-.4l.8-1.4l.7,2.3l.7,0l.8,1.3l.7,2.1l.8,0l.7-3l.7,2.1l.8,.7l.7-1.6l.7,.1l.8-5.9l.7-1l.8,.3l.7,1.4l.7-3.4l.8-1.8l.7,.3l.8-3.2l.7-6.9l.7-7l.8,0l.7,6.4l.7,4.5l.8,5.8l.7,8.3l.8,1.2l.7,1.1l.7,4.4l.8-.2l.7,2.5l.7-2.4l.8,1.4l.7-.3l.8-.2l.7-3.7l.7,.1l.8,.4l.7-3.4l.8-3.7l.7-11.1l.7-18.1l.8-12.8l.7,13.9l.7,15.8l.8,8.9l.7,5.7l.8,.3l.7,2.4l.7,5.4l.8,0l.7,2.8l.7-2.2l.8-1.1l.7,2.7l.8,2.5l.7-2.4l.7,.7l.8-1.5l.7,2.9l.8,.2l.7-.5l.7-1.9l.8,6.5l.7-5.5l.7,1.8l.8,1.1l.7-1.7l.8,7.8l.7-3.1l.7-.7l.8-1.2l.7,3l.7-3.6l.8-3.8l.7,4.9l.8-.1l.7,3.3l.7-2.4l.8-2.5l.7,5.8l.7-7.2l.8,2.7l.7-2.6l.8,2.6l.7,2l.7-5l.8,4.6l.7,.8l.8,.4l.7-2.9l.7-2.1l.8-1.1l.7-4.7l.7-5.4l.8-3.5l.7,1.5l.8,5.9l.7,5.6l.7-.3l.8,2.9l.7,1.3l.7,1.8l.8-1.5l.7,6l.8-3.3l.7-1l.7,3.7l.8-.4l.7-2.7l.8,4.7l.7-3.4l.7-1.2l.8,2.6l.7-3.5l.7,.8l.8,5.2l.7-6.2l.8,2l.7-.3l.7,1.5l.8-.4l.7,1.2l.7-.6l.8-.5l.7,2l.8-1.9l.7-3.7l.7,4.5l.8-2.9l.7,1.6l.7,1.4l.8-1.9l.7,3.2l.8-3.4l.7,2.2l.7-1.3l.8-.9l.7,1.2l.8-1.2l.7,5.2l.7-2.5l.8-2.7l.7-.4l.7-.4l.8,3.8l.7-4.5l.8,5.2l.7-3.8l.7,1.8l.8-1.3l.7,3.1l.7-3.1l.8,3.9l.7-3.8l.8,1.1l.7-1.2l.7,0l.8,.7l.7,3.5l.8-6.5l.7,3.9l.7-4.4l.8,4.5l.7,1.6l.7,.5l.8-.7l.7-2.5l.8,3.5l.7-3.6l.7,0l.8,1.9l.7-2.3l.7,3.8l.8,.9l.7-.5l.8,.4l.7-.1l.7-3.8l.8,.2l.7,1.9l.7-.3l.8-.9l.7-2l.8,4.7l.7-1.9l.7,2.3l.8-2l.7-2.9l.8,1.1l.7,3.4l.7,.1l.8-1.6l.7-.4l.7-2l.8,4.3l.7-.3l.8-.6l.7-.4l.7,.2l.8-1.2l.7,.1l.7-1.3l.8-2.6l.7,5.4l.8,.9l.7-1l.7-1.3l.8,1.8l.7,.3l.8-1.8l.7-.5l.7-2.1l.8,4.4l.7-.5l.7-2.2l.8-4.5l.7,6.3l.8,1l.7-1.1l.7-1.9l.8,2.6l.7-.7l.7-5.6l.8,3.3l.7,2.3l.8-5.1l.7,4.8l.7-6.2l.8,5.8l.7,.9l.7-5.3l.8,3l.7-1.1l.8,.9l.7-1.4l.7,.3l.8-3.8l.7-2l.8-6.7l.7-12.3l.7-6.2l.8,4.5l.7,8.6l.7,4.8l.8,16v3H38.8Z"/>
<path d="M38.3,145.2V142.2l.7-9.6l.8-6.5l.7,.5l.8,1.5l.7-1.8l.7-1.7l.8-2.5l.7-2l.7-4.8l.8-2.6l.7-.3l.8,3.4l.7,1.8l.7,.1l.8-1.1l.7,.6l.7,1.4l.8,2.1l.7,1.7l.8,.1l.7,.7l.7-2.5l.8-.5l.7-.5l.7-1.3l.8-3.5l.7-1l.8-1l.7,1l.7-2.7l.8,.2l.7-2.1l.8-2.6l.7-6.4l.7-6.1l.8,.1l.7,5.3l.7,3.3l.8,8l.7,4.6l.8,4.6l.7-.1l.7,2.5l.8,2.2l.7-.4l.7,1.2l.8,.9l.7-1.1l.8-2.2l.7-2l.7-2.1l.8,2.1l.7-1.6l.8-5l.7-9.6l.7-18.9l.8-13l.7,14.1l.7,16.3l.8,9.5l.7,2.1l.8,2.2l.7,4.4l.7,2.1l.8,1.7l.7,1.4l.7,1.2l.8-2l.7-2.5l.8,2.3l.7,1.2l.7,1.2l.8,2.3l.7-4.5l.8,3.4l.7-1.1l.7,3l.8,4.8l.7-9.7l.7,7.7l.8-3.7l.7-1l.8,6.5l.7-3.9l.7,.8l.8,3.3l.7-7.2l.7,5.1l.8-2.2l.7,1.2l.8-4l.7,6.2l.7-1l.8-1.5l.7-.9l.7,1.6l.8-2.5l.7,.2l.8,1.5l.7,3.4l.7-.9l.8,1l.7-2.5l.8-2.8l.7-1.7l.7,1.1l.8-2.8l.7-2l.7-5.3l.8-5.2l.7,3.1l.8,4.8l.7,5.3l.7,1.6l.8,1.2l.7,1.6l.7-1.4l.8,2.7l.7-1.8l.8,2.2l.7,4.8l.7-3.8l.8,2.1l.7-1.1l.8,4.7l.7-4.7l.7,.4l.8,1.8l.7-1.9l.7-2.2l.8,1.7l.7-1.2l.8,3.5l.7-5.7l.7,5.9l.8,.7l.7-3.1l.7-.8l.8-1.5l.7,1.3l.8-.5l.7,5.6l.7-3.8l.8,1.8l.7,2.9l.7-7.4l.8,6l.7-4.1l.8-.4l.7,2.6l.7,1.6l.8-5.1l.7,3l.8-.4l.7,.1l.7-.4l.8-.6l.7,1.1l.7-1.8l.8,2.3l.7,3l.8-1.2l.7-3l.7,3.3l.8-2.5l.7-1.1l.7,3.2l.8-1.4l.7,2.8l.8-.1l.7-3.7l.7,.6l.8,3l.7-1.5l.8,.6l.7-.7l.7,.7l.8-.3l.7-6l.7,6.1l.8,1.9l.7-2.1l.8-3.5l.7,3.2l.7-1.9l.8,2.2l.7,.3l.7-4.1l.8,2.6l.7,1.9l.8-2.8l.7,3.9l.7-.3l.8-1.3l.7,.4l.7-1.1l.8,2.4l.7-3.1l.8,1.4l.7,.2l.7-1.3l.8,1.6l.7-3.1l.8,4.3l.7-2.6l.7,1.1l.8-1.1l.7,2.8l.7-.8l.8-2.1l.7,2.1l.8,.2l.7-.1l.7-.5l.8,.6l.7-3.2l.7,0l.8,3.4l.7,.4l.8-.1l.7-2.8l.7-3.7l.8,6.6l.7-2.4l.8,1.8l.7-.5l.7-.4l.8,1.1l.7-1l.7,1.2l.8-3.1l.7,2.7l.8-2l.7-.3l.7,2.2l.8-3.8l.7,3.1l.7-5.9l.8,6.6l.7-3.5l.8,.6l.7,2.6l.7-.1l.8,.3l.7-3.4l.7,1.6l.8-2.3l.7,4.2l.8-4.5l.7,1l.7-1.5l.8-1.9l.7-3l.8-7.7l.7-9.8l.7-7.6l.8,4l.7,9.4l.7,5.1l.8,15.5v3H38.3Z"/>
<path d="M37.9,145.7V142.7l.7-9.5l.8-3.7l.7-.7l.8-.9l.7-.3l.7-3.3l.8-2.8l.7-1.6l.7-3.8l.8-2.4l.7-.4l.8,2.9l.7-.4l.7,3l.8-.3l.7,.5l.7,.4l.8,2l.7,.7l.8-1.5l.7,1.5l.7,1.2l.8-.7l.7,.6l.7-5.9l.8-.6l.7-3.2l.8,4.2l.7-2.6l.7-3.1l.8,0l.7-2.1l.8-2.7l.7-6.6l.7-6.3l.8,.9l.7,4.7l.7,4l.8,8l.7,2.8l.8,4.7l.7,.3l.7,2.6l.8,2.1l.7,1.7l.7-.5l.8,2l.7-1.7l.8-1.3l.7-2.7l.7,.2l.8,1.3l.7-2.5l.8-4.4l.7-12.2l.7-17l.8-13.3l.7,14.1l.7,16.7l.8,5.4l.7,5.8l.8,3.1l.7,1.8l.7,2.7l.8-.5l.7,7.2l.7-.3l.8,2.7l.7-4.4l.8-2.5l.7,3.7l.7-3.7l.8,1.5l.7,2.3l.8,.7l.7-.1l.7-1l.8,.6l.7,2.3l.7-.1l.8,.1l.7,.7l.8-.3l.7,2.2l.7,.9l.8-5.5l.7,.8l.7,2l.8-1.4l.7-.9l.8,3.3l.7,1.4l.7-1.9l.8,1.7l.7-1.9l.7-.4l.8,5.6l.7-6.8l.8,2.7l.7-2.5l.7,5.6l.8-3l.7-1.6l.8-1.4l.7-1.5l.7-1.5l.8,.6l.7-2.3l.7-5.7l.8-5.8l.7,2.6l.8,4.8l.7,5.3l.7,3l.8,.6l.7,1.2l.7,.3l.8,1.5l.7,2.1l.8-2.3l.7,4.1l.7-3.3l.8,1.2l.7,3.8l.8-5.6l.7-4l.7,7.9l.8,.7l.7-1.2l.7-3.8l.8-1.7l.7,3.9l.8,2.9l.7-4.5l.7,5l.8-1.6l.7-.6l.7-3.8l.8,2.2l.7-3.1l.8,8.9l.7-5.2l.7,.2l.8,.6l.7-2.2l.7,1.4l.8-1.3l.7,.9l.8,.8l.7,0l.7,4.2l.8,.1l.7-3.2l.8,.5l.7,2.4l.7-1.8l.8-2.6l.7-3.3l.7,2.7l.8,5.3l.7-1.5l.8-.4l.7-2.1l.7,.2l.8-3.4l.7,2.4l.7,2.1l.8,2.1l.7-4l.8,3.8l.7-1.7l.7,.4l.8-2.2l.7,2.3l.8,.9l.7-3.1l.7,4.9l.8-3.9l.7,1.1l.7-3.2l.8,4.5l.7-1.8l.8-.1l.7,1.5l.7,.5l.8-.7l.7-1l.7,2l.8-.4l.7,.7l.8,.3l.7-.5l.7,.3l.8-3.1l.7,1l.7,.8l.8-2.9l.7,1.3l.8,.9l.7,1.5l.7-.6l.8,1.4l.7-.1l.8-1.3l.7-3l.7,.7l.8-.7l.7,2.2l.7,2.3l.8-2.6l.7-1.1l.8,3.1l.7,.8l.7-.3l.8-.1l.7-.5l.7-.7l.8-2.5l.7-.2l.8-1.9l.7,5.5l.7-2.1l.8-.7l.7,3.3l.8-.9l.7-1l.7,2l.8-2l.7,.9l.7,.5l.8,.6l.7-1.3l.8-3l.7,3.9l.7-2.6l.8-3l.7,5.1l.7-1.4l.8,2.1l.7-.4l.8,.3l.7,.3l.7-.2l.8-6.4l.7,3.8l.7,.1l.8,0l.7,.8l.8-.4l.7-1.6l.7-.9l.8-2.8l.7-2.4l.8-7.1l.7-11.3l.7-6.7l.8,4.4l.7,5.4l.7,9l.8,14.7v3H37.9Z"/>
<path d="M37.4,146.5V143.5l.7-8.5l.8-5.5l.7,2.2l.8-2.6l.7,.8l.7-6.8l.8,1.7l.7-3.5l.7-4.2l.8-2.7l.7-.9l.8,3.3l.7,3.1l.7-1.2l.8-.2l.7,2.1l.7-1.4l.8,4.7l.7,.5l.8-2.9l.7,2.8l.7-1.1l.8,.5l.7-2.1l.7,.2l.8-5.3l.7,0l.8-1.7l.7,1l.7-1.6l.8-1.2l.7,.5l.8-5.5l.7-5.2l.7-6.9l.8,.1l.7,5.5l.7,2.6l.8,8.7l.7,3.4l.8,1.8l.7,5.5l.7,2.6l.8-1.7l.7-.3l.7,4.1l.8-2.1l.7-.4l.8-.6l.7-2.4l.7,.8l.8-1.5l.7-.8l.8-5l.7-9.8l.7-19l.8-12.7l.7,14.2l.7,16.4l.8,8.3l.7,2.1l.8,4.1l.7,2.3l.7,1.2l.8,2.7l.7-.7l.7,1l.8,1.7l.7,1.6l.8-.7l.7,.2l.7,1.2l.8,2.1l.7-3.7l.8,4.5l.7-3.8l.7-1.7l.8,4.1l.7,2.6l.7-.3l.8-2.4l.7,1.8l.8,.9l.7-1.3l.7,3.2l.8-.1l.7-3l.7,2.6l.8-2.8l.7,2.5l.8-1.2l.7,.6l.7-3l.8,3.4l.7-.8l.7,2.7l.8-2.8l.7,.7l.8-1l.7,4.4l.7-5.1l.8,.8l.7-.7l.8-.5l.7-1.6l.7,1.7l.8-2.7l.7-4.2l.7-4l.8-6.8l.7,4.1l.8,4l.7,5.5l.7,1.5l.8,.4l.7,.3l.7,4.8l.8-.8l.7,1.9l.8,1.5l.7-2.6l.7,1.6l.8,1.7l.7-1.8l.8,.7l.7,1.2l.7-2.7l.8-.6l.7,.4l.7,2.4l.8,.5l.7,3.1l.8-6.3l.7-.5l.7,4l.8,1.1l.7-.3l.7-5.6l.8,3.5l.7,.6l.8-1.1l.7,.2l.7,.7l.8-.2l.7-1.7l.7-.6l.8,4.4l.7-2l.8-.1l.7-.5l.7-4.7l.8,3.7l.7-.1l.8,1.8l.7-1.3l.7-1.4l.8,0l.7,4.4l.7-2.1l.8-.3l.7,3.1l.8-1.5l.7,.2l.7-2.8l.8,1.8l.7-4.1l.7,3.1l.8,2.2l.7-1.5l.8,.4l.7,2l.7-2.5l.8,3.8l.7-3.3l.8,1.4l.7-1.2l.7,1.8l.8-5.2l.7,5.2l.7-3.1l.8,1.6l.7-2.3l.8,3.9l.7,1.3l.7-4.1l.8-.7l.7,.8l.7-1.1l.8-1l.7,.5l.8,3.1l.7,2l.7-2.9l.8,2.6l.7-.8l.7-1.9l.8-1.6l.7,3.8l.8-.4l.7,1.5l.7-1.6l.8,1.3l.7-1.5l.8,1.7l.7-2.6l.7,1.2l.8,1.3l.7-2.6l.7,.1l.8,1.7l.7-.1l.8-2.1l.7,.7l.7,1.5l.8-4.5l.7,5.2l.7-.1l.8,.5l.7-1.9l.8,.4l.7-3.9l.7,2l.8,3.6l.7-2.4l.8,1.7l.7-.9l.7,.4l.8-3.7l.7,3l.7,1.3l.8-1.3l.7,1.2l.8-.3l.7-.7l.7-2.3l.8,4.2l.7-.8l.7-4.3l.8,2.9l.7,2.2l.8-2.2l.7,2.1l.7-.4l.8-.7l.7,.5l.7-5.8l.8,4.4l.7-1.6l.8,.6l.7-1.1l.7-.6l.8-2.7l.7-2.8l.8-6.4l.7-13.3l.7-7.2l.8,5.8l.7,7.9l.7,7l.8,14.7v3H37.4Z"/>
<path d="M36.9,146.6V143.6l.7-7.7l.8-5.8l.7,1l.8-1l.7-2.2l.7-3.4l.8-.6l.7-4.2l.7-2.4l.8-3.4l.7,.1l.8,2.5l.7,3l.7,2.6l.8-4.9l.7,1.5l.7,.7l.8,.7l.7,4.4l.8-.8l.7-1.2l.7,3.3l.8-1.7l.7-3.4l.7-1.1l.8-1.9l.7-5.2l.8,5l.7,.1l.7-2.7l.8-2.9l.7-.6l.8-2l.7-7.6l.7-5.7l.8-.4l.7,5.9l.7,4.2l.8,4.4l.7,6.7l.8,.9l.7,4.5l.7,3.1l.8,1.1l.7,2.5l.7-3.4l.8,.7l.7-.8l.8,1.5l.7-3.4l.7-1l.8,1.2l.7-2l.8-5.5l.7-10.2l.7-18.6l.8-13.1l.7,13.8l.7,16.8l.8,9.8l.7,1.2l.8,4.3l.7,1.6l.7,6.6l.8-4l.7,3.1l.7-1.4l.8,2.8l.7,1.2l.8-1.1l.7,.8l.7-2.3l.8,1.7l.7,2.5l.8,.7l.7-2.5l.7,1.6l.8,.5l.7,1.4l.7-4.2l.8,5.1l.7-1.2l.8-2.3l.7,.9l.7,2.6l.8-.3l.7,4.3l.7-9.4l.8,10.4l.7-6l.8,.6l.7,.7l.7-.9l.8-3.5l.7,3.3l.7,.9l.8,3l.7-5.1l.8,3.2l.7-1.6l.7,2.5l.8-1l.7-.7l.8-1.1l.7-.3l.7-.2l.8-4.6l.7-3.4l.7-3l.8-5.8l.7,1.5l.8,5.8l.7,6.1l.7,2.3l.8,.2l.7,3l.7,1.6l.8,.3l.7-2.9l.8,1.5l.7,.7l.7,.4l.8-1.5l.7,3.9l.8-.7l.7-3.1l.7,.8l.8,2.5l.7,1.5l.7-4l.8,2.5l.7-3.3l.8-.9l.7,5.9l.7-4.9l.8,3.6l.7-.1l.7-1.8l.8,.4l.7,.8l.8,.2l.7,2.4l.7-2.8l.8,.2l.7-2.2l.7,.4l.8,1.8l.7-1.7l.8,.1l.7,2.9l.7-1.8l.8-.7l.7,1.5l.8-2l.7,2.2l.7,.5l.8,1.6l.7-.2l.7-.3l.8,.7l.7-5l.8,2.3l.7,1.4l.7-3.4l.8,3.5l.7,1.3l.7,.2l.8-.9l.7-4.7l.8,4.3l.7,.9l.7,.4l.8-2.9l.7,.2l.8,2l.7,0l.7-.7l.8-2.2l.7,1.7l.7-2.3l.8,.9l.7,.2l.8,2l.7-1.5l.7-4.7l.8,8.4l.7-1.8l.7,1.3l.8-1l.7,.9l.8-.9l.7-5.1l.7,3.7l.8,2.1l.7-2.5l.7-1.3l.8,4.4l.7-2.1l.8,1.4l.7-1.8l.7,1.1l.8,1l.7-4l.8,4l.7-2.7l.7,.7l.8-2.3l.7,2.4l.7,.8l.8,.3l.7-5.4l.8,4.3l.7-.9l.7,2.5l.8-3l.7,2.2l.7,.6l.8,.6l.7-4.7l.8-.2l.7,4.9l.7-.3l.8-2.5l.7,1.2l.8,1.3l.7-2.3l.7,3l.8-1.8l.7-1.3l.7,2.4l.8,.6l.7-3.4l.8,.2l.7-2l.7,5.3l.8-5.5l.7,3.6l.7-.8l.8-1l.7-.6l.8,2l.7,.2l.7,2.1l.8-5.7l.7,2.8l.7,.1l.8,.9l.7,1.2l.8-3.1l.7-1.3l.7,1.1l.8-3.2l.7-2.6l.8-7.7l.7-10.8l.7-7.2l.8,5l.7,6.9l.7,7.1l.8,15v3H36.9Z"/>
<path d="M36.4,147.3V144.3l.7-8.3l.8-4.6l.7,1.5l.8-2.4l.7-1.9l.7-.3l.8-2.6l.7-4.3l.7-3.5l.8-3.5l.7,.6l.8,1.8l.7,2.8l.7,1.1l.8-.9l.7-.8l.7,1.4l.8,2l.7,2.5l.8,1.3l.7-2.8l.7-.5l.8,2.2l.7-2.8l.7-.9l.8-4.2l.7-3.4l.8,4l.7-.8l.7-2.4l.8-.3l.7-1.6l.8-1.8l.7-8.1l.7-5.6l.8,.4l.7,3.5l.7,5l.8,6.4l.7,5.5l.8,2.8l.7,1.8l.7-1.3l.8,2.9l.7,1.6l.7,3.4l.8-2.9l.7,1.4l.8-1.8l.7-.9l.7-.5l.8-1.6l.7-1.3l.8-5.4l.7-9.3l.7-18.3l.8-12.9l.7,13.8l.7,16l.8,7.1l.7,5.8l.8,3.5l.7-1.4l.7,3l.8,3.1l.7,.9l.7,5.6l.8-2.2l.7-.6l.8-.3l.7,3.5l.7-4.4l.8-3l.7,1.3l.8,3.1l.7,.1l.7,1.7l.8,5l.7-5.2l.7-.5l.8,5.2l.7-7.6l.8,3.5l.7,.7l.7-1.7l.8,5.1l.7-1.7l.7,3.1l.8-5.1l.7,1.1l.8-3.6l.7,3.2l.7,2.5l.8,3.5l.7-3.6l.7,.1l.8-.6l.7,.9l.8-.5l.7-.9l.7,1.2l.8,.2l.7-1.3l.8,1.6l.7,.1l.7-4.4l.8-.9l.7-3.2l.7-6.4l.8-4.7l.7,1l.8,6.8l.7,4.1l.7,3.1l.8,2.3l.7,2.3l.7,1.8l.8,.6l.7-1l.8,.1l.7-.5l.7,2.9l.8-4l.7-.1l.8,3.5l.7-.9l.7-.5l.8-2.1l.7-1.1l.7,1.3l.8-.1l.7-1.2l.8,1.4l.7,1l.7-.6l.8-.9l.7,1.8l.7-1.8l.8,3.3l.7,1.3l.8-2.2l.7-1.2l.7-3.1l.8,4.7l.7,1.8l.7,1.7l.8-1.9l.7-1.1l.8,.2l.7-1.5l.7,.7l.8,1.4l.7-6.5l.8,6.5l.7-.7l.7,2.2l.8-1.3l.7-1.9l.7,4.2l.8-2.8l.7,.9l.8-1.7l.7-1l.7,1.5l.8-2.2l.7,3.2l.7-1.9l.8,2.8l.7,1.4l.8-1.1l.7-1.6l.7-1.6l.8-2.7l.7,2.9l.8-.4l.7,3.2l.7-5.3l.8,4.9l.7-1l.7-4.4l.8,2.2l.7-2.6l.8,5.9l.7-2.1l.7,3.4l.8-3.2l.7,2.1l.7-4.1l.8,1.7l.7,3l.8-1l.7,.9l.7-1.8l.8-2l.7,4.8l.7-2l.8-1.9l.7,3.4l.8-1l.7,.6l.7-3.6l.8,.6l.7,3.8l.8-4.4l.7-1l.7,4.1l.8-1.4l.7-.5l.7-.2l.8-3.2l.7,4.5l.8,.9l.7-1.1l.7,.7l.8-.3l.7-1.6l.7,1.2l.8,2.4l.7,0l.8-1.6l.7-.5l.7-.3l.8,.3l.7-1.7l.8,2.5l.7,.7l.7-1.4l.8-3.2l.7,.5l.7,2.9l.8-4l.7,5.7l.8-.6l.7-.4l.7-5.1l.8,1.9l.7,1.7l.7,.5l.8,1.9l.7-2.8l.8,1l.7-.7l.7,2.5l.8-.6l.7-2.3l.7,.7l.8,.6l.7-1.4l.8,1.1l.7-3.2l.7-.3l.8-1.8l.7-4.2l.8-7.1l.7-9.5l.7-8l.8,6l.7,6.6l.7,7.3l.8,14.6v3H36.4Z"/>
<path d="M36,148.1V145.1l.7-6.7l.8-4.4l.7-4.2l.8-.3l.7-3.1l.7,.3l.8-1.2l.7-2.5l.7-4.9l.8-2.6l.7,.7l.8,2.7l.7,1.2l.7-.2l.8,1.7l.7-1.5l.7,1.9l.8,1.1l.7,3.1l.8-.7l.7,.7l.7,.9l.8-1.8l.7-.1l.7-4.4l.8-2.1l.7-2.8l.8,4.2l.7-1.7l.7-3.2l.8-2.2l.7,.1l.8-3.4l.7-4.9l.7-6.6l.8,.6l.7,3.9l.7,5.8l.8,4.7l.7,5.5l.8,2.8l.7,4l.7,1.4l.8,.3l.7,.1l.7,1.2l.8-1.6l.7,2.2l.8-1.1l.7-3.3l.7-.5l.8,1.1l.7-1.5l.8-7.4l.7-8.1l.7-18.8l.8-13l.7,13.2l.7,17.7l.8,7.5l.7,4.7l.8,.4l.7,3.7l.7,2.2l.8,3.6l.7-.2l.7,4.2l.8,.7l.7-1.7l.8,.1l.7-1.3l.7-2.2l.8-.3l.7-1l.8,5.1l.7,.9l.7,1.2l.8,.9l.7-5.6l.7,3.9l.8,.9l.7,.6l.8-.3l.7-4.9l.7,7.2l.8-4.3l.7,5l.7-2l.8-4.6l.7,3.9l.8,3.4l.7-4.2l.7,3l.8-.6l.7-.9l.7-.2l.8,.4l.7-.9l.8,2.5l.7-2.1l.7,0l.8-2.6l.7,2.2l.8-.4l.7-2.8l.7,.7l.8-2l.7-4.4l.7-3.8l.8-4.7l.7,1.2l.8,6.1l.7,5.1l.7,3.3l.8,.7l.7,3.4l.7-1l.8,1.8l.7-2.2l.8,.1l.7,1.9l.7,.5l.8,1.6l.7-2.5l.8-.7l.7,2.2l.7-4.1l.8,4.2l.7-4.1l.7,3.5l.8-5l.7,3.1l.8,0l.7-.2l.7,3.5l.8-2.1l.7-1.7l.7,3.7l.8-4.3l.7,3.5l.8-2.1l.7,.1l.7,2.7l.8,1.7l.7-5l.7-1.2l.8,2.6l.7-2.7l.8,5.6l.7-3.3l.7,1.1l.8-1l.7,2l.8-4.8l.7,5.3l.7-1l.8-2.1l.7,4.6l.7,.4l.8-1.2l.7-1.9l.8,.8l.7-1l.7-2.7l.8,4.7l.7,1.9l.7-5.8l.8-1.6l.7,4.8l.8-3.7l.7,4.1l.7-.4l.8,2.9l.7-3.3l.8,2.7l.7-.7l.7-5.9l.8,3.5l.7-2.6l.7,6.3l.8-3.1l.7,3.3l.8-.8l.7-2.1l.7,1.2l.8-1.2l.7-.2l.7,2.4l.8-1.4l.7-2.8l.8,4.4l.7,.7l.7-5.2l.8,4.9l.7-1.1l.7,1.1l.8-.3l.7-1.2l.8,.6l.7-.9l.7,0l.8-.1l.7,.8l.8,1.5l.7-1.2l.7-.5l.8-1.8l.7,2l.7,1.1l.8-2.5l.7,.5l.8,.6l.7,1.7l.7-1.2l.8-1.5l.7,1.1l.7,.1l.8,.7l.7,0l.8,.8l.7-1.1l.7,.5l.8,.2l.7-4.5l.8,3l.7-2.2l.7,4.1l.8-1.1l.7-.6l.7,.7l.8,.4l.7-.7l.8-1.7l.7-.4l.7,3.2l.8,.3l.7-4.8l.7,.4l.8,.8l.7,2.8l.8-.8l.7-1.9l.7,1.7l.8-.1l.7-4.2l.7-1.1l.8,6.4l.7-2.8l.8-2l.7,1.6l.7-1.2l.8-1.5l.7-2.2l.8-8.4l.7-12.6l.7-4.9l.8,4.8l.7,7.7l.7,6.8l.8,13.6v3H36Z"/>
<path d="M35.5,148.4V145.4l.7-8.4l.8-5.5l.7-.6l.8-1.8l.7,.2l.7-2l.8-1.7l.7-1.4l.7-6.2l.8-2l.7,.6l.8,2l.7,3.3l.7,.1l.8,.7l.7-1.2l.7,.1l.8,4.8l.7,.7l.8-1.7l.7,1.7l.7-5.1l.8,4.5l.7-4.4l.7-.6l.8-3.4l.7-1.3l.8-.6l.7,.1l.7-1.1l.8,.3l.7-1.6l.8-3.1l.7-5.8l.7-5.9l.8,.9l.7,5.4l.7,3l.8,4.8l.7,5.5l.8,4.4l.7,3.5l.7-.3l.8-1.9l.7,2.5l.7,2.5l.8-1.9l.7,1.2l.8-1.4l.7-1.8l.7,1.7l.8-4.5l.7,.8l.8-5.6l.7-10.3l.7-18.4l.8-12.1l.7,13.9l.7,16.3l.8,9.3l.7,4.5l.8,.8l.7,4.2l.7,.7l.8,3.1l.7-.1l.7,2.5l.8-3.9l.7,4.1l.8-2.3l.7-2.8l.7,.3l.8,4.8l.7,.4l.8-1.2l.7,.5l.7-1.4l.8,4l.7-1.7l.7,1.9l.8,1.2l.7-4.2l.8,.3l.7,1.9l.7,.9l.8,1.5l.7-4.4l.7,5.8l.8-4.2l.7,3.8l.8-2.5l.7,1l.7,1.2l.8-.3l.7-.9l.7,1.4l.8,.7l.7-4.3l.8,4.2l.7-1.8l.7,2.2l.8-.1l.7-1.5l.8-5l.7,2.7l.7-2l.8-1.8l.7-1.6l.7-5.5l.8-5.2l.7,1.1l.8,6.1l.7,5.9l.7,1.7l.8,3.9l.7-1.7l.7,3.5l.8-.2l.7,2.2l.8-1.6l.7-.1l.7-2.7l.8,2.8l.7-.3l.8,.8l.7-1.2l.7,1.2l.8,1.8l.7-1.9l.7-1.8l.8,4.9l.7,.7l.8-5.7l.7,2l.7,1.6l.8,1.5l.7-2.6l.7-2.9l.8,3.8l.7-1.8l.8-4.3l.7,3.3l.7,1.9l.8,2.2l.7-5l.7,.4l.8,3l.7-2.5l.8,.6l.7-2.3l.7,1.7l.8,1.6l.7-1.2l.8,2l.7,1.9l.7-1.5l.8,.3l.7-3.6l.7,2.5l.8-1l.7,3l.8-3.3l.7,2.9l.7,2l.8-4.5l.7,.8l.7-2.4l.8-.6l.7,3.7l.8,2.9l.7-.6l.7-2.3l.8,3l.7-5.8l.8,2l.7,3.5l.7-.1l.8-5.6l.7,1.1l.7,0l.8-.9l.7,2.1l.8,2.8l.7-2.1l.7,.5l.8,1.4l.7-1l.7-.6l.8,2.9l.7-2l.8,.1l.7-.9l.7,1.9l.8-6.8l.7,2.4l.7,1l.8,2.6l.7,.2l.8,1.7l.7-1.5l.7-2.8l.8,2.2l.7,.4l.8-3.1l.7,1.5l.7,3.4l.8-1.8l.7-1.2l.7-1.3l.8,3.2l.7-.3l.8-.2l.7,1l.7,0l.8-2.7l.7,2.4l.7,.3l.8,.4l.7,.2l.8-3.4l.7,1l.7-.3l.8,.5l.7,.2l.8-1.2l.7,2.9l.7-.7l.8,.4l.7-3.9l.7,1l.8,1.5l.7-.8l.8-.6l.7-.1l.7,.3l.8,1.2l.7,.3l.7-2.5l.8,.6l.7,.6l.8-1.5l.7,3.9l.7-1.7l.8,2.3l.7-4.9l.7,.7l.8,1.2l.7,.7l.8-1l.7,.9l.7-3.6l.8-1.7l.7-3.3l.8-5.7l.7-12.3l.7-6.7l.8,4.7l.7,8.3l.7,6.7l.8,13.9v3H35.5Z"/>
<path d="M35,148.7V145.7l.7-8.1l.8-5.6l.7-.5l.8,.6l.7-2.3l.7-1.7l.8-.9l.7-4.7l.7-3.5l.8-2.2l.7-.4l.8,4.8l.7,.8l.7-.1l.8-.9l.7,.6l.7,1.5l.8,.3l.7,3.8l.8-2.6l.7,3.9l.7-1.3l.8-.8l.7-.8l.7-3.3l.8-2.6l.7,.5l.8-1.3l.7,1.8l.7-4.7l.8,.2l.7-.7l.8-2l.7-7.9l.7-6.7l.8,1.5l.7,4.1l.7,5.2l.8,4.3l.7,7.9l.8,1.3l.7,.6l.7,5.6l.8-.8l.7-.1l.7,1.5l.8-.6l.7-.3l.8-3.1l.7-.1l.7-1l.8-.8l.7,.7l.8-6.3l.7-10.4l.7-18.5l.8-12.8l.7,14.8l.7,15.1l.8,11.5l.7,1.3l.8,5.2l.7-1.9l.7,4.1l.8,4.3l.7-2.6l.7,1.8l.8-.3l.7,2.6l.8,.8l.7-3.7l.7,.1l.8,6.3l.7-6.4l.8-.3l.7,6.8l.7-7.8l.8,5.6l.7,.7l.7,.8l.8,4.5l.7-5.1l.8,3.1l.7-3.7l.7,3.3l.8-7.2l.7,6.5l.7-1.8l.8,1.1l.7,3.3l.8-4.4l.7,4.3l.7-.5l.8-5.5l.7,6.1l.7-2l.8,.4l.7-2.7l.8-1.7l.7,3.2l.7,.4l.8,1.2l.7-2.3l.8-1.2l.7-1.4l.7-.6l.8,.3l.7-4l.7-6l.8-3.8l.7,1.6l.8,5.1l.7,4.8l.7,2.6l.8-.3l.7,4.9l.7,1.4l.8-.8l.7-2.3l.8,2.3l.7-1.4l.7,1.8l.8,2.1l.7-.2l.8-5.4l.7,1.8l.7,1l.8,.2l.7,1l.7-3.2l.8,.4l.7,3.9l.8-3l.7,1.4l.7,1l.8,.7l.7,1l.7,.2l.8-.5l.7,.4l.8-.7l.7-.2l.7-1.5l.8,.4l.7,4.5l.7-6.8l.8,1.4l.7,1.7l.8,.6l.7-4.5l.7-1.1l.8,5.8l.7,1.3l.8-2.2l.7-.9l.7,2.6l.8-1.4l.7-1.1l.7,1.3l.8-.7l.7,1.2l.8-3.2l.7,4.7l.7-1.4l.8-.4l.7,1.6l.7-2l.8-2.8l.7,1.9l.8,1.5l.7-4.5l.7,3.6l.8-.5l.7,3.4l.8-1.6l.7-.7l.7,1.8l.8-1.2l.7,.6l.7-1.4l.8-2.6l.7,4.3l.8-.5l.7,2.4l.7-3.3l.8,3.2l.7-.2l.7-5.1l.8,2.1l.7,1.3l.8,1.9l.7-3l.7,.9l.8,.4l.7,1.8l.7,.2l.8-.8l.7-2.6l.8,1.1l.7,2.2l.7-2.2l.8-2.8l.7,1.2l.8,.5l.7,1l.7,1.9l.8-1.5l.7-2.7l.7,.9l.8-1.8l.7,1.6l.8,3.3l.7,0l.7,.8l.8-.8l.7-4l.7,3.3l.8-1.5l.7,.3l.8,2.3l.7-4.5l.7,3.7l.8-2.2l.7-.9l.8,1.5l.7,2.6l.7-4.2l.8,3.3l.7,.7l.7-1.6l.8-2l.7,.5l.8-.8l.7,3.6l.7,0l.8-.7l.7-3l.7,3.9l.8-.1l.7-1.3l.8-4.1l.7,2.2l.7,3.2l.8,.2l.7-.1l.7,0l.8-3.6l.7-1.5l.8,1.7l.7,1.2l.7-1.8l.8-1.7l.7-3.3l.8-6.9l.7-12.1l.7-5.6l.8,4.5l.7,5.3l.7,8.6l.8,13.9v3H35Z"/>
<path d="M34.5,149.6V146.6l.7-7.9l.8-4.4l.7-2.3l.8,.2l.7-.7l.7-1.4l.8-2.4l.7-3.7l.7-4.2l.8-1.8l.7,0l.8,1.8l.7,1.7l.7,2.7l.8,0l.7-.6l.7-.7l.8,4l.7-.9l.8,2l.7-1.1l.7-.1l.8,.1l.7-.5l.7-3.3l.8-6.1l.7,4.2l.8-1.8l.7,.6l.7-.6l.8-2.2l.7-1.6l.8-1.4l.7-6.6l.7-7.4l.8,2l.7,3.3l.7,4l.8,7.1l.7,4.2l.8,2.2l.7,2.6l.7,5.4l.8,.6l.7-1.4l.7-1l.8-.6l.7,.9l.8-.7l.7-.7l.7-2.7l.8,.7l.7-4.2l.8-4.4l.7-9l.7-17.4l.8-12.9l.7,13.3l.7,16.9l.8,8.3l.7,5.6l.8,5.6l.7-1.9l.7,.1l.8,5.4l.7-.1l.7,4.5l.8-6l.7-2l.8,1.8l.7,4.6l.7-2.5l.8,.1l.7,.1l.8,2.7l.7-1.6l.7,1.2l.8,3.4l.7,0l.7-5.4l.8,3.3l.7-.1l.8-3.3l.7,6.1l.7-4l.8,.3l.7,4.2l.7-1.1l.8-1l.7,4.3l.8,.3l.7-2.3l.7-4.1l.8,3.5l.7-4l.7,7.2l.8-3l.7-1.4l.8-1.6l.7,.7l.7-.7l.8,.6l.7,.7l.8-2.7l.7,.6l.7,1l.8-3.9l.7-3l.7-4.7l.8-4.8l.7,2.1l.8,5.9l.7,5.8l.7,1.8l.8-.9l.7,7.2l.7-2.7l.8-1.3l.7,.3l.8,4.5l.7-2.7l.7-.3l.8-1.8l.7,2.4l.8,1.7l.7-2.5l.7,1l.8,2.9l.7-2.4l.7-.5l.8,.9l.7,.9l.8-.9l.7-.1l.7-1.4l.8,4.1l.7-1.3l.7-2.4l.8,2.3l.7,1.2l.8,.7l.7,.5l.7-1l.8-1.9l.7-1.5l.7,1.1l.8,0l.7-.9l.8,1.5l.7,2.7l.7-3l.8-.1l.7-4.2l.8,4.6l.7-4.5l.7,4.9l.8,2.7l.7-2.3l.7,0l.8-.3l.7,.5l.8-5.8l.7,4.5l.7,1.1l.8-.3l.7,.1l.7-2.4l.8,2.4l.7-2.1l.8,4.3l.7-2.7l.7,.8l.8-.6l.7,3.1l.8-1.2l.7,1.7l.7-4l.8-1.7l.7,2.8l.7,3.1l.8-2.3l.7-3.1l.8,4.9l.7-1.7l.7-1l.8,1.4l.7-1.6l.7-.3l.8,.1l.7-1.1l.8-.3l.7,4.2l.7,.4l.8-1.7l.7-.7l.7-.1l.8,2.9l.7-.4l.8-5.8l.7,3.5l.7-.4l.8-3l.7,4.3l.8-.9l.7,1l.7-.2l.8-3.2l.7,3.3l.7,.8l.8,.4l.7-.2l.8-3.6l.7,3.8l.7-.1l.8-.8l.7,.3l.7-1.6l.8,.8l.7-.3l.8-2l.7,3.3l.7-2.8l.8,2l.7-2l.8-2l.7,5.8l.7-3.6l.8,3.2l.7-1.7l.7-.9l.8,2.2l.7,.3l.8-1.2l.7,0l.7-1.1l.8,.7l.7,.4l.7-2.7l.8,1.3l.7,1.9l.8-.6l.7-2.7l.7-2.3l.8,4.8l.7,.6l.7-4l.8,2.6l.7-.3l.8,2.8l.7-3.2l.7-2.2l.8-2.9l.7-2.3l.8-6.3l.7-11.9l.7-6.1l.8,5l.7,6.5l.7,5.6l.8,16.3v3H34.5Z"/>
<path d="M34.1,150V147l.7-7.6l.8-3l.7-3.8l.8,.7l.7,.8l.7-3.5l.8-2.8l.7-2.5l.7-5.2l.8-2.9l.7,1l.8,2.8l.7,1l.7,1.6l.8-1.1l.7,.7l.7,.9l.8,3.1l.7,1.8l.8-1.2l.7,.5l.7,0l.8-.6l.7-1.9l.7-5.4l.8,1.4l.7-2.5l.8,2.9l.7-4l.7,.9l.8-1.9l.7-1l.8-1.8l.7-6.8l.7-5.6l.8,.8l.7,3.4l.7,4.4l.8,5.9l.7,7.5l.8,.2l.7,4.9l.7-1.8l.8,1.5l.7,2.8l.7,.6l.8-1.6l.7-1.3l.8-1.8l.7-1.1l.7,4.7l.8-3.9l.7-2.4l.8-5.9l.7-10.3l.7-18.3l.8-11.1l.7,13.1l.7,15.3l.8,9.9l.7,4l.8,5.1l.7,1l.7-.1l.8,2.6l.7,2.3l.7,5.5l.8-4.6l.7-.2l.8,.1l.7-2.2l.7-.2l.8,2.3l.7-1.6l.8,5.6l.7-1.5l.7,2.3l.8,.5l.7-3.1l.7-.3l.8-1.1l.7,1.5l.8,.3l.7,2l.7,.8l.8-3.4l.7,.6l.7-1.8l.8,3.6l.7-3l.8-2l.7,.4l.7,7.1l.8-3.4l.7,4l.7-3.9l.8,2.1l.7-2.9l.8,3.2l.7-.5l.7,2.6l.8-5.2l.7,3.5l.8-3.7l.7-1.5l.7,.9l.8-2.9l.7-2.8l.7-5.5l.8-3.7l.7,1.6l.8,4.2l.7,6.9l.7,1.4l.8,2l.7-.1l.7,.6l.8,.4l.7,3.8l.8-2.7l.7,3.3l.7-3.6l.8,2.4l.7-1.5l.8,3.3l.7-1.5l.7-3l.8,2.3l.7,2.8l.7-2.7l.8-1.4l.7-1.6l.8,2.8l.7,1.6l.7-1.5l.8,6l.7-6.3l.7-2.2l.8,4.4l.7,2l.8-.9l.7-.1l.7,.8l.8-4.6l.7,1.3l.7,2.7l.8-2.7l.7-.8l.8,2.9l.7,.8l.7-2l.8,.3l.7,1.2l.8-4l.7,6.1l.7,.9l.8-4.1l.7-.7l.7,2.7l.8,1.2l.7-2.5l.8-.6l.7,3.1l.7-1.7l.8,1.1l.7-2l.7,2.9l.8-1.6l.7-.3l.8,.2l.7,2l.7-3.2l.8-1.8l.7-.2l.8,1.7l.7,1l.7-.7l.8-3l.7,6.3l.7-1.9l.8-1.5l.7,2.6l.8-.4l.7,.3l.7-3.6l.8,2.5l.7,.7l.7-1.2l.8,2.4l.7-1.4l.8-3.1l.7,.1l.7,4.5l.8,.1l.7-1.1l.7-1.6l.8-.4l.7,2.3l.8-.1l.7,.5l.7-4.6l.8-.4l.7,5.8l.8-3.4l.7-3.1l.7,2.2l.8,2.6l.7-.8l.7,.6l.8,.8l.7-2.8l.8,1.5l.7-1.1l.7,1.6l.8,.2l.7-.6l.7-.8l.8,1.5l.7-.5l.8,1l.7-.1l.7-.5l.8-1.9l.7,2.2l.8-.3l.7-1.9l.7,3.1l.8-.9l.7,.3l.7-.4l.8,1l.7-2.5l.8,2.2l.7-3.5l.7,3.1l.8-1l.7-1.3l.7-2l.8,2.1l.7,1.7l.8,1.6l.7-2.9l.7,2.8l.8-4.1l.7-4.6l.7,6.2l.8-3.1l.7,2.7l.8,.8l.7-1.3l.7-2.1l.8-3l.7-2l.8-6.8l.7-13.1l.7-5.1l.8,3.4l.7,8.6l.7,7.4l.8,14.3v3H34.1Z"/>
<path d="M33.6,150.3V147.3l.7-7l.8-4.5l.7-1.7l.8-2.7l.7-.1l.7-.5l.8-2.5l.7-2.4l.7-3.9l.8-3.6l.7,.9l.8,2.7l.7,1.8l.7,.5l.8-1.1l.7,1.3l.7,.7l.8,1.5l.7-.8l.8,2.7l.7,3.4l.7-4l.8,1.3l.7-3.4l.7-1.9l.8-.9l.7,1.1l.8-3.3l.7,.9l.7-4.2l.8,2.2l.7-.8l.8-3.3l.7-7.6l.7-6.9l.8,1.5l.7,5.8l.7,2.8l.8,7.3l.7,3.5l.8,1.6l.7,4.2l.7,3.3l.8-.7l.7,.2l.7,3l.8-2.8l.7-.2l.8,1.6l.7-5.2l.7,1.7l.8-1.2l.7-4l.8-4.1l.7-9.3l.7-19l.8-13l.7,14l.7,17.7l.8,6.5l.7,6.5l.8,4.3l.7,2.4l.7,3.9l.8-.8l.7,.2l.7-3l.8,4.2l.7,1.2l.8-2.9l.7,.4l.7-2.4l.8,4.9l.7-3.4l.8,4.5l.7-.5l.7-2.6l.8,3.8l.7-1.9l.7,2.4l.8-2.7l.7,1.6l.8-.2l.7-2.4l.7,6.3l.8-4l.7,1.3l.7,2.9l.8-2.1l.7-.8l.8,3.3l.7-1.3l.7-3.8l.8,3.6l.7,2.2l.7-8.2l.8,1.6l.7,4.7l.8-1.9l.7,1.4l.7-1.5l.8-.7l.7-2.9l.8,1.9l.7-2.2l.7,1.6l.8-.9l.7-4.5l.7-4.8l.8-3.2l.7-.7l.8,7.1l.7,2.2l.7,6.4l.8,.6l.7-2.3l.7,4.7l.8-.9l.7-2.3l.8,5l.7-3.5l.7,1.6l.8,2.3l.7-1.6l.8-1.1l.7-2.6l.7-1.1l.8,4.6l.7,1.9l.7-1.8l.8,.3l.7,3l.8,.7l.7-1.1l.7-1.5l.8,0l.7-1.7l.7,2.3l.8-.4l.7-2.8l.8,5.4l.7,1.3l.7-7l.8,.9l.7,4l.7-4.5l.8,2.1l.7,2.3l.8-5.1l.7,7.1l.7-1.7l.8-1.9l.7-1.4l.8,1.5l.7-1.8l.7,4.5l.8-1.8l.7-3.6l.7,3.8l.8,.6l.7,.1l.8-1.3l.7,.6l.7,1.7l.8,1.3l.7-6.8l.7,.6l.8,3.1l.7-2.2l.8,3.6l.7-2.9l.7-.8l.8,3.2l.7-.4l.8-1.1l.7-1.8l.7,3.5l.8-2.5l.7,1.6l.7,1.3l.8-3.7l.7-.8l.8,6l.7-3.1l.7,1.2l.8,1.9l.7-2.8l.7,.4l.8,1.2l.7,1.3l.8-4.2l.7-.7l.7,2.3l.8,.8l.7-2l.7-2.2l.8,3.9l.7,1.1l.8,.9l.7-1.8l.7,.6l.8-.1l.7-.6l.8-1.6l.7-1.8l.7,2.5l.8,1.4l.7,.8l.7-.5l.8-3.8l.7,4l.8-.5l.7,.6l.7-1.7l.8,1.1l.7,1.6l.7-2.7l.8-4.2l.7,5.8l.8-.2l.7-1.7l.7,2.8l.8-.9l.7-4l.8,3.9l.7-.9l.7,2.1l.8-.9l.7-.2l.7-.4l.8,.9l.7,0l.8-2l.7,.3l.7-3.2l.8,5.3l.7-.3l.7-2.3l.8,1.7l.7-2.2l.8,2.9l.7-1.4l.7-4.4l.8,5l.7-2.5l.7-2.3l.8,4.2l.7,1.8l.8-4.1l.7-.6l.7-1l.8-.1l.7-4.5l.8-8.6l.7-9.4l.7-8.7l.8,7.2l.7,7.2l.7,6.9l.8,13.8v3H33.6Z"/>
<path d="M33.1,151.2V148.2l.7-7.2l.8-6.3l.7-1l.8-2.5l.7,.9l.7-.1l.8-3.4l.7-3.5l.7-2.2l.8-3.5l.7,.2l.8,3.1l.7,3.4l.7,1l.8-3.4l.7,.2l.7,1.1l.8,2.3l.7,.5l.8,1.2l.7,3l.7-1.1l.8-1.4l.7-2.4l.7-3.5l.8,.3l.7-1l.8,1.2l.7-3.7l.7,.3l.8-1.4l.7-1.6l.8-1.8l.7-5.7l.7-6.5l.8,.2l.7,5.1l.7,3.1l.8,7.1l.7,2.6l.8,4.9l.7,2.2l.7,1.5l.8,1l.7,1l.7,1.2l.8-2.3l.7,2l.8-1.8l.7-1l.7-.2l.8-1.2l.7-3.3l.8-4.4l.7-10.1l.7-18l.8-13.4l.7,13.5l.7,16l.8,11.6l.7,2.6l.8,1.3l.7,6.3l.7-.2l.8,1.1l.7-.3l.7,1.5l.8,2.2l.7-4.5l.8,7.2l.7-8.3l.7,1.6l.8,2.5l.7-.8l.8,9.8l.7-8.7l.7,3.4l.8,0l.7,2.5l.7-1l.8-3.9l.7-1.8l.8,5.9l.7-1.3l.7,2l.8,.8l.7-1l.7-5.3l.8,2.7l.7,1.6l.8,1.3l.7-.1l.7-4.4l.8,3.1l.7-.2l.7-.3l.8,3l.7-3.2l.8,2.1l.7-.9l.7-.1l.8,.2l.7,1l.8-.3l.7-2.6l.7-2.1l.8-2.6l.7-1l.7-5.8l.8-5l.7,2l.8,6.1l.7,3.4l.7,1.8l.8,5.5l.7,.1l.7-1.7l.8,.9l.7-1.6l.8,3.5l.7,1l.7-2.2l.8,.2l.7,.5l.8,2.4l.7,0l.7-.5l.8,1.4l.7-2.4l.7,.7l.8-3.1l.7,2.7l.8-.7l.7,3.9l.7-2.8l.8,3.2l.7-3.6l.7-.4l.8,3.3l.7-3.9l.8,.3l.7,5.6l.7-.5l.8-5.7l.7,3.6l.7-3.7l.8,4.1l.7,1.8l.8-2.6l.7,2.9l.7-3.2l.8-4.4l.7,4.6l.8,3.8l.7-3.6l.7-2.5l.8,4.5l.7-5.8l.7,6.7l.8-2.6l.7-1.8l.8,3l.7,1l.7-2.2l.8,.7l.7-3.4l.7,3.3l.8-.3l.7,1.4l.8-.8l.7-2l.7-2l.8,1.3l.7,4.7l.8-3.5l.7,1.9l.7,.2l.8-2.1l.7-2.1l.7,1.6l.8-1.2l.7-.6l.8,5.7l.7-2.2l.7-1.3l.8,2.7l.7-3.9l.7,4.9l.8-.3l.7,0l.8,.1l.7-2l.7,.4l.8,.9l.7-1.1l.7,.9l.8-5.6l.7,7.1l.8-1.9l.7-2.4l.7,4.1l.8-2.5l.7,2.6l.8-2.4l.7,1.3l.7-.9l.8-2l.7,3.7l.7-1.1l.8-.6l.7-1.2l.8,0l.7,1.8l.7,.9l.8,0l.7-.4l.7-.5l.8-1.1l.7,1.7l.8-.4l.7-.5l.7-.8l.8-1.3l.7-.4l.8,3.7l.7,.4l.7-1.1l.8-2.1l.7-2l.7,4.9l.8-2.6l.7,.3l.8,2.5l.7-3.3l.7-1.7l.8,.1l.7,3.8l.7,1.2l.8-.8l.7-2l.8,.7l.7-1.6l.7-.4l.8,3.7l.7-6.1l.7,2l.8,2l.7-1.1l.8,.2l.7,.6l.7-2.5l.8-1.3l.7-4.2l.8-6.1l.7-10.6l.7-6.7l.8,3.6l.7,8.4l.7,6.2l.8,14.5v3H33.1Z"/>
<path d="M32.7,151.6V148.6l.7-6.7l.8-6.4l.7,.8l.8-2.1l.7,.8l.7-3.1l.8-3.6l.7-1.1l.7-4l.8-2.4l.7-.1l.8,3.5l.7,1.1l.7,1.2l.8,1.2l.7-3.5l.7,.6l.8,3.9l.7,1.3l.8,3l.7-3.9l.7,1.7l.8-4.8l.7-.4l.7-.7l.8-3.7l.7,1.6l.8,2.2l.7-2.4l.7-1.1l.8-2.1l.7,.2l.8-2.4l.7-6.8l.7-6.2l.8-.9l.7,6.3l.7,4.2l.8,3.4l.7,8.5l.8,2.1l.7,.8l.7-.1l.8,5.3l.7-1.5l.7,1l.8-.1l.7,1.1l.8-3.4l.7-2.5l.7-1.2l.8,2l.7-2.7l.8-5.2l.7-9.6l.7-18.2l.8-13.2l.7,13.6l.7,16l.8,9.3l.7,5l.8,2.6l.7,5.1l.7,.5l.8,4.4l.7-1.7l.7,2.7l.8-4.3l.7-3.3l.8,4.8l.7,1.1l.7-2.4l.8,2.2l.7-2.5l.8,5.1l.7-5.2l.7-.1l.8,4.3l.7,2.5l.7-2.8l.8,3.4l.7-2.7l.8,1.1l.7-3.1l.7,1.5l.8,4.3l.7-2.5l.7,1.5l.8-4.3l.7,.7l.8,2.7l.7-.5l.7,2.6l.8,.5l.7-3.1l.7-.5l.8,2.8l.7-5.1l.8,2.4l.7-2.5l.7,6.3l.8-2.5l.7-1.9l.8-.7l.7-.1l.7,.5l.8-2.8l.7-2.4l.7-6.9l.8-3.6l.7,1l.8,5l.7,3.6l.7,3l.8,3l.7,4.9l.7-2.6l.8,2.1l.7-3.4l.8,5.7l.7-3l.7,4.8l.8-3.9l.7,.4l.8-.5l.7-1.2l.7,1.4l.8-2.3l.7,1.5l.7,2.4l.8,.9l.7-5l.8,1.1l.7,2.7l.7,2.2l.8-1.5l.7-.5l.7-2.1l.8,.6l.7-1.1l.8-.2l.7,3.6l.7,.5l.8-1.2l.7,1l.7-3l.8-1.5l.7,1.8l.8,2.9l.7-4.5l.7-1.4l.8,1.7l.7,.4l.8,4l.7-3.3l.7,.3l.8,2.2l.7-2.9l.7,5.3l.8-6.6l.7,5.4l.8-2.2l.7,1.1l.7-.4l.8-1.2l.7,1.4l.7-2.9l.8,5.6l.7-5.7l.8-.7l.7,4.4l.7,1.4l.8-1.8l.7-1.1l.8,.3l.7-1.7l.7,3.9l.8-3.9l.7,4.7l.7-.4l.8-1.4l.7-.5l.8,.6l.7,.9l.7-1.2l.8,1.2l.7-2.5l.7,.1l.8,2.7l.7,.5l.8-1.4l.7-5l.7,2.1l.8,4.1l.7,.3l.7,.3l.8-7.2l.7,7.1l.8-2.5l.7-2.8l.7,2.2l.8,2.9l.7,.2l.8-3.6l.7,0l.7,2.2l.8-.6l.7-2.4l.7,2.1l.8-2l.7,.5l.8,1.5l.7-3.2l.7,4.8l.8-2.7l.7,3.3l.7-4.2l.8,2.7l.7,1.1l.8,.7l.7-6.1l.7,3.6l.8-3.4l.7,2.6l.8,2.2l.7-.7l.7-.9l.8,2.1l.7-3.3l.7,.5l.8,1.9l.7,.7l.8,.7l.7-7.2l.7,2.1l.8,3.2l.7-1l.7,.7l.8-.2l.7,.8l.8-.1l.7-.2l.7,1.3l.8-.3l.7-5.5l.7,1.5l.8-.8l.7-1.4l.8,4.2l.7-1.1l.7-1.6l.8-1.6l.7-2.9l.8-6.3l.7-13.5l.7-6.4l.8,6.4l.7,7.6l.7,5.8l.8,14.9v3H32.7Z"/>
<path d="M32.2,152.3V149.3l.7-6.1l.8-7.7l.7,.9l.8-1.8l.7-.3l.7-1.5l.8-4.1l.7-3.3l.7-.7l.8-4.9l.7,.9l.8,3.2l.7,.6l.7,3.7l.8-2.3l.7,1.3l.7,2.6l.8-.6l.7,2.3l.8,2.8l.7-.7l.7-3.3l.8-2.8l.7,.5l.7-.4l.8-5.7l.7,.2l.8,2l.7,.9l.7-3.6l.8,3l.7-3.6l.8-3.9l.7-5.2l.7-6.9l.8,1l.7,4.3l.7,5.8l.8,5.6l.7,3.6l.8,2.6l.7,1.1l.7,4.1l.8-.4l.7,1.7l.7-.5l.8,1.7l.7-1.6l.8-.1l.7-3.3l.7-2.4l.8,2.6l.7-2.4l.8-6.3l.7-9.1l.7-20l.8-11.8l.7,14.1l.7,17.1l.8,8l.7,6.7l.8,4.2l.7,.2l.7,3.1l.8,1.2l.7-.6l.7,3.3l.8-2.7l.7,.5l.8-2.1l.7,.8l.7-.4l.8,3.6l.7-1.2l.8-1.8l.7-.8l.7,4.4l.8-1l.7-1.8l.7,0l.8,1.5l.7,2.7l.8,1.3l.7-.5l.7,.8l.8-1.4l.7,1l.7-1l.8,0l.7-1.3l.8,4.4l.7-2.6l.7,1.5l.8-.9l.7,.7l.7,.4l.8-3.7l.7,2.7l.8-2.2l.7-.3l.7,2.7l.8-4.6l.7,3.3l.8,3.2l.7-2.2l.7-4l.8-1.4l.7-3.4l.7-6.8l.8-3.9l.7,1.7l.8,6.5l.7,3.7l.7,3.1l.8,1.4l.7,3.1l.7-.4l.8,3l.7-2.2l.8-.7l.7,.4l.7-.6l.8,1.5l.7-2.3l.8,3.7l.7,1.6l.7-1.9l.8-5.1l.7,.9l.7,3.4l.8,4l.7-4.9l.8,1.2l.7,.6l.7-2.3l.8,3.1l.7,.1l.7-.7l.8-1.4l.7,3l.8-2.4l.7,1.4l.7,2.5l.8-6l.7-.6l.7,6.3l.8-5.9l.7,2.2l.8-1l.7,6.2l.7-3.4l.8,1.1l.7-.1l.8-1.2l.7-2.8l.7,2.4l.8,3.6l.7,.3l.7-7.1l.8,2l.7,5.5l.8-3.6l.7,.6l.7-3l.8,2.8l.7,1.7l.7-3.7l.8,1.4l.7,.8l.8,.5l.7-3.4l.7,2.8l.8,.9l.7-.7l.8-.4l.7,3.1l.7,.3l.8-5.2l.7,1.1l.7-.1l.8,.2l.7,2l.8-4.8l.7,5.2l.7-5.2l.8,4.3l.7,.9l.7-.1l.8-2.2l.7,3.1l.8-5.2l.7,4.6l.7-5.1l.8,2.4l.7,2.1l.7,1.8l.8-3.7l.7,1.1l.8,0l.7,.3l.7,.7l.8-.6l.7,.5l.8,.5l.7-4.3l.7,4.8l.8,.4l.7-3.1l.7-1.5l.8-1.6l.7,6.3l.8-.6l.7-2.3l.7,.5l.8,1l.7-3.1l.7,4.3l.8-2.5l.7,2.2l.8-2.5l.7-1.7l.7,5l.8-4.8l.7-.5l.8,3.2l.7,.2l.7,1l.8,.2l.7-4.3l.7-.7l.8,3.8l.7,1.7l.8-1.6l.7,1.3l.7,.2l.8-1.2l.7,.5l.7-1.2l.8,.8l.7,1.5l.8-2.5l.7,.7l.7,1l.8-5.6l.7,5.1l.7-1.2l.8-1.2l.7,1.4l.8,1.3l.7-3l.7-.7l.8-2.3l.7-3.6l.8-7.5l.7-9.6l.7-7.7l.8,4.6l.7,8l.7,6l.8,15.3v3H32.2Z"/>
<path d="M31.7,152.5V149.5l.7-7.1l.8-4.7l.7-1.5l.8-2.3l.7-1.1l.7,.5l.8-.6l.7-6l.7-2.6l.8-2.7l.7,.1l.8,3.7l.7-.3l.7,1.7l.8-2.3l.7,4l.7,1.1l.8,2.7l.7-2.8l.8,3.2l.7-1.1l.7,1.2l.8-.1l.7-2l.7-3.7l.8-1.6l.7-.6l.8,0l.7,0l.7-2.5l.8,.6l.7-.3l.8-3.5l.7-6.4l.7-7.2l.8,2l.7,4.7l.7,.8l.8,7.9l.7,3.2l.8,5.7l.7,1.5l.7,1.3l.8,1.4l.7-.7l.7,.8l.8-1.5l.7,1.2l.8-2.2l.7-.2l.7-3.5l.8,3.3l.7-2l.8-5.9l.7-10.5l.7-17.9l.8-12.6l.7,13.9l.7,16l.8,7.4l.7,7l.8,3.4l.7,.9l.7,.7l.8,.4l.7,1.9l.7,3.2l.8-2.7l.7,6l.8-5.3l.7-3.1l.7,1.5l.8-3.2l.7,6.7l.8-.7l.7,1.3l.7-1.6l.8-.2l.7,3l.7-1.1l.8,.8l.7,.7l.8,3.5l.7-3.2l.7-1.3l.8,3.3l.7,2.4l.7-5.6l.8-1.3l.7,4.2l.8-2.8l.7,5.4l.7-5.8l.8,3.6l.7-3.3l.7,5.3l.8-3.3l.7,2l.8,2.4l.7-.7l.7-4.3l.8,2l.7-2.8l.8,.3l.7-1.3l.7,.6l.8-1.8l.7-3.9l.7-5.7l.8-3.8l.7,.9l.8,6l.7,4.5l.7,1.1l.8,2.1l.7,5.3l.7-.2l.8-5.3l.7,1.3l.8,2.8l.7,2.4l.7,.2l.8-2.3l.7-1.8l.8,3.9l.7-2.4l.7,.4l.8,2.8l.7-3.5l.7,6.3l.8-3.7l.7,.9l.8-4.8l.7,4.8l.7,1.8l.8-1.2l.7,2.6l.7-5l.8,3.9l.7-3.8l.8,.6l.7-.1l.7,.3l.8-.6l.7-1l.7,4.5l.8-3.6l.7,4.4l.8-2.5l.7,2l.7-5.4l.8,2l.7,1.9l.8-.3l.7,1.6l.7-3.6l.8,3.3l.7-3.1l.7-1.5l.8,6.1l.7-7.1l.8,2l.7-1l.7,5l.8,1.7l.7-2.8l.7-.1l.8-.9l.7,2.9l.8-7.8l.7,3.8l.7,.6l.8,.4l.7,3l.8-4l.7,3l.7,1.4l.8-.5l.7-1.5l.7-3.6l.8-.4l.7,5.6l.8-4.1l.7,2l.7-1.6l.8,1.7l.7,1.3l.7,1.4l.8-3.7l.7,3.1l.8-.2l.7-3.2l.7-3.2l.8,1.2l.7,4.9l.7-5.2l.8,5.1l.7-2.6l.8,1.1l.7,1.1l.7-1.2l.8,2.6l.7,.1l.8-1.1l.7,1.1l.7-.3l.8-.1l.7-1.5l.7,.5l.8-.9l.7,.8l.8,1.1l.7-.4l.7-2.4l.8,1.7l.7-.1l.7,.8l.8-1.5l.7-.3l.8-3.2l.7,4.7l.7-2.2l.8,2.4l.7-.1l.8,1.2l.7-2.8l.7-.4l.8,2.2l.7,.9l.7-1.8l.8-2.9l.7,4.8l.8-2l.7-2.8l.7-.7l.8,1.8l.7,2.5l.7-1.6l.8,.8l.7,1.8l.8,0l.7-2.3l.7,1.3l.8,1.3l.7-.3l.7-4.2l.8,3.6l.7-1.2l.8,.5l.7-2.8l.7-1.6l.8-3l.7-2.5l.8-6l.7-11l.7-8.5l.8,7.8l.7,4.8l.7,7.7l.8,15v3H31.7Z"/>
<path d="M31.2,152.9V149.9l.7-7.5l.8-7.5l.7,1.5l.8-.2l.7-.1l.7-3.1l.8-1.7l.7-3.1l.7-3.3l.8-2.5l.7-.5l.8,3l.7,2.4l.7,1.1l.8-1.6l.7-.8l.7,3l.8,.7l.7,1.9l.8-2.1l.7,1.7l.7,.7l.8-2.8l.7-.7l.7-1.7l.8-.9l.7,0l.8-1.4l.7,.6l.7-2.9l.8-.3l.7-2.3l.8-1.5l.7-6.7l.7-5.1l.8,2.2l.7,3.9l.7,3.7l.8,5.8l.7,3l.8,2.2l.7,3.3l.7,3.7l.8-2.2l.7,1l.7,2.8l.8-1.2l.7-3.9l.8,1.5l.7-3l.7,1.1l.8-.4l.7-1.6l.8-2.3l.7-14.2l.7-17.5l.8-12.1l.7,13.6l.7,16.3l.8,9.6l.7,5.3l.8,2.8l.7,2.4l.7,2.4l.8,.9l.7-1.7l.7,4.5l.8,0l.7-3.8l.8,.8l.7,.9l.7,.8l.8,2.5l.7-5.9l.8,5.1l.7,.8l.7-2.8l.8,5.1l.7,.5l.7-2.1l.8-2.3l.7,.2l.8,3l.7-3.2l.7,2.1l.8-.2l.7,2l.7,.1l.8,.1l.7-.2l.8-4.3l.7,3.4l.7,.4l.8,3.7l.7-3.2l.7-.3l.8,.4l.7,1.3l.8,1.5l.7-3l.7-.2l.8-1.2l.7,1.4l.8-1.1l.7,.3l.7-1.1l.8-3.7l.7-2.1l.7-7.1l.8-3.9l.7,2.3l.8,5.1l.7,2.9l.7,5.4l.8,1.1l.7,1.4l.7,3.4l.8-3.4l.7,.4l.8-1.6l.7,3.4l.7,.2l.8-2.4l.7,3.8l.8,1l.7-3.7l.7,2.6l.8,0l.7-1.9l.7,2.9l.8-5.4l.7,6l.8-1.9l.7,1.7l.7-1.7l.8,.6l.7-1.9l.7,2l.8-2.1l.7-1.3l.8,4.2l.7-3.7l.7,4.1l.8-3.4l.7,.3l.7,.3l.8,3.4l.7-1.6l.8,.2l.7,.8l.7,.3l.8-1.5l.7-.5l.8,2.2l.7-2.5l.7,2.9l.8,1.1l.7-3.6l.7-4.3l.8,2.7l.7,1.1l.8,.8l.7-1.6l.7,.3l.8,5.2l.7-1l.7-1.2l.8-1.1l.7,0l.8-.2l.7,2.3l.7-4.1l.8,4l.7-2.5l.8,1.5l.7-.8l.7,2l.8-1.5l.7,1.8l.7-1.7l.8-.8l.7,2.8l.8-4.2l.7,1l.7,2l.8,0l.7,.2l.7,.2l.8-3.5l.7,3.5l.8-2.5l.7,1.7l.7,.5l.8-3.1l.7,2l.7-1.7l.8,3.2l.7-4.7l.8,4.8l.7-5.1l.7,3.2l.8,2.7l.7-2.3l.8-2.3l.7,2l.7,1.3l.8-2.1l.7,3.7l.7-.3l.8-2l.7-1.1l.8,1.8l.7-.8l.7-3.4l.8,2.2l.7-.6l.7,0l.8,2.4l.7-2.9l.8,2.4l.7,2.2l.7-1.6l.8-.2l.7-.9l.8-1.4l.7,3l.7-1.7l.8,.9l.7-.7l.7-1.9l.8,2.9l.7,0l.8-2.8l.7,3.1l.7-.4l.8,.3l.7-2.5l.7,.2l.8,1.2l.7,1.4l.8-1.2l.7,.5l.7,.3l.8-.7l.7,.4l.7,1.5l.8-1.2l.7-2.9l.8,4.3l.7-4l.7-1.2l.8-1.4l.7-3.9l.8-7.1l.7-11.7l.7-7.6l.8,6.7l.7,6.9l.7,7.3l.8,14.5v3H31.2Z"/>
<path d="M30.8,153.9V150.9l.7-6.4l.8-8.1l.7,1l.8-1l.7-2.6l.7,.6l.8-1.9l.7-4.6l.7-2.3l.8-2.4l.7,.1l.8,2l.7,1.5l.7,2.5l.8-.3l.7-1.1l.7,1.4l.8,2.8l.7,1.3l.8,2.1l.7-3.2l.7,1.1l.8,1.5l.7-5.1l.7-.9l.8-.9l.7-3.4l.8,.3l.7,0l.7-4.2l.8,3.1l.7,0l.8-4.3l.7-5.9l.7-6.4l.8,1.4l.7,5.2l.7,4l.8,3l.7,6.2l.8,3.3l.7,.7l.7,3.8l.8-1l.7,3.6l.7-1.8l.8,.5l.7-2.5l.8-1.5l.7-.6l.7-.7l.8,2.2l.7-3.6l.8-6l.7-11.5l.7-17.3l.8-12.3l.7,14.8l.7,17.3l.8,9.5l.7,3.7l.8,4.3l.7-1.3l.7,4.5l.8,3.6l.7-.1l.7-4.8l.8,1.9l.7,.7l.8,2.2l.7-.4l.7-4.7l.8,1.1l.7,1.4l.8,4.6l.7-3.6l.7-1.7l.8,5.5l.7,3.1l.7-1.1l.8-1.9l.7,3.1l.8-3.7l.7,1.5l.7-1.7l.8,2.4l.7-1.2l.7-1l.8-2.3l.7-.2l.8,3.5l.7,2.6l.7,2.4l.8-3.1l.7,1.6l.7-3.1l.8-.6l.7-1.3l.8,5.3l.7-4.3l.7-3.5l.8,6.2l.7,.6l.8-3.2l.7,.8l.7-1.7l.8-3.3l.7-3.5l.7-5.4l.8-3l.7,.1l.8,6.6l.7,4l.7,1.8l.8,2.7l.7-1.8l.7,4.5l.8,1.7l.7,1.4l.8-5.7l.7,3l.7,1.9l.8-.1l.7-4l.8,2.7l.7-1.6l.7,1.4l.8-1.8l.7,2.6l.7-4.7l.8,4.1l.7,1.3l.8,.9l.7-6.1l.7,5.2l.8-1.5l.7,5.3l.7,.6l.8-4.5l.7,.9l.8,3.9l.7-3.9l.7-1l.8,3.8l.7-3.4l.7-1.7l.8,3.8l.7-1.5l.8-.4l.7-2l.7-2.1l.8,1.5l.7,3.2l.8-2.2l.7,3.4l.7-3.1l.8,4.4l.7-.4l.7-3l.8-.2l.7,1l.8-2.6l.7,1.8l.7,1.4l.8,.1l.7,.5l.7-.8l.8,1.9l.7-.3l.8-.1l.7-.3l.7-3.5l.8,4.5l.7-1.5l.8,2.3l.7-1.7l.7-.9l.8,3l.7-1.3l.7-1.4l.8,3l.7-1.4l.8-1.2l.7-.6l.7-.5l.8,3l.7-4.9l.7,.8l.8,1.3l.7,1.7l.8-.1l.7-5.5l.7,1l.8,3.9l.7,1.3l.7-3.5l.8,2.6l.7-1.5l.8-2.9l.7,5.6l.7-2.3l.8-.1l.7,2l.8-.8l.7-2.9l.7,3.5l.8-.3l.7-1.6l.7,.4l.8,1l.7,.8l.8-3.1l.7,.8l.7,1.4l.8,1.7l.7-.4l.7-.6l.8,1.1l.7-.4l.8,.1l.7,0l.7-2.5l.8,1.8l.7-.6l.8-.9l.7,2.3l.7,.6l.8-1.3l.7,.4l.7-2.5l.8-1l.7,0l.8,.4l.7,1.3l.7,1.9l.8,0l.7-.5l.7-.3l.8,1.5l.7-2.7l.8-1.1l.7,2.9l.7-.5l.8,0l.7-4.1l.7,5.3l.8-4.6l.7,3.3l.8-1.8l.7-.9l.7-1.1l.8-2.3l.7-2.6l.8-6.2l.7-11.3l.7-7.2l.8,3.2l.7,8.6l.7,5.4l.8,16.2v3H30.8Z"/>
<path d="M30.3,154.4V151.4l.7-8.1l.8-5.4l.7,.7l.8,.7l.7-3.7l.7-1.2l.8-2.5l.7-2l.7-5l.8-1.7l.7,1.4l.8,2.7l.7,.5l.7,1l.8-.5l.7-.3l.7,4.7l.8,1l.7-1.5l.8,2l.7-.9l.7,3.3l.8-4.4l.7,.3l.7-2.9l.8-2l.7,1.6l.8-.4l.7-2.3l.7-3l.8,1.4l.7-.8l.8-3.2l.7-6l.7-6.4l.8,.8l.7,4.3l.7,3.1l.8,6.1l.7,3.8l.8,2.8l.7,4.9l.7-2.6l.8,5.1l.7-.6l.7-.8l.8,2.8l.7-1.9l.8-3.1l.7-2.2l.7-2l.8,.9l.7-.2l.8-6.3l.7-9.2l.7-18.1l.8-12.3l.7,13.6l.7,16.8l.8,9.4l.7,5.1l.8,3.7l.7,.5l.7-1.2l.8,3.1l.7,3l.7-2.7l.8,3.1l.7,.2l.8,1l.7-2.4l.7-.6l.8,2l.7,1.3l.8,1l.7-2.4l.7,.4l.8,2.5l.7-2.3l.7,4l.8-.4l.7-2.9l.8,1.3l.7,3.4l.7-1.2l.8-2.1l.7,3.9l.7-3.4l.8,2.5l.7-3l.8,3.9l.7-2.2l.7,.3l.8,1.3l.7-.6l.7-2.3l.8-2.2l.7,1.9l.8,2.2l.7-1.4l.7-.6l.8,1.8l.7-2.8l.8-.5l.7-.4l.7,1.1l.8-4.3l.7-2.8l.7-3.6l.8-6.1l.7,2.5l.8,5.7l.7,5.7l.7-.2l.8,3.1l.7,2.7l.7-1.4l.8,2.7l.7,1.2l.8-1l.7-.7l.7-2.1l.8,2.3l.7-1.4l.8-.2l.7,2.4l.7,.3l.8,1.7l.7,1.1l.7-2.8l.8-2.7l.7,1.4l.8,5.1l.7-3.8l.7-1.1l.8,.7l.7,0l.7-.7l.8-1.1l.7,5.6l.8-2.8l.7-1.8l.7,2.2l.8-4.7l.7,1.3l.7,2.7l.8-1.3l.7,2.5l.8-1l.7,2.5l.7-1l.8-2.6l.7,.8l.8-1.1l.7-2.2l.7,4l.8-1.1l.7,5l.7-2.2l.8-3.6l.7,1.3l.8,.9l.7-1.3l.7,1.7l.8,.4l.7,2.7l.7-2.4l.8-4.6l.7,5l.8,1.8l.7-3.6l.7-1.6l.8-2l.7,5.9l.8-1l.7-.6l.7-1.1l.8,1.4l.7,3.2l.7-4.9l.8,.5l.7,2.6l.8,.9l.7-.3l.7-2.8l.8,2.3l.7,1.2l.7,.2l.8-3.6l.7,3.2l.8-2.1l.7,1.4l.7,.5l.8-1l.7,.5l.7-1.1l.8-.7l.7,2.6l.8,.5l.7-.1l.7-2.1l.8,1.9l.7-3l.8,.1l.7-1l.7,4.3l.8-4.2l.7,2.9l.7,.1l.8,0l.7-2.6l.8,1.6l.7,.6l.7,.7l.8-2.1l.7-.9l.7,.9l.8,1.6l.7,1.4l.8-5l.7,1l.7,3l.8,0l.7-4l.8,1.8l.7,3.3l.7-2.5l.8,2.3l.7-3.4l.7,.3l.8,1.6l.7-.3l.8-3l.7,4.5l.7-2.7l.8,.7l.7,1l.7-1.9l.8,1.6l.7,.9l.8-.2l.7-1.9l.7-2.2l.8,2.3l.7-.3l.7-2.3l.8,.1l.7,2.1l.8,1.3l.7-3.2l.7,.3l.8-2.4l.7-2.8l.8-8.6l.7-9.9l.7-8.9l.8,6.6l.7,6.1l.7,7.5l.8,15.5v3H30.3Z"/>
<path d="M29.8,155V152l.7-8.9l.8-5.6l.7,1.2l.8-.5l.7-.7l.7-3.4l.8,1l.7-3.9l.7-3.5l.8-3.3l.7,.7l.8,2.1l.7,1.9l.7,2l.8-2.5l.7,1.5l.7,1.5l.8,2.7l.7-1.4l.8-.6l.7,2.7l.7-.6l.8,2.2l.7-6.8l.7,.9l.8-3.6l.7,.3l.8,3.5l.7-2.3l.7-2.1l.8-1.1l.7-3.1l.8-1.3l.7-5.3l.7-5.5l.8-.3l.7,5.5l.7,4.6l.8,3.5l.7,4.5l.8,3.7l.7,3.2l.7,.1l.8,.6l.7,3.9l.7-4.6l.8,1.3l.7-1l.8,0l.7-.8l.7-2.6l.8-1.9l.7,.3l.8-3.7l.7-12l.7-18.1l.8-12.3l.7,14.2l.7,16.1l.8,9.8l.7,2.3l.8,5.7l.7,4.9l.7-1.7l.8,.6l.7-2l.7,6.9l.8-2.1l.7-1.4l.8,3.1l.7-2l.7,1.6l.8-7.2l.7,7.8l.8,.6l.7-1.4l.7,2.5l.8-2.4l.7,.4l.7-1.3l.8,1.6l.7,1l.8,.4l.7,2.8l.7-1.6l.8,2l.7-2.7l.7-1.8l.8,.4l.7-1.6l.8,3.3l.7,.9l.7-3.3l.8,5.9l.7-4.5l.7,2.7l.8-.6l.7-2.2l.8-.8l.7,4.7l.7-1.6l.8-2.3l.7,4l.8-2.5l.7-2l.7,.1l.8-5.7l.7-2.5l.7-4.1l.8-3.4l.7,1.1l.8,6.5l.7,3.8l.7,3.7l.8,1.6l.7,.2l.7-.4l.8,3.2l.7-4l.8,4l.7-.8l.7,1.7l.8,2.4l.7-5.1l.8-.1l.7,2.2l.7,.3l.8-1l.7,2.3l.7,2l.8-7l.7,2.5l.8-.1l.7,.2l.7,1.8l.8,3.1l.7-2.9l.7-1.1l.8,2.2l.7-3.7l.8,.9l.7,.1l.7,.3l.8,2.4l.7-1.1l.7-.9l.8,4.9l.7-5.6l.8-1.8l.7,2.8l.7,2.5l.8-1.5l.7-3.3l.8,1.7l.7,1.3l.7-4.5l.8,2.5l.7,3.2l.7-4.2l.8,4l.7-1.6l.8,2.8l.7,.1l.7-3.9l.8,1.9l.7,.1l.7,2.7l.8-1.4l.7-.3l.8-2.1l.7,4.7l.7-2.4l.8-2.6l.7,1l.8,2.3l.7-2.5l.7,1.2l.8,.7l.7-3.7l.7,5.8l.8-.8l.7-4.4l.8,.3l.7,1.4l.7,2.5l.8-2l.7-.7l.7-.1l.8-1.9l.7,5.2l.8-1.9l.7-2.8l.7,2.8l.8-2l.7,.8l.7-2.1l.8,1.5l.7-.3l.8,4.1l.7,.2l.7-2.4l.8,1.7l.7-2.6l.8,1.4l.7,1.9l.7-1.9l.8,1.8l.7,.2l.7-2.3l.8-.3l.7-1.6l.8,1.8l.7,.4l.7,.1l.8,1.4l.7-2l.7,.2l.8-.6l.7-3.2l.8,2.1l.7,4l.7-3.1l.8,1l.7-2.8l.8,3.8l.7,1.3l.7-.9l.8-2.6l.7-1.7l.7,5.1l.8-1.6l.7-6.3l.8,7l.7-1.1l.7-2.1l.8,3.7l.7-1.2l.7,1.6l.8-1l.7-1.7l.8,2.4l.7-2.2l.7-1.9l.8,2.1l.7,.2l.7,1.7l.8-1.7l.7-3.2l.8,1l.7-1l.7,1.2l.8-2.2l.7-4l.8-7l.7-11.1l.7-7l.8,5.2l.7,7l.7,7.3l.8,14.6v3H29.8Z"/>
<path d="M29.3,155.5V152.5l.7-6.6l.8-7.2l.7-1.1l.8,1.7l.7,.7l.7-3.3l.8-.7l.7-5l.7-2.4l.8-4.6l.7,2.1l.8,.1l.7,3.3l.7,1.9l.8-1.9l.7-1.1l.7,2.4l.8,1.9l.7,1.6l.8-.5l.7,1.9l.7,0l.8-.3l.7-2.9l.7-2.3l.8,.5l.7-2.5l.8-1.4l.7,.8l.7-1.6l.8,.2l.7,.1l.8-3.6l.7-6.7l.7-4.4l.8,.3l.7,3.8l.7,3.3l.8,5.8l.7,4.8l.8,2.7l.7,1.7l.7-.2l.8,1.8l.7,.5l.7-1.5l.8,3l.7-2.3l.8,0l.7,0l.7-3.9l.8-.2l.7-2l.8-4.9l.7-9.8l.7-18.3l.8-11.4l.7,14.5l.7,16.3l.8,9.5l.7,6.5l.8-2.4l.7,2.9l.7,3.5l.8,2.6l.7-1.6l.7,1.3l.8,3.8l.7-3.3l.8,3.5l.7-5.5l.7,2.1l.8,2.9l.7-3l.8,.9l.7,0l.7-3.9l.8,8.9l.7-2.6l.7-1.5l.8,1.6l.7,1.5l.8-1.6l.7-.3l.7,1.8l.8-.6l.7-1.1l.7-.8l.8,2.9l.7-1.1l.8-.8l.7-2l.7,6.8l.8-3.2l.7-2.5l.7,3.4l.8-1.5l.7-.8l.8,4.2l.7-.2l.7-2.2l.8-.5l.7,1.4l.8-3.7l.7-.2l.7-.3l.8-1.8l.7-4.2l.7-4.4l.8-4.3l.7,1.6l.8,5.5l.7,4.2l.7,3.5l.8,2.1l.7-2.5l.7,3.8l.8,2.9l.7-2.3l.8,1.1l.7,1l.7,.5l.8-2.4l.7,1.2l.8,.1l.7,2.5l.7-1.6l.8,.3l.7,.3l.7,.5l.8-2.7l.7,5.8l.8-2l.7-3.9l.7,0l.8-1.8l.7,4.6l.7-.5l.8,.2l.7-1.2l.8,.7l.7-.5l.7-1.3l.8,1.9l.7,1l.7-1.3l.8-.8l.7,1l.8-1.8l.7,2.2l.7,.2l.8,1.5l.7-2l.8,2.1l.7-4.7l.7,3.5l.8-.1l.7-2l.7,.5l.8,.2l.7,3l.8,1.2l.7,.4l.7-.4l.8-3.2l.7-2.8l.7,4.5l.8-.3l.7-1.1l.8-1.7l.7-1.5l.7,3l.8-.8l.7,1.9l.8-3.3l.7,4.1l.7-.8l.8,.4l.7,.3l.7-1.1l.8,1.2l.7,1.4l.8-.8l.7-1.3l.7,2.1l.8-2.3l.7-3.7l.7,5.7l.8-.7l.7,1.3l.8-2.3l.7-2.3l.7,3.1l.8-.7l.7-4.3l.7,3.5l.8,2l.7-2.9l.8,1l.7,2.1l.7-1.7l.8-2.4l.7,4.8l.8-.7l.7-2.9l.7,2.4l.8,.2l.7-.6l.7-2.1l.8,.1l.7,3.9l.8-3.3l.7-1.9l.7,3.5l.8-2.3l.7-2.7l.7,4.3l.8,1.2l.7-1.5l.8,2.1l.7-5.4l.7,3.3l.8-3.8l.7,4.9l.8,.4l.7-.6l.7,.9l.8-1l.7,1.1l.7,.8l.8-4.6l.7,3.1l.8-.1l.7,.7l.7-2.3l.8,1.9l.7-1.4l.7,1.8l.8-2.9l.7,2.5l.8,.5l.7-3.7l.7,4l.8,.2l.7-3.9l.7,1.6l.8,.6l.7-3.1l.8,1l.7,.1l.7-.8l.8-3l.7-3.3l.8-6.5l.7-11.2l.7-6.5l.8,4.8l.7,6.7l.7,7.9l.8,14.3v3H29.3Z"/>
<path d="M28.9,155.7V152.7l.7-8.3l.8-5.3l.7-.4l.8-1.7l.7-1l.7,.1l.8-.9l.7-3.1l.7-3.7l.8-3.6l.7,.5l.8,2.8l.7,2.7l.7,.5l.8-1.9l.7,2.6l.7,.4l.8,1.1l.7,2.7l.8,.2l.7-1.1l.7-.4l.8-1.8l.7,1.2l.7-4l.8-2.3l.7,.1l.8,3.7l.7-1.2l.7-3.1l.8-.5l.7-2l.8-1.7l.7-6.5l.7-5.6l.8,2l.7,3.2l.7,4.2l.8,3.5l.7,6l.8,2.3l.7,3.7l.7,0l.8,.6l.7,1.7l.7-3.5l.8,1.6l.7-1.8l.8-1.6l.7,1.8l.7-1.3l.8-1.8l.7-2.3l.8-3.6l.7-10.2l.7-18.3l.8-11.9l.7,13.4l.7,17.8l.8,7l.7,7.3l.8,3.1l.7-1.9l.7,5l.8-1.1l.7,2.1l.7-1.2l.8-.3l.7,2l.8-.2l.7-.7l.7,1.4l.8,2l.7-.8l.8-.5l.7,.1l.7,1.2l.8-1.7l.7,1l.7,1.5l.8-1.9l.7-2.1l.8,7.4l.7-2.7l.7-1.1l.8,2.6l.7-2.4l.7-1.1l.8,.9l.7,.2l.8,.6l.7-1.8l.7,.6l.8,3.3l.7-1.5l.7,1.3l.8,1.2l.7-1.1l.8-2.3l.7,2.2l.7-2.7l.8,1.1l.7-.5l.8,2.2l.7-1.4l.7-3.5l.8-1.5l.7-1.7l.7-5l.8-4.8l.7,.6l.8,6.8l.7,1.9l.7,6.7l.8-.9l.7,2.4l.7,1.7l.8-2.2l.7-.1l.8,2.2l.7,1.7l.7-3l.8-.4l.7,3.1l.8,4.3l.7-5.2l.7,1.6l.8-1.4l.7-3l.7,3.7l.8-2.2l.7-1.8l.8,8.6l.7-7l.7,5.3l.8-1.3l.7-1.1l.7,.8l.8-2.4l.7,2.7l.8-.7l.7-2.2l.7,3l.8,2.3l.7-3.6l.7,1.5l.8,1.7l.7-7.9l.8,3.6l.7,1.8l.7-.5l.8,2.5l.7-4.5l.8,4.4l.7-3.9l.7,4.5l.8-5.3l.7,2.3l.7,3.1l.8-2.9l.7-1.2l.8,2.4l.7-5.6l.7,6.4l.8-5.1l.7,1.2l.7,4.5l.8,1.1l.7-3.4l.8-2.6l.7,4.3l.7-.2l.8,1.7l.7-4.7l.8,1.5l.7,.3l.7,2.7l.8-.6l.7-1.7l.7-1.4l.8,4.1l.7-4.3l.8,1l.7,2.8l.7-3.2l.8,.4l.7,2.7l.7-2.3l.8,1.7l.7-1.8l.8-1.1l.7,1.6l.7,1.2l.8-1.8l.7,1.4l.7-1l.8-1.3l.7,.2l.8,2.2l.7-.7l.7-.9l.8,1.5l.7,.2l.8-3.8l.7-.4l.7,5.4l.8,.4l.7-1.2l.7-1.1l.8-3.2l.7,2.2l.8-2.8l.7,2.5l.7,1l.8,2.4l.7-3.5l.7,2.3l.8-1.3l.7,.3l.8,2.5l.7-1.4l.7-1.5l.8,1.3l.7-2.3l.8,1.3l.7,.9l.7,1.4l.8-.3l.7-1.6l.7,1.1l.8-1.9l.7-.1l.8,2.1l.7-1.6l.7-1.5l.8,.3l.7,.1l.7-.5l.8,3.2l.7,.5l.8-2.7l.7-2.1l.7,4.2l.8,.5l.7-1l.7-4.4l.8,2.3l.7,3.6l.8-1.9l.7-2.6l.7-1.4l.8-1.5l.7-4.1l.8-5.7l.7-12.2l.7-6.6l.8,4.4l.7,8.7l.7,5.7l.8,15.6v3H28.9Z"/>
<path d="M28.4,156V153l.7-8.5l.8-6.2l.7,1l.8,0l.7-2.4l.7-.5l.8-1.2l.7-1.9l.7-4.9l.8-3.4l.7-.1l.8,3.7l.7,2.3l.7,.7l.8-.4l.7-.3l.7,.9l.8,2.1l.7,.8l.8,.4l.7,1.6l.7,.1l.8-.9l.7-1.5l.7-2.4l.8-3.2l.7,1.1l.8,1.3l.7-3.5l.7,.5l.8-.3l.7,.5l.8-6l.7-3.8l.7-6.3l.8,.7l.7,3.1l.7,5.5l.8,3.6l.7,3.5l.8,2.6l.7,4.6l.7-1l.8,1.5l.7,.6l.7,2l.8-.3l.7-1.9l.8-3.3l.7,.8l.7-1.5l.8-1.2l.7,.8l.8-5.5l.7-11.1l.7-18.6l.8-11.3l.7,14.3l.7,17.7l.8,7l.7,3.7l.8,2.5l.7,6.4l.7-1.2l.8,4.8l.7-2.5l.7-.6l.8-.4l.7,2.6l.8-.5l.7,2.5l.7-3.6l.8-4.3l.7,4l.8,1.7l.7,1.3l.7-1.3l.8,1.9l.7-2.9l.7-.1l.8,1.5l.7,3.6l.8-.1l.7-2.3l.7,2.4l.8-4.4l.7,5.4l.7-2.8l.8-.6l.7,4.6l.8-.9l.7,1.4l.7,1.7l.8-7.8l.7,2.5l.7-.6l.8,1.6l.7,.3l.8,.5l.7,1.3l.7-3.2l.8,5.2l.7-5.5l.8-.1l.7-1.5l.7,1.6l.8-4l.7-2.9l.7-5.6l.8-4.2l.7,1.9l.8,6l.7,4.1l.7,4.2l.8,1.7l.7,1.8l.7-2.2l.8,4.9l.7-5.4l.8,4.3l.7-3.7l.7,2.8l.8,.7l.7-.6l.8-.6l.7,2l.7,.8l.8-3.7l.7-1.4l.7,1.9l.8,3.8l.7-6l.8,3.2l.7,1.4l.7-3.6l.8,2.5l.7-2.5l.7,5.8l.8-.2l.7-5.5l.8,.3l.7,.7l.7,.9l.8,.2l.7,2.8l.7-4l.8,2l.7,1.6l.8-1.4l.7-.2l.7,.8l.8-2.4l.7-.2l.8,3.2l.7-.6l.7-2.2l.8,3.7l.7,2.2l.7-2.1l.8-1.3l.7,3.7l.8-3.5l.7-.9l.7,1.5l.8-.2l.7-.9l.7,.1l.8,.6l.7-1.4l.8,4.1l.7-3.6l.7,1.1l.8,1.1l.7-.3l.8,.3l.7,.3l.7-2l.8,.6l.7-2.4l.7,1.6l.8-.1l.7,.1l.8,2.2l.7,0l.7-4.8l.8,1.6l.7,4.5l.7-3.2l.8,3.6l.7-4.8l.8,4.6l.7-4l.7,1.4l.8,1.1l.7,.3l.7-.1l.8-2.6l.7,2.1l.8-2.3l.7,1.6l.7,2.1l.8-1.8l.7-2.8l.8,1.1l.7-.5l.7,1.9l.8-4.4l.7,1.2l.7,5.7l.8,.1l.7-.8l.8-1.8l.7,.8l.7,1.1l.8-.7l.7-4.5l.7,6l.8-.8l.7-1.3l.8-1.1l.7,.2l.7,2.7l.8-1.9l.7-2.2l.8,1.8l.7,2.4l.7-1.8l.8-.8l.7,.4l.7-.2l.8-1.2l.7,3.6l.8-.5l.7-.9l.7,.1l.8-.9l.7,.6l.7-1.1l.8,1.6l.7-1.1l.8-2.2l.7,4.7l.7,0l.8-.9l.7-.8l.7,.8l.8-2.8l.7,1.3l.8,1.9l.7-4.5l.7,1.2l.8-6.3l.7-.6l.8-6.5l.7-12.8l.7-5.5l.8,3.3l.7,9l.7,6.8l.8,14.3v3H28.4Z"/>
<path d="M27.9,156.8V153.8l.7-6.2l.8-3.7l.7-2.6l.8-2.5l.7,1.3l.7-4.3l.8-1.1l.7-1.7l.7-4.6l.8-1.8l.7,.2l.8,2.2l.7,2.6l.7-.4l.8,2.1l.7,.1l.7,2.5l.8,.1l.7,1.1l.8,1.8l.7-2.4l.7,2.8l.8-1.2l.7-5.2l.7,1.1l.8-3.9l.7,3.9l.8-3.4l.7-.7l.7-1.5l.8-1.5l.7,.7l.8-3.1l.7-5.3l.7-6.1l.8,.5l.7,3.6l.7,5l.8,5.5l.7,3.9l.8,3.4l.7,1.6l.7-.8l.8,3.1l.7-2.6l.7,1l.8,1.4l.7-.7l.8-1.8l.7-.5l.7-2.5l.8-.2l.7-.8l.8-4.7l.7-11.1l.7-17.1l.8-12.8l.7,14.4l.7,17.7l.8,8.9l.7,2.9l.8,1.8l.7,5.5l.7,1.2l.8-.8l.7,1.4l.7,2l.8,.1l.7-3.5l.8,5.5l.7-1.1l.7-3l.8-.6l.7,3.1l.8,.9l.7-4l.7,2.7l.8,3.5l.7-3l.7,1.6l.8-2.8l.7,.8l.8,4.3l.7-.3l.7-1.4l.8,1.1l.7-2.1l.7,1.9l.8-4.4l.7,6.2l.8,1l.7-1.9l.7,.1l.8,0l.7,.3l.7,.6l.8-3l.7,1.1l.8,.5l.7,2.1l.7-3.9l.8-1.8l.7,2.6l.8-.8l.7-2.4l.7,.7l.8-3.1l.7-2l.7-5l.8-6l.7,3.4l.8,4.2l.7,3.8l.7,3.9l.8,1.9l.7-.5l.7,4.1l.8-1.1l.7-.4l.8,.6l.7,3.8l.7-3.5l.8,1.6l.7-3.8l.8-1.4l.7,7.8l.7-3.7l.8,1.5l.7,4.7l.7-6.7l.8-3.8l.7,6.4l.8-4.7l.7,.5l.7,2.3l.8,.7l.7-3.4l.7,7.8l.8-3.4l.7,1.8l.8-3.2l.7,.9l.7-.5l.8-.3l.7-3.6l.7,1.5l.8,3.1l.7,.8l.8-3.4l.7,2.1l.7-1.4l.8,4.8l.7-5l.8,.2l.7,4.9l.7-2.6l.8-.6l.7,4.7l.7-6.4l.8,1.8l.7,3.1l.8-.3l.7-1.7l.7-.3l.8,1.3l.7-1.7l.7-2.2l.8,2.6l.7,.5l.8-4.3l.7,1.8l.7,3.3l.8-.8l.7,1.3l.8-.9l.7,.6l.7,1.1l.8-3.4l.7,2.4l.7,1.1l.8-.7l.7,1.1l.8-1.9l.7,.2l.7,1.5l.8-4l.7,1.6l.7-1.3l.8,1.6l.7-1l.8,3.5l.7-1.4l.7-2.8l.8,3.4l.7-2l.7,2.7l.8-.7l.7,.6l.8-6l.7,3.1l.7,3.2l.8-2.7l.7,1.2l.8-1.1l.7,1.8l.7-.8l.8-2.4l.7,.6l.7,1.4l.8-.9l.7,1.1l.8-.4l.7,2.5l.7-1.3l.8-3.5l.7,2.9l.7-.7l.8-2.5l.7,.9l.8-1.5l.7,1.7l.7-1.4l.8,5.1l.7-2.5l.8,1l.7,.3l.7-.9l.8,.1l.7,.2l.7-.6l.8,.9l.7-3.7l.8,4.6l.7-1.1l.7,.5l.8,.1l.7-1.7l.7,.2l.8-.5l.7,1.1l.8-.2l.7,1.5l.7-4.7l.8,5.7l.7-1.9l.7,1.9l.8-4.9l.7,2.5l.8-1l.7,.3l.7-3.3l.8-.2l.7-4.7l.8-5.9l.7-11.9l.7-6.7l.8,5.5l.7,6.9l.7,6.3l.8,15.1v3H27.9Z"/>
<path d="M27.5,157.5V154.5l.7-6.5l.8-7.7l.7,2.4l.8-.9l.7-.3l.7-2.5l.8-2.5l.7-3l.7-2.4l.8-5l.7,.5l.8,3.1l.7,.7l.7,1.1l.8,2.4l.7,.1l.7-.1l.8,.2l.7,3.4l.8,.2l.7,.5l.7,.3l.8-1.5l.7-2.7l.7,.2l.8-3.3l.7-1.3l.8-.2l.7,2.1l.7-1.7l.8-.6l.7-1.9l.8-3.1l.7-4.6l.7-7.4l.8,2.5l.7,4.5l.7,4.3l.8,3.2l.7,6.1l.8,1.2l.7,1.6l.7,2.5l.8-1.1l.7,2.4l.7-1.1l.8,1.2l.7-.5l.8-3l.7,.7l.7-1.7l.8,.9l.7-3l.8-5.8l.7-10l.7-17.5l.8-13l.7,15l.7,15.7l.8,8l.7,6l.8,4.1l.7-1.7l.7,6.4l.8,0l.7,1.1l.7-1.2l.8-.9l.7,.8l.8,1.9l.7,1.4l.7-4l.8-.7l.7,.7l.8,2.1l.7-.9l.7,4.2l.8,.4l.7-6.9l.7,7.9l.8-1.9l.7-.8l.8,2.2l.7,.6l.7-4.7l.8,2.3l.7,4.1l.7-5.8l.8,.7l.7,0l.8-.1l.7,2.4l.7,3.9l.8-1.6l.7,1.7l.7-6.5l.8,5.4l.7-5.8l.8,2.2l.7,1.1l.7-2.6l.8,4.5l.7-1.6l.8-2.3l.7-.6l.7,.6l.8-4.4l.7-3l.7-4.5l.8-4.3l.7,2.5l.8,6.4l.7,1.9l.7,5l.8-2.2l.7,2.3l.7,4.7l.8-1.2l.7,.2l.8-1.4l.7-.2l.7-1.3l.8,5.3l.7-1.8l.8-3.5l.7,4l.7,2.4l.8-6.3l.7,4.1l.7,1.8l.8-.2l.7-1.3l.8-.6l.7,2l.7-1.1l.8-2.8l.7,2.6l.7-.5l.8,.8l.7,3.6l.8-2.7l.7-1.9l.7-.2l.8,2l.7-.5l.7,4.2l.8-1.3l.7-6.6l.8,4.6l.7-2.1l.7,2.1l.8-.1l.7-3.4l.8,2.2l.7,3.7l.7-.9l.8-1.4l.7,.3l.7,2.9l.8-3.9l.7-.1l.8-2.7l.7,6.2l.7-.4l.8-4.9l.7,1.1l.7,2.6l.8,1.5l.7-2l.8,1.8l.7-6.4l.7,3l.8,1l.7,1.6l.8-3.6l.7-1.7l.7,5.6l.8-3.8l.7,2.5l.7-2.1l.8-.2l.7,0l.8,1.4l.7,2.3l.7-5.5l.8,3l.7-1.5l.7,4.8l.8-3.6l.7-1.7l.8,4.6l.7-2.6l.7,.8l.8-.6l.7-.7l.7,1.4l.8-1.4l.7,3.4l.8-1.1l.7,1l.7-.7l.8-2.6l.7,1.5l.8-2.1l.7,1.1l.7-4.5l.8,7l.7-.7l.7-.2l.8,1.8l.7-.9l.8-3l.7,4.1l.7-5.7l.8,3.6l.7,.1l.7-1.5l.8,3.1l.7,.5l.8-2.2l.7-.3l.7,1.3l.8,.1l.7-.7l.8,.2l.7,.5l.7,.7l.8-3.7l.7,3l.7,.7l.8-4.9l.7,1.5l.8,2.9l.7-3l.7,1.1l.8,2.6l.7,.1l.7-.4l.8-.8l.7-.7l.8-.1l.7,1.3l.7-3.7l.8-1.7l.7,2.8l.7,2.6l.8-2.1l.7,.8l.8,.5l.7-3.6l.7-.3l.8-2.7l.7-2l.8-7.8l.7-11.5l.7-7.2l.8,4.8l.7,9.1l.7,6.3l.8,15.1v3H27.5Z"/>
<path d="M27,157.6V154.6l.7-6.7l.8-6.5l.7,1.5l.8-2.4l.7,.3l.7-3.2l.8-1.7l.7-2.7l.7-4.4l.8-1.3l.7,.6l.8,2.2l.7,3.4l.7-.5l.8,.3l.7-2.1l.7,6.5l.8-1.8l.7,2.5l.8-.4l.7-3l.7,5.4l.8-2.9l.7,.4l.7-4.1l.8,.3l.7-3.4l.8,.2l.7,1.1l.7-3.9l.8-.3l.7,.8l.8-4.2l.7-4.4l.7-5.8l.8,.6l.7,4.5l.7,5l.8,2.7l.7,5.1l.8,4.7l.7-3.3l.7,5.6l.8-.3l.7-1.3l.7-.6l.8,2.6l.7-1.6l.8-1.2l.7-.4l.7-1.9l.8,1.3l.7-4.4l.8-5.3l.7-8l.7-18.8l.8-12l.7,13.2l.7,18.1l.8,9.1l.7,3.9l.8,1.6l.7,4.7l.7,1.1l.8,3.2l.7-1l.7-3.8l.8,1.6l.7,4.6l.8-4.3l.7,3.8l.7-6.8l.8,4.1l.7,.9l.8-2.4l.7,4l.7,.2l.8-1.1l.7-.7l.7,1l.8-.8l.7,7.2l.8-1.2l.7,.3l.7-1.8l.8-1.3l.7,2.9l.7-3.9l.8,5.9l.7-3.6l.8,1.2l.7-.5l.7-1.8l.8,.1l.7-4.3l.7,3.7l.8,2.7l.7-1.3l.8-.2l.7-.1l.7,2.1l.8-.8l.7-4.2l.8,4.2l.7-1.4l.7-4.4l.8,.2l.7-2.7l.7-6.7l.8-4.8l.7,3l.8,5.7l.7,4.8l.7,0l.8,6.1l.7,.6l.7-1.6l.8,2.2l.7-1.6l.8-.1l.7,3.3l.7-4.3l.8,3.8l.7-4.5l.8,1.7l.7-2.3l.7,5.5l.8-3.9l.7,2.8l.7-2.1l.8,5.8l.7-7.2l.8,1.9l.7,4.7l.7-3.4l.8-1.3l.7,4.7l.7-5.1l.8,6.1l.7-1.6l.8-1.1l.7,.6l.7,3.4l.8-4.6l.7-.9l.7,1l.8-.3l.7,.1l.8,1.5l.7-1.2l.7-2l.8-.5l.7,1.6l.8-.1l.7-2.9l.7,5.7l.8-.1l.7-2.9l.7,2.2l.8-1.8l.7,2.4l.8-2.9l.7,0l.7,.4l.8,3.1l.7-3.5l.7,1.1l.8-.2l.7,2.4l.8-4l.7,4.8l.7-3.3l.8,.1l.7,.2l.8-1.3l.7,.1l.7,2.1l.8-4.7l.7,4.9l.7-1.5l.8,4.5l.7-2.3l.8-1.5l.7,2.6l.7,.3l.8-2.7l.7,2.4l.7,.5l.8-3l.7,1.6l.8,2.6l.7-5.7l.7,2.2l.8,2.3l.7-2.1l.7-1.5l.8,2.5l.7,2.4l.8-3.4l.7,.5l.7,.8l.8-.6l.7,.2l.8,1.6l.7-.4l.7-3.7l.8,4.3l.7,0l.7,.7l.8-3.8l.7-2.1l.8,5.1l.7-2.3l.7,2.6l.8-.6l.7-4.3l.7,5.3l.8-5.5l.7,4.8l.8-.8l.7,.3l.7-2.1l.8,3.2l.7-.1l.8,0l.7-5.5l.7,3.4l.8,1.3l.7-.1l.7,.6l.8-.8l.7-1l.8,.3l.7-1.2l.7,2.4l.8-2.4l.7,1.6l.7-.5l.8,2.2l.7-.7l.8,0l.7-5.7l.7,2.4l.8,2.6l.7,1l.7-1.4l.8-1.9l.7-.6l.8-2.7l.7,2.6l.7-2l.8-.6l.7-3.5l.8-7.8l.7-10.4l.7-9.4l.8,7.4l.7,6.1l.7,8.5l.8,14.3v3H27Z"/>
<path d="M26.5,158.3V155.3l.7-6.9l.8-5.8l.7,.8l.8,.7l.7-2.2l.7-2.6l.8-2.6l.7-1.9l.7-3.4l.8-2.5l.7-.7l.8,1.7l.7,4.3l.7,1.1l.8-1.1l.7-1.6l.7,3.4l.8,2l.7,.8l.8,.1l.7,2.4l.7-2.7l.8-1.8l.7-.7l.7-.2l.8-4.4l.7,.7l.8,1l.7-2.1l.7-1.8l.8,0l.7,1.4l.8-3.6l.7-6.4l.7-5.9l.8,1.5l.7,3.1l.7,4l.8,4.8l.7,5.4l.8,3l.7,1.2l.7,.1l.8,1.8l.7,1.1l.7,1.4l.8,.2l.7-1.6l.8-3.8l.7-2.7l.7,.4l.8,1.3l.7-2.5l.8-3.8l.7-11.7l.7-18.5l.8-11.3l.7,14l.7,17.7l.8,10l.7,4.5l.8,1.2l.7,2.6l.7,.9l.8,1.5l.7,2l.7,.1l.8,.1l.7-2.1l.8,1.3l.7-.6l.7-1l.8,2.4l.7-2.9l.8,2l.7,1.6l.7-1.5l.8,3.2l.7-1.4l.7,3.1l.8-2.8l.7,3.1l.8-2.6l.7,1.5l.7,4.4l.8-4.6l.7,2l.7-1.2l.8-1.6l.7,2.8l.8-1.4l.7-2l.7,.6l.8,2.5l.7-3.4l.7,6.4l.8-1.5l.7-1.2l.8-1l.7-2.9l.7,1.8l.8,2l.7-1.6l.8-1l.7-4.4l.7,1.4l.8-.4l.7-3.7l.7-5.8l.8-3.9l.7,1.8l.8,6l.7,3.6l.7,4.1l.8,.1l.7,2.5l.7,1.5l.8-1.6l.7-.1l.8,1.3l.7,2.2l.7-2l.8-.1l.7-.2l.8,5l.7-2.1l.7-.5l.8,4.2l.7-7.8l.7,6.5l.8-.2l.7-3.7l.8-1.3l.7-.1l.7,1.1l.8,2.5l.7-2.5l.7,4.4l.8-4.1l.7,.2l.8,2l.7-2.3l.7-.2l.8-1.1l.7,2.6l.7,3.8l.8-6.6l.7,4.1l.8-2.7l.7,2.7l.7-1.8l.8,1.6l.7-1.7l.8,1.2l.7-4.4l.7,4.3l.8-4.4l.7,7.7l.7-1.5l.8,1.7l.7,.2l.8-2.6l.7-.9l.7,1.1l.8-4.5l.7,4.7l.7,.7l.8,1.6l.7-4.7l.8,0l.7,1.6l.7-.6l.8,.8l.7-1.2l.8,1.1l.7,.8l.7-2.4l.8-1.9l.7,1.5l.7,3.3l.8-.7l.7,.6l.8,.5l.7-4.8l.7,4.6l.8,1.4l.7-.2l.7-.7l.8-1.3l.7-4l.8,3.3l.7-1.9l.7,3.3l.8-3l.7-2.4l.7,2.5l.8-1.3l.7,3l.8,1l.7-1.7l.7,2.9l.8-2.2l.7,1l.8,1.1l.7,.5l.7-1.6l.8,.6l.7-.1l.7-.6l.8,1.7l.7-.8l.8-1.2l.7-1.4l.7,1.8l.8,1.7l.7-2.1l.7,1.1l.8-3.1l.7,1.5l.8,1.4l.7-2.3l.7,3.5l.8,0l.7-1.4l.8,.8l.7,.1l.7-.5l.8-1.3l.7,2.4l.7-.8l.8-2.4l.7,1.2l.8-1.1l.7,1.9l.7-1.1l.8-1l.7,.9l.7,.5l.8-.4l.7,1.3l.8-5.3l.7,5.3l.7,.3l.8-3.9l.7,.4l.7,1.1l.8,.6l.7-2l.8,1.1l.7-.8l.7-1.4l.8-1.6l.7-2.6l.8-7l.7-12.9l.7-5.2l.8,4.6l.7,6.3l.7,8.2l.8,13.9v3H26.5Z"/>
<path d="M26,158.9V155.9l.7-6.6l.8-6.7l.7,.6l.8-.8l.7-1.2l.7-1.3l.8-1.3l.7-3.8l.7-3.5l.8-1.1l.7-.5l.8,2.2l.7,1.1l.7,1.6l.8,2.4l.7-2.6l.7,1.7l.8,2.1l.7,1.1l.8-.6l.7,.2l.7,3.5l.8-1.3l.7-3.4l.7,.7l.8-8l.7,3.5l.8-.5l.7-1.8l.7,.4l.8-.1l.7-2l.8-1.3l.7-7l.7-5.3l.8,.4l.7,4.6l.7,4l.8,5.4l.7,5.5l.8,3.1l.7,.3l.7-.6l.8,.5l.7,4l.7-2.5l.8,.6l.7-1.8l.8-.4l.7-2.2l.7-3.4l.8,2.9l.7-1.5l.8-7.1l.7-9.5l.7-17.8l.8-13l.7,14.7l.7,17.7l.8,8.1l.7,6l.8,3l.7,0l.7,5.2l.8-1.9l.7,2.3l.7,.8l.8-1.4l.7,2.3l.8-3.8l.7,2.9l.7-1.6l.8,.2l.7-.3l.8-3l.7,7.2l.7-1.7l.8-1.6l.7-4.2l.7,6.4l.8-1.8l.7,1l.8,3.4l.7-2.5l.7-1.5l.8,1.4l.7,1.9l.7-.6l.8,3l.7-.2l.8-.3l.7-5.5l.7,5.2l.8-4l.7,4l.7-4.4l.8,5l.7,.5l.8-3.1l.7-1.1l.7,2.7l.8-1.4l.7,1l.8-.2l.7-3.7l.7-1.8l.8-.4l.7-3.6l.7-4.5l.8-4.6l.7,2.2l.8,4.7l.7,4.7l.7,2l.8,2.2l.7,3.2l.7,1.8l.8-1.8l.7-.1l.8,3.3l.7-2.6l.7,3.1l.8-3.2l.7,3.6l.8-2l.7-1.1l.7,1.4l.8-1.2l.7,1l.7,3.1l.8-1.7l.7-1.3l.8,0l.7,2.7l.7-4.9l.8,.4l.7,4.5l.7-3.1l.8,2.4l.7,0l.8,.5l.7-5.8l.7,3.8l.8-2.6l.7,3.5l.7,.8l.8-2.8l.7-1.8l.8-2.1l.7,6.1l.7-1.3l.8,3.2l.7-1.7l.8-3.8l.7,1.1l.7,2.8l.8,2.1l.7-2.9l.7-5.1l.8,7.9l.7-3.3l.8,2.8l.7-1.1l.7-1.9l.8,2.8l.7-1.8l.7,.4l.8,.2l.7-.8l.8,3l.7-3.4l.7-3.4l.8,4.3l.7,3l.8-4.6l.7,2.7l.7-.3l.8-.3l.7-3.1l.7,3.7l.8,.3l.7-2.4l.8,2.5l.7-1.2l.7-1.9l.8,1.6l.7-1l.7,.9l.8-3l.7,3.1l.8-.2l.7,1.5l.7-2.5l.8,2.9l.7,1.3l.7-5.8l.8,4l.7-1.8l.8-2.1l.7,5.1l.7-3.6l.8,4.3l.7-1.3l.8-3.7l.7,3.1l.7,1.8l.8-.9l.7-2.7l.7-.4l.8-.2l.7,.9l.8,2l.7,.9l.7-3.6l.8,3.7l.7-1.2l.7-4.8l.8,4.5l.7-2.1l.8-1.1l.7,3.5l.7,0l.8,.3l.7-2.3l.8,.4l.7-.3l.7,3.4l.8-3.8l.7-2.3l.7,2.6l.8-.2l.7,2.3l.8,.3l.7-5.5l.7,4.8l.8,.3l.7,1l.7-3.2l.8-1.6l.7,5.1l.8-2.1l.7,1.3l.7-1.9l.8,2.1l.7-1l.7-3.3l.8,.1l.7,4.4l.8-3.7l.7,.2l.7-1.5l.8-1.6l.7-3.7l.8-5.6l.7-13l.7-5.2l.8,4.2l.7,8.2l.7,6.1l.8,14.4v3H26Z"/>
<path d="M25.6,159.4V156.4l.7-6.3l.8-4.3l.7-3.4l.8,0l.7,.1l.7-1.5l.8-2.5l.7-2.3l.7-3.2l.8-3.9l.7,.6l.8,4.1l.7,2.8l.7,.5l.8-.4l.7-2l.7,2.8l.8,1.3l.7,3.9l.8-1l.7-4.6l.7,6.4l.8-2.5l.7-1.8l.7-1.5l.8-2.1l.7-1.4l.8,.3l.7,.7l.7-5.1l.8,1.5l.7-.1l.8-4.3l.7-4.8l.7-4.8l.8,1.2l.7,3.2l.7,3.5l.8,4.6l.7,6.4l.8,.8l.7,4.4l.7-2l.8,2l.7,2.5l.7-1.4l.8-2l.7,.8l.8-.9l.7-2.6l.7,.2l.8-.4l.7-2.3l.8-4.5l.7-11.8l.7-17.8l.8-12l.7,13.8l.7,16.4l.8,9.2l.7,4.9l.8,3.3l.7,2.2l.7-3.2l.8,2.5l.7-1.3l.7,5.8l.8,1.9l.7-4l.8,4l.7-1.7l.7-1.2l.8-3.4l.7,3.7l.8,2.5l.7,.4l.7-1.1l.8,.4l.7,.7l.7,1.7l.8-1.5l.7,1.7l.8,.2l.7-.3l.7,2.7l.8-4l.7,.2l.7,3.1l.8,1.5l.7-8l.8,6.3l.7-.3l.7-.8l.8,.3l.7,3.1l.7-4.2l.8,.4l.7,.8l.8,1.3l.7-1l.7-2.7l.8,1.4l.7-1.9l.8-.9l.7-1.4l.7,1.3l.8-1.1l.7-2.4l.7-7.2l.8-4.8l.7,2l.8,6.1l.7,3.9l.7,3.7l.8,1.5l.7,1.1l.7,1.9l.8-1l.7,.6l.8,1.5l.7-.4l.7-2.6l.8,.4l.7,6.6l.8-2.7l.7,0l.7-3.9l.8-.6l.7,4.9l.7-1.1l.8-1.1l.7-1.2l.8,2.8l.7,1.7l.7-3.2l.8,1.9l.7,.3l.7,1.3l.8-4.3l.7,3.2l.8-3l.7,1.3l.7,1.6l.8,1.9l.7-5.6l.7,2.6l.8,2.9l.7-1.8l.8-2.2l.7,3.6l.7-1.9l.8-2.7l.7,.7l.8,5.8l.7-4.5l.7-2.7l.8,5.3l.7-3.4l.7,.3l.8,0l.7,3.3l.8-3.9l.7,3.3l.7-.4l.8,1.8l.7-2.1l.7-1.4l.8,3.6l.7-5.5l.8,.8l.7-2.6l.7,4.5l.8-.1l.7,0l.8,2.7l.7-3.3l.7-.5l.8,5l.7-4.9l.7,4.1l.8-2.4l.7,1.1l.8,.4l.7-4.6l.7,3.8l.8,.1l.7-1.7l.7,1.3l.8-1.2l.7-2.5l.8,1.3l.7,.1l.7,1.5l.8,1.2l.7,2.3l.7-5.1l.8,5.1l.7-5.5l.8,2.1l.7,.1l.7,1l.8-4.1l.7,3.8l.8-.1l.7-2.7l.7,3.2l.8-3.6l.7,1.5l.7,2.5l.8-1.6l.7-.4l.8,1.1l.7,.3l.7,.6l.8,1.6l.7-1l.7-2.3l.8,.2l.7,2l.8-1.8l.7,3.1l.7-1.3l.8,.5l.7,.8l.8-2.7l.7,.9l.7-.3l.8,.9l.7,.8l.7-4.6l.8-1.3l.7,4l.8,.8l.7,.1l.7,1.2l.8-.8l.7-2.6l.7-1.8l.8,1.6l.7,2.2l.8-1.1l.7,1.7l.7,.9l.8-2.5l.7,.4l.7-.5l.8-.8l.7-1.6l.8,.3l.7,2l.7-2.5l.8-.8l.7-4.2l.8-6.6l.7-12.8l.7-6.8l.8,5.9l.7,7.9l.7,5.9l.8,14.9v3H25.6Z"/>
<path d="M25.1,159.9V156.9l.7-7.7l.8-4.6l.7-.2l.8-1.1l.7-1.3l.7-.9l.8-2.5l.7-.9l.7-5.5l.8-2.5l.7,1.2l.8,1.8l.7,3.4l.7-.2l.8,.5l.7,3l.7-2.6l.8,4.6l.7-1.7l.8,2l.7-2.7l.7,7l.8-3.9l.7-.2l.7-5.2l.8-.7l.7,0l.8,.3l.7-.9l.7-3.3l.8-.6l.7-1.3l.8,1.1l.7-6.1l.7-6.1l.8-.3l.7,4.4l.7,2.2l.8,5.2l.7,5.7l.8,3l.7-1.4l.7,4.8l.8,.9l.7,.2l.7-1.8l.8-.2l.7-1.5l.8,1.3l.7-3.9l.7,1.1l.8-1.9l.7,.1l.8-5.8l.7-10.8l.7-18.4l.8-11.4l.7,13.3l.7,17.8l.8,8.7l.7,4l.8,1.6l.7,2.4l.7,1.4l.8,1l.7,5.1l.7-1.2l.8-.9l.7-.3l.8-2.9l.7,1.1l.7-.6l.8,.8l.7,4.8l.8-5.6l.7,2.7l.7,1.5l.8,3.2l.7,1.1l.7-4.7l.8-.2l.7,5.2l.8,.9l.7-4.2l.7,2.3l.8-4.2l.7,1.8l.7,1l.8,6.1l.7-9.4l.8,4.3l.7,2l.7-3.2l.8,1.7l.7-2.2l.7-2.5l.8,6.4l.7-4.7l.8,4l.7-2.6l.7-.5l.8-2.6l.7,3l.8-1l.7,.5l.7-1l.8-1.9l.7-2.5l.7-5.5l.8-5.5l.7,.9l.8,6l.7,3.1l.7,6.1l.8,.7l.7,.6l.7-1.7l.8,4.3l.7-2.2l.8-1.1l.7,.3l.7,3.1l.8-.2l.7-2.4l.8,2.8l.7-1.8l.7,1.4l.8-2l.7,1.4l.7,0l.8,1.9l.7-2l.8,1.7l.7-7.1l.7,6.1l.8,.5l.7,1.1l.7,3.8l.8-4.3l.7-1l.8,.1l.7,1.3l.7-2.9l.8,1.6l.7,2.5l.7,1l.8-4.9l.7,3.5l.8,.4l.7,1.4l.7-1.1l.8-2.9l.7,.3l.8,1.4l.7-1.9l.7-.4l.8,.5l.7,5.7l.7-3.8l.8,1l.7-4.9l.8,.3l.7,2.8l.7,3l.8-4.3l.7,2.6l.7,1l.8-3.8l.7,2.1l.8,.4l.7,1.8l.7,.1l.8-5.6l.7,5.5l.8,1.9l.7-6.5l.7,4.1l.8-.6l.7-.3l.7-4.8l.8,7.9l.7-3.6l.8,.2l.7-.3l.7,.1l.8,.2l.7-4.8l.7,4.7l.8-2l.7,2.8l.8,1.8l.7-1.1l.7,1.2l.8-6.7l.7,7.2l.7-5.2l.8,4.2l.7-.4l.8,.8l.7-.1l.7,.9l.8-1.9l.7-.5l.8,0l.7,1.2l.7-1.1l.8-2.4l.7,2.1l.7,2.3l.8-5.2l.7,5.5l.8-1.2l.7-.3l.7,1.7l.8-6l.7,5.2l.7-1.6l.8,2.4l.7-.3l.8-1.1l.7-.2l.7-1l.8,2.5l.7-4l.8,.5l.7,.9l.7,1.9l.8-3.8l.7,2.8l.7-1.6l.8,.5l.7,2.4l.8-1.9l.7-1.2l.7,2.9l.8-4.2l.7,4.7l.7-1.6l.8-1.9l.7-.2l.8,.2l.7,2.2l.7-3.7l.8,.2l.7,.2l.7,1.4l.8,1.1l.7-.5l.8,.5l.7-1.8l.7-2.5l.8-.1l.7-4.7l.8-5.8l.7-12.9l.7-7.4l.8,7.8l.7,7.1l.7,6.2l.8,14.7v3H25.1Z"/>
<path d="M24.6,160.8V157.8l.7-7.1l.8-5l.7-2.6l.8,1.5l.7-4.3l.7,3l.8-3l.7-2.2l.7-4.6l.8-1.8l.7,.2l.8,2l.7,1.9l.7,.5l.8,1.1l.7,2.6l.7-.9l.8,3.8l.7-.1l.8-.3l.7-.8l.7,.3l.8-1.2l.7,.5l.7-2.3l.8-4.8l.7,2.5l.8,.2l.7-4.4l.7-2.1l.8,3.6l.7-.5l.8-2.6l.7-6l.7-5.4l.8,.1l.7,5.8l.7,2.3l.8,4.3l.7,3.6l.8,3.1l.7,2.7l.7,1.3l.8-3.6l.7,5.5l.7-1.8l.8,1.3l.7-2.1l.8-2.1l.7,.7l.7-4.2l.8,1.2l.7-.7l.8-4.4l.7-12.1l.7-17.4l.8-13.2l.7,15.2l.7,18.5l.8,10.1l.7,1.5l.8,2.9l.7,5l.7-2.3l.8,1.8l.7,1.5l.7-1.3l.8,.3l.7,5.2l.8-3.9l.7,2.9l.7-6.5l.8,7.7l.7,1.6l.8-8.6l.7,3.3l.7-1.6l.8-2.1l.7,1.9l.7,4.3l.8-.5l.7,1.3l.8-2.2l.7,1.7l.7,2.8l.8-3.1l.7,.4l.7,.3l.8-.6l.7,3l.8,.2l.7-1.5l.7-4.9l.8,5.6l.7,.5l.7-1.1l.8-2.5l.7,0l.8,2.6l.7,3.2l.7-2.9l.8-2l.7,3.2l.8-5.9l.7,4.4l.7-4.5l.8-.8l.7-2.8l.7-4.7l.8-6.3l.7,2.3l.8,5l.7,5.4l.7,3.6l.8,1.4l.7,1.6l.7,.7l.8-1.9l.7-1l.8,6.7l.7-4.5l.7,3.3l.8,2.7l.7-7.2l.8,4.6l.7-3.2l.7,1.7l.8,.3l.7,4.5l.7-3.5l.8,2.5l.7-3.3l.8,.3l.7,4.3l.7-3.9l.8-.3l.7,1.8l.7-4.3l.8,.6l.7-.9l.8-1l.7,6.5l.7-5.7l.8,.8l.7,4.9l.7,0l.8,.1l.7-3.2l.8-1.3l.7-.8l.7,4.4l.8,0l.7-1.4l.8,1l.7,2.6l.7-1.5l.8-4.1l.7,0l.7,1.3l.8-1.7l.7,1.9l.8,2.6l.7,.7l.7,.3l.8-5.2l.7,5.1l.7-4.6l.8,.3l.7,.1l.8,1.5l.7,1.8l.7,.5l.8,1l.7-1.5l.8-2.3l.7,1l.7-2.5l.8,2.4l.7-.4l.7,1.4l.8-2.4l.7,.6l.8-1.8l.7,5.6l.7-.5l.8-1.5l.7-1.5l.7-.7l.8,2.9l.7,.1l.8-5.6l.7,7.1l.7-1.7l.8,.2l.7-1.3l.7,1.6l.8,0l.7-3.4l.8,4.6l.7-3.6l.7,1.6l.8-.5l.7,1.5l.8,.4l.7-2.6l.7,.1l.8,2.6l.7-1.5l.7,1.3l.8-.1l.7,.3l.8-1.8l.7-3.1l.7,1.1l.8-.2l.7,1.8l.7,1.4l.8-.6l.7,2.1l.8-1.4l.7,1.4l.7,.1l.8-.6l.7-.8l.8-.9l.7-1.1l.7-1.6l.8,2l.7-.4l.7-1.1l.8,1.6l.7,0l.8,2l.7,.7l.7-5.8l.8,3.2l.7-.8l.7,2.8l.8-7l.7,6l.8-4.1l.7,3.5l.7-1.7l.8,0l.7,1.1l.7-2.3l.8,4.9l.7-5.4l.8,.7l.7-.1l.7-1.5l.8-1.6l.7-1.8l.8-7.9l.7-10.7l.7-8.9l.8,7.2l.7,8.7l.7,5l.8,14.9v3H24.6Z"/>
<path d="M24.1,161.2V158.2l.7-7.6l.8-5l.7-1.3l.8,.5l.7-1.3l.7-1.7l.8-.6l.7-1.4l.7-5.1l.8-2.6l.7-.5l.8,2.1l.7,4.1l.7-.6l.8,1.5l.7-1.8l.7,1.7l.8,3l.7,.7l.8-.1l.7-.8l.7,.8l.8,1.6l.7-.5l.7-3.3l.8-1.8l.7-.2l.8-3.6l.7,.9l.7,.6l.8-1.7l.7-.8l.8-1.5l.7-5.3l.7-6.2l.8,.3l.7,3.3l.7,5.1l.8,4.6l.7,2.8l.8,3.5l.7,3.7l.7-.7l.8,1.2l.7-1.1l.7-.5l.8,.6l.7-.6l.8-1.4l.7-2.1l.7-.1l.8,.8l.7-2.7l.8-5.5l.7-10.5l.7-17.9l.8-12.5l.7,15.3l.7,17.8l.8,8.5l.7,3.9l.8,6.9l.7-1l.7-1.1l.8,6.2l.7-.1l.7,1.3l.8-1.7l.7-7.4l.8,9l.7-2.8l.7-.9l.8-.8l.7-1.6l.8,.2l.7,5.7l.7-2.4l.8,2l.7,1.7l.7-3l.8,4.7l.7-.6l.8-2.9l.7,3.5l.7-1.7l.8,0l.7-.9l.7,4.8l.8-.5l.7-5.1l.8,3.3l.7-.8l.7-3.7l.8,2.7l.7-1.2l.7,2.9l.8,.7l.7-3l.8,1.1l.7,1.8l.7,.7l.8-1.2l.7-1.5l.8-.1l.7-1.9l.7,1.3l.8-3l.7-5.6l.7-4.8l.8-4.5l.7,1.6l.8,5.2l.7,5.4l.7,2.4l.8,.3l.7,.7l.7,6l.8-2.8l.7-.5l.8,4l.7-2.7l.7-1.3l.8,1l.7-1.2l.8,7.5l.7-3.4l.7-1.1l.8,.7l.7-6.1l.7,6.5l.8-.1l.7-4.1l.8,3.5l.7-1.6l.7,.3l.8-.5l.7,1.2l.7-2.1l.8,3.3l.7,4l.8-3.1l.7-2.9l.7,.1l.8,3.5l.7-2l.7-1.6l.8,3.3l.7-3.3l.8,2.6l.7-2.8l.7-.7l.8,1.5l.7-1.8l.8,5.4l.7-2.5l.7,4l.8,.2l.7-5.9l.7,5.3l.8-.7l.7-.1l.8,.2l.7-1.4l.7-1.9l.8,.6l.7-.9l.7-.1l.8,1.6l.7,.8l.8-2.3l.7,.9l.7,.5l.8,2l.7-3.1l.8,3.6l.7,.8l.7-2.3l.8,.2l.7-2.1l.7-1.5l.8,6l.7-3.5l.8,.9l.7-3.4l.7,.7l.8-.5l.7,3.5l.7-1l.8-1.7l.7,3.7l.8-4.2l.7,1.4l.7,1.5l.8,1.3l.7,.4l.7-3.9l.8,1.5l.7,2.5l.8,.2l.7-2.1l.7,2.8l.8,.1l.7-6.7l.8,6.1l.7-1.2l.7,.7l.8,.5l.7-.8l.7-.3l.8-2l.7,1.2l.8-.1l.7,.8l.7-1.6l.8,2.7l.7-3.7l.7,2l.8-.7l.7,2.5l.8,0l.7-1.9l.7-.5l.8,.5l.7,.1l.8,.9l.7-2.6l.7,3.1l.8-1l.7-.5l.7,.1l.8-.5l.7,1.3l.8-.6l.7-.4l.7,2.5l.8-3.7l.7,2.6l.7,.2l.8-2l.7,1.4l.8,1.3l.7-1.4l.7-2.7l.8-2.2l.7,.7l.7,4.1l.8-.7l.7-1.3l.8-.9l.7,.6l.7-.4l.8-3l.7-2.1l.8-7.8l.7-11.5l.7-6.7l.8,4l.7,8.9l.7,5.6l.8,15.2v3H24.1Z"/>
<path d="M23.7,161.6V158.6l.7-6.7l.8-4.8l.7-1l.8-.5l.7-1.2l.7-1.6l.8-2l.7-.9l.7-4.7l.8-3.2l.7,.3l.8,3.6l.7,.7l.7,2.4l.8-.8l.7-1.3l.7,2.2l.8,2.5l.7,2.4l.8,.9l.7-2.8l.7-1.7l.8,2.2l.7-2.3l.7-1.1l.8-.8l.7-.4l.8-.9l.7-1.7l.7,.7l.8,1.7l.7-3.4l.8-2.9l.7-5.4l.7-4.7l.8,.2l.7,2.6l.7,5.3l.8,2.3l.7,4.5l.8,3.4l.7,2.4l.7,2.3l.8,1l.7-1.8l.7,1.1l.8-1.3l.7-.6l.8-1l.7-1.1l.7,.8l.8-.1l.7-4.4l.8-5.3l.7-9.7l.7-18.9l.8-10.9l.7,13.8l.7,16.8l.8,10.9l.7,4.2l.8,2.2l.7-.4l.7,3.8l.8,2l.7,.4l.7-.1l.8,1.9l.7-2.1l.8-4.5l.7,1.2l.7-1.2l.8,7.4l.7-1.4l.8-1.4l.7,1.2l.7,.7l.8-2.5l.7,5.5l.7-5.3l.8,6l.7-5.5l.8,4.1l.7,2.1l.7-5.2l.8,1l.7-1.7l.7,6.1l.8-4.5l.7,1.5l.8,1l.7,0l.7-3.1l.8,1l.7,3.3l.7-.8l.8-.3l.7-.8l.8,.2l.7-1.8l.7-.6l.8,2.8l.7,.2l.8-.8l.7,.3l.7-2.1l.8-3.8l.7-2.2l.7-5.1l.8-4.7l.7,1.6l.8,5.6l.7,3.4l.7,3.9l.8,1.8l.7,.6l.7,4.1l.8-1.4l.7,2.7l.8-1.3l.7,.6l.7-2.4l.8,1.7l.7,2.9l.8-5.7l.7,3.4l.7-1.3l.8,1l.7,.6l.7-1.5l.8,.2l.7,1.3l.8,1.2l.7-2.2l.7,.7l.8-1.2l.7,.4l.7,.1l.8-1.6l.7-1.1l.8,5l.7,1.2l.7-.4l.8-5.1l.7,3.7l.7-3.1l.8,6.4l.7-.9l.8-3.3l.7,2.2l.7-1.1l.8-1l.7-.1l.8-.1l.7,.6l.7-.9l.8,2.5l.7-.9l.7-1.8l.8,.5l.7-.3l.8,2.3l.7-4.5l.7,4.7l.8-.3l.7,1.9l.7-5.3l.8,5.9l.7-5.8l.8-.5l.7,4.8l.7-5.2l.8,3.8l.7-2.2l.8,2.7l.7-2.3l.7,.4l.8-1.9l.7-2.3l.7,7.5l.8-3.4l.7-1.8l.8,1.1l.7,4.1l.7-5.1l.8,.9l.7,2.9l.7,2.1l.8-2.7l.7,2.1l.8-2.7l.7-1.2l.7-1.3l.8,3.3l.7,.8l.7,1.2l.8-5.3l.7,4.6l.8-5.6l.7,.7l.7,3.5l.8-1.2l.7,3.4l.8-4l.7,2.4l.7,1.6l.8-3.8l.7,3.3l.7-1.6l.8,1.2l.7-1.6l.8-1.1l.7,2.9l.7-.8l.8,0l.7-3.6l.7,2.3l.8,.4l.7,1.7l.8-.4l.7-.3l.7-.4l.8-.7l.7,2.5l.8-2.3l.7,.3l.7,.6l.8-1.1l.7,1.5l.7-4.6l.8,5.7l.7-3.6l.8,.8l.7,2.8l.7-5l.8,4.8l.7-5.4l.7,5.8l.8-6l.7,2.2l.8,1.6l.7,2.3l.7-2.8l.8,2.3l.7-.8l.7-4l.8,4.6l.7-4.7l.8,1.1l.7,1.1l.7-2.9l.8,.4l.7-4.9l.8-6l.7-12.9l.7-5.4l.8,5l.7,7.2l.7,6.5l.8,14.7v3H23.7Z"/>
<path d="M23.2,162.3V159.3l.7-7.7l.8-4.8l.7,.3l.8,2l.7-4l.7,1.9l.8-4.3l.7-4l.7-2.4l.8-2.5l.7-.4l.8,3.2l.7,1.7l.7,.8l.8-2.1l.7,3.6l.7-1.6l.8,3.4l.7,3.6l.8-1.2l.7,1.5l.7,.2l.8-1l.7-.5l.7-5.1l.8-5.8l.7,2.1l.8,2.8l.7,0l.7-2.2l.8-.9l.7,0l.8-1.3l.7-8.3l.7-3.8l.8,.3l.7,3l.7,4.3l.8,5.3l.7,3.7l.8,5.4l.7-2.9l.7,4.4l.8-.3l.7,1.1l.7,.7l.8-.8l.7-1l.8,.5l.7-4.6l.7-.8l.8-1.8l.7,0l.8-5.3l.7-11.1l.7-18.2l.8-12.3l.7,14.8l.7,16.9l.8,11.3l.7,2l.8,4.9l.7,4.9l.7-2.5l.8,.5l.7,.4l.7-.4l.8,.7l.7-.7l.8,1.5l.7-3.3l.7-1.7l.8,1.1l.7,3.5l.8-.3l.7,2.9l.7-.3l.8-.2l.7-2.4l.7,3.7l.8-2.5l.7,6.5l.8-9l.7,8.2l.7-1.3l.8,1.3l.7-.9l.7-1.6l.8,.4l.7,2l.8-1.3l.7-.3l.7-1.7l.8,2.1l.7-2.8l.7,1.8l.8-1.7l.7-.6l.8,3.1l.7-3.1l.7,2.8l.8,.7l.7-1.8l.8-3.7l.7,1.8l.7-2.5l.8,.3l.7-3.7l.7-4.3l.8-5.1l.7,1l.8,6.8l.7,3.7l.7,4.8l.8,1.2l.7,.2l.7-2.2l.8,2.3l.7,0l.8,2.2l.7,2.7l.7-1.7l.8-2.8l.7-.6l.8,4.9l.7,2.1l.7-4.5l.8,.5l.7,1.3l.7,3.3l.8-5.8l.7-3.5l.8,3.9l.7,.1l.7,1.7l.8-1.2l.7-.8l.7,1.9l.8,1l.7-.7l.8,1.1l.7-1.7l.7,1.7l.8-3.7l.7-.8l.7,.7l.8,2.5l.7,2.1l.8-3.1l.7-.3l.7,1l.8,2.2l.7-.6l.8-3.9l.7,3.3l.7-2.2l.8,.8l.7,2.4l.7-2.3l.8,2.1l.7-2.9l.8,2.2l.7,.5l.7,.3l.8,.6l.7,1.5l.7-1.3l.8,.6l.7-6.8l.8,3.5l.7,.5l.7,1.1l.8,.7l.7-2.5l.8,4.1l.7-1.3l.7,2.1l.8-3.4l.7-2.6l.7,5.8l.8-.5l.7-4.7l.8,3.7l.7-3.4l.7,2.7l.8-.1l.7,.8l.7-.9l.8,1.6l.7-2.4l.8,2.1l.7-1l.7-1.6l.8,1.5l.7,1.9l.7-2.2l.8-.7l.7,1.8l.8-1.8l.7-1.6l.7,3.4l.8-.9l.7,.7l.8-.9l.7,2.1l.7-1.3l.8-1.6l.7-.7l.7-.7l.8,4.3l.7-2.5l.8,.6l.7,1.5l.7-3.1l.8,3.4l.7-1l.7,.9l.8-.8l.7-3.3l.8,.8l.7,1.3l.7-.7l.8,1l.7,1.1l.8-3.4l.7,.8l.7,1.8l.8-1.8l.7,1.4l.7-1.7l.8,2.7l.7,1.5l.8-.8l.7-1.4l.7,1.4l.8-1.6l.7,1.8l.7-2.4l.8-3.7l.7,6.1l.8-.6l.7,1.3l.7-3.8l.8,3.2l.7-3.9l.7,2.4l.8,.8l.7-5.7l.8,4.2l.7-2.1l.7-1.8l.8,.5l.7-4l.8-7.9l.7-11.5l.7-6.8l.8,5l.7,8.1l.7,8.1l.8,13.8v3H23.2Z"/>
<path d="M22.7,162.4V159.4l.7-6.5l.8-4.5l.7,1.1l.8-3.4l.7-1.1l.7-2.8l.8-1.3l.7-1.9l.7-2.8l.8-2.7l.7,.2l.8,3.6l.7,.3l.7,3.1l.8-2.7l.7-.1l.7,3.1l.8,.5l.7,2.9l.8,1.9l.7-.6l.7,1.4l.8-2l.7-3.2l.7-1.6l.8-2.1l.7-1.4l.8,.7l.7-2l.7,.9l.8-1.5l.7,2.2l.8-4.6l.7-4l.7-5.6l.8-1l.7,4.7l.7,2.7l.8,5.7l.7,5.1l.8,3.3l.7-1l.7,1.7l.8,1.2l.7,1l.7-.4l.8,1.4l.7-5.9l.8,1.3l.7-1l.7,.9l.8-1.7l.7-.8l.8-8l.7-9.2l.7-18.1l.8-11.9l.7,13.7l.7,18.4l.8,8.1l.7,3.9l.8,5.2l.7,.2l.7,2.1l.8,.3l.7,.9l.7,.3l.8-1.3l.7,2.1l.8-.6l.7-.7l.7-.8l.8-2l.7,2.5l.8-2l.7,4.3l.7,1.3l.8,.1l.7,3.7l.7-2.6l.8-.9l.7-1.1l.8-.8l.7,1.8l.7,3.8l.8-7.3l.7,3.3l.7,3.9l.8,0l.7-3.7l.8-2.2l.7,4.2l.7-4.2l.8,1.7l.7,1.6l.7-.4l.8-1.9l.7,2.1l.8,0l.7,3.4l.7-2.8l.8,3.8l.7-3.6l.8-1.6l.7-.2l.7,.9l.8-3.1l.7-4.5l.7-4.2l.8-5.4l.7,.4l.8,8l.7,3.5l.7,3.5l.8,1.8l.7,.4l.7,.1l.8,.2l.7,.4l.8-.8l.7,.2l.7,6.5l.8-2.2l.7-.4l.8,.2l.7-2l.7-.4l.8,.2l.7-1.1l.7,2.2l.8,1.3l.7,.2l.8,1.8l.7-5.3l.7,3.3l.8-.2l.7-.8l.7-2.2l.8-.1l.7,2.3l.8-2.8l.7,.3l.7,1.9l.8-.5l.7,3.6l.7-3.9l.8,2.8l.7-1.1l.8-1.5l.7,4.4l.7-2.4l.8-2.3l.7,2.8l.8,1.1l.7-2.6l.7,2.4l.8-2.4l.7-2.9l.7,4.6l.8-1.2l.7-2l.8,6.4l.7-.7l.7-.6l.8-3.4l.7,.7l.7-1.3l.8-1l.7,3.7l.8-.1l.7,.7l.7-2.5l.8,1.4l.7-2.6l.8,2.5l.7-.9l.7,3.6l.8-.7l.7-1.9l.7-.1l.8-1.2l.7,.7l.8,3.5l.7-1.6l.7,1.4l.8,0l.7-3.1l.7,1.1l.8,.8l.7,1l.8-5.2l.7,5.3l.7-2.7l.8-.6l.7,.3l.7-2.2l.8,3.1l.7-.4l.8-1l.7,2.1l.7,.4l.8-.8l.7,1.4l.8-.5l.7,1l.7-1.1l.8,1.2l.7-2.6l.7,3.1l.8-.8l.7-3.2l.8,3.8l.7-.4l.7-1l.8-1.2l.7,2.3l.7-2l.8,.8l.7,.9l.8-1.2l.7,.5l.7-2.3l.8,1.8l.7,.2l.8,1l.7-1l.7,1.6l.8-2l.7-.4l.7,.7l.8,1.9l.7-1l.8-1.4l.7-3.2l.7,3.6l.8,0l.7-2.1l.7,3.8l.8-2.2l.7-3.4l.8,4.5l.7-4.8l.7,1.9l.8,4.3l.7-.5l.7-1.8l.8,2.1l.7,.1l.8-4.5l.7,.6l.7-1.2l.8-1.4l.7-4.4l.8-7.3l.7-11.3l.7-7.4l.8,5.6l.7,8.1l.7,6.9l.8,14.8v3H22.7Z"/>
<path d="M22.3,163.2V160.2l.7-8.1l.8-4.3l.7,2.1l.8-2.9l.7,.1l.7-1.6l.8-1.8l.7-3.5l.7-3.6l.8-1.1l.7-1.5l.8,3.9l.7,2l.7,1.1l.8-3.8l.7,1.7l.7,4.5l.8-.3l.7,2l.8,1.3l.7-1.3l.7,.1l.8,1.7l.7-2.3l.7-2.6l.8-2.1l.7-2.6l.8,2.5l.7-.6l.7-1.5l.8-2.5l.7,1l.8-1.3l.7-5.9l.7-5.8l.8,1.5l.7,3.3l.7,4.2l.8,3.6l.7,4.4l.8,3.8l.7-1.6l.7,3.3l.8,.2l.7-1.8l.7,2.2l.8,1.6l.7-3.8l.8-.2l.7-1.9l.7-1.9l.8-.7l.7-2.2l.8-4.9l.7-9.2l.7-17.1l.8-13.1l.7,14.4l.7,17.9l.8,8.2l.7,8l.8-.1l.7,4.4l.7,2.7l.8-1.3l.7,1l.7-.2l.8-2.5l.7,3.5l.8-.9l.7,.8l.7-2.2l.8,2.1l.7-1.7l.8-.7l.7,3.5l.7-3.3l.8,2.1l.7,.8l.7,2.4l.8-6.9l.7,6.4l.8,3.5l.7-5.3l.7-.8l.8,6.6l.7-4.9l.7,2.8l.8-.5l.7-4l.8,3.1l.7-2.7l.7,4.3l.8,1.5l.7-3l.7,1.4l.8-1.1l.7,1.1l.8,.3l.7-1.2l.7-2.2l.8,1.3l.7-2.1l.8,2.8l.7-2l.7,.3l.8-3.5l.7-5.5l.7-3.6l.8-4.8l.7,2.3l.8,5.1l.7,6.3l.7-1.6l.8,7.9l.7-3.5l.7,2.7l.8-.5l.7,1.2l.8-2.3l.7,2.9l.7-1.2l.8,2l.7-4.7l.8,4.5l.7-.8l.7-.7l.8-1.8l.7,4.4l.7-.2l.8,2.1l.7-2.6l.8-.9l.7-4l.7,7.4l.8-2.6l.7,2.3l.7-2.2l.8,.6l.7-2l.8,1.6l.7,4.5l.7-6.7l.8,2.8l.7-1.5l.7-.1l.8,2.3l.7-3.3l.8,3.7l.7,.8l.7-.2l.8-.2l.7-2.9l.8-.3l.7,3.1l.7-2.3l.8-.4l.7-.4l.7,2.4l.8,.7l.7-1.9l.8-1.2l.7,2.4l.7-4.4l.8,4.4l.7-3.1l.7,4.6l.8-.8l.7-3.3l.8,4l.7-.8l.7-2.5l.8,4.4l.7-3.1l.8,.7l.7-2.3l.7,4.8l.8-1.7l.7,1.1l.7,.8l.8-1.8l.7-1.4l.8-2.1l.7,3.7l.7-1.1l.8,2.3l.7-6.8l.7,.2l.8,7.1l.7,0l.8-.9l.7-1.9l.7,1.4l.8,1.5l.7-.5l.7,.2l.8-1.2l.7-3.3l.8,1.8l.7-3.2l.7,3.6l.8-2.5l.7-1.7l.8,4.1l.7,2l.7-.2l.8,.2l.7-3l.7,1.8l.8,.4l.7-5.1l.8,3.3l.7,3.5l.7-2.5l.8-2.4l.7,3.7l.7,1.1l.8-2.2l.7,2.1l.8-2.8l.7-1.4l.7,2.3l.8-.6l.7,1.4l.8-.2l.7-7.1l.7,8.3l.8-2.1l.7,1.7l.7-.7l.8-2.2l.7,1.7l.8-2.9l.7,4.1l.7-1.4l.8-3l.7,5.2l.7,0l.8-.5l.7-1.7l.8-2.8l.7,3.4l.7-2.4l.8,2.7l.7-1.3l.7,2.2l.8-.3l.7-3.7l.8,2.3l.7-2.8l.7-.2l.8-1.8l.7-4l.8-6.7l.7-10.9l.7-6.6l.8,4.8l.7,7.2l.7,5.9l.8,15.3v3H22.3Z"/>
<path d="M21.8,163.9V160.9l.7-7.5l.8-3.9l.7-1.7l.8,1.2l.7,.8l.7-3.4l.8-1.4l.7-4l.7-3.5l.8-1.4l.7-.9l.8,2.2l.7,2l.7,2.4l.8-.2l.7,.8l.7,1.8l.8-.9l.7,6.5l.8-3.7l.7,2.4l.7-2.9l.8,5.7l.7-5.5l.7-2.8l.8-2.5l.7-1.6l.8-1.4l.7,4.8l.7-4.2l.8,.3l.7-1.6l.8-1.7l.7-4.7l.7-6.3l.8,.4l.7,4.5l.7,1.8l.8,7.8l.7,1.3l.8,4.5l.7,2.3l.7-.2l.8,1.2l.7,1l.7-2.1l.8-1.2l.7-2.1l.8,.3l.7-1.2l.7-1.7l.8-1.7l.7,.5l.8-4.3l.7-10.9l.7-18l.8-12.4l.7,15.2l.7,16.5l.8,8.8l.7,5.7l.8,4.5l.7-.5l.7,2.2l.8,1.6l.7,.8l.7-2.8l.8,1.5l.7,3.3l.8-2.4l.7,.3l.7-4.3l.8-.9l.7,4.3l.8,1.2l.7-.1l.7-1.3l.8,1.3l.7,2.5l.7,1.4l.8,.3l.7-2.2l.8,1l.7,1.8l.7-3.2l.8,3.1l.7-1.9l.7,1.8l.8,.3l.7-.7l.8,2.4l.7,.9l.7-1.1l.8-3.8l.7,5.7l.7-7.5l.8,.7l.7-1l.8,4l.7,2.2l.7-.5l.8-2.6l.7-2.6l.8-.6l.7,1.7l.7-3.4l.8-.3l.7-4.1l.7-4.2l.8-4.8l.7,1.1l.8,5.4l.7,6.7l.7,1.4l.8,5.7l.7-5l.7,7.9l.8-1.7l.7-1.7l.8-3.3l.7,1.4l.7,2.6l.8-.7l.7,.8l.8-2.8l.7,4.2l.7-5.3l.8,2.4l.7,2.1l.7-1.4l.8-1.2l.7,2.9l.8,.5l.7,.8l.7-.5l.8-.6l.7-2l.7-2l.8,7.2l.7-3.5l.8-.9l.7,4l.7-2l.8-.1l.7-.8l.7-4.8l.8,8l.7-2l.8,.6l.7,.2l.7,.3l.8-5.7l.7,3.3l.8-.7l.7,.2l.7,4.5l.8-3.6l.7,2.1l.7-3.6l.8,5l.7-.8l.8-.1l.7-4.5l.7,4.5l.8-.9l.7-4.8l.7,.5l.8-.6l.7,2.6l.8,.5l.7,3.4l.7-4.7l.8,.1l.7,4l.8-.7l.7-2l.7,1.2l.8,.2l.7-1.6l.7,1.3l.8,1.2l.7,1l.8-4.2l.7,.7l.7-2.3l.8-.1l.7,2.9l.7,3.4l.8-5l.7,3.5l.8-.1l.7-3.3l.7,1.4l.8,1.4l.7-.1l.7,.6l.8,0l.7,.2l.8,0l.7-1.1l.7-2l.8,2.3l.7,0l.8,1.5l.7-1l.7,.8l.8-2.2l.7,1.5l.7,1.2l.8-.7l.7,.6l.8-1.2l.7-1.2l.7-1.2l.8,2.5l.7-1.1l.7,.2l.8-.3l.7-.4l.8,2l.7,.8l.7,0l.8-3.4l.7,3l.8,1.1l.7-8.5l.7,5.2l.8,1.1l.7,1.8l.7-.2l.8,.3l.7-1.4l.8,1.7l.7-6.1l.7,5.1l.8,.2l.7-2.6l.7,1.8l.8,0l.7-.4l.8,0l.7-1.7l.7-2l.8,4.6l.7-.4l.7-.7l.8-.4l.7-2.3l.8,4.9l.7-4.4l.7-2l.8-1.1l.7-4l.8-6.7l.7-10.5l.7-8.1l.8,7.1l.7,5.7l.7,6.4l.8,15.9v3H21.8Z"/>
<path d="M21.3,164.3V161.3l.7-7.1l.8-4.1l.7-1.1l.8-.4l.7-.6l.7-.6l.8-4.5l.7-1.2l.7-2.8l.8-2.7l.7,1.9l.8-.3l.7,2l.7,1.5l.8,.8l.7,.2l.7,.7l.8,.7l.7-.2l.8,3.9l.7,0l.7-.3l.8-2l.7,1.3l.7-4.1l.8-.1l.7-3.3l.8-.6l.7,4.3l.7-1l.8-1.7l.7-.3l.8-3.8l.7-5.3l.7-4.4l.8,.8l.7,3l.7,3.7l.8,4.7l.7,3.2l.8,4.6l.7-.6l.7,3.6l.8-1.3l.7-.5l.7,2.3l.8-4.6l.7,1.3l.8,.7l.7-3.6l.7,.2l.8-1.1l.7-1.3l.8-6.5l.7-9.5l.7-17.5l.8-12.6l.7,14.4l.7,16.4l.8,12l.7,4.9l.8,0l.7,3.1l.7,2.1l.8,3.3l.7-2.8l.7,1l.8,2.6l.7-3.7l.8-.1l.7,1.8l.7-1.3l.8,1.4l.7-7l.8,7.3l.7-5l.7,1.5l.8-.5l.7,1.9l.7,4.7l.8-1.2l.7,1l.8-.3l.7-2.9l.7,.1l.8,.6l.7,1l.7-4.3l.8,4.3l.7,.3l.8,0l.7-.2l.7,1.1l.8-1.1l.7,3.5l.7-2.5l.8,2.1l.7-3.1l.8,1.9l.7-.9l.7-1.5l.8,.8l.7-2.7l.8,2.7l.7-1.7l.7-1.2l.8-.5l.7-4.4l.7-4.9l.8-5.1l.7,2.7l.8,5.7l.7,3.7l.7,2.9l.8,4l.7-1.9l.7,1.4l.8,.4l.7,1.3l.8,.7l.7-2.1l.7,2.5l.8-2.4l.7,3l.8-1.9l.7,3.5l.7-4.4l.8,3.5l.7-1.9l.7,0l.8,.4l.7,1.3l.8,2.4l.7-1.2l.7,1.1l.8,1.3l.7-5.4l.7,2.2l.8-1.9l.7,.6l.8,1.6l.7,.5l.7-2.6l.8,.6l.7-.4l.7-1.1l.8,2.9l.7-1.2l.8,.8l.7-1l.7,.5l.8,4.2l.7-3.6l.8-2.3l.7-1l.7,4.9l.8-.8l.7,.7l.7-1.5l.8,2.5l.7-3.3l.8,.7l.7-1.5l.7-1.1l.8,2.2l.7,3.7l.7-4.2l.8,3.4l.7-2.9l.8,2.7l.7,.6l.7-3.5l.8,2.3l.7-.2l.8-.8l.7-1.1l.7,2.6l.8-1.9l.7,1.1l.7-3.4l.8-.7l.7,4.4l.8,1l.7,1.2l.7-6.8l.8,.4l.7,2l.7,3.3l.8-.9l.7-1.4l.8-3.5l.7,5l.7-1.7l.8,.2l.7-1.6l.7,.9l.8,2.1l.7-.7l.8,1.2l.7-.2l.7,1.3l.8-1.6l.7-2.4l.8-1.5l.7,2.3l.7,3.1l.8-1.4l.7,.3l.7,.5l.8-1.7l.7,.7l.8,.8l.7,.5l.7-4.6l.8,1.6l.7,2.2l.7,1.4l.8-.8l.7-.5l.8-1.7l.7-1.3l.7,3.7l.8-.8l.7-1.2l.8-.1l.7,1.6l.7-1.6l.8,1.1l.7-.2l.7,.8l.8-2.8l.7,.1l.8,.3l.7,3.2l.7-2.4l.8,1.6l.7-2.2l.7-.7l.8,2.8l.7,.6l.8-1.7l.7-.5l.7,2.8l.8-2.2l.7,.7l.7-3.1l.8,3.5l.7-.7l.8,.4l.7-3l.7-1.4l.8-1.4l.7-3.9l.8-5.8l.7-11.5l.7-7l.8,4.4l.7,6.5l.7,7.5l.8,15.2v3H21.3Z"/>
<path d="M20.8,164.8V161.8l.7-8.5l.8-2.1l.7-1.2l.8-.9l.7,1.1l.7-1.5l.8-2.6l.7-2.8l.7-5.5l.8-2.3l.7,1l.8,3.3l.7,2.1l.7-2.2l.8,2.8l.7-.7l.7,2.5l.8,1.4l.7,2.6l.8-1.5l.7,3.1l.7-2.9l.8,.9l.7-3.2l.7-1.8l.8,.1l.7-.7l.8-2.1l.7,.9l.7-2.4l.8-2l.7,2.4l.8-2.3l.7-5.4l.7-4.1l.8-.2l.7,4.4l.7,1.4l.8,6.4l.7,2.7l.8,2.1l.7,3.4l.7-1.2l.8,4.3l.7-3.4l.7-1.1l.8,.6l.7,.5l.8-5.5l.7,1l.7,.6l.8-2.9l.7,.8l.8-4.5l.7-11.7l.7-18.2l.8-11.1l.7,14.2l.7,18.7l.8,9.3l.7,2.8l.8,3.1l.7,2l.7,1.3l.8,1.3l.7,2.1l.7-1.8l.8-.6l.7,4.1l.8-8.1l.7,2l.7,2.3l.8-2.7l.7,.2l.8,4.1l.7-2.4l.7,3.4l.8-3.5l.7-.6l.7,3.7l.8,7l.7-6.4l.8-.4l.7,3.9l.7-.5l.8-.9l.7-4.3l.7,3.1l.8-1.2l.7,3.5l.8-2.3l.7,1.8l.7-5l.8,5.2l.7,2.3l.7-7.3l.8,6.7l.7,1.4l.8-6.1l.7,2.4l.7-1l.8-1.5l.7-.7l.8-.9l.7-.4l.7,.3l.8-1.7l.7-2.7l.7-6.2l.8-4l.7,2.4l.8,3.6l.7,5.9l.7,4.9l.8,.2l.7,3.5l.7-1.3l.8,2.3l.7-.8l.8-1.1l.7,.5l.7-3.2l.8,2.3l.7,6.5l.8-2.7l.7-4.5l.7,3.4l.8-1.8l.7,.7l.7-2.1l.8,3.3l.7,1.7l.8-2.6l.7-1.9l.7-1l.8,3.6l.7,2.3l.7-2.7l.8-.3l.7,.7l.8-1.9l.7-.5l.7,4.2l.8-1l.7-3.1l.7,2.9l.8-.2l.7-2.4l.8,6.2l.7-3.7l.7-1.4l.8,1.2l.7-1.6l.8,1l.7,1.6l.7-5.6l.8,6.4l.7-2.6l.7,3.2l.8-1.5l.7-1.5l.8,1.8l.7,1.3l.7-.8l.8,1.6l.7-.2l.7,0l.8-2.3l.7-4.3l.8,4.9l.7,1.8l.7-2.2l.8-3.9l.7,7.1l.8-5.4l.7,4.5l.7-.8l.8,1.5l.7-2.5l.7-.1l.8-3.9l.7,4.7l.8-1.3l.7,1.5l.7-.2l.8,.2l.7,1.8l.7-4.4l.8,2.5l.7,1.1l.8-2.4l.7,.6l.7,.8l.8-1.6l.7,1.1l.7,1.6l.8-.1l.7-1.4l.8,.2l.7,0l.7,0l.8,.7l.7-2l.8-2.6l.7,4.5l.7-.5l.8,0l.7,.1l.7,1.6l.8,0l.7-.6l.8-.9l.7-1.4l.7-1l.8,.3l.7,1.3l.7,.9l.8-.9l.7,1.9l.8-3.3l.7,0l.7-1.7l.8,1.6l.7-2.8l.8,5.1l.7-.4l.7-.3l.8-.6l.7,.6l.7,.7l.8-2.8l.7,.9l.8-.3l.7,3.9l.7-2.2l.8-3.2l.7,5l.7-1.6l.8-4.7l.7,4l.8,2.2l.7-1.4l.7,1.8l.8-.1l.7-5.3l.7,3.7l.8-3.3l.7,1.5l.8-2.4l.7,.4l.7-.4l.8-1.6l.7-2.6l.8-7.4l.7-11.4l.7-6.9l.8,4.9l.7,6.5l.7,8.2l.8,14.4v3H20.8Z"/>
<path d="M20.4,165.1V162.1l.7-6.7l.8-5.4l.7-.3l.8-.3l.7-.4l.7-1.1l.8-3l.7-3.1l.7-1.8l.8-4.2l.7,.4l.8,3.1l.7,3.5l.7-1.5l.8,.1l.7,1.3l.7,.8l.8,3.4l.7,.8l.8,.9l.7-1.1l.7,.2l.8-.1l.7-2.4l.7,.1l.8-2.9l.7,1.5l.8-1.6l.7-1.1l.7,.2l.8-2.3l.7,.8l.8-2.9l.7-4.8l.7-4.3l.8,.1l.7,3.3l.7,1.9l.8,6.2l.7,1.7l.8,6.4l.7-.2l.7,1.6l.8-.8l.7,.5l.7-.7l.8-.7l.7-.4l.8-.3l.7-3.8l.7-.1l.8,3.2l.7-4.6l.8-5.5l.7-10.1l.7-17l.8-13.2l.7,14.6l.7,18.2l.8,10.2l.7,4.8l.8,.2l.7,.1l.7,3.4l.8,2.8l.7,2.2l.7-.2l.8-3.7l.7,2.1l.8-1.3l.7-1.6l.7-.9l.8,3.5l.7-3.2l.8,1.2l.7,4l.7-1l.8,2.4l.7-3.7l.7,4.3l.8-.9l.7-.2l.8-3l.7,1.8l.7,1.4l.8-1.1l.7,.1l.7,1.8l.8-2.1l.7,2.8l.8,.3l.7-1.2l.7-.8l.8,1.8l.7,.8l.7,.9l.8-3.5l.7,1.4l.8-3l.7,2.7l.7-1.7l.8-1.2l.7,1.1l.8-.7l.7,.9l.7-2l.8-4l.7-1.4l.7-3.9l.8-6l.7,2.8l.8,3.3l.7,4.4l.7,2l.8,7l.7-1.9l.7,6.2l.8-8.4l.7,2.4l.8,3.9l.7-4.5l.7,5.9l.8-4.2l.7-.8l.8-.6l.7,3.2l.7-.3l.8-.1l.7-.3l.7,1.3l.8-1.7l.7-.4l.8,.5l.7,3l.7-4.3l.8,4.7l.7-.1l.7-2.5l.8,4l.7-3.2l.8-2.8l.7,2.5l.7,3.5l.8-3.2l.7,.7l.7,1.3l.8-.4l.7-3l.8,.4l.7,1.8l.7-.6l.8,1l.7-1.5l.8,2.6l.7-4.6l.7,1.5l.8,.7l.7,3.5l.7-3.7l.8,.9l.7,4.3l.8-2.1l.7-1.1l.7,2.4l.8-1.6l.7-3.7l.7-1l.8,1.9l.7,3.4l.8,.7l.7-2.1l.7-.1l.8,2.5l.7-2.4l.8-.4l.7,1.2l.7,.2l.8-3.5l.7,3.1l.7-.8l.8,3.6l.7-4.1l.8,3.9l.7-3.2l.7,2.6l.8-2.6l.7,1.2l.7-.5l.8,2.4l.7-3.9l.8,3.3l.7,.7l.7-4.6l.8,1.2l.7-2.5l.7,5.1l.8,.3l.7-2.2l.8-3l.7,.9l.7,1.5l.8-.3l.7,2.5l.8-.1l.7-1.1l.7,1.3l.8-.4l.7,.1l.7,.4l.8,.8l.7-.6l.8-.1l.7-2.6l.7-.6l.8,3.2l.7,.2l.7,.4l.8-2.4l.7,1.9l.8-5.1l.7,4.6l.7-3.5l.8,2.1l.7,.1l.8,1.6l.7-.8l.7,1l.8-1.1l.7,1.5l.7-3.6l.8,3.6l.7,.3l.8-.8l.7-1.5l.7,2.3l.8-1.5l.7-3.7l.7,2.1l.8,.6l.7,2.6l.8-4.5l.7,2.4l.7-2.5l.8,3l.7,1.3l.7-4.8l.8,4.3l.7-2.3l.8-2.3l.7,.8l.7,.5l.8-3.2l.7-4.5l.8-6.1l.7-10.6l.7-8.8l.8,6.1l.7,9l.7,4.3l.8,16.3v3H20.4Z"/>
<path d="M19.9,165.6V162.6l.7-5.9l.8-5.5l.7,.5l.8-2.7l.7,1.5l.7-2.9l.8-1.9l.7-1.8l.7-4.6l.8-1.5l.7,.1l.8,2.7l.7,2.3l.7,.8l.8-1.3l.7-1.4l.7,4l.8,2.4l.7,1.7l.8-1.9l.7,.7l.7,3.8l.8-1.5l.7-.5l.7-6.2l.8-1.8l.7,2.3l.8-.1l.7,.5l.7-1l.8-4.1l.7,1.4l.8-3.5l.7-5.6l.7-4.3l.8,1.1l.7,3.8l.7,4.1l.8,4.1l.7,2.6l.8,2.7l.7,1.2l.7,1.7l.8-.7l.7,2.6l.7-.4l.8-2.4l.7-.6l.8-.3l.7-4.1l.7-.4l.8,1.7l.7-2.7l.8-5.3l.7-9.9l.7-17.9l.8-12.1l.7,14.7l.7,18.7l.8,8.7l.7,7.2l.8,.1l.7,2.5l.7,1l.8,2.2l.7-2.4l.7,3.6l.8-4.3l.7-.3l.8,.6l.7,2.7l.7-2.3l.8,2.5l.7-4.8l.8,8.3l.7-1.4l.7-4.8l.8,.8l.7,.9l.7-.9l.8,4.3l.7-2.9l.8,3.2l.7,3.8l.7-3.2l.8-4.2l.7,1.1l.7,2.9l.8-3.4l.7,4l.8,2.1l.7-3.9l.7-1l.8,4l.7-4.5l.7-3.2l.8,1.2l.7,2l.8,.8l.7-.3l.7,7.7l.8-7l.7-1.4l.8,1.1l.7-1.2l.7,.1l.8-1.7l.7-5.6l.7-3.6l.8-4.3l.7,1.5l.8,6.8l.7,2.7l.7,3.2l.8,2l.7,1l.7-.3l.8,1.2l.7,3.9l.8-6.1l.7,6.7l.7-4.5l.8-1.4l.7,2.4l.8,2.5l.7-2.9l.7,1.9l.8-2.1l.7-.1l.7,5.4l.8-3.6l.7,0l.8,3.2l.7-2.3l.7-2.8l.8-2l.7,6.2l.7-1.8l.8,.2l.7-1.2l.8-.4l.7,2l.7,3.5l.8-4.2l.7-.1l.7-1.9l.8-2.1l.7,2.9l.8,.5l.7-.2l.7,.2l.8,.7l.7,.2l.8,1.3l.7,2.5l.7-8.1l.8,5l.7,1l.7-1.4l.8,1.3l.7-2.2l.8,2.5l.7-.9l.7,1.1l.8-.8l.7-2.3l.7,.1l.8-.1l.7-4l.8,6.5l.7,0l.7-2.3l.8,2.7l.7-1.5l.8,2.6l.7-.2l.7-.5l.8,.2l.7-1.8l.7,.4l.8,.9l.7,.3l.8,2l.7-3.6l.7,3.2l.8-5.8l.7,5.1l.7,1.4l.8-2.4l.7-2.9l.8,4.4l.7-4.8l.7,5l.8-3.9l.7,2.6l.7-.9l.8,2.9l.7-2.1l.8,1.6l.7-3.5l.7,3.4l.8,.2l.7-2l.8,.4l.7-1l.7,2.7l.8-1.8l.7-4.2l.7,4.2l.8-.7l.7,2.9l.8-2.7l.7-.1l.7,2l.8,.8l.7-1.4l.7-.3l.8,1.7l.7-5.7l.8,2l.7,2l.7,1.2l.8-4.1l.7,1l.8,1.5l.7,1.4l.7-1.5l.8-1.6l.7,.1l.7-.5l.8,2.9l.7-3.7l.8,4.1l.7-3.7l.7,.5l.8,3.8l.7-1.8l.7-2.8l.8,2.7l.7,1.7l.8,.3l.7-3.7l.7,2.7l.8-3.5l.7,2.5l.7-2.4l.8,2.3l.7,.2l.8,.1l.7-3.1l.7-.4l.8-1.7l.7-3.3l.8-6.6l.7-12.6l.7-5l.8,2.7l.7,8l.7,7.2l.8,15v3H19.9Z"/>
<path d="M19.4,166.4V163.4l.7-6.6l.8-1.9l.7-2.7l.8,.4l.7-3.2l.7-1.7l.8-.3l.7-4.3l.7-2.6l.8-2.9l.7,1l.8,2.4l.7,2.9l.7-.1l.8,1.6l.7-.9l.7,.2l.8,2.9l.7,5.4l.8-1.8l.7-1.2l.7-1.5l.8,1.2l.7-2.6l.7-2.5l.8,1l.7-2l.8-.6l.7,1.2l.7-2.9l.8-1.1l.7,2l.8-3.1l.7-4.3l.7-6.4l.8,.4l.7,6.2l.7,.9l.8,6.6l.7,4.1l.8,.7l.7-2.7l.7,6l.8,0l.7-1.2l.7,.3l.8-.7l.7-2.2l.8-.3l.7-.1l.7-1.5l.8-.5l.7-1.3l.8-5.4l.7-10.3l.7-18.4l.8-11.6l.7,13.9l.7,18l.8,10.1l.7,5.1l.8,.7l.7,3.4l.7,1.9l.8,1.1l.7-1.4l.7,2.2l.8-.9l.7-2.5l.8-1.2l.7,4.8l.7-3.7l.8-2.3l.7,1.4l.8,4.2l.7-1.4l.7,1.7l.8,1.2l.7-3.4l.7,1.2l.8,1.2l.7-1.3l.8,0l.7,1.8l.7,.2l.8-.2l.7,4.8l.7-3.2l.8-.3l.7,5.1l.8-6.9l.7,1.6l.7,.1l.8,.7l.7-2.4l.7,.5l.8,2.3l.7,2.3l.8-5.1l.7-.7l.7,1.2l.8-.5l.7,1.6l.8-.5l.7-1.5l.7-.4l.8,.2l.7-4.3l.7-7.5l.8-3.1l.7,1.7l.8,4.4l.7,4l.7,4.5l.8,1.5l.7,2.6l.7,.8l.8,1.2l.7-1.3l.8-1.3l.7,2.9l.7,1.3l.8-3.3l.7-.1l.8,.9l.7-1.8l.7,1.9l.8-2.2l.7,3.3l.7,.1l.8,.9l.7-2l.8-.1l.7,1.8l.7-2.2l.8-.3l.7,1.1l.7,2.8l.8-3.3l.7,3.7l.8-.3l.7-2.2l.7-1l.8,.8l.7,.2l.7-1.1l.8-.9l.7,3.4l.8-2.2l.7,.5l.7,.5l.8-3.3l.7,6.1l.8-3.7l.7-1.7l.7-2l.8,3.9l.7,1l.7,1.1l.8,2.3l.7-3.7l.8-2.2l.7,2.5l.7,1.3l.8-1.1l.7-.2l.7-.1l.8-2.9l.7,1.8l.8-1.6l.7,3.7l.7-2.3l.8,4.7l.7-1.5l.8-1.3l.7,1.7l.7-.8l.8,0l.7,0l.7-2.3l.8,4.1l.7-7.2l.8,6.8l.7-3l.7-.7l.8,1.1l.7-1.6l.7,4.7l.8-5.5l.7,5l.8-3.2l.7,1.2l.7-.1l.8-6.5l.7,8.8l.7-4.4l.8-1.3l.7,4.3l.8,.9l.7-2.3l.7,1.9l.8-1.5l.7,2l.8-.9l.7,2.2l.7-.1l.8-1.6l.7,1l.7-.8l.8,1.3l.7-5.9l.8,4.6l.7-.9l.7,2.2l.8-.4l.7-1.8l.7,.9l.8-3l.7,.9l.8,1.4l.7,1.8l.7,.3l.8-4.3l.7,2.6l.8-5.3l.7,1.9l.7,3.7l.8-.3l.7,1.8l.7-2.4l.8-1.1l.7,3.1l.8-2.6l.7,2.8l.7-2.1l.8-.7l.7,2.3l.7-2.3l.8-2.3l.7,3.7l.8,1.3l.7-2.5l.7,1.8l.8-1l.7-3.2l.7,2.8l.8,1.7l.7-4.8l.8,2.6l.7-1.9l.7,.3l.8-3l.7-2.2l.8-7.4l.7-11.8l.7-6.5l.8,4.4l.7,8.6l.7,5.8l.8,14.8v3H19.4Z"/>
<path d="M18.9,166.9V163.9l.7-7.8l.8-3.7l.7-1.8l.8,2.6l.7-2.4l.7-1.1l.8-3.4l.7-1.8l.7-2.5l.8-4.7l.7,1.5l.8,3.4l.7,1l.7,.8l.8-.2l.7-1.4l.7,4.3l.8,3.6l.7-1.7l.8,.8l.7,2.3l.7,.9l.8-.4l.7-3.1l.7-6.4l.8,2l.7-.8l.8,.4l.7-.3l.7,.1l.8-.9l.7-.3l.8-4.2l.7-3.1l.7-5.1l.8,.1l.7,3.8l.7,3l.8,2.6l.7,4.1l.8,3l.7,1.7l.7-.1l.8,2.2l.7-1.7l.7-.3l.8,1.2l.7-1.5l.8-2l.7-1.2l.7,1.8l.8-1.9l.7-2.6l.8-5.4l.7-9.4l.7-18.8l.8-11l.7,14.7l.7,16.8l.8,10.6l.7,3.8l.8,2.3l.7,3.4l.7-.1l.8,2.8l.7-2.1l.7,2.2l.8,.5l.7-.2l.8-3.2l.7,1.2l.7-2.7l.8,2.6l.7-3.8l.8,2.3l.7,1.1l.7,2.6l.8-.5l.7,.2l.7,3.1l.8-3.8l.7,2.2l.8,4.5l.7-4.8l.7,4l.8-2.5l.7,3.9l.7-3.6l.8,1.5l.7-6l.8,5.5l.7,2.2l.7-8.4l.8,3.7l.7,3l.7-2.6l.8-1.2l.7,.9l.8,1.3l.7-.9l.7,4.5l.8-7.4l.7,5.1l.8-3.7l.7-.4l.7,.2l.8-.9l.7-5.9l.7-3.7l.8-4.9l.7,1l.8,4.8l.7,6l.7,2.5l.8-.5l.7,8.1l.7-2.9l.8-3.1l.7,2.5l.8,.4l.7-2.2l.7,5.6l.8-2.8l.7,3.8l.8-3.9l.7,4.3l.7-4.5l.8,2.9l.7-.5l.7-4.8l.8,4.7l.7-1.8l.8,2.4l.7-2.8l.7,1l.8-.1l.7,2.2l.7-.8l.8,2.1l.7-1.8l.8-.6l.7-1.9l.7,.4l.8,1l.7-2.4l.7,2l.8-1.3l.7,3.8l.8,2.3l.7-2.6l.7-2.2l.8-.8l.7,2.3l.8,1.4l.7-.4l.7-1.2l.8,2.7l.7-.3l.7,1.1l.8-2.9l.7,1.5l.8-3.8l.7,2.8l.7-.7l.8,1.6l.7-2.6l.7,2.5l.8,.7l.7-1.2l.8,.2l.7-1.3l.7,.2l.8-3.4l.7,5.2l.8-3.8l.7-2.2l.7,.2l.8,3.5l.7,1.1l.7,1.2l.8-3.3l.7,2.1l.8-2.1l.7,3.6l.7-3.1l.8,3.2l.7-1.2l.7-2.5l.8,3.2l.7-.3l.8,1.5l.7-2.6l.7,.5l.8,1l.7-1.8l.7-1.5l.8,2.2l.7-1l.8,3.5l.7-.5l.7,.8l.8-.4l.7-.5l.8-3.7l.7,.9l.7,1l.8,.9l.7-5.4l.7,6.8l.8-2.2l.7-2.1l.8,2.5l.7,.7l.7-.2l.8-1.7l.7,2l.7-.8l.8,0l.7,.7l.8,1l.7-.7l.7,.7l.8-3.2l.7,3.1l.8,0l.7-4.2l.7,1.6l.8,3l.7,.1l.7-2.1l.8-1.9l.7,.7l.8-1.4l.7,2.6l.7,0l.8,1.8l.7-.9l.7-2.3l.8,3.4l.7-3.1l.8-1.1l.7,2.3l.7-2l.8,3.5l.7,.4l.7-2.1l.8-1l.7,3.1l.8-5.9l.7,2.1l.7-.9l.8-1.8l.7-3.6l.8-6.4l.7-12l.7-7l.8,5.8l.7,5.9l.7,7l.8,15.1v3H18.9Z"/>
<path d="M18.5,167.3V164.3l.7-6.2l.8-5.5l.7-.3l.8,1.2l.7-2.2l.7,.4l.8-5.3l.7-2.4l.7-2.4l.8-2.8l.7,1.2l.8,3.2l.7,1.7l.7,.2l.8-1l.7,3.3l.7,1.7l.8-1l.7,3.8l.8-.8l.7,1.4l.7-2.4l.8-.9l.7,2.1l.7-4.1l.8-2.5l.7-.7l.8-.4l.7,2.9l.7-2.4l.8-2.5l.7,.4l.8,0l.7-5.9l.7-4l.8-1.2l.7,3.6l.7,3.1l.8,3.6l.7,5.1l.8,6l.7-1l.7,.1l.8,.3l.7-1.6l.7,1.6l.8,.9l.7-2.6l.8-.8l.7-3.6l.7-1l.8-2.9l.7,1.1l.8-2.4l.7-13.6l.7-16.8l.8-12.2l.7,15.2l.7,16.6l.8,10.4l.7,4.8l.8,2.7l.7,5.4l.7-1.2l.8-.9l.7,5.6l.7-4.8l.8-3.4l.7,5.6l.8-1.5l.7-2.8l.7,2.4l.8,.9l.7,1.4l.8,.6l.7-.6l.7-2.7l.8,2.8l.7,1.4l.7-2.3l.8,2.9l.7,.4l.8-2.9l.7-.4l.7,3.7l.8-2.8l.7-2.4l.7,5.2l.8-6.5l.7,4.9l.8-2.7l.7,5l.7-2.2l.8,1.3l.7,1.4l.7-3.3l.8-.5l.7,2.6l.8,3.2l.7-4.6l.7-2.3l.8,.9l.7,1l.8,.5l.7-1.7l.7-1.6l.8-3.5l.7-2.1l.7-4.2l.8-5.8l.7,3.2l.8,4.5l.7,4.8l.7,3.7l.8-1.4l.7,2.5l.7,2.3l.8-1.8l.7,.4l.8,2.5l.7,1.7l.7-3.7l.8,5.7l.7-1l.8-7.5l.7,5.7l.7-4.5l.8,3.5l.7-2.4l.7,5.9l.8-5.4l.7,6l.8-1.3l.7-3.3l.7,.3l.8,3.4l.7-5.4l.7,5l.8-3.7l.7-.1l.8,4.2l.7,2l.7-3.9l.8,3.3l.7-3.5l.7,3.8l.8-2.8l.7,2.2l.8-2.2l.7,.3l.7-.3l.8-1.3l.7,1l.8-2.4l.7,4.3l.7-.9l.8,1.7l.7-1.3l.7,1.9l.8-1.1l.7-4.3l.8,.2l.7,2.1l.7,2.2l.8-2l.7-1.7l.7,.1l.8-1.1l.7,2.1l.8-.3l.7,3.5l.7-1.6l.8,.3l.7-1l.8-2.2l.7,3.2l.7-1.2l.8,.9l.7,.3l.7-1.9l.8,.2l.7,1l.8,1.2l.7-.6l.7,.8l.8-.4l.7,1.5l.7-.4l.8-.6l.7-1.4l.8,2.9l.7-1.5l.7-5.3l.8,.5l.7,5.7l.7-.4l.8-5.3l.7,4.4l.8-1.5l.7,.8l.7,2.5l.8-.1l.7,.2l.8-1.8l.7-2.5l.7-2.5l.8,6.6l.7-2.9l.7,2.2l.8-4l.7,2.9l.8,.2l.7-.8l.7,1.3l.8-1.7l.7,2.9l.7-.4l.8-5.5l.7,5.1l.8-.8l.7-.7l.7,2.3l.8-.4l.7-9l.8,7.1l.7-1.7l.7,1.4l.8,.5l.7,1.1l.7-1.1l.8,1.6l.7-4.8l.8,3.9l.7,.6l.7-1.9l.8,.7l.7-.2l.7,2l.8-.7l.7,.4l.8-3.8l.7,1.4l.7,1.8l.8-1.4l.7-.6l.7,2.4l.8-5.1l.7-1.8l.8,6.7l.7-2.4l.7-2.7l.8-.4l.7-3.6l.8-6.6l.7-11.9l.7-7.7l.8,4.7l.7,8.9l.7,6.3l.8,14.8v3H18.5Z"/>
<path d="M18,168V165l.7-5.8l.8-4.2l.7-2.6l.8,.5l.7-1.7l.7-1.4l.8-1.1l.7-1.8l.7-5.2l.8-1.8l.7,1l.8,3.2l.7,1.2l.7,2.1l.8,.9l.7-3.5l.7,4.4l.8,.9l.7,1.6l.8,2.4l.7,.3l.7-1l.8-.1l.7-4.1l.7,.4l.8-4.5l.7,1.3l.8,2.3l.7-2.2l.7-4l.8,2.1l.7-.6l.8-2.2l.7-4.5l.7-5.4l.8,.1l.7,3.1l.7,4.2l.8,2.3l.7,6l.8,4l.7-.8l.7,1.7l.8-.4l.7-.7l.7-.8l.8,.9l.7-2l.8,1.2l.7-6.9l.7,1.3l.8-1.2l.7-1.8l.8-3.8l.7-8.6l.7-17.9l.8-12.7l.7,14.7l.7,17.2l.8,10.9l.7,3l.8,4l.7,1l.7-1.3l.8-.4l.7,5.6l.7,.8l.8-2.9l.7,1.8l.8-6.2l.7,7l.7-5.7l.8,4.8l.7-2l.8,1.4l.7,2.8l.7-2.8l.8,.7l.7,1.3l.7,1l.8,3.6l.7-7l.8,3.5l.7,1l.7,.3l.8-3.4l.7,2.8l.7-2.5l.8,5.8l.7-4.9l.8,2l.7,.2l.7-3.3l.8,4.8l.7-5.2l.7,3.5l.8-.5l.7-.8l.8,2.3l.7-2.8l.7,1.1l.8-.4l.7-.2l.8-.3l.7,.9l.7-3.7l.8-1.6l.7-2.6l.7-5.9l.8-3.8l.7,1.1l.8,6.2l.7,4.8l.7,3.3l.8-.8l.7,1.8l.7-2.4l.8,6.3l.7-1.1l.8,.5l.7-2.2l.7,1.5l.8,2.7l.7-3.4l.8,3.9l.7,.8l.7-2.2l.8-.3l.7-2.2l.7,1.8l.8,2.7l.7-.4l.8,.7l.7,1.5l.7-6.6l.8,5.3l.7-2.4l.7-.2l.8,.8l.7-1.9l.8,.1l.7,.9l.7,0l.8-2.7l.7,6.6l.7-1.3l.8,.2l.7-2.2l.8,1.9l.7-5.3l.7,7.5l.8-8.2l.7,6.1l.8-5.2l.7,4.2l.7,1.1l.8,1.2l.7-1.1l.7-1.6l.8-.6l.7,3.2l.8-6.6l.7,2.9l.7,0l.8-.7l.7,2.9l.7-2l.8,.1l.7,4.2l.8-.4l.7,.4l.7-4.1l.8-1.6l.7-1l.8,1.6l.7,2.5l.7,2.9l.8-4.7l.7-.1l.7,2.5l.8,.9l.7-.7l.8-1.4l.7,.2l.7-.1l.8,1.3l.7,1l.7-5.9l.8,1.3l.7-.3l.8,4.4l.7-.5l.7-4.2l.8,5.8l.7-6.3l.7,3.1l.8,1.6l.7,1.5l.8-2l.7,2.4l.7-1.6l.8-1.9l.7,2.5l.8-5.7l.7,2l.7,4.2l.8-.5l.7-5.9l.7-.2l.8,4.2l.7-3.7l.8,5.1l.7,1.6l.7-2l.8-1.1l.7,2.2l.7,.5l.8-.4l.7,.4l.8-4.3l.7,1.5l.7,1.9l.8-1.6l.7,1.1l.8,.3l.7-4.6l.7,6.1l.8-.5l.7-.3l.7-1.7l.8,.8l.7-2.4l.8,2.9l.7-3.8l.7,4.5l.8-2.4l.7,1.5l.7-.2l.8-3l.7,3.6l.8-3.6l.7,3.6l.7,.3l.8-1.3l.7-.7l.7,.7l.8-1.7l.7,2.5l.8-5.2l.7,2.1l.7-2.8l.8-.1l.7-2.8l.8-6.4l.7-13.5l.7-5.7l.8,4.6l.7,8.7l.7,4.1l.8,16.5v3H18Z"/>
</g></g>
<g stroke="#666" stroke-width="1" fill="none">
<path d="M79.5,5.5 H271.5 V96.5"/>
<path d="M79.5,5.5 L18,74 V165 H210 L271.5,96.5"/>
</g>
<g stroke="#606060" stroke-width="1">
<path d="M34.6,165 v-3"/>
<path d="M75.6,165 v-3"/>
<path d="M116.6,165 v-3"/>
<path d="M157.6,165 v-3"/>
<path d="M198.6,165 v-3"/>
</g>
<g font-family="'Liberation Serif', serif" font-size="11.5" fill="#222" class="k" text-anchor="middle">
<text x="34.6" y="180">100</text>
<text x="75.6" y="180">200</text>
<text x="116.6" y="180">300</text>
<text x="157.6" y="180">400</text>
<text x="198.6" y="180">500</text>
</g>
<text x="111.5" y="192" font-family="'Liberation Serif', serif" font-size="11.5" fill="#222" class="k" text-anchor="middle">Raman Shift (cm<tspan dy="-4" font-size="7">-1</tspan><tspan dy="4">)</tspan></text>
<text transform="translate(11.5,102.5) rotate(-90)" font-family="'Liberation Serif', serif" font-size="14.4" fill="#222" class="k" style="stroke-width:0.45px" text-anchor="middle">Intensity (a.u.)</text>
<text transform="translate(216.3,172.5) rotate(-51)" font-family="'Liberation Serif', serif" font-size="12.5" fill="#222" class="k">0</text>
<text transform="translate(247,138) rotate(-51)" font-family="'Liberation Serif', serif" font-size="12.5" fill="#222" class="k">8</text>
<text transform="translate(275.2,104.2) rotate(-51)" font-family="'Liberation Serif', serif" font-size="12.5" fill="#222" class="k">16</text>
<text transform="translate(245,167.5) rotate(-53) scale(0.97,1)" font-family="'Liberation Serif', serif" font-size="15" fill="#222" class="k">Time (min)</text>
<g font-family="'Liberation Serif', serif" font-size="11.5" fill="#2b2f86">
<text x="96" y="18.5">123</text><text x="113.5" y="27">162</text>
<text x="152" y="63.8">258</text><text x="228.3" y="75.7">520</text>
</g>
<rect x="180.5" y="7.8" width="43" height="43.6" fill="#260909" stroke="#0a0a0a" stroke-width="0.8"/>
<rect x="181.8" y="39.2" width="20.8" height="10.8" fill="#fff"/>
<text x="192.2" y="44.6" font-family="'Liberation Sans', sans-serif" font-size="5.2" fill="#111" text-anchor="middle">5μm</text>
<rect x="186.9" y="46.1" width="10.8" height="1.5" fill="#000"/>
<rect x="226" y="7.8" width="43" height="43.6" fill="#260909" stroke="#0a0a0a" stroke-width="0.8"/>
<rect x="227.3" y="39.2" width="20.8" height="10.8" fill="#fff"/>
<text x="237.7" y="44.6" font-family="'Liberation Sans', sans-serif" font-size="5.2" fill="#111" text-anchor="middle">5μm</text>
<rect x="232.4" y="46.1" width="10.8" height="1.5" fill="#000"/>
<defs><radialGradient id="rd"><stop offset="0" stop-color="#b82a1c"/><stop offset="0.45" stop-color="#6a1410"/><stop offset="1" stop-color="#260909" stop-opacity="0"/></radialGradient></defs>
<circle cx="248" cy="29.6" r="3.2" fill="url(#rd)"/>
<text transform="translate(0.4,15.6) scale(0.92,1)" font-family="'Liberation Sans', sans-serif" font-size="20" fill="#111" stroke="#111" stroke-width="0.15">a)</text>
<rect x="317.6" y="11.4" width="197.9" height="151" fill="#fff" stroke="#606060" stroke-width="1"/>
<g stroke="#c4c4c4" stroke-width="0.6" stroke-dasharray="1,1.2" fill="none">
<path d="M324.7,111 V158.5"/>
<path d="M332.7,115 V158.5"/>
<path d="M347.9,114.5 V158.5"/>
<path d="M353.5,116 V158.5"/>
<path d="M364.7,116 V158.5"/>
<path d="M382.3,115 V158.5"/>
<path d="M391.9,64.4 V158.5"/>
<path d="M414.3,142.3 V158.5"/>
<path d="M455.1,143.4 V158.5"/>
<path d="M468.7,99.7 V158.5"/>
<path d="M507.4,83.3 V158.5"/>
<path d="M335.9,56 V158.5"/>
<path d="M360.7,56 V158.5"/>
<path d="M374.3,55.5 V158.5"/>
</g>
<text transform="translate(327.2,110) rotate(-90)" font-family="'Liberation Serif', serif" font-size="6.8" fill="#2a2a2a" stroke="#2a2a2a" stroke-width="0.22">78 (1T'-MoTe<tspan dy="1.2" font-size="4.6">2</tspan><tspan dy="-1.2">)</tspan></text>
<text transform="translate(333.8,114) rotate(-90)" font-family="'Liberation Serif', serif" font-size="6.8" fill="#2a2a2a" stroke="#2a2a2a" stroke-width="0.22">88 (1T'-MoTe<tspan dy="1.2" font-size="4.6">2</tspan><tspan dy="-1.2">)</tspan></text>
<text transform="translate(348.6,113.5) rotate(-90)" font-family="'Liberation Serif', serif" font-size="6.8" fill="#2a2a2a" stroke="#2a2a2a" stroke-width="0.22">107 (1T'-MoTe<tspan dy="1.2" font-size="4.6">2</tspan><tspan dy="-1.2">)</tspan></text>
<text transform="translate(354.4,115) rotate(-90)" font-family="'Liberation Serif', serif" font-size="6.8" fill="#2a2a2a" stroke="#2a2a2a" stroke-width="0.22">114 (1T'-MoTe<tspan dy="1.2" font-size="4.6">2</tspan><tspan dy="-1.2">)</tspan></text>
<text transform="translate(366.5,115) rotate(-90)" font-family="'Liberation Serif', serif" font-size="6.8" fill="#2a2a2a" stroke="#2a2a2a" stroke-width="0.22">128 (1T'-MoTe<tspan dy="1.2" font-size="4.6">2</tspan><tspan dy="-1.2">)</tspan></text>
<text transform="translate(383.7,114) rotate(-90)" font-family="'Liberation Serif', serif" font-size="6.8" fill="#2a2a2a" stroke="#2a2a2a" stroke-width="0.22">150 (1T'-MoTe<tspan dy="1.2" font-size="4.6">2</tspan><tspan dy="-1.2">)</tspan></text>
<text transform="translate(403.9,63.4) rotate(-90)" font-family="'Liberation Serif', serif" font-size="6.8" fill="#2a2a2a" stroke="#2a2a2a" stroke-width="0.22">162 (1T'-MoTe<tspan dy="1.2" font-size="4.6">2</tspan><tspan dy="-1.2">)</tspan></text>
<text transform="translate(416.7,141.3) rotate(-90)" font-family="'Liberation Serif', serif" font-size="6.8" fill="#2a2a2a" stroke="#2a2a2a" stroke-width="0.22">190 (1T'-MoTe<tspan dy="1.2" font-size="4.6">2</tspan><tspan dy="-1.2">)</tspan></text>
<text transform="translate(458.3,142.4) rotate(-90)" font-family="'Liberation Serif', serif" font-size="6.8" fill="#2a2a2a" stroke="#2a2a2a" stroke-width="0.22">241 (1T'-MoTe<tspan dy="1.2" font-size="4.6">2</tspan><tspan dy="-1.2">)</tspan></text>
<text transform="translate(471.8,98.7) rotate(-90)" font-family="'Liberation Serif', serif" font-size="6.8" fill="#2a2a2a" stroke="#2a2a2a" stroke-width="0.22">258 (1T'-MoTe<tspan dy="1.2" font-size="4.6">2</tspan><tspan dy="-1.2">)</tspan></text>
<text transform="translate(508.8,82.3) rotate(-90)" font-family="'Liberation Serif', serif" font-size="6.8" fill="#2a2a2a" stroke="#2a2a2a" stroke-width="0.22">520 (Si)</text>
<text transform="translate(337.5,55) rotate(-90)" font-family="'Liberation Serif', serif" font-size="6.8" fill="#2f9421" stroke="#2f9421" stroke-width="0.22">92 (Te)</text>
<text transform="translate(362.6,55) rotate(-90)" font-family="'Liberation Serif', serif" font-size="6.8" fill="#2f9421" stroke="#2f9421" stroke-width="0.22">123 (Te)</text>
<text transform="translate(376,54.5) rotate(-90)" font-family="'Liberation Serif', serif" font-size="6.8" fill="#2f9421" stroke="#2f9421" stroke-width="0.22">140 (Te)</text>
<path d="M318,159 H493 M499,159 H515" stroke="#ee2a22" stroke-width="1.7"/>
<path d="M317.9,152.2 318.3,151.5 318.7,150.7 319.1,149.8 319.5,148.8 319.9,147.5 320.3,146.1 320.7,144.3 321.1,142.3 321.5,139.9 321.9,137.2 322.3,134 322.7,130.5 323.1,126.8 323.5,123.1 323.9,120 324.3,117.8 324.7,117 325.1,117.8 325.5,120 325.9,123.1 326.3,126.8 326.7,130.5 327.1,134 327.5,137.2 327.9,139.9 328.3,142.3 328.7,144.3 329.1,146.1 329.5,147.5 329.9,148.8 330.3,149.8 330.7,150.7 331.1,151.5 331.5,152.2 331.9,152.8 332.3,153.3 332.7,153.7 333.1,154.1 333.5,154.5 333.9,154.8 334.3,155.1 334.7,155.3 335.1,155.5 335.5,155.7 335.9,155.9 336.3,156.1 336.7,156.2 337.1,156.4 337.5,156.5 337.9,156.6 338.3,156.7 338.7,156.8 339.1,156.9 339.5,157 339.9,157.1 340.3,157.1 340.7,157.2 341.1,157.3 341.5,157.3 341.9,157.4 342.3,157.4 342.7,157.5 343.1,157.5 343.5,157.5 343.9,157.6 344.3,157.6 344.7,157.7 345.1,157.7 345.5,157.7 345.9,157.7 346.3,157.8 346.7,157.8 347.1,157.8 347.5,157.8 347.9,157.9 348.3,157.9 348.7,157.9 349.1,157.9 349.5,157.9 349.9,158 350.3,158 350.7,158 351.1,158 351.5,158 351.9,158 352.3,158.1 352.7,158.1 353.1,158.1 353.5,158.1 353.9,158.1 354.3,158.1 354.7,158.1 355.1,158.1 355.5,158.1 355.9,158.1 356.3,158.2 356.7,158.2 357.1,158.2 357.5,158.2 357.9,158.2 358.3,158.2 358.7,158.2 359.1,158.2 359.5,158.2 359.9,158.2 360.3,158.2 360.7,158.2 361.1,158.2 361.5,158.2 361.9,158.3 362.3,158.3 362.7,158.3 363.1,158.3 363.5,158.3 363.9,158.3 364.3,158.3 364.7,158.3 365.1,158.3 365.5,158.3 365.9,158.3 366.3,158.3 366.7,158.3 367.1,158.3 367.5,158.3 367.9,158.3 368.3,158.3 368.7,158.3 369.1,158.3 369.5,158.3 369.9,158.3 370.3,158.3 370.7,158.3 371.1,158.3 371.5,158.3 371.9,158.3 372.3,158.3 372.7,158.4 373.1,158.4 373.5,158.4 373.9,158.4 374.3,158.4 374.7,158.4 375.1,158.4 375.5,158.4 375.9,158.4 376.3,158.4 376.7,158.4 377.1,158.4 377.5,158.4 377.9,158.4 378.3,158.4 378.7,158.4 379.1,158.4 379.5,158.4 379.9,158.4 380.3,158.4 380.7,158.4 381.1,158.4 381.5,158.4 381.9,158.4 382.3,158.4 382.7,158.4 383.1,158.4 383.5,158.4 383.9,158.4 384.3,158.4 384.7,158.4 385.1,158.4 385.5,158.4 385.9,158.4 386.3,158.4 386.7,158.4 387.1,158.4 387.5,158.4 387.9,158.4 388.3,158.4 388.7,158.4 389.1,158.4 389.5,158.4 389.9,158.4 390.3,158.4 390.7,158.4 391.1,158.4 391.5,158.4 391.9,158.4 392.3,158.4 392.7,158.4 393.1,158.4 393.5,158.4 393.9,158.4 394.3,158.4 394.7,158.4 395.1,158.4 395.5,158.4 395.9,158.4 396.3,158.4 396.7,158.4 397.1,158.4 397.5,158.4 397.9,158.4 398.3,158.4 398.7,158.4 399.1,158.4 399.5,158.4 399.9,158.4 400.3,158.4 400.7,158.4 401.1,158.4 401.5,158.4 401.9,158.4 402.3,158.4 402.7,158.4 403.1,158.4 403.5,158.4 403.9,158.4 404.3,158.4 404.7,158.4 405.1,158.4 405.5,158.4 405.9,158.4 406.3,158.4 406.7,158.4 407.1,158.4 407.5,158.4 407.9,158.5 408.3,158.5 408.7,158.5 409.1,158.5 409.5,158.5 409.9,158.5 410.3,158.5 410.7,158.5 411.1,158.5 411.5,158.5 411.9,158.5 412.3,158.5 412.7,158.5 413.1,158.5 413.5,158.5 413.9,158.5 414.3,158.5 414.7,158.5 415.1,158.5 415.5,158.5 415.9,158.5 416.3,158.5 416.7,158.5 417.1,158.5 417.5,158.5 417.9,158.5 418.3,158.5 418.7,158.5 419.1,158.5 419.5,158.5 419.9,158.5 420.3,158.5 420.7,158.5 421.1,158.5 421.5,158.5 421.9,158.5 422.3,158.5 422.7,158.5 423.1,158.5 423.5,158.5 423.9,158.5 424.3,158.5 424.7,158.5 425.1,158.5 425.5,158.5 425.9,158.5 426.3,158.5 426.7,158.5 427.1,158.5 427.5,158.5 427.9,158.5 428.3,158.5 428.7,158.5 429.1,158.5 429.5,158.5 429.9,158.5 430.3,158.5 430.7,158.5 431.1,158.5 431.5,158.5 431.9,158.5 432.3,158.5 432.7,158.5 433.1,158.5 433.5,158.5 433.9,158.5 434.3,158.5 434.7,158.5 435.1,158.5 435.5,158.5 435.9,158.5 436.3,158.5 436.7,158.5 437.1,158.5 437.5,158.5 437.9,158.5 438.3,158.5 438.7,158.5 439.1,158.5 439.5,158.5 439.9,158.5 440.3,158.5 440.7,158.5 441.1,158.5 441.5,158.5 441.9,158.5 442.3,158.5 442.7,158.5 443.1,158.5 443.5,158.5 443.9,158.5 444.3,158.5 444.7,158.5 445.1,158.5 445.5,158.5 445.9,158.5 446.3,158.5 446.7,158.5 447.1,158.5 447.5,158.5 447.9,158.5 448.3,158.5 448.7,158.5 449.1,158.5 449.5,158.5 449.9,158.5 450.3,158.5 450.7,158.5 451.1,158.5 451.5,158.5 451.9,158.5 452.3,158.5 452.7,158.5 453.1,158.5 453.5,158.5 453.9,158.5 454.3,158.5 454.7,158.5 455.1,158.5 455.5,158.5 455.9,158.5 456.3,158.5 456.7,158.5 457.1,158.5 457.5,158.5 457.9,158.5 458.3,158.5 458.7,158.5 459.1,158.5 459.5,158.5 459.9,158.5 460.3,158.5 460.7,158.5 461.1,158.5 461.5,158.5 461.9,158.5 462.3,158.5 462.7,158.5 463.1,158.5 463.5,158.5 463.9,158.5 464.3,158.5 464.7,158.5 465.1,158.5 465.5,158.5 465.9,158.5 466.3,158.5 466.7,158.5 467.1,158.5 467.5,158.5 467.9,158.5 468.3,158.5 468.7,158.5 469.1,158.5 469.5,158.5 469.9,158.5 470.3,158.5 470.7,158.5 471.1,158.5 471.5,158.5 471.9,158.5 472.3,158.5 472.7,158.5 473.1,158.5 473.5,158.5 473.9,158.5 474.3,158.5 474.7,158.5 475.1,158.5 475.5,158.5 475.9,158.5 476.3,158.5 476.7,158.5 477.1,158.5 477.5,158.5 477.9,158.5 478.3,158.5 478.7,158.5 479.1,158.5 479.5,158.5 479.9,158.5 480.3,158.5 480.7,158.5 481.1,158.5 481.5,158.5 481.9,158.5 482.3,158.5 482.7,158.5 483.1,158.5 483.5,158.5 483.9,158.5 484.3,158.5 484.7,158.5 485.1,158.5 485.5,158.5 485.9,158.5 486.3,158.5 486.7,158.5 487.1,158.5 487.5,158.5 487.9,158.5 488.3,158.5 488.7,158.5 489.1,158.5 489.5,158.5 489.9,158.5 490.3,158.5 490.7,158.5 491.1,158.5 491.5,158.5 491.9,158.5 492.3,158.5 492.7,158.5" fill="none" stroke="#e8281e" stroke-width="0.9"/>
<path d="M317.9,158 318.3,158 318.7,157.9 319.1,157.9 319.5,157.9 319.9,157.8 320.3,157.8 320.7,157.7 321.1,157.7 321.5,157.6 321.9,157.6 322.3,157.5 322.7,157.4 323.1,157.3 323.5,157.3 323.9,157.2 324.3,157 324.7,156.9 325.1,156.8 325.5,156.6 325.9,156.4 326.3,156.2 326.7,156 327.1,155.7 327.5,155.3 327.9,155 328.3,154.5 328.7,154 329.1,153.4 329.5,152.8 329.9,152 330.3,151.1 330.7,150.2 331.1,149.3 331.5,148.4 331.9,147.7 332.3,147.2 332.7,147 333.1,147.2 333.5,147.7 333.9,148.4 334.3,149.3 334.7,150.2 335.1,151.1 335.5,152 335.9,152.8 336.3,153.4 336.7,154 337.1,154.5 337.5,155 337.9,155.3 338.3,155.7 338.7,156 339.1,156.2 339.5,156.4 339.9,156.6 340.3,156.8 340.7,156.9 341.1,157 341.5,157.2 341.9,157.3 342.3,157.3 342.7,157.4 343.1,157.5 343.5,157.6 343.9,157.6 344.3,157.7 344.7,157.7 345.1,157.8 345.5,157.8 345.9,157.9 346.3,157.9 346.7,157.9 347.1,158 347.5,158 347.9,158 348.3,158 348.7,158.1 349.1,158.1 349.5,158.1 349.9,158.1 350.3,158.1 350.7,158.1 351.1,158.2 351.5,158.2 351.9,158.2 352.3,158.2 352.7,158.2 353.1,158.2 353.5,158.2 353.9,158.2 354.3,158.3 354.7,158.3 355.1,158.3 355.5,158.3 355.9,158.3 356.3,158.3 356.7,158.3 357.1,158.3 357.5,158.3 357.9,158.3 358.3,158.3 358.7,158.3 359.1,158.3 359.5,158.3 359.9,158.3 360.3,158.3 360.7,158.4 361.1,158.4 361.5,158.4 361.9,158.4 362.3,158.4 362.7,158.4 363.1,158.4 363.5,158.4 363.9,158.4 364.3,158.4 364.7,158.4 365.1,158.4 365.5,158.4 365.9,158.4 366.3,158.4 366.7,158.4 367.1,158.4 367.5,158.4 367.9,158.4 368.3,158.4 368.7,158.4 369.1,158.4 369.5,158.4 369.9,158.4 370.3,158.4 370.7,158.4 371.1,158.4 371.5,158.4 371.9,158.4 372.3,158.4 372.7,158.4 373.1,158.4 373.5,158.4 373.9,158.4 374.3,158.4 374.7,158.4 375.1,158.4 375.5,158.4 375.9,158.4 376.3,158.4 376.7,158.4 377.1,158.4 377.5,158.4 377.9,158.4 378.3,158.4 378.7,158.4 379.1,158.4 379.5,158.4 379.9,158.4 380.3,158.4 380.7,158.4 381.1,158.4 381.5,158.5 381.9,158.5 382.3,158.5 382.7,158.5 383.1,158.5 383.5,158.5 383.9,158.5 384.3,158.5 384.7,158.5 385.1,158.5 385.5,158.5 385.9,158.5 386.3,158.5 386.7,158.5 387.1,158.5 387.5,158.5 387.9,158.5 388.3,158.5 388.7,158.5 389.1,158.5 389.5,158.5 389.9,158.5 390.3,158.5 390.7,158.5 391.1,158.5 391.5,158.5 391.9,158.5 392.3,158.5 392.7,158.5 393.1,158.5 393.5,158.5 393.9,158.5 394.3,158.5 394.7,158.5 395.1,158.5 395.5,158.5 395.9,158.5 396.3,158.5 396.7,158.5 397.1,158.5 397.5,158.5 397.9,158.5 398.3,158.5 398.7,158.5 399.1,158.5 399.5,158.5 399.9,158.5 400.3,158.5 400.7,158.5 401.1,158.5 401.5,158.5 401.9,158.5 402.3,158.5 402.7,158.5 403.1,158.5 403.5,158.5 403.9,158.5 404.3,158.5 404.7,158.5 405.1,158.5 405.5,158.5 405.9,158.5 406.3,158.5 406.7,158.5 407.1,158.5 407.5,158.5 407.9,158.5 408.3,158.5 408.7,158.5 409.1,158.5 409.5,158.5 409.9,158.5 410.3,158.5 410.7,158.5 411.1,158.5 411.5,158.5 411.9,158.5 412.3,158.5 412.7,158.5 413.1,158.5 413.5,158.5 413.9,158.5 414.3,158.5 414.7,158.5 415.1,158.5 415.5,158.5 415.9,158.5 416.3,158.5 416.7,158.5 417.1,158.5 417.5,158.5 417.9,158.5 418.3,158.5 418.7,158.5 419.1,158.5 419.5,158.5 419.9,158.5 420.3,158.5 420.7,158.5 421.1,158.5 421.5,158.5 421.9,158.5 422.3,158.5 422.7,158.5 423.1,158.5 423.5,158.5 423.9,158.5 424.3,158.5 424.7,158.5 425.1,158.5 425.5,158.5 425.9,158.5 426.3,158.5 426.7,158.5 427.1,158.5 427.5,158.5 427.9,158.5 428.3,158.5 428.7,158.5 429.1,158.5 429.5,158.5 429.9,158.5 430.3,158.5 430.7,158.5 431.1,158.5 431.5,158.5 431.9,158.5 432.3,158.5 432.7,158.5 433.1,158.5 433.5,158.5 433.9,158.5 434.3,158.5 434.7,158.5 435.1,158.5 435.5,158.5 435.9,158.5 436.3,158.5 436.7,158.5 437.1,158.5 437.5,158.5 437.9,158.5 438.3,158.5 438.7,158.5 439.1,158.5 439.5,158.5 439.9,158.5 440.3,158.5 440.7,158.5 441.1,158.5 441.5,158.5 441.9,158.5 442.3,158.5 442.7,158.5 443.1,158.5 443.5,158.5 443.9,158.5 444.3,158.5 444.7,158.5 445.1,158.5 445.5,158.5 445.9,158.5 446.3,158.5 446.7,158.5 447.1,158.5 447.5,158.5 447.9,158.5 448.3,158.5 448.7,158.5 449.1,158.5 449.5,158.5 449.9,158.5 450.3,158.5 450.7,158.5 451.1,158.5 451.5,158.5 451.9,158.5 452.3,158.5 452.7,158.5 453.1,158.5 453.5,158.5 453.9,158.5 454.3,158.5 454.7,158.5 455.1,158.5 455.5,158.5 455.9,158.5 456.3,158.5 456.7,158.5 457.1,158.5 457.5,158.5 457.9,158.5 458.3,158.5 458.7,158.5 459.1,158.5 459.5,158.5 459.9,158.5 460.3,158.5 460.7,158.5 461.1,158.5 461.5,158.5 461.9,158.5 462.3,158.5 462.7,158.5 463.1,158.5 463.5,158.5 463.9,158.5 464.3,158.5 464.7,158.5 465.1,158.5 465.5,158.5 465.9,158.5 466.3,158.5 466.7,158.5 467.1,158.5 467.5,158.5 467.9,158.5 468.3,158.5 468.7,158.5 469.1,158.5 469.5,158.5 469.9,158.5 470.3,158.5 470.7,158.5 471.1,158.5 471.5,158.5 471.9,158.5 472.3,158.5 472.7,158.5 473.1,158.5 473.5,158.5 473.9,158.5 474.3,158.5 474.7,158.5 475.1,158.5 475.5,158.5 475.9,158.5 476.3,158.5 476.7,158.5 477.1,158.5 477.5,158.5 477.9,158.5 478.3,158.5 478.7,158.5 479.1,158.5 479.5,158.5 479.9,158.5 480.3,158.5 480.7,158.5 481.1,158.5 481.5,158.5 481.9,158.5 482.3,158.5 482.7,158.5 483.1,158.5 483.5,158.5 483.9,158.5 484.3,158.5 484.7,158.5 485.1,158.5 485.5,158.5 485.9,158.5 486.3,158.5 486.7,158.5 487.1,158.5 487.5,158.5 487.9,158.5 488.3,158.5 488.7,158.5 489.1,158.5 489.5,158.5 489.9,158.5 490.3,158.5 490.7,158.5 491.1,158.5 491.5,158.5 491.9,158.5 492.3,158.5 492.7,158.5" fill="none" stroke="#e8281e" stroke-width="0.9"/>
<path d="M317.9,158.1 318.3,158.1 318.7,158.1 319.1,158.1 319.5,158.1 319.9,158 320.3,158 320.7,158 321.1,158 321.5,157.9 321.9,157.9 322.3,157.9 322.7,157.8 323.1,157.8 323.5,157.8 323.9,157.7 324.3,157.7 324.7,157.6 325.1,157.6 325.5,157.5 325.9,157.4 326.3,157.3 326.7,157.2 327.1,157.1 327.5,157 327.9,156.9 328.3,156.8 328.7,156.6 329.1,156.4 329.5,156.2 329.9,156 330.3,155.7 330.7,155.4 331.1,155.1 331.5,154.7 331.9,154.2 332.3,153.8 332.7,153.2 333.1,152.6 333.5,151.9 333.9,151.2 334.3,150.6 334.7,149.9 335.1,149.4 335.5,149.1 335.9,149 336.3,149.1 336.7,149.4 337.1,149.9 337.5,150.6 337.9,151.2 338.3,151.9 338.7,152.6 339.1,153.2 339.5,153.8 339.9,154.2 340.3,154.7 340.7,155.1 341.1,155.4 341.5,155.7 341.9,156 342.3,156.2 342.7,156.4 343.1,156.6 343.5,156.8 343.9,156.9 344.3,157 344.7,157.1 345.1,157.2 345.5,157.3 345.9,157.4 346.3,157.5 346.7,157.6 347.1,157.6 347.5,157.7 347.9,157.7 348.3,157.8 348.7,157.8 349.1,157.8 349.5,157.9 349.9,157.9 350.3,157.9 350.7,158 351.1,158 351.5,158 351.9,158 352.3,158.1 352.7,158.1 353.1,158.1 353.5,158.1 353.9,158.1 354.3,158.1 354.7,158.2 355.1,158.2 355.5,158.2 355.9,158.2 356.3,158.2 356.7,158.2 357.1,158.2 357.5,158.2 357.9,158.3 358.3,158.3 358.7,158.3 359.1,158.3 359.5,158.3 359.9,158.3 360.3,158.3 360.7,158.3 361.1,158.3 361.5,158.3 361.9,158.3 362.3,158.3 362.7,158.3 363.1,158.3 363.5,158.3 363.9,158.3 364.3,158.3 364.7,158.4 365.1,158.4 365.5,158.4 365.9,158.4 366.3,158.4 366.7,158.4 367.1,158.4 367.5,158.4 367.9,158.4 368.3,158.4 368.7,158.4 369.1,158.4 369.5,158.4 369.9,158.4 370.3,158.4 370.7,158.4 371.1,158.4 371.5,158.4 371.9,158.4 372.3,158.4 372.7,158.4 373.1,158.4 373.5,158.4 373.9,158.4 374.3,158.4 374.7,158.4 375.1,158.4 375.5,158.4 375.9,158.4 376.3,158.4 376.7,158.4 377.1,158.4 377.5,158.4 377.9,158.4 378.3,158.4 378.7,158.4 379.1,158.4 379.5,158.4 379.9,158.4 380.3,158.4 380.7,158.4 381.1,158.4 381.5,158.4 381.9,158.4 382.3,158.4 382.7,158.4 383.1,158.4 383.5,158.4 383.9,158.4 384.3,158.4 384.7,158.4 385.1,158.4 385.5,158.5 385.9,158.5 386.3,158.5 386.7,158.5 387.1,158.5 387.5,158.5 387.9,158.5 388.3,158.5 388.7,158.5 389.1,158.5 389.5,158.5 389.9,158.5 390.3,158.5 390.7,158.5 391.1,158.5 391.5,158.5 391.9,158.5 392.3,158.5 392.7,158.5 393.1,158.5 393.5,158.5 393.9,158.5 394.3,158.5 394.7,158.5 395.1,158.5 395.5,158.5 395.9,158.5 396.3,158.5 396.7,158.5 397.1,158.5 397.5,158.5 397.9,158.5 398.3,158.5 398.7,158.5 399.1,158.5 399.5,158.5 399.9,158.5 400.3,158.5 400.7,158.5 401.1,158.5 401.5,158.5 401.9,158.5 402.3,158.5 402.7,158.5 403.1,158.5 403.5,158.5 403.9,158.5 404.3,158.5 404.7,158.5 405.1,158.5 405.5,158.5 405.9,158.5 406.3,158.5 406.7,158.5 407.1,158.5 407.5,158.5 407.9,158.5 408.3,158.5 408.7,158.5 409.1,158.5 409.5,158.5 409.9,158.5 410.3,158.5 410.7,158.5 411.1,158.5 411.5,158.5 411.9,158.5 412.3,158.5 412.7,158.5 413.1,158.5 413.5,158.5 413.9,158.5 414.3,158.5 414.7,158.5 415.1,158.5 415.5,158.5 415.9,158.5 416.3,158.5 416.7,158.5 417.1,158.5 417.5,158.5 417.9,158.5 418.3,158.5 418.7,158.5 419.1,158.5 419.5,158.5 419.9,158.5 420.3,158.5 420.7,158.5 421.1,158.5 421.5,158.5 421.9,158.5 422.3,158.5 422.7,158.5 423.1,158.5 423.5,158.5 423.9,158.5 424.3,158.5 424.7,158.5 425.1,158.5 425.5,158.5 425.9,158.5 426.3,158.5 426.7,158.5 427.1,158.5 427.5,158.5 427.9,158.5 428.3,158.5 428.7,158.5 429.1,158.5 429.5,158.5 429.9,158.5 430.3,158.5 430.7,158.5 431.1,158.5 431.5,158.5 431.9,158.5 432.3,158.5 432.7,158.5 433.1,158.5 433.5,158.5 433.9,158.5 434.3,158.5 434.7,158.5 435.1,158.5 435.5,158.5 435.9,158.5 436.3,158.5 436.7,158.5 437.1,158.5 437.5,158.5 437.9,158.5 438.3,158.5 438.7,158.5 439.1,158.5 439.5,158.5 439.9,158.5 440.3,158.5 440.7,158.5 441.1,158.5 441.5,158.5 441.9,158.5 442.3,158.5 442.7,158.5 443.1,158.5 443.5,158.5 443.9,158.5 444.3,158.5 444.7,158.5 445.1,158.5 445.5,158.5 445.9,158.5 446.3,158.5 446.7,158.5 447.1,158.5 447.5,158.5 447.9,158.5 448.3,158.5 448.7,158.5 449.1,158.5 449.5,158.5 449.9,158.5 450.3,158.5 450.7,158.5 451.1,158.5 451.5,158.5 451.9,158.5 452.3,158.5 452.7,158.5 453.1,158.5 453.5,158.5 453.9,158.5 454.3,158.5 454.7,158.5 455.1,158.5 455.5,158.5 455.9,158.5 456.3,158.5 456.7,158.5 457.1,158.5 457.5,158.5 457.9,158.5 458.3,158.5 458.7,158.5 459.1,158.5 459.5,158.5 459.9,158.5 460.3,158.5 460.7,158.5 461.1,158.5 461.5,158.5 461.9,158.5 462.3,158.5 462.7,158.5 463.1,158.5 463.5,158.5 463.9,158.5 464.3,158.5 464.7,158.5 465.1,158.5 465.5,158.5 465.9,158.5 466.3,158.5 466.7,158.5 467.1,158.5 467.5,158.5 467.9,158.5 468.3,158.5 468.7,158.5 469.1,158.5 469.5,158.5 469.9,158.5 470.3,158.5 470.7,158.5 471.1,158.5 471.5,158.5 471.9,158.5 472.3,158.5 472.7,158.5 473.1,158.5 473.5,158.5 473.9,158.5 474.3,158.5 474.7,158.5 475.1,158.5 475.5,158.5 475.9,158.5 476.3,158.5 476.7,158.5 477.1,158.5 477.5,158.5 477.9,158.5 478.3,158.5 478.7,158.5 479.1,158.5 479.5,158.5 479.9,158.5 480.3,158.5 480.7,158.5 481.1,158.5 481.5,158.5 481.9,158.5 482.3,158.5 482.7,158.5 483.1,158.5 483.5,158.5 483.9,158.5 484.3,158.5 484.7,158.5 485.1,158.5 485.5,158.5 485.9,158.5 486.3,158.5 486.7,158.5 487.1,158.5 487.5,158.5 487.9,158.5 488.3,158.5 488.7,158.5 489.1,158.5 489.5,158.5 489.9,158.5 490.3,158.5 490.7,158.5 491.1,158.5 491.5,158.5 491.9,158.5 492.3,158.5 492.7,158.5" fill="none" stroke="#1f8a1f" stroke-width="0.9"/>
<path d="M317.9,158.4 318.3,158.4 318.7,158.4 319.1,158.4 319.5,158.4 319.9,158.4 320.3,158.4 320.7,158.4 321.1,158.4 321.5,158.4 321.9,158.4 322.3,158.4 322.7,158.4 323.1,158.3 323.5,158.3 323.9,158.3 324.3,158.3 324.7,158.3 325.1,158.3 325.5,158.3 325.9,158.3 326.3,158.3 326.7,158.3 327.1,158.3 327.5,158.3 327.9,158.3 328.3,158.3 328.7,158.2 329.1,158.2 329.5,158.2 329.9,158.2 330.3,158.2 330.7,158.2 331.1,158.2 331.5,158.2 331.9,158.1 332.3,158.1 332.7,158.1 333.1,158.1 333.5,158.1 333.9,158 334.3,158 334.7,158 335.1,157.9 335.5,157.9 335.9,157.9 336.3,157.8 336.7,157.8 337.1,157.7 337.5,157.7 337.9,157.6 338.3,157.5 338.7,157.5 339.1,157.4 339.5,157.3 339.9,157.1 340.3,157 340.7,156.9 341.1,156.7 341.5,156.5 341.9,156.3 342.3,156 342.7,155.7 343.1,155.3 343.5,154.8 343.9,154.3 344.3,153.6 344.7,152.8 345.1,151.9 345.5,150.7 345.9,149.4 346.3,148 346.7,146.5 347.1,145.2 347.5,144.2 347.9,143.9 348.3,144.2 348.7,145.2 349.1,146.5 349.5,148 349.9,149.4 350.3,150.7 350.7,151.9 351.1,152.8 351.5,153.6 351.9,154.3 352.3,154.8 352.7,155.3 353.1,155.7 353.5,156 353.9,156.3 354.3,156.5 354.7,156.7 355.1,156.9 355.5,157 355.9,157.1 356.3,157.3 356.7,157.4 357.1,157.5 357.5,157.5 357.9,157.6 358.3,157.7 358.7,157.7 359.1,157.8 359.5,157.8 359.9,157.9 360.3,157.9 360.7,157.9 361.1,158 361.5,158 361.9,158 362.3,158.1 362.7,158.1 363.1,158.1 363.5,158.1 363.9,158.1 364.3,158.2 364.7,158.2 365.1,158.2 365.5,158.2 365.9,158.2 366.3,158.2 366.7,158.2 367.1,158.2 367.5,158.3 367.9,158.3 368.3,158.3 368.7,158.3 369.1,158.3 369.5,158.3 369.9,158.3 370.3,158.3 370.7,158.3 371.1,158.3 371.5,158.3 371.9,158.3 372.3,158.3 372.7,158.3 373.1,158.4 373.5,158.4 373.9,158.4 374.3,158.4 374.7,158.4 375.1,158.4 375.5,158.4 375.9,158.4 376.3,158.4 376.7,158.4 377.1,158.4 377.5,158.4 377.9,158.4 378.3,158.4 378.7,158.4 379.1,158.4 379.5,158.4 379.9,158.4 380.3,158.4 380.7,158.4 381.1,158.4 381.5,158.4 381.9,158.4 382.3,158.4 382.7,158.4 383.1,158.4 383.5,158.4 383.9,158.4 384.3,158.4 384.7,158.4 385.1,158.4 385.5,158.4 385.9,158.4 386.3,158.4 386.7,158.4 387.1,158.4 387.5,158.4 387.9,158.4 388.3,158.4 388.7,158.4 389.1,158.4 389.5,158.4 389.9,158.4 390.3,158.4 390.7,158.4 391.1,158.4 391.5,158.4 391.9,158.5 392.3,158.5 392.7,158.5 393.1,158.5 393.5,158.5 393.9,158.5 394.3,158.5 394.7,158.5 395.1,158.5 395.5,158.5 395.9,158.5 396.3,158.5 396.7,158.5 397.1,158.5 397.5,158.5 397.9,158.5 398.3,158.5 398.7,158.5 399.1,158.5 399.5,158.5 399.9,158.5 400.3,158.5 400.7,158.5 401.1,158.5 401.5,158.5 401.9,158.5 402.3,158.5 402.7,158.5 403.1,158.5 403.5,158.5 403.9,158.5 404.3,158.5 404.7,158.5 405.1,158.5 405.5,158.5 405.9,158.5 406.3,158.5 406.7,158.5 407.1,158.5 407.5,158.5 407.9,158.5 408.3,158.5 408.7,158.5 409.1,158.5 409.5,158.5 409.9,158.5 410.3,158.5 410.7,158.5 411.1,158.5 411.5,158.5 411.9,158.5 412.3,158.5 412.7,158.5 413.1,158.5 413.5,158.5 413.9,158.5 414.3,158.5 414.7,158.5 415.1,158.5 415.5,158.5 415.9,158.5 416.3,158.5 416.7,158.5 417.1,158.5 417.5,158.5 417.9,158.5 418.3,158.5 418.7,158.5 419.1,158.5 419.5,158.5 419.9,158.5 420.3,158.5 420.7,158.5 421.1,158.5 421.5,158.5 421.9,158.5 422.3,158.5 422.7,158.5 423.1,158.5 423.5,158.5 423.9,158.5 424.3,158.5 424.7,158.5 425.1,158.5 425.5,158.5 425.9,158.5 426.3,158.5 426.7,158.5 427.1,158.5 427.5,158.5 427.9,158.5 428.3,158.5 428.7,158.5 429.1,158.5 429.5,158.5 429.9,158.5 430.3,158.5 430.7,158.5 431.1,158.5 431.5,158.5 431.9,158.5 432.3,158.5 432.7,158.5 433.1,158.5 433.5,158.5 433.9,158.5 434.3,158.5 434.7,158.5 435.1,158.5 435.5,158.5 435.9,158.5 436.3,158.5 436.7,158.5 437.1,158.5 437.5,158.5 437.9,158.5 438.3,158.5 438.7,158.5 439.1,158.5 439.5,158.5 439.9,158.5 440.3,158.5 440.7,158.5 441.1,158.5 441.5,158.5 441.9,158.5 442.3,158.5 442.7,158.5 443.1,158.5 443.5,158.5 443.9,158.5 444.3,158.5 444.7,158.5 445.1,158.5 445.5,158.5 445.9,158.5 446.3,158.5 446.7,158.5 447.1,158.5 447.5,158.5 447.9,158.5 448.3,158.5 448.7,158.5 449.1,158.5 449.5,158.5 449.9,158.5 450.3,158.5 450.7,158.5 451.1,158.5 451.5,158.5 451.9,158.5 452.3,158.5 452.7,158.5 453.1,158.5 453.5,158.5 453.9,158.5 454.3,158.5 454.7,158.5 455.1,158.5 455.5,158.5 455.9,158.5 456.3,158.5 456.7,158.5 457.1,158.5 457.5,158.5 457.9,158.5 458.3,158.5 458.7,158.5 459.1,158.5 459.5,158.5 459.9,158.5 460.3,158.5 460.7,158.5 461.1,158.5 461.5,158.5 461.9,158.5 462.3,158.5 462.7,158.5 463.1,158.5 463.5,158.5 463.9,158.5 464.3,158.5 464.7,158.5 465.1,158.5 465.5,158.5 465.9,158.5 466.3,158.5 466.7,158.5 467.1,158.5 467.5,158.5 467.9,158.5 468.3,158.5 468.7,158.5 469.1,158.5 469.5,158.5 469.9,158.5 470.3,158.5 470.7,158.5 471.1,158.5 471.5,158.5 471.9,158.5 472.3,158.5 472.7,158.5 473.1,158.5 473.5,158.5 473.9,158.5 474.3,158.5 474.7,158.5 475.1,158.5 475.5,158.5 475.9,158.5 476.3,158.5 476.7,158.5 477.1,158.5 477.5,158.5 477.9,158.5 478.3,158.5 478.7,158.5 479.1,158.5 479.5,158.5 479.9,158.5 480.3,158.5 480.7,158.5 481.1,158.5 481.5,158.5 481.9,158.5 482.3,158.5 482.7,158.5 483.1,158.5 483.5,158.5 483.9,158.5 484.3,158.5 484.7,158.5 485.1,158.5 485.5,158.5 485.9,158.5 486.3,158.5 486.7,158.5 487.1,158.5 487.5,158.5 487.9,158.5 488.3,158.5 488.7,158.5 489.1,158.5 489.5,158.5 489.9,158.5 490.3,158.5 490.7,158.5 491.1,158.5 491.5,158.5 491.9,158.5 492.3,158.5 492.7,158.5" fill="none" stroke="#e8281e" stroke-width="0.9"/>
<path d="M317.9,158.4 318.3,158.4 318.7,158.4 319.1,158.4 319.5,158.4 319.9,158.4 320.3,158.4 320.7,158.4 321.1,158.4 321.5,158.4 321.9,158.4 322.3,158.4 322.7,158.4 323.1,158.4 323.5,158.4 323.9,158.4 324.3,158.4 324.7,158.4 325.1,158.4 325.5,158.4 325.9,158.4 326.3,158.4 326.7,158.4 327.1,158.4 327.5,158.4 327.9,158.4 328.3,158.4 328.7,158.4 329.1,158.4 329.5,158.4 329.9,158.4 330.3,158.4 330.7,158.4 331.1,158.4 331.5,158.4 331.9,158.3 332.3,158.3 332.7,158.3 333.1,158.3 333.5,158.3 333.9,158.3 334.3,158.3 334.7,158.3 335.1,158.3 335.5,158.3 335.9,158.3 336.3,158.3 336.7,158.3 337.1,158.2 337.5,158.2 337.9,158.2 338.3,158.2 338.7,158.2 339.1,158.2 339.5,158.1 339.9,158.1 340.3,158.1 340.7,158.1 341.1,158.1 341.5,158 341.9,158 342.3,158 342.7,157.9 343.1,157.9 343.5,157.8 343.9,157.8 344.3,157.7 344.7,157.6 345.1,157.6 345.5,157.5 345.9,157.4 346.3,157.3 346.7,157.1 347.1,157 347.5,156.8 347.9,156.6 348.3,156.4 348.7,156.1 349.1,155.7 349.5,155.3 349.9,154.8 350.3,154.2 350.7,153.5 351.1,152.6 351.5,151.7 351.9,150.6 352.3,149.5 352.7,148.5 353.1,147.8 353.5,147.5 353.9,147.8 354.3,148.5 354.7,149.5 355.1,150.6 355.5,151.7 355.9,152.6 356.3,153.5 356.7,154.2 357.1,154.8 357.5,155.3 357.9,155.7 358.3,156.1 358.7,156.4 359.1,156.6 359.5,156.8 359.9,157 360.3,157.1 360.7,157.3 361.1,157.4 361.5,157.5 361.9,157.6 362.3,157.6 362.7,157.7 363.1,157.8 363.5,157.8 363.9,157.9 364.3,157.9 364.7,158 365.1,158 365.5,158 365.9,158.1 366.3,158.1 366.7,158.1 367.1,158.1 367.5,158.1 367.9,158.2 368.3,158.2 368.7,158.2 369.1,158.2 369.5,158.2 369.9,158.2 370.3,158.3 370.7,158.3 371.1,158.3 371.5,158.3 371.9,158.3 372.3,158.3 372.7,158.3 373.1,158.3 373.5,158.3 373.9,158.3 374.3,158.3 374.7,158.3 375.1,158.3 375.5,158.4 375.9,158.4 376.3,158.4 376.7,158.4 377.1,158.4 377.5,158.4 377.9,158.4 378.3,158.4 378.7,158.4 379.1,158.4 379.5,158.4 379.9,158.4 380.3,158.4 380.7,158.4 381.1,158.4 381.5,158.4 381.9,158.4 382.3,158.4 382.7,158.4 383.1,158.4 383.5,158.4 383.9,158.4 384.3,158.4 384.7,158.4 385.1,158.4 385.5,158.4 385.9,158.4 386.3,158.4 386.7,158.4 387.1,158.4 387.5,158.4 387.9,158.4 388.3,158.4 388.7,158.4 389.1,158.4 389.5,158.4 389.9,158.4 390.3,158.4 390.7,158.4 391.1,158.4 391.5,158.5 391.9,158.5 392.3,158.5 392.7,158.5 393.1,158.5 393.5,158.5 393.9,158.5 394.3,158.5 394.7,158.5 395.1,158.5 395.5,158.5 395.9,158.5 396.3,158.5 396.7,158.5 397.1,158.5 397.5,158.5 397.9,158.5 398.3,158.5 398.7,158.5 399.1,158.5 399.5,158.5 399.9,158.5 400.3,158.5 400.7,158.5 401.1,158.5 401.5,158.5 401.9,158.5 402.3,158.5 402.7,158.5 403.1,158.5 403.5,158.5 403.9,158.5 404.3,158.5 404.7,158.5 405.1,158.5 405.5,158.5 405.9,158.5 406.3,158.5 406.7,158.5 407.1,158.5 407.5,158.5 407.9,158.5 408.3,158.5 408.7,158.5 409.1,158.5 409.5,158.5 409.9,158.5 410.3,158.5 410.7,158.5 411.1,158.5 411.5,158.5 411.9,158.5 412.3,158.5 412.7,158.5 413.1,158.5 413.5,158.5 413.9,158.5 414.3,158.5 414.7,158.5 415.1,158.5 415.5,158.5 415.9,158.5 416.3,158.5 416.7,158.5 417.1,158.5 417.5,158.5 417.9,158.5 418.3,158.5 418.7,158.5 419.1,158.5 419.5,158.5 419.9,158.5 420.3,158.5 420.7,158.5 421.1,158.5 421.5,158.5 421.9,158.5 422.3,158.5 422.7,158.5 423.1,158.5 423.5,158.5 423.9,158.5 424.3,158.5 424.7,158.5 425.1,158.5 425.5,158.5 425.9,158.5 426.3,158.5 426.7,158.5 427.1,158.5 427.5,158.5 427.9,158.5 428.3,158.5 428.7,158.5 429.1,158.5 429.5,158.5 429.9,158.5 430.3,158.5 430.7,158.5 431.1,158.5 431.5,158.5 431.9,158.5 432.3,158.5 432.7,158.5 433.1,158.5 433.5,158.5 433.9,158.5 434.3,158.5 434.7,158.5 435.1,158.5 435.5,158.5 435.9,158.5 436.3,158.5 436.7,158.5 437.1,158.5 437.5,158.5 437.9,158.5 438.3,158.5 438.7,158.5 439.1,158.5 439.5,158.5 439.9,158.5 440.3,158.5 440.7,158.5 441.1,158.5 441.5,158.5 441.9,158.5 442.3,158.5 442.7,158.5 443.1,158.5 443.5,158.5 443.9,158.5 444.3,158.5 444.7,158.5 445.1,158.5 445.5,158.5 445.9,158.5 446.3,158.5 446.7,158.5 447.1,158.5 447.5,158.5 447.9,158.5 448.3,158.5 448.7,158.5 449.1,158.5 449.5,158.5 449.9,158.5 450.3,158.5 450.7,158.5 451.1,158.5 451.5,158.5 451.9,158.5 452.3,158.5 452.7,158.5 453.1,158.5 453.5,158.5 453.9,158.5 454.3,158.5 454.7,158.5 455.1,158.5 455.5,158.5 455.9,158.5 456.3,158.5 456.7,158.5 457.1,158.5 457.5,158.5 457.9,158.5 458.3,158.5 458.7,158.5 459.1,158.5 459.5,158.5 459.9,158.5 460.3,158.5 460.7,158.5 461.1,158.5 461.5,158.5 461.9,158.5 462.3,158.5 462.7,158.5 463.1,158.5 463.5,158.5 463.9,158.5 464.3,158.5 464.7,158.5 465.1,158.5 465.5,158.5 465.9,158.5 466.3,158.5 466.7,158.5 467.1,158.5 467.5,158.5 467.9,158.5 468.3,158.5 468.7,158.5 469.1,158.5 469.5,158.5 469.9,158.5 470.3,158.5 470.7,158.5 471.1,158.5 471.5,158.5 471.9,158.5 472.3,158.5 472.7,158.5 473.1,158.5 473.5,158.5 473.9,158.5 474.3,158.5 474.7,158.5 475.1,158.5 475.5,158.5 475.9,158.5 476.3,158.5 476.7,158.5 477.1,158.5 477.5,158.5 477.9,158.5 478.3,158.5 478.7,158.5 479.1,158.5 479.5,158.5 479.9,158.5 480.3,158.5 480.7,158.5 481.1,158.5 481.5,158.5 481.9,158.5 482.3,158.5 482.7,158.5 483.1,158.5 483.5,158.5 483.9,158.5 484.3,158.5 484.7,158.5 485.1,158.5 485.5,158.5 485.9,158.5 486.3,158.5 486.7,158.5 487.1,158.5 487.5,158.5 487.9,158.5 488.3,158.5 488.7,158.5 489.1,158.5 489.5,158.5 489.9,158.5 490.3,158.5 490.7,158.5 491.1,158.5 491.5,158.5 491.9,158.5 492.3,158.5 492.7,158.5" fill="none" stroke="#e8281e" stroke-width="0.9"/>
<path d="M317.9,158.5 318.3,158.5 318.7,158.5 319.1,158.5 319.5,158.5 319.9,158.5 320.3,158.5 320.7,158.5 321.1,158.5 321.5,158.5 321.9,158.5 322.3,158.5 322.7,158.5 323.1,158.5 323.5,158.5 323.9,158.5 324.3,158.5 324.7,158.4 325.1,158.4 325.5,158.4 325.9,158.4 326.3,158.4 326.7,158.4 327.1,158.4 327.5,158.4 327.9,158.4 328.3,158.4 328.7,158.4 329.1,158.4 329.5,158.4 329.9,158.4 330.3,158.4 330.7,158.4 331.1,158.4 331.5,158.4 331.9,158.4 332.3,158.4 332.7,158.4 333.1,158.4 333.5,158.4 333.9,158.4 334.3,158.4 334.7,158.4 335.1,158.4 335.5,158.4 335.9,158.4 336.3,158.4 336.7,158.4 337.1,158.4 337.5,158.4 337.9,158.4 338.3,158.4 338.7,158.4 339.1,158.4 339.5,158.4 339.9,158.3 340.3,158.3 340.7,158.3 341.1,158.3 341.5,158.3 341.9,158.3 342.3,158.3 342.7,158.3 343.1,158.3 343.5,158.3 343.9,158.3 344.3,158.3 344.7,158.2 345.1,158.2 345.5,158.2 345.9,158.2 346.3,158.2 346.7,158.2 347.1,158.2 347.5,158.1 347.9,158.1 348.3,158.1 348.7,158.1 349.1,158 349.5,158 349.9,158 350.3,157.9 350.7,157.9 351.1,157.8 351.5,157.8 351.9,157.7 352.3,157.7 352.7,157.6 353.1,157.5 353.5,157.4 353.9,157.3 354.3,157.2 354.7,157.1 355.1,156.9 355.5,156.7 355.9,156.5 356.3,156.3 356.7,156 357.1,155.6 357.5,155.2 357.9,154.8 358.3,154.3 358.7,153.8 359.1,153.3 359.5,152.8 359.9,152.4 360.3,152.1 360.7,152 361.1,152.1 361.5,152.4 361.9,152.8 362.3,153.3 362.7,153.8 363.1,154.3 363.5,154.8 363.9,155.2 364.3,155.6 364.7,156 365.1,156.3 365.5,156.5 365.9,156.7 366.3,156.9 366.7,157.1 367.1,157.2 367.5,157.3 367.9,157.4 368.3,157.5 368.7,157.6 369.1,157.7 369.5,157.7 369.9,157.8 370.3,157.8 370.7,157.9 371.1,157.9 371.5,158 371.9,158 372.3,158 372.7,158.1 373.1,158.1 373.5,158.1 373.9,158.1 374.3,158.2 374.7,158.2 375.1,158.2 375.5,158.2 375.9,158.2 376.3,158.2 376.7,158.2 377.1,158.3 377.5,158.3 377.9,158.3 378.3,158.3 378.7,158.3 379.1,158.3 379.5,158.3 379.9,158.3 380.3,158.3 380.7,158.3 381.1,158.3 381.5,158.3 381.9,158.4 382.3,158.4 382.7,158.4 383.1,158.4 383.5,158.4 383.9,158.4 384.3,158.4 384.7,158.4 385.1,158.4 385.5,158.4 385.9,158.4 386.3,158.4 386.7,158.4 387.1,158.4 387.5,158.4 387.9,158.4 388.3,158.4 388.7,158.4 389.1,158.4 389.5,158.4 389.9,158.4 390.3,158.4 390.7,158.4 391.1,158.4 391.5,158.4 391.9,158.4 392.3,158.4 392.7,158.4 393.1,158.4 393.5,158.4 393.9,158.4 394.3,158.4 394.7,158.4 395.1,158.4 395.5,158.4 395.9,158.4 396.3,158.4 396.7,158.4 397.1,158.5 397.5,158.5 397.9,158.5 398.3,158.5 398.7,158.5 399.1,158.5 399.5,158.5 399.9,158.5 400.3,158.5 400.7,158.5 401.1,158.5 401.5,158.5 401.9,158.5 402.3,158.5 402.7,158.5 403.1,158.5 403.5,158.5 403.9,158.5 404.3,158.5 404.7,158.5 405.1,158.5 405.5,158.5 405.9,158.5 406.3,158.5 406.7,158.5 407.1,158.5 407.5,158.5 407.9,158.5 408.3,158.5 408.7,158.5 409.1,158.5 409.5,158.5 409.9,158.5 410.3,158.5 410.7,158.5 411.1,158.5 411.5,158.5 411.9,158.5 412.3,158.5 412.7,158.5 413.1,158.5 413.5,158.5 413.9,158.5 414.3,158.5 414.7,158.5 415.1,158.5 415.5,158.5 415.9,158.5 416.3,158.5 416.7,158.5 417.1,158.5 417.5,158.5 417.9,158.5 418.3,158.5 418.7,158.5 419.1,158.5 419.5,158.5 419.9,158.5 420.3,158.5 420.7,158.5 421.1,158.5 421.5,158.5 421.9,158.5 422.3,158.5 422.7,158.5 423.1,158.5 423.5,158.5 423.9,158.5 424.3,158.5 424.7,158.5 425.1,158.5 425.5,158.5 425.9,158.5 426.3,158.5 426.7,158.5 427.1,158.5 427.5,158.5 427.9,158.5 428.3,158.5 428.7,158.5 429.1,158.5 429.5,158.5 429.9,158.5 430.3,158.5 430.7,158.5 431.1,158.5 431.5,158.5 431.9,158.5 432.3,158.5 432.7,158.5 433.1,158.5 433.5,158.5 433.9,158.5 434.3,158.5 434.7,158.5 435.1,158.5 435.5,158.5 435.9,158.5 436.3,158.5 436.7,158.5 437.1,158.5 437.5,158.5 437.9,158.5 438.3,158.5 438.7,158.5 439.1,158.5 439.5,158.5 439.9,158.5 440.3,158.5 440.7,158.5 441.1,158.5 441.5,158.5 441.9,158.5 442.3,158.5 442.7,158.5 443.1,158.5 443.5,158.5 443.9,158.5 444.3,158.5 444.7,158.5 445.1,158.5 445.5,158.5 445.9,158.5 446.3,158.5 446.7,158.5 447.1,158.5 447.5,158.5 447.9,158.5 448.3,158.5 448.7,158.5 449.1,158.5 449.5,158.5 449.9,158.5 450.3,158.5 450.7,158.5 451.1,158.5 451.5,158.5 451.9,158.5 452.3,158.5 452.7,158.5 453.1,158.5 453.5,158.5 453.9,158.5 454.3,158.5 454.7,158.5 455.1,158.5 455.5,158.5 455.9,158.5 456.3,158.5 456.7,158.5 457.1,158.5 457.5,158.5 457.9,158.5 458.3,158.5 458.7,158.5 459.1,158.5 459.5,158.5 459.9,158.5 460.3,158.5 460.7,158.5 461.1,158.5 461.5,158.5 461.9,158.5 462.3,158.5 462.7,158.5 463.1,158.5 463.5,158.5 463.9,158.5 464.3,158.5 464.7,158.5 465.1,158.5 465.5,158.5 465.9,158.5 466.3,158.5 466.7,158.5 467.1,158.5 467.5,158.5 467.9,158.5 468.3,158.5 468.7,158.5 469.1,158.5 469.5,158.5 469.9,158.5 470.3,158.5 470.7,158.5 471.1,158.5 471.5,158.5 471.9,158.5 472.3,158.5 472.7,158.5 473.1,158.5 473.5,158.5 473.9,158.5 474.3,158.5 474.7,158.5 475.1,158.5 475.5,158.5 475.9,158.5 476.3,158.5 476.7,158.5 477.1,158.5 477.5,158.5 477.9,158.5 478.3,158.5 478.7,158.5 479.1,158.5 479.5,158.5 479.9,158.5 480.3,158.5 480.7,158.5 481.1,158.5 481.5,158.5 481.9,158.5 482.3,158.5 482.7,158.5 483.1,158.5 483.5,158.5 483.9,158.5 484.3,158.5 484.7,158.5 485.1,158.5 485.5,158.5 485.9,158.5 486.3,158.5 486.7,158.5 487.1,158.5 487.5,158.5 487.9,158.5 488.3,158.5 488.7,158.5 489.1,158.5 489.5,158.5 489.9,158.5 490.3,158.5 490.7,158.5 491.1,158.5 491.5,158.5 491.9,158.5 492.3,158.5 492.7,158.5" fill="none" stroke="#1f8a1f" stroke-width="0.9"/>
<path d="M317.9,158.4 318.3,158.4 318.7,158.4 319.1,158.4 319.5,158.4 319.9,158.4 320.3,158.4 320.7,158.4 321.1,158.4 321.5,158.4 321.9,158.4 322.3,158.4 322.7,158.4 323.1,158.4 323.5,158.4 323.9,158.4 324.3,158.4 324.7,158.4 325.1,158.4 325.5,158.4 325.9,158.4 326.3,158.4 326.7,158.4 327.1,158.4 327.5,158.4 327.9,158.4 328.3,158.4 328.7,158.4 329.1,158.4 329.5,158.4 329.9,158.4 330.3,158.4 330.7,158.4 331.1,158.4 331.5,158.4 331.9,158.4 332.3,158.4 332.7,158.4 333.1,158.3 333.5,158.3 333.9,158.3 334.3,158.3 334.7,158.3 335.1,158.3 335.5,158.3 335.9,158.3 336.3,158.3 336.7,158.3 337.1,158.3 337.5,158.3 337.9,158.3 338.3,158.3 338.7,158.3 339.1,158.3 339.5,158.3 339.9,158.3 340.3,158.2 340.7,158.2 341.1,158.2 341.5,158.2 341.9,158.2 342.3,158.2 342.7,158.2 343.1,158.2 343.5,158.2 343.9,158.2 344.3,158.1 344.7,158.1 345.1,158.1 345.5,158.1 345.9,158.1 346.3,158.1 346.7,158 347.1,158 347.5,158 347.9,158 348.3,158 348.7,157.9 349.1,157.9 349.5,157.9 349.9,157.8 350.3,157.8 350.7,157.8 351.1,157.7 351.5,157.7 351.9,157.6 352.3,157.6 352.7,157.5 353.1,157.4 353.5,157.4 353.9,157.3 354.3,157.2 354.7,157.1 355.1,157 355.5,156.9 355.9,156.7 356.3,156.6 356.7,156.4 357.1,156.2 357.5,155.9 357.9,155.7 358.3,155.4 358.7,155 359.1,154.6 359.5,154.1 359.9,153.5 360.3,152.8 360.7,152 361.1,151.1 361.5,149.9 361.9,148.5 362.3,147 362.7,145.2 363.1,143.3 363.5,141.3 363.9,139.6 364.3,138.4 364.7,138 365.1,138.4 365.5,139.6 365.9,141.3 366.3,143.3 366.7,145.2 367.1,147 367.5,148.5 367.9,149.9 368.3,151.1 368.7,152 369.1,152.8 369.5,153.5 369.9,154.1 370.3,154.6 370.7,155 371.1,155.4 371.5,155.7 371.9,155.9 372.3,156.2 372.7,156.4 373.1,156.6 373.5,156.7 373.9,156.9 374.3,157 374.7,157.1 375.1,157.2 375.5,157.3 375.9,157.4 376.3,157.4 376.7,157.5 377.1,157.6 377.5,157.6 377.9,157.7 378.3,157.7 378.7,157.8 379.1,157.8 379.5,157.8 379.9,157.9 380.3,157.9 380.7,157.9 381.1,158 381.5,158 381.9,158 382.3,158 382.7,158 383.1,158.1 383.5,158.1 383.9,158.1 384.3,158.1 384.7,158.1 385.1,158.1 385.5,158.2 385.9,158.2 386.3,158.2 386.7,158.2 387.1,158.2 387.5,158.2 387.9,158.2 388.3,158.2 388.7,158.2 389.1,158.2 389.5,158.3 389.9,158.3 390.3,158.3 390.7,158.3 391.1,158.3 391.5,158.3 391.9,158.3 392.3,158.3 392.7,158.3 393.1,158.3 393.5,158.3 393.9,158.3 394.3,158.3 394.7,158.3 395.1,158.3 395.5,158.3 395.9,158.3 396.3,158.3 396.7,158.4 397.1,158.4 397.5,158.4 397.9,158.4 398.3,158.4 398.7,158.4 399.1,158.4 399.5,158.4 399.9,158.4 400.3,158.4 400.7,158.4 401.1,158.4 401.5,158.4 401.9,158.4 402.3,158.4 402.7,158.4 403.1,158.4 403.5,158.4 403.9,158.4 404.3,158.4 404.7,158.4 405.1,158.4 405.5,158.4 405.9,158.4 406.3,158.4 406.7,158.4 407.1,158.4 407.5,158.4 407.9,158.4 408.3,158.4 408.7,158.4 409.1,158.4 409.5,158.4 409.9,158.4 410.3,158.4 410.7,158.4 411.1,158.4 411.5,158.4 411.9,158.4 412.3,158.4 412.7,158.4 413.1,158.4 413.5,158.4 413.9,158.4 414.3,158.4 414.7,158.4 415.1,158.4 415.5,158.4 415.9,158.4 416.3,158.4 416.7,158.4 417.1,158.4 417.5,158.4 417.9,158.4 418.3,158.4 418.7,158.4 419.1,158.4 419.5,158.4 419.9,158.5 420.3,158.5 420.7,158.5 421.1,158.5 421.5,158.5 421.9,158.5 422.3,158.5 422.7,158.5 423.1,158.5 423.5,158.5 423.9,158.5 424.3,158.5 424.7,158.5 425.1,158.5 425.5,158.5 425.9,158.5 426.3,158.5 426.7,158.5 427.1,158.5 427.5,158.5 427.9,158.5 428.3,158.5 428.7,158.5 429.1,158.5 429.5,158.5 429.9,158.5 430.3,158.5 430.7,158.5 431.1,158.5 431.5,158.5 431.9,158.5 432.3,158.5 432.7,158.5 433.1,158.5 433.5,158.5 433.9,158.5 434.3,158.5 434.7,158.5 435.1,158.5 435.5,158.5 435.9,158.5 436.3,158.5 436.7,158.5 437.1,158.5 437.5,158.5 437.9,158.5 438.3,158.5 438.7,158.5 439.1,158.5 439.5,158.5 439.9,158.5 440.3,158.5 440.7,158.5 441.1,158.5 441.5,158.5 441.9,158.5 442.3,158.5 442.7,158.5 443.1,158.5 443.5,158.5 443.9,158.5 444.3,158.5 444.7,158.5 445.1,158.5 445.5,158.5 445.9,158.5 446.3,158.5 446.7,158.5 447.1,158.5 447.5,158.5 447.9,158.5 448.3,158.5 448.7,158.5 449.1,158.5 449.5,158.5 449.9,158.5 450.3,158.5 450.7,158.5 451.1,158.5 451.5,158.5 451.9,158.5 452.3,158.5 452.7,158.5 453.1,158.5 453.5,158.5 453.9,158.5 454.3,158.5 454.7,158.5 455.1,158.5 455.5,158.5 455.9,158.5 456.3,158.5 456.7,158.5 457.1,158.5 457.5,158.5 457.9,158.5 458.3,158.5 458.7,158.5 459.1,158.5 459.5,158.5 459.9,158.5 460.3,158.5 460.7,158.5 461.1,158.5 461.5,158.5 461.9,158.5 462.3,158.5 462.7,158.5 463.1,158.5 463.5,158.5 463.9,158.5 464.3,158.5 464.7,158.5 465.1,158.5 465.5,158.5 465.9,158.5 466.3,158.5 466.7,158.5 467.1,158.5 467.5,158.5 467.9,158.5 468.3,158.5 468.7,158.5 469.1,158.5 469.5,158.5 469.9,158.5 470.3,158.5 470.7,158.5 471.1,158.5 471.5,158.5 471.9,158.5 472.3,158.5 472.7,158.5 473.1,158.5 473.5,158.5 473.9,158.5 474.3,158.5 474.7,158.5 475.1,158.5 475.5,158.5 475.9,158.5 476.3,158.5 476.7,158.5 477.1,158.5 477.5,158.5 477.9,158.5 478.3,158.5 478.7,158.5 479.1,158.5 479.5,158.5 479.9,158.5 480.3,158.5 480.7,158.5 481.1,158.5 481.5,158.5 481.9,158.5 482.3,158.5 482.7,158.5 483.1,158.5 483.5,158.5 483.9,158.5 484.3,158.5 484.7,158.5 485.1,158.5 485.5,158.5 485.9,158.5 486.3,158.5 486.7,158.5 487.1,158.5 487.5,158.5 487.9,158.5 488.3,158.5 488.7,158.5 489.1,158.5 489.5,158.5 489.9,158.5 490.3,158.5 490.7,158.5 491.1,158.5 491.5,158.5 491.9,158.5 492.3,158.5 492.7,158.5" fill="none" stroke="#e8281e" stroke-width="0.9"/>
<path d="M317.9,158.4 318.3,158.4 318.7,158.4 319.1,158.4 319.5,158.4 319.9,158.4 320.3,158.4 320.7,158.4 321.1,158.4 321.5,158.4 321.9,158.4 322.3,158.4 322.7,158.4 323.1,158.4 323.5,158.4 323.9,158.4 324.3,158.4 324.7,158.4 325.1,158.4 325.5,158.4 325.9,158.4 326.3,158.4 326.7,158.4 327.1,158.4 327.5,158.4 327.9,158.4 328.3,158.4 328.7,158.4 329.1,158.4 329.5,158.4 329.9,158.4 330.3,158.4 330.7,158.4 331.1,158.4 331.5,158.4 331.9,158.4 332.3,158.4 332.7,158.4 333.1,158.4 333.5,158.4 333.9,158.4 334.3,158.4 334.7,158.4 335.1,158.4 335.5,158.4 335.9,158.4 336.3,158.4 336.7,158.4 337.1,158.4 337.5,158.4 337.9,158.4 338.3,158.4 338.7,158.4 339.1,158.4 339.5,158.4 339.9,158.4 340.3,158.4 340.7,158.4 341.1,158.4 341.5,158.4 341.9,158.3 342.3,158.3 342.7,158.3 343.1,158.3 343.5,158.3 343.9,158.3 344.3,158.3 344.7,158.3 345.1,158.3 345.5,158.3 345.9,158.3 346.3,158.3 346.7,158.3 347.1,158.3 347.5,158.3 347.9,158.3 348.3,158.3 348.7,158.3 349.1,158.3 349.5,158.2 349.9,158.2 350.3,158.2 350.7,158.2 351.1,158.2 351.5,158.2 351.9,158.2 352.3,158.2 352.7,158.2 353.1,158.2 353.5,158.1 353.9,158.1 354.3,158.1 354.7,158.1 355.1,158.1 355.5,158.1 355.9,158 356.3,158 356.7,158 357.1,158 357.5,158 357.9,157.9 358.3,157.9 358.7,157.9 359.1,157.9 359.5,157.8 359.9,157.8 360.3,157.7 360.7,157.7 361.1,157.7 361.5,157.6 361.9,157.6 362.3,157.5 362.7,157.4 363.1,157.4 363.5,157.3 363.9,157.2 364.3,157.1 364.7,157 365.1,156.9 365.5,156.8 365.9,156.7 366.3,156.5 366.7,156.3 367.1,156.1 367.5,155.9 367.9,155.7 368.3,155.4 368.7,155.1 369.1,154.8 369.5,154.4 369.9,154 370.3,153.5 370.7,153 371.1,152.4 371.5,151.8 371.9,151.1 372.3,150.5 372.7,149.9 373.1,149.3 373.5,148.9 373.9,148.6 374.3,148.5 374.7,148.6 375.1,148.9 375.5,149.3 375.9,149.9 376.3,150.5 376.7,151.1 377.1,151.8 377.5,152.4 377.9,153 378.3,153.5 378.7,154 379.1,154.4 379.5,154.8 379.9,155.1 380.3,155.4 380.7,155.7 381.1,155.9 381.5,156.1 381.9,156.3 382.3,156.5 382.7,156.7 383.1,156.8 383.5,156.9 383.9,157 384.3,157.1 384.7,157.2 385.1,157.3 385.5,157.4 385.9,157.4 386.3,157.5 386.7,157.6 387.1,157.6 387.5,157.7 387.9,157.7 388.3,157.7 388.7,157.8 389.1,157.8 389.5,157.9 389.9,157.9 390.3,157.9 390.7,157.9 391.1,158 391.5,158 391.9,158 392.3,158 392.7,158 393.1,158.1 393.5,158.1 393.9,158.1 394.3,158.1 394.7,158.1 395.1,158.1 395.5,158.2 395.9,158.2 396.3,158.2 396.7,158.2 397.1,158.2 397.5,158.2 397.9,158.2 398.3,158.2 398.7,158.2 399.1,158.2 399.5,158.3 399.9,158.3 400.3,158.3 400.7,158.3 401.1,158.3 401.5,158.3 401.9,158.3 402.3,158.3 402.7,158.3 403.1,158.3 403.5,158.3 403.9,158.3 404.3,158.3 404.7,158.3 405.1,158.3 405.5,158.3 405.9,158.3 406.3,158.3 406.7,158.3 407.1,158.4 407.5,158.4 407.9,158.4 408.3,158.4 408.7,158.4 409.1,158.4 409.5,158.4 409.9,158.4 410.3,158.4 410.7,158.4 411.1,158.4 411.5,158.4 411.9,158.4 412.3,158.4 412.7,158.4 413.1,158.4 413.5,158.4 413.9,158.4 414.3,158.4 414.7,158.4 415.1,158.4 415.5,158.4 415.9,158.4 416.3,158.4 416.7,158.4 417.1,158.4 417.5,158.4 417.9,158.4 418.3,158.4 418.7,158.4 419.1,158.4 419.5,158.4 419.9,158.4 420.3,158.4 420.7,158.4 421.1,158.4 421.5,158.4 421.9,158.4 422.3,158.4 422.7,158.4 423.1,158.4 423.5,158.4 423.9,158.4 424.3,158.4 424.7,158.4 425.1,158.4 425.5,158.4 425.9,158.4 426.3,158.4 426.7,158.4 427.1,158.4 427.5,158.4 427.9,158.4 428.3,158.4 428.7,158.4 429.1,158.4 429.5,158.4 429.9,158.4 430.3,158.4 430.7,158.4 431.1,158.5 431.5,158.5 431.9,158.5 432.3,158.5 432.7,158.5 433.1,158.5 433.5,158.5 433.9,158.5 434.3,158.5 434.7,158.5 435.1,158.5 435.5,158.5 435.9,158.5 436.3,158.5 436.7,158.5 437.1,158.5 437.5,158.5 437.9,158.5 438.3,158.5 438.7,158.5 439.1,158.5 439.5,158.5 439.9,158.5 440.3,158.5 440.7,158.5 441.1,158.5 441.5,158.5 441.9,158.5 442.3,158.5 442.7,158.5 443.1,158.5 443.5,158.5 443.9,158.5 444.3,158.5 444.7,158.5 445.1,158.5 445.5,158.5 445.9,158.5 446.3,158.5 446.7,158.5 447.1,158.5 447.5,158.5 447.9,158.5 448.3,158.5 448.7,158.5 449.1,158.5 449.5,158.5 449.9,158.5 450.3,158.5 450.7,158.5 451.1,158.5 451.5,158.5 451.9,158.5 452.3,158.5 452.7,158.5 453.1,158.5 453.5,158.5 453.9,158.5 454.3,158.5 454.7,158.5 455.1,158.5 455.5,158.5 455.9,158.5 456.3,158.5 456.7,158.5 457.1,158.5 457.5,158.5 457.9,158.5 458.3,158.5 458.7,158.5 459.1,158.5 459.5,158.5 459.9,158.5 460.3,158.5 460.7,158.5 461.1,158.5 461.5,158.5 461.9,158.5 462.3,158.5 462.7,158.5 463.1,158.5 463.5,158.5 463.9,158.5 464.3,158.5 464.7,158.5 465.1,158.5 465.5,158.5 465.9,158.5 466.3,158.5 466.7,158.5 467.1,158.5 467.5,158.5 467.9,158.5 468.3,158.5 468.7,158.5 469.1,158.5 469.5,158.5 469.9,158.5 470.3,158.5 470.7,158.5 471.1,158.5 471.5,158.5 471.9,158.5 472.3,158.5 472.7,158.5 473.1,158.5 473.5,158.5 473.9,158.5 474.3,158.5 474.7,158.5 475.1,158.5 475.5,158.5 475.9,158.5 476.3,158.5 476.7,158.5 477.1,158.5 477.5,158.5 477.9,158.5 478.3,158.5 478.7,158.5 479.1,158.5 479.5,158.5 479.9,158.5 480.3,158.5 480.7,158.5 481.1,158.5 481.5,158.5 481.9,158.5 482.3,158.5 482.7,158.5 483.1,158.5 483.5,158.5 483.9,158.5 484.3,158.5 484.7,158.5 485.1,158.5 485.5,158.5 485.9,158.5 486.3,158.5 486.7,158.5 487.1,158.5 487.5,158.5 487.9,158.5 488.3,158.5 488.7,158.5 489.1,158.5 489.5,158.5 489.9,158.5 490.3,158.5 490.7,158.5 491.1,158.5 491.5,158.5 491.9,158.5 492.3,158.5 492.7,158.5" fill="none" stroke="#1f8a1f" stroke-width="0.9"/>
<path d="M317.9,158.5 318.3,158.5 318.7,158.5 319.1,158.5 319.5,158.5 319.9,158.5 320.3,158.5 320.7,158.5 321.1,158.5 321.5,158.5 321.9,158.5 322.3,158.5 322.7,158.5 323.1,158.5 323.5,158.5 323.9,158.5 324.3,158.5 324.7,158.5 325.1,158.5 325.5,158.5 325.9,158.5 326.3,158.5 326.7,158.5 327.1,158.5 327.5,158.5 327.9,158.5 328.3,158.5 328.7,158.5 329.1,158.5 329.5,158.5 329.9,158.5 330.3,158.5 330.7,158.5 331.1,158.5 331.5,158.5 331.9,158.5 332.3,158.5 332.7,158.5 333.1,158.5 333.5,158.5 333.9,158.5 334.3,158.5 334.7,158.5 335.1,158.5 335.5,158.5 335.9,158.5 336.3,158.5 336.7,158.5 337.1,158.5 337.5,158.5 337.9,158.5 338.3,158.5 338.7,158.5 339.1,158.4 339.5,158.4 339.9,158.4 340.3,158.4 340.7,158.4 341.1,158.4 341.5,158.4 341.9,158.4 342.3,158.4 342.7,158.4 343.1,158.4 343.5,158.4 343.9,158.4 344.3,158.4 344.7,158.4 345.1,158.4 345.5,158.4 345.9,158.4 346.3,158.4 346.7,158.4 347.1,158.4 347.5,158.4 347.9,158.4 348.3,158.4 348.7,158.4 349.1,158.4 349.5,158.4 349.9,158.4 350.3,158.4 350.7,158.4 351.1,158.4 351.5,158.4 351.9,158.4 352.3,158.4 352.7,158.4 353.1,158.4 353.5,158.4 353.9,158.4 354.3,158.4 354.7,158.4 355.1,158.4 355.5,158.4 355.9,158.4 356.3,158.4 356.7,158.4 357.1,158.4 357.5,158.3 357.9,158.3 358.3,158.3 358.7,158.3 359.1,158.3 359.5,158.3 359.9,158.3 360.3,158.3 360.7,158.3 361.1,158.3 361.5,158.3 361.9,158.3 362.3,158.3 362.7,158.3 363.1,158.3 363.5,158.2 363.9,158.2 364.3,158.2 364.7,158.2 365.1,158.2 365.5,158.2 365.9,158.2 366.3,158.1 366.7,158.1 367.1,158.1 367.5,158.1 367.9,158.1 368.3,158 368.7,158 369.1,158 369.5,158 369.9,157.9 370.3,157.9 370.7,157.9 371.1,157.8 371.5,157.8 371.9,157.7 372.3,157.7 372.7,157.6 373.1,157.5 373.5,157.5 373.9,157.4 374.3,157.3 374.7,157.2 375.1,157 375.5,156.9 375.9,156.7 376.3,156.6 376.7,156.4 377.1,156.1 377.5,155.9 377.9,155.6 378.3,155.2 378.7,154.8 379.1,154.4 379.5,154 379.9,153.4 380.3,152.9 380.7,152.4 381.1,151.9 381.5,151.5 381.9,151.3 382.3,151.2 382.7,151.3 383.1,151.5 383.5,151.9 383.9,152.4 384.3,152.9 384.7,153.4 385.1,154 385.5,154.4 385.9,154.8 386.3,155.2 386.7,155.6 387.1,155.9 387.5,156.1 387.9,156.4 388.3,156.6 388.7,156.7 389.1,156.9 389.5,157 389.9,157.2 390.3,157.3 390.7,157.4 391.1,157.5 391.5,157.5 391.9,157.6 392.3,157.7 392.7,157.7 393.1,157.8 393.5,157.8 393.9,157.9 394.3,157.9 394.7,157.9 395.1,158 395.5,158 395.9,158 396.3,158 396.7,158.1 397.1,158.1 397.5,158.1 397.9,158.1 398.3,158.1 398.7,158.2 399.1,158.2 399.5,158.2 399.9,158.2 400.3,158.2 400.7,158.2 401.1,158.2 401.5,158.3 401.9,158.3 402.3,158.3 402.7,158.3 403.1,158.3 403.5,158.3 403.9,158.3 404.3,158.3 404.7,158.3 405.1,158.3 405.5,158.3 405.9,158.3 406.3,158.3 406.7,158.3 407.1,158.3 407.5,158.4 407.9,158.4 408.3,158.4 408.7,158.4 409.1,158.4 409.5,158.4 409.9,158.4 410.3,158.4 410.7,158.4 411.1,158.4 411.5,158.4 411.9,158.4 412.3,158.4 412.7,158.4 413.1,158.4 413.5,158.4 413.9,158.4 414.3,158.4 414.7,158.4 415.1,158.4 415.5,158.4 415.9,158.4 416.3,158.4 416.7,158.4 417.1,158.4 417.5,158.4 417.9,158.4 418.3,158.4 418.7,158.4 419.1,158.4 419.5,158.4 419.9,158.4 420.3,158.4 420.7,158.4 421.1,158.4 421.5,158.4 421.9,158.4 422.3,158.4 422.7,158.4 423.1,158.4 423.5,158.4 423.9,158.4 424.3,158.4 424.7,158.4 425.1,158.4 425.5,158.4 425.9,158.5 426.3,158.5 426.7,158.5 427.1,158.5 427.5,158.5 427.9,158.5 428.3,158.5 428.7,158.5 429.1,158.5 429.5,158.5 429.9,158.5 430.3,158.5 430.7,158.5 431.1,158.5 431.5,158.5 431.9,158.5 432.3,158.5 432.7,158.5 433.1,158.5 433.5,158.5 433.9,158.5 434.3,158.5 434.7,158.5 435.1,158.5 435.5,158.5 435.9,158.5 436.3,158.5 436.7,158.5 437.1,158.5 437.5,158.5 437.9,158.5 438.3,158.5 438.7,158.5 439.1,158.5 439.5,158.5 439.9,158.5 440.3,158.5 440.7,158.5 441.1,158.5 441.5,158.5 441.9,158.5 442.3,158.5 442.7,158.5 443.1,158.5 443.5,158.5 443.9,158.5 444.3,158.5 444.7,158.5 445.1,158.5 445.5,158.5 445.9,158.5 446.3,158.5 446.7,158.5 447.1,158.5 447.5,158.5 447.9,158.5 448.3,158.5 448.7,158.5 449.1,158.5 449.5,158.5 449.9,158.5 450.3,158.5 450.7,158.5 451.1,158.5 451.5,158.5 451.9,158.5 452.3,158.5 452.7,158.5 453.1,158.5 453.5,158.5 453.9,158.5 454.3,158.5 454.7,158.5 455.1,158.5 455.5,158.5 455.9,158.5 456.3,158.5 456.7,158.5 457.1,158.5 457.5,158.5 457.9,158.5 458.3,158.5 458.7,158.5 459.1,158.5 459.5,158.5 459.9,158.5 460.3,158.5 460.7,158.5 461.1,158.5 461.5,158.5 461.9,158.5 462.3,158.5 462.7,158.5 463.1,158.5 463.5,158.5 463.9,158.5 464.3,158.5 464.7,158.5 465.1,158.5 465.5,158.5 465.9,158.5 466.3,158.5 466.7,158.5 467.1,158.5 467.5,158.5 467.9,158.5 468.3,158.5 468.7,158.5 469.1,158.5 469.5,158.5 469.9,158.5 470.3,158.5 470.7,158.5 471.1,158.5 471.5,158.5 471.9,158.5 472.3,158.5 472.7,158.5 473.1,158.5 473.5,158.5 473.9,158.5 474.3,158.5 474.7,158.5 475.1,158.5 475.5,158.5 475.9,158.5 476.3,158.5 476.7,158.5 477.1,158.5 477.5,158.5 477.9,158.5 478.3,158.5 478.7,158.5 479.1,158.5 479.5,158.5 479.9,158.5 480.3,158.5 480.7,158.5 481.1,158.5 481.5,158.5 481.9,158.5 482.3,158.5 482.7,158.5 483.1,158.5 483.5,158.5 483.9,158.5 484.3,158.5 484.7,158.5 485.1,158.5 485.5,158.5 485.9,158.5 486.3,158.5 486.7,158.5 487.1,158.5 487.5,158.5 487.9,158.5 488.3,158.5 488.7,158.5 489.1,158.5 489.5,158.5 489.9,158.5 490.3,158.5 490.7,158.5 491.1,158.5 491.5,158.5 491.9,158.5 492.3,158.5 492.7,158.5" fill="none" stroke="#e8281e" stroke-width="0.9"/>
<path d="M317.9,158.5 318.3,158.5 318.7,158.5 319.1,158.5 319.5,158.5 319.9,158.5 320.3,158.5 320.7,158.5 321.1,158.5 321.5,158.5 321.9,158.5 322.3,158.5 322.7,158.5 323.1,158.5 323.5,158.5 323.9,158.5 324.3,158.5 324.7,158.5 325.1,158.5 325.5,158.5 325.9,158.5 326.3,158.5 326.7,158.5 327.1,158.5 327.5,158.5 327.9,158.5 328.3,158.5 328.7,158.5 329.1,158.5 329.5,158.5 329.9,158.5 330.3,158.5 330.7,158.5 331.1,158.5 331.5,158.5 331.9,158.5 332.3,158.5 332.7,158.5 333.1,158.5 333.5,158.5 333.9,158.5 334.3,158.5 334.7,158.5 335.1,158.5 335.5,158.5 335.9,158.5 336.3,158.5 336.7,158.5 337.1,158.5 337.5,158.5 337.9,158.5 338.3,158.5 338.7,158.5 339.1,158.4 339.5,158.4 339.9,158.4 340.3,158.4 340.7,158.4 341.1,158.4 341.5,158.4 341.9,158.4 342.3,158.4 342.7,158.4 343.1,158.4 343.5,158.4 343.9,158.4 344.3,158.4 344.7,158.4 345.1,158.4 345.5,158.4 345.9,158.4 346.3,158.4 346.7,158.4 347.1,158.4 347.5,158.4 347.9,158.4 348.3,158.4 348.7,158.4 349.1,158.4 349.5,158.4 349.9,158.4 350.3,158.4 350.7,158.4 351.1,158.4 351.5,158.4 351.9,158.4 352.3,158.4 352.7,158.4 353.1,158.4 353.5,158.4 353.9,158.4 354.3,158.4 354.7,158.4 355.1,158.4 355.5,158.4 355.9,158.4 356.3,158.4 356.7,158.4 357.1,158.4 357.5,158.4 357.9,158.4 358.3,158.4 358.7,158.4 359.1,158.4 359.5,158.4 359.9,158.4 360.3,158.4 360.7,158.4 361.1,158.4 361.5,158.4 361.9,158.4 362.3,158.4 362.7,158.4 363.1,158.4 363.5,158.4 363.9,158.4 364.3,158.4 364.7,158.4 365.1,158.4 365.5,158.4 365.9,158.4 366.3,158.4 366.7,158.4 367.1,158.4 367.5,158.4 367.9,158.4 368.3,158.4 368.7,158.4 369.1,158.4 369.5,158.4 369.9,158.4 370.3,158.4 370.7,158.4 371.1,158.3 371.5,158.3 371.9,158.3 372.3,158.3 372.7,158.3 373.1,158.3 373.5,158.3 373.9,158.3 374.3,158.3 374.7,158.3 375.1,158.3 375.5,158.3 375.9,158.3 376.3,158.3 376.7,158.3 377.1,158.3 377.5,158.3 377.9,158.3 378.3,158.3 378.7,158.3 379.1,158.3 379.5,158.3 379.9,158.3 380.3,158.3 380.7,158.3 381.1,158.2 381.5,158.2 381.9,158.2 382.3,158.2 382.7,158.2 383.1,158.2 383.5,158.2 383.9,158.2 384.3,158.2 384.7,158.2 385.1,158.2 385.5,158.2 385.9,158.2 386.3,158.2 386.7,158.1 387.1,158.1 387.5,158.1 387.9,158.1 388.3,158.1 388.7,158.1 389.1,158.1 389.5,158.1 389.9,158 390.3,158 390.7,158 391.1,158 391.5,158 391.9,158 392.3,158 392.7,157.9 393.1,157.9 393.5,157.9 393.9,157.9 394.3,157.8 394.7,157.8 395.1,157.8 395.5,157.8 395.9,157.7 396.3,157.7 396.7,157.7 397.1,157.6 397.5,157.6 397.9,157.6 398.3,157.5 398.7,157.5 399.1,157.4 399.5,157.4 399.9,157.3 400.3,157.3 400.7,157.2 401.1,157.2 401.5,157.1 401.9,157 402.3,156.9 402.7,156.9 403.1,156.8 403.5,156.7 403.9,156.6 404.3,156.5 404.7,156.3 405.1,156.2 405.5,156.1 405.9,155.9 406.3,155.8 406.7,155.6 407.1,155.4 407.5,155.2 407.9,155 408.3,154.8 408.7,154.5 409.1,154.3 409.5,154 409.9,153.7 410.3,153.5 410.7,153.2 411.1,152.9 411.5,152.6 411.9,152.4 412.3,152.1 412.7,151.9 413.1,151.7 413.5,151.6 413.9,151.5 414.3,151.5 414.7,151.5 415.1,151.6 415.5,151.7 415.9,151.9 416.3,152.1 416.7,152.4 417.1,152.6 417.5,152.9 417.9,153.2 418.3,153.5 418.7,153.7 419.1,154 419.5,154.3 419.9,154.5 420.3,154.8 420.7,155 421.1,155.2 421.5,155.4 421.9,155.6 422.3,155.8 422.7,155.9 423.1,156.1 423.5,156.2 423.9,156.3 424.3,156.5 424.7,156.6 425.1,156.7 425.5,156.8 425.9,156.9 426.3,156.9 426.7,157 427.1,157.1 427.5,157.2 427.9,157.2 428.3,157.3 428.7,157.3 429.1,157.4 429.5,157.4 429.9,157.5 430.3,157.5 430.7,157.6 431.1,157.6 431.5,157.6 431.9,157.7 432.3,157.7 432.7,157.7 433.1,157.8 433.5,157.8 433.9,157.8 434.3,157.8 434.7,157.9 435.1,157.9 435.5,157.9 435.9,157.9 436.3,158 436.7,158 437.1,158 437.5,158 437.9,158 438.3,158 438.7,158 439.1,158.1 439.5,158.1 439.9,158.1 440.3,158.1 440.7,158.1 441.1,158.1 441.5,158.1 441.9,158.1 442.3,158.2 442.7,158.2 443.1,158.2 443.5,158.2 443.9,158.2 444.3,158.2 444.7,158.2 445.1,158.2 445.5,158.2 445.9,158.2 446.3,158.2 446.7,158.2 447.1,158.2 447.5,158.2 447.9,158.3 448.3,158.3 448.7,158.3 449.1,158.3 449.5,158.3 449.9,158.3 450.3,158.3 450.7,158.3 451.1,158.3 451.5,158.3 451.9,158.3 452.3,158.3 452.7,158.3 453.1,158.3 453.5,158.3 453.9,158.3 454.3,158.3 454.7,158.3 455.1,158.3 455.5,158.3 455.9,158.3 456.3,158.3 456.7,158.3 457.1,158.3 457.5,158.3 457.9,158.4 458.3,158.4 458.7,158.4 459.1,158.4 459.5,158.4 459.9,158.4 460.3,158.4 460.7,158.4 461.1,158.4 461.5,158.4 461.9,158.4 462.3,158.4 462.7,158.4 463.1,158.4 463.5,158.4 463.9,158.4 464.3,158.4 464.7,158.4 465.1,158.4 465.5,158.4 465.9,158.4 466.3,158.4 466.7,158.4 467.1,158.4 467.5,158.4 467.9,158.4 468.3,158.4 468.7,158.4 469.1,158.4 469.5,158.4 469.9,158.4 470.3,158.4 470.7,158.4 471.1,158.4 471.5,158.4 471.9,158.4 472.3,158.4 472.7,158.4 473.1,158.4 473.5,158.4 473.9,158.4 474.3,158.4 474.7,158.4 475.1,158.4 475.5,158.4 475.9,158.4 476.3,158.4 476.7,158.4 477.1,158.4 477.5,158.4 477.9,158.4 478.3,158.4 478.7,158.4 479.1,158.4 479.5,158.4 479.9,158.4 480.3,158.4 480.7,158.4 481.1,158.4 481.5,158.4 481.9,158.4 482.3,158.4 482.7,158.4 483.1,158.4 483.5,158.4 483.9,158.4 484.3,158.4 484.7,158.4 485.1,158.4 485.5,158.4 485.9,158.4 486.3,158.4 486.7,158.4 487.1,158.4 487.5,158.4 487.9,158.4 488.3,158.4 488.7,158.4 489.1,158.4 489.5,158.4 489.9,158.5 490.3,158.5 490.7,158.5 491.1,158.5 491.5,158.5 491.9,158.5 492.3,158.5 492.7,158.5" fill="none" stroke="#e8281e" stroke-width="0.9"/>
<path d="M317.9,158.5 318.3,158.5 318.7,158.5 319.1,158.5 319.5,158.5 319.9,158.5 320.3,158.5 320.7,158.5 321.1,158.5 321.5,158.5 321.9,158.5 322.3,158.5 322.7,158.5 323.1,158.5 323.5,158.5 323.9,158.5 324.3,158.5 324.7,158.5 325.1,158.5 325.5,158.5 325.9,158.5 326.3,158.5 326.7,158.5 327.1,158.5 327.5,158.5 327.9,158.5 328.3,158.5 328.7,158.5 329.1,158.5 329.5,158.5 329.9,158.5 330.3,158.5 330.7,158.5 331.1,158.5 331.5,158.5 331.9,158.5 332.3,158.5 332.7,158.5 333.1,158.5 333.5,158.5 333.9,158.5 334.3,158.5 334.7,158.5 335.1,158.5 335.5,158.5 335.9,158.5 336.3,158.5 336.7,158.5 337.1,158.5 337.5,158.5 337.9,158.5 338.3,158.5 338.7,158.5 339.1,158.5 339.5,158.5 339.9,158.5 340.3,158.5 340.7,158.5 341.1,158.5 341.5,158.5 341.9,158.5 342.3,158.5 342.7,158.5 343.1,158.5 343.5,158.5 343.9,158.5 344.3,158.5 344.7,158.5 345.1,158.5 345.5,158.5 345.9,158.5 346.3,158.5 346.7,158.5 347.1,158.5 347.5,158.5 347.9,158.5 348.3,158.5 348.7,158.5 349.1,158.5 349.5,158.5 349.9,158.5 350.3,158.5 350.7,158.5 351.1,158.5 351.5,158.5 351.9,158.5 352.3,158.5 352.7,158.5 353.1,158.5 353.5,158.5 353.9,158.5 354.3,158.5 354.7,158.5 355.1,158.5 355.5,158.4 355.9,158.4 356.3,158.4 356.7,158.4 357.1,158.4 357.5,158.4 357.9,158.4 358.3,158.4 358.7,158.4 359.1,158.4 359.5,158.4 359.9,158.4 360.3,158.4 360.7,158.4 361.1,158.4 361.5,158.4 361.9,158.4 362.3,158.4 362.7,158.4 363.1,158.4 363.5,158.4 363.9,158.4 364.3,158.4 364.7,158.4 365.1,158.4 365.5,158.4 365.9,158.4 366.3,158.4 366.7,158.4 367.1,158.4 367.5,158.4 367.9,158.4 368.3,158.4 368.7,158.4 369.1,158.4 369.5,158.4 369.9,158.4 370.3,158.4 370.7,158.4 371.1,158.4 371.5,158.4 371.9,158.4 372.3,158.4 372.7,158.4 373.1,158.4 373.5,158.4 373.9,158.4 374.3,158.4 374.7,158.4 375.1,158.4 375.5,158.4 375.9,158.4 376.3,158.4 376.7,158.4 377.1,158.4 377.5,158.4 377.9,158.4 378.3,158.4 378.7,158.4 379.1,158.4 379.5,158.4 379.9,158.4 380.3,158.4 380.7,158.4 381.1,158.4 381.5,158.4 381.9,158.4 382.3,158.4 382.7,158.4 383.1,158.4 383.5,158.4 383.9,158.4 384.3,158.4 384.7,158.4 385.1,158.4 385.5,158.4 385.9,158.4 386.3,158.4 386.7,158.4 387.1,158.4 387.5,158.4 387.9,158.4 388.3,158.4 388.7,158.4 389.1,158.4 389.5,158.4 389.9,158.4 390.3,158.4 390.7,158.4 391.1,158.4 391.5,158.4 391.9,158.4 392.3,158.4 392.7,158.4 393.1,158.4 393.5,158.4 393.9,158.4 394.3,158.4 394.7,158.4 395.1,158.4 395.5,158.4 395.9,158.4 396.3,158.4 396.7,158.4 397.1,158.4 397.5,158.4 397.9,158.4 398.3,158.4 398.7,158.4 399.1,158.3 399.5,158.3 399.9,158.3 400.3,158.3 400.7,158.3 401.1,158.3 401.5,158.3 401.9,158.3 402.3,158.3 402.7,158.3 403.1,158.3 403.5,158.3 403.9,158.3 404.3,158.3 404.7,158.3 405.1,158.3 405.5,158.3 405.9,158.3 406.3,158.3 406.7,158.3 407.1,158.3 407.5,158.3 407.9,158.3 408.3,158.3 408.7,158.3 409.1,158.3 409.5,158.3 409.9,158.3 410.3,158.3 410.7,158.3 411.1,158.3 411.5,158.3 411.9,158.3 412.3,158.3 412.7,158.3 413.1,158.2 413.5,158.2 413.9,158.2 414.3,158.2 414.7,158.2 415.1,158.2 415.5,158.2 415.9,158.2 416.3,158.2 416.7,158.2 417.1,158.2 417.5,158.2 417.9,158.2 418.3,158.2 418.7,158.2 419.1,158.2 419.5,158.2 419.9,158.2 420.3,158.2 420.7,158.1 421.1,158.1 421.5,158.1 421.9,158.1 422.3,158.1 422.7,158.1 423.1,158.1 423.5,158.1 423.9,158.1 424.3,158.1 424.7,158.1 425.1,158.1 425.5,158 425.9,158 426.3,158 426.7,158 427.1,158 427.5,158 427.9,158 428.3,158 428.7,158 429.1,158 429.5,157.9 429.9,157.9 430.3,157.9 430.7,157.9 431.1,157.9 431.5,157.9 431.9,157.9 432.3,157.8 432.7,157.8 433.1,157.8 433.5,157.8 433.9,157.8 434.3,157.8 434.7,157.7 435.1,157.7 435.5,157.7 435.9,157.7 436.3,157.7 436.7,157.6 437.1,157.6 437.5,157.6 437.9,157.6 438.3,157.5 438.7,157.5 439.1,157.5 439.5,157.5 439.9,157.4 440.3,157.4 440.7,157.4 441.1,157.4 441.5,157.3 441.9,157.3 442.3,157.3 442.7,157.3 443.1,157.2 443.5,157.2 443.9,157.2 444.3,157.1 444.7,157.1 445.1,157.1 445.5,157 445.9,157 446.3,157 446.7,156.9 447.1,156.9 447.5,156.9 447.9,156.8 448.3,156.8 448.7,156.8 449.1,156.7 449.5,156.7 449.9,156.7 450.3,156.7 450.7,156.6 451.1,156.6 451.5,156.6 451.9,156.6 452.3,156.6 452.7,156.5 453.1,156.5 453.5,156.5 453.9,156.5 454.3,156.5 454.7,156.5 455.1,156.5 455.5,156.5 455.9,156.5 456.3,156.5 456.7,156.5 457.1,156.5 457.5,156.5 457.9,156.6 458.3,156.6 458.7,156.6 459.1,156.6 459.5,156.6 459.9,156.7 460.3,156.7 460.7,156.7 461.1,156.7 461.5,156.8 461.9,156.8 462.3,156.8 462.7,156.9 463.1,156.9 463.5,156.9 463.9,157 464.3,157 464.7,157 465.1,157.1 465.5,157.1 465.9,157.1 466.3,157.2 466.7,157.2 467.1,157.2 467.5,157.3 467.9,157.3 468.3,157.3 468.7,157.3 469.1,157.4 469.5,157.4 469.9,157.4 470.3,157.4 470.7,157.5 471.1,157.5 471.5,157.5 471.9,157.5 472.3,157.6 472.7,157.6 473.1,157.6 473.5,157.6 473.9,157.7 474.3,157.7 474.7,157.7 475.1,157.7 475.5,157.7 475.9,157.8 476.3,157.8 476.7,157.8 477.1,157.8 477.5,157.8 477.9,157.8 478.3,157.9 478.7,157.9 479.1,157.9 479.5,157.9 479.9,157.9 480.3,157.9 480.7,157.9 481.1,158 481.5,158 481.9,158 482.3,158 482.7,158 483.1,158 483.5,158 483.9,158 484.3,158 484.7,158 485.1,158.1 485.5,158.1 485.9,158.1 486.3,158.1 486.7,158.1 487.1,158.1 487.5,158.1 487.9,158.1 488.3,158.1 488.7,158.1 489.1,158.1 489.5,158.1 489.9,158.2 490.3,158.2 490.7,158.2 491.1,158.2 491.5,158.2 491.9,158.2 492.3,158.2 492.7,158.2" fill="none" stroke="#e8281e" stroke-width="0.9"/>
<path d="M317.9,158.5 318.3,158.5 318.7,158.5 319.1,158.5 319.5,158.5 319.9,158.5 320.3,158.5 320.7,158.5 321.1,158.5 321.5,158.5 321.9,158.5 322.3,158.5 322.7,158.5 323.1,158.5 323.5,158.5 323.9,158.5 324.3,158.5 324.7,158.5 325.1,158.5 325.5,158.5 325.9,158.5 326.3,158.5 326.7,158.5 327.1,158.5 327.5,158.5 327.9,158.5 328.3,158.5 328.7,158.5 329.1,158.5 329.5,158.5 329.9,158.5 330.3,158.5 330.7,158.5 331.1,158.5 331.5,158.5 331.9,158.5 332.3,158.5 332.7,158.5 333.1,158.5 333.5,158.5 333.9,158.5 334.3,158.5 334.7,158.5 335.1,158.5 335.5,158.5 335.9,158.5 336.3,158.5 336.7,158.5 337.1,158.5 337.5,158.5 337.9,158.5 338.3,158.5 338.7,158.5 339.1,158.5 339.5,158.5 339.9,158.5 340.3,158.5 340.7,158.5 341.1,158.5 341.5,158.5 341.9,158.5 342.3,158.4 342.7,158.4 343.1,158.4 343.5,158.4 343.9,158.4 344.3,158.4 344.7,158.4 345.1,158.4 345.5,158.4 345.9,158.4 346.3,158.4 346.7,158.4 347.1,158.4 347.5,158.4 347.9,158.4 348.3,158.4 348.7,158.4 349.1,158.4 349.5,158.4 349.9,158.4 350.3,158.4 350.7,158.4 351.1,158.4 351.5,158.4 351.9,158.4 352.3,158.4 352.7,158.4 353.1,158.4 353.5,158.4 353.9,158.4 354.3,158.4 354.7,158.4 355.1,158.4 355.5,158.4 355.9,158.4 356.3,158.4 356.7,158.4 357.1,158.4 357.5,158.4 357.9,158.4 358.3,158.4 358.7,158.4 359.1,158.4 359.5,158.4 359.9,158.4 360.3,158.4 360.7,158.4 361.1,158.4 361.5,158.4 361.9,158.4 362.3,158.4 362.7,158.4 363.1,158.4 363.5,158.4 363.9,158.4 364.3,158.4 364.7,158.4 365.1,158.4 365.5,158.4 365.9,158.4 366.3,158.4 366.7,158.4 367.1,158.4 367.5,158.4 367.9,158.4 368.3,158.4 368.7,158.4 369.1,158.4 369.5,158.4 369.9,158.4 370.3,158.4 370.7,158.4 371.1,158.4 371.5,158.4 371.9,158.4 372.3,158.4 372.7,158.4 373.1,158.4 373.5,158.4 373.9,158.4 374.3,158.4 374.7,158.4 375.1,158.4 375.5,158.4 375.9,158.4 376.3,158.4 376.7,158.4 377.1,158.4 377.5,158.4 377.9,158.4 378.3,158.4 378.7,158.4 379.1,158.4 379.5,158.4 379.9,158.4 380.3,158.4 380.7,158.4 381.1,158.4 381.5,158.4 381.9,158.4 382.3,158.4 382.7,158.4 383.1,158.4 383.5,158.4 383.9,158.4 384.3,158.4 384.7,158.4 385.1,158.4 385.5,158.4 385.9,158.4 386.3,158.4 386.7,158.4 387.1,158.4 387.5,158.4 387.9,158.4 388.3,158.4 388.7,158.4 389.1,158.4 389.5,158.4 389.9,158.4 390.3,158.4 390.7,158.4 391.1,158.4 391.5,158.4 391.9,158.4 392.3,158.4 392.7,158.4 393.1,158.4 393.5,158.4 393.9,158.4 394.3,158.4 394.7,158.4 395.1,158.4 395.5,158.4 395.9,158.3 396.3,158.3 396.7,158.3 397.1,158.3 397.5,158.3 397.9,158.3 398.3,158.3 398.7,158.3 399.1,158.3 399.5,158.3 399.9,158.3 400.3,158.3 400.7,158.3 401.1,158.3 401.5,158.3 401.9,158.3 402.3,158.3 402.7,158.3 403.1,158.3 403.5,158.3 403.9,158.3 404.3,158.3 404.7,158.3 405.1,158.3 405.5,158.3 405.9,158.3 406.3,158.3 406.7,158.3 407.1,158.3 407.5,158.3 407.9,158.3 408.3,158.3 408.7,158.3 409.1,158.3 409.5,158.3 409.9,158.3 410.3,158.3 410.7,158.3 411.1,158.3 411.5,158.3 411.9,158.3 412.3,158.2 412.7,158.2 413.1,158.2 413.5,158.2 413.9,158.2 414.3,158.2 414.7,158.2 415.1,158.2 415.5,158.2 415.9,158.2 416.3,158.2 416.7,158.2 417.1,158.2 417.5,158.2 417.9,158.2 418.3,158.2 418.7,158.2 419.1,158.2 419.5,158.2 419.9,158.2 420.3,158.2 420.7,158.2 421.1,158.1 421.5,158.1 421.9,158.1 422.3,158.1 422.7,158.1 423.1,158.1 423.5,158.1 423.9,158.1 424.3,158.1 424.7,158.1 425.1,158.1 425.5,158.1 425.9,158.1 426.3,158.1 426.7,158.1 427.1,158 427.5,158 427.9,158 428.3,158 428.7,158 429.1,158 429.5,158 429.9,158 430.3,158 430.7,158 431.1,157.9 431.5,157.9 431.9,157.9 432.3,157.9 432.7,157.9 433.1,157.9 433.5,157.9 433.9,157.8 434.3,157.8 434.7,157.8 435.1,157.8 435.5,157.8 435.9,157.8 436.3,157.7 436.7,157.7 437.1,157.7 437.5,157.7 437.9,157.7 438.3,157.6 438.7,157.6 439.1,157.6 439.5,157.6 439.9,157.6 440.3,157.5 440.7,157.5 441.1,157.5 441.5,157.4 441.9,157.4 442.3,157.4 442.7,157.3 443.1,157.3 443.5,157.3 443.9,157.2 444.3,157.2 444.7,157.1 445.1,157.1 445.5,157.1 445.9,157 446.3,157 446.7,156.9 447.1,156.8 447.5,156.8 447.9,156.7 448.3,156.6 448.7,156.6 449.1,156.5 449.5,156.4 449.9,156.3 450.3,156.2 450.7,156.1 451.1,156 451.5,155.9 451.9,155.8 452.3,155.7 452.7,155.6 453.1,155.4 453.5,155.3 453.9,155.1 454.3,154.9 454.7,154.7 455.1,154.5 455.5,154.3 455.9,154.1 456.3,153.8 456.7,153.5 457.1,153.2 457.5,152.8 457.9,152.5 458.3,152.1 458.7,151.6 459.1,151.1 459.5,150.6 459.9,149.9 460.3,149.3 460.7,148.5 461.1,147.7 461.5,146.7 461.9,145.6 462.3,144.5 462.7,143.1 463.1,141.6 463.5,139.9 463.9,138 464.3,135.9 464.7,133.5 465.1,130.9 465.5,128 465.9,124.9 466.3,121.7 466.7,118.5 467.1,115.4 467.5,112.6 467.9,110.4 468.3,109 468.7,108.5 469.1,109 469.5,110.4 469.9,112.6 470.3,115.4 470.7,118.5 471.1,121.7 471.5,124.9 471.9,128 472.3,130.9 472.7,133.5 473.1,135.9 473.5,138 473.9,139.9 474.3,141.6 474.7,143.1 475.1,144.5 475.5,145.6 475.9,146.7 476.3,147.7 476.7,148.5 477.1,149.3 477.5,149.9 477.9,150.6 478.3,151.1 478.7,151.6 479.1,152.1 479.5,152.5 479.9,152.8 480.3,153.2 480.7,153.5 481.1,153.8 481.5,154.1 481.9,154.3 482.3,154.5 482.7,154.7 483.1,154.9 483.5,155.1 483.9,155.3 484.3,155.4 484.7,155.6 485.1,155.7 485.5,155.8 485.9,155.9 486.3,156 486.7,156.1 487.1,156.2 487.5,156.3 487.9,156.4 488.3,156.5 488.7,156.6 489.1,156.6 489.5,156.7 489.9,156.8 490.3,156.8 490.7,156.9 491.1,157 491.5,157 491.9,157.1 492.3,157.1 492.7,157.1" fill="none" stroke="#e02a30" stroke-width="0.9"/>
<path d="M317.9,149.4 318.3,148.7 318.7,147.9 319.1,146.9 319.5,145.8 319.9,144.5 320.3,142.9 320.7,141.1 321.1,139 321.5,136.5 321.9,133.7 322.3,130.4 322.7,126.8 323.1,122.9 323.5,119.1 323.9,115.8 324.3,113.4 324.7,112.4 325.1,113 325.5,114.9 325.9,117.8 326.3,121.2 326.7,124.5 327.1,127.6 327.5,130.3 327.9,132.5 328.3,134.3 328.7,135.7 329.1,136.6 329.5,137.1 329.9,137.4 330.3,137.3 330.7,137 331.1,136.4 331.5,135.8 331.9,135.2 332.3,134.6 332.7,134.3 333.1,134.2 333.5,134.4 333.9,134.7 334.3,135.1 334.7,135.7 335.1,136.2 335.5,136.9 335.9,137.6 336.3,138.5 336.7,139.5 337.1,140.6 337.5,141.7 337.9,142.7 338.3,143.8 338.7,144.7 339.1,145.5 339.5,146.2 339.9,146.8 340.3,147.3 340.7,147.7 341.1,148 341.5,148.2 341.9,148.3 342.3,148.4 342.7,148.3 343.1,148.1 343.5,147.8 343.9,147.4 344.3,146.9 344.7,146.2 345.1,145.3 345.5,144.2 345.9,142.9 346.3,141.4 346.7,139.9 347.1,138.5 347.5,137.4 347.9,136.9 348.3,137 348.7,137.7 349.1,138.6 349.5,139.7 349.9,140.6 350.3,141.3 350.7,141.6 351.1,141.7 351.5,141.4 351.9,140.9 352.3,140.2 352.7,139.6 353.1,139.1 353.5,139 353.9,139.3 354.3,140.1 354.7,141 355.1,142 355.5,143 355.9,143.7 356.3,144.2 356.7,144.6 357.1,144.7 357.5,144.6 357.9,144.4 358.3,143.9 358.7,143.4 359.1,142.7 359.5,141.9 359.9,141.1 360.3,140.2 360.7,139.4 361.1,138.6 361.5,137.8 361.9,136.9 362.3,135.8 362.7,134.6 363.1,133.1 363.5,131.6 363.9,130.3 364.3,129.4 364.7,129.2 365.1,129.8 365.5,131.1 365.9,132.9 366.3,134.8 366.7,136.7 367.1,138.4 367.5,139.8 367.9,141 368.3,141.9 368.7,142.6 369.1,143 369.5,143.3 369.9,143.4 370.3,143.4 370.7,143.2 371.1,142.9 371.5,142.5 371.9,142 372.3,141.5 372.7,140.9 373.1,140.4 373.5,139.9 373.9,139.5 374.3,139.3 374.7,139.3 375.1,139.4 375.5,139.6 375.9,139.9 376.3,140.2 376.7,140.4 377.1,140.6 377.5,140.8 377.9,140.8 378.3,140.7 378.7,140.4 379.1,140.1 379.5,139.6 379.9,139 380.3,138.3 380.7,137.5 381.1,136.6 381.5,135.7 381.9,134.9 382.3,134.1 382.7,133.4 383.1,132.7 383.5,132 383.9,131.2 384.3,130.2 384.7,129.1 385.1,127.6 385.5,125.8 385.9,123.6 386.3,120.9 386.7,117.7 387.1,113.9 387.5,109.3 387.9,103.9 388.3,97.6 388.7,90.2 389.1,81.7 389.5,72.2 389.9,61.9 390.3,51.3 390.7,41.1 391.1,32.5 391.5,26.6 391.9,24.6 392.3,26.8 392.7,32.8 393.1,41.6 393.5,51.9 393.9,62.8 394.3,73.3 394.7,83 395.1,91.6 395.5,99.3 395.9,105.9 396.3,111.5 396.7,116.4 397.1,120.6 397.5,124.3 397.9,127.4 398.3,130.1 398.7,132.4 399.1,134.4 399.5,136.2 399.9,137.8 400.3,139.1 400.7,140.4 401.1,141.4 401.5,142.4 401.9,143.2 402.3,143.9 402.7,144.6 403.1,145.1 403.5,145.7 403.9,146.1 404.3,146.5 404.7,146.8 405.1,147.1 405.5,147.4 405.9,147.6 406.3,147.8 406.7,147.9 407.1,148 407.5,148 407.9,148.1 408.3,148.1 408.7,148.1 409.1,148 409.5,147.9 409.9,147.8 410.3,147.7 410.7,147.6 411.1,147.4 411.5,147.3 411.9,147.1 412.3,147 412.7,146.9 413.1,146.9 413.5,146.8 413.9,146.8 414.3,146.9 414.7,147 415.1,147.2 415.5,147.4 415.9,147.6 416.3,147.9 416.7,148.2 417.1,148.5 417.5,148.8 417.9,149.2 418.3,149.5 418.7,149.8 419.1,150.2 419.5,150.5 419.9,150.7 420.3,151 420.7,151.3 421.1,151.5 421.5,151.8 421.9,152 422.3,152.2 422.7,152.4 423.1,152.5 423.5,152.7 423.9,152.8 424.3,153 424.7,153.1 425.1,153.2 425.5,153.3 425.9,153.4 426.3,153.5 426.7,153.6 427.1,153.7 427.5,153.8 427.9,153.8 428.3,153.9 428.7,154 429.1,154 429.5,154.1 429.9,154.1 430.3,154.1 430.7,154.2 431.1,154.2 431.5,154.2 431.9,154.3 432.3,154.3 432.7,154.3 433.1,154.3 433.5,154.3 433.9,154.3 434.3,154.3 434.7,154.3 435.1,154.3 435.5,154.3 435.9,154.3 436.3,154.3 436.7,154.3 437.1,154.3 437.5,154.3 437.9,154.3 438.3,154.3 438.7,154.2 439.1,154.2 439.5,154.2 439.9,154.2 440.3,154.1 440.7,154.1 441.1,154.1 441.5,154 441.9,154 442.3,154 442.7,153.9 443.1,153.9 443.5,153.8 443.9,153.8 444.3,153.7 444.7,153.6 445.1,153.6 445.5,153.5 445.9,153.4 446.3,153.4 446.7,153.3 447.1,153.2 447.5,153.1 447.9,153.1 448.3,153 448.7,152.9 449.1,152.8 449.5,152.7 449.9,152.6 450.3,152.5 450.7,152.4 451.1,152.3 451.5,152.1 451.9,152 452.3,151.9 452.7,151.7 453.1,151.6 453.5,151.4 453.9,151.3 454.3,151.1 454.7,150.9 455.1,150.7 455.5,150.5 455.9,150.3 456.3,150 456.7,149.7 457.1,149.5 457.5,149.1 457.9,148.8 458.3,148.4 458.7,148 459.1,147.5 459.5,147 459.9,146.4 460.3,145.7 460.7,145 461.1,144.2 461.5,143.3 461.9,142.3 462.3,141.1 462.7,139.8 463.1,138.3 463.5,136.7 463.9,134.8 464.3,132.7 464.7,130.4 465.1,127.8 465.5,125 465.9,121.9 466.3,118.8 466.7,115.6 467.1,112.5 467.5,109.8 467.9,107.6 468.3,106.2 468.7,105.7 469.1,106.3 469.5,107.7 469.9,110 470.3,112.8 470.7,115.9 471.1,119.2 471.5,122.4 471.9,125.5 472.3,128.4 472.7,131 473.1,133.4 473.5,135.6 473.9,137.5 474.3,139.2 474.7,140.8 475.1,142.1 475.5,143.3 475.9,144.4 476.3,145.4 476.7,146.3 477.1,147 477.5,147.7 477.9,148.4 478.3,148.9 478.7,149.5 479.1,149.9 479.5,150.4 479.9,150.8 480.3,151.1 480.7,151.4 481.1,151.7 481.5,152 481.9,152.3 482.3,152.5 482.7,152.7 483.1,152.9 483.5,153.1 483.9,153.3 484.3,153.5 484.7,153.6 485.1,153.8 485.5,153.9 485.9,154 486.3,154.2 486.7,154.3 487.1,154.4 487.5,154.5 487.9,154.6 488.3,154.7 488.7,154.8 489.1,154.8 489.5,154.9 489.9,155 490.3,155.1 490.7,155.1 491.1,155.2 491.5,155.2 491.9,155.3 492.3,155.4 492.7,155.4" fill="none" stroke="#2a2ab8" stroke-width="2" stroke-linejoin="round"/>
<path d="M317.9,158.3 318.3,158.3 318.7,158.3 319.1,158.3 319.5,158.3 319.9,158.3 320.3,158.3 320.7,158.3 321.1,158.2 321.5,158.2 321.9,158.2 322.3,158.2 322.7,158.2 323.1,158.2 323.5,158.2 323.9,158.2 324.3,158.2 324.7,158.2 325.1,158.2 325.5,158.2 325.9,158.2 326.3,158.2 326.7,158.2 327.1,158.2 327.5,158.2 327.9,158.2 328.3,158.2 328.7,158.2 329.1,158.2 329.5,158.2 329.9,158.2 330.3,158.2 330.7,158.2 331.1,158.2 331.5,158.2 331.9,158.1 332.3,158.1 332.7,158.1 333.1,158.1 333.5,158.1 333.9,158.1 334.3,158.1 334.7,158.1 335.1,158.1 335.5,158.1 335.9,158.1 336.3,158.1 336.7,158.1 337.1,158.1 337.5,158.1 337.9,158.1 338.3,158.1 338.7,158.1 339.1,158 339.5,158 339.9,158 340.3,158 340.7,158 341.1,158 341.5,158 341.9,158 342.3,158 342.7,158 343.1,158 343.5,158 343.9,158 344.3,157.9 344.7,157.9 345.1,157.9 345.5,157.9 345.9,157.9 346.3,157.9 346.7,157.9 347.1,157.9 347.5,157.9 347.9,157.8 348.3,157.8 348.7,157.8 349.1,157.8 349.5,157.8 349.9,157.8 350.3,157.8 350.7,157.8 351.1,157.7 351.5,157.7 351.9,157.7 352.3,157.7 352.7,157.7 353.1,157.7 353.5,157.6 353.9,157.6 354.3,157.6 354.7,157.6 355.1,157.6 355.5,157.6 355.9,157.5 356.3,157.5 356.7,157.5 357.1,157.5 357.5,157.4 357.9,157.4 358.3,157.4 358.7,157.4 359.1,157.3 359.5,157.3 359.9,157.3 360.3,157.2 360.7,157.2 361.1,157.2 361.5,157.1 361.9,157.1 362.3,157.1 362.7,157 363.1,157 363.5,156.9 363.9,156.9 364.3,156.9 364.7,156.8 365.1,156.8 365.5,156.7 365.9,156.7 366.3,156.6 366.7,156.5 367.1,156.5 367.5,156.4 367.9,156.3 368.3,156.3 368.7,156.2 369.1,156.1 369.5,156 369.9,155.9 370.3,155.8 370.7,155.7 371.1,155.6 371.5,155.5 371.9,155.4 372.3,155.3 372.7,155.2 373.1,155 373.5,154.9 373.9,154.7 374.3,154.5 374.7,154.4 375.1,154.2 375.5,154 375.9,153.7 376.3,153.5 376.7,153.2 377.1,153 377.5,152.7 377.9,152.3 378.3,152 378.7,151.6 379.1,151.2 379.5,150.8 379.9,150.3 380.3,149.7 380.7,149.1 381.1,148.5 381.5,147.8 381.9,147 382.3,146.1 382.7,145.1 383.1,144 383.5,142.7 383.9,141.3 384.3,139.8 384.7,137.9 385.1,135.9 385.5,133.5 385.9,130.8 386.3,127.7 386.7,124.1 387.1,119.9 387.5,115 387.9,109.3 388.3,102.7 388.7,95.1 389.1,86.5 389.5,76.8 389.9,66.4 390.3,55.6 390.7,45.3 391.1,36.5 391.5,30.6 391.9,28.5 392.3,30.6 392.7,36.5 393.1,45.3 393.5,55.6 393.9,66.4 394.3,76.8 394.7,86.5 395.1,95.1 395.5,102.7 395.9,109.3 396.3,115 396.7,119.9 397.1,124.1 397.5,127.7 397.9,130.8 398.3,133.5 398.7,135.9 399.1,137.9 399.5,139.8 399.9,141.3 400.3,142.7 400.7,144 401.1,145.1 401.5,146.1 401.9,147 402.3,147.8 402.7,148.5 403.1,149.1 403.5,149.7 403.9,150.3 404.3,150.8 404.7,151.2 405.1,151.6 405.5,152 405.9,152.3 406.3,152.7 406.7,153 407.1,153.2 407.5,153.5 407.9,153.7 408.3,154 408.7,154.2 409.1,154.4 409.5,154.5 409.9,154.7 410.3,154.9 410.7,155 411.1,155.2 411.5,155.3 411.9,155.4 412.3,155.5 412.7,155.6 413.1,155.7 413.5,155.8 413.9,155.9 414.3,156 414.7,156.1 415.1,156.2 415.5,156.3 415.9,156.3 416.3,156.4 416.7,156.5 417.1,156.5 417.5,156.6 417.9,156.7 418.3,156.7 418.7,156.8 419.1,156.8 419.5,156.9 419.9,156.9 420.3,156.9 420.7,157 421.1,157 421.5,157.1 421.9,157.1 422.3,157.1 422.7,157.2 423.1,157.2 423.5,157.2 423.9,157.3 424.3,157.3 424.7,157.3 425.1,157.4 425.5,157.4 425.9,157.4 426.3,157.4 426.7,157.5 427.1,157.5 427.5,157.5 427.9,157.5 428.3,157.6 428.7,157.6 429.1,157.6 429.5,157.6 429.9,157.6 430.3,157.6 430.7,157.7 431.1,157.7 431.5,157.7 431.9,157.7 432.3,157.7 432.7,157.7 433.1,157.8 433.5,157.8 433.9,157.8 434.3,157.8 434.7,157.8 435.1,157.8 435.5,157.8 435.9,157.8 436.3,157.9 436.7,157.9 437.1,157.9 437.5,157.9 437.9,157.9 438.3,157.9 438.7,157.9 439.1,157.9 439.5,157.9 439.9,158 440.3,158 440.7,158 441.1,158 441.5,158 441.9,158 442.3,158 442.7,158 443.1,158 443.5,158 443.9,158 444.3,158 444.7,158 445.1,158.1 445.5,158.1 445.9,158.1 446.3,158.1 446.7,158.1 447.1,158.1 447.5,158.1 447.9,158.1 448.3,158.1 448.7,158.1 449.1,158.1 449.5,158.1 449.9,158.1 450.3,158.1 450.7,158.1 451.1,158.1 451.5,158.1 451.9,158.1 452.3,158.2 452.7,158.2 453.1,158.2 453.5,158.2 453.9,158.2 454.3,158.2 454.7,158.2 455.1,158.2 455.5,158.2 455.9,158.2 456.3,158.2 456.7,158.2 457.1,158.2 457.5,158.2 457.9,158.2 458.3,158.2 458.7,158.2 459.1,158.2 459.5,158.2 459.9,158.2 460.3,158.2 460.7,158.2 461.1,158.2 461.5,158.2 461.9,158.2 462.3,158.2 462.7,158.2 463.1,158.3 463.5,158.3 463.9,158.3 464.3,158.3 464.7,158.3 465.1,158.3 465.5,158.3 465.9,158.3 466.3,158.3 466.7,158.3 467.1,158.3 467.5,158.3 467.9,158.3 468.3,158.3 468.7,158.3 469.1,158.3 469.5,158.3 469.9,158.3 470.3,158.3 470.7,158.3 471.1,158.3 471.5,158.3 471.9,158.3 472.3,158.3 472.7,158.3 473.1,158.3 473.5,158.3 473.9,158.3 474.3,158.3 474.7,158.3 475.1,158.3 475.5,158.3 475.9,158.3 476.3,158.3 476.7,158.3 477.1,158.3 477.5,158.3 477.9,158.3 478.3,158.3 478.7,158.3 479.1,158.3 479.5,158.3 479.9,158.3 480.3,158.3 480.7,158.3 481.1,158.3 481.5,158.3 481.9,158.3 482.3,158.3 482.7,158.3 483.1,158.3 483.5,158.3 483.9,158.4 484.3,158.4 484.7,158.4 485.1,158.4 485.5,158.4 485.9,158.4 486.3,158.4 486.7,158.4 487.1,158.4 487.5,158.4 487.9,158.4 488.3,158.4 488.7,158.4 489.1,158.4 489.5,158.4 489.9,158.4 490.3,158.4 490.7,158.4 491.1,158.4 491.5,158.4 491.9,158.4 492.3,158.4 492.7,158.4" fill="none" stroke="#e8281e" stroke-width="0.9"/>
<path d="M381.1,148.5 381.3,148.1 381.5,147.8 381.7,147.4 381.9,147 382.1,146.5 382.3,146.1 382.5,145.6 382.7,145.1 382.9,144.6 383.1,144 383.3,143.4 383.5,142.7 383.7,142.1 383.9,141.3 384.1,140.6 384.3,139.8 384.5,138.9 384.7,137.9 384.9,137 385.1,135.9 385.3,134.8 385.5,133.5 385.7,132.2 385.9,130.8 386.1,129.3 386.3,127.7 386.5,126 386.7,124.1 386.9,122.1 387.1,119.9 387.3,117.5 387.5,115 387.7,112.3 387.9,109.3 388.1,106.2 388.3,102.7 388.5,99.1 388.7,95.1 388.9,91 389.1,86.5 389.3,81.8 389.5,76.8 389.7,71.7 389.9,66.4 390.1,61 390.3,55.6 390.5,50.3 390.7,45.3 390.9,40.6 391.1,36.5 391.3,33.1 391.5,30.6 391.7,29 391.9,28.5 392.1,29 392.3,30.6 392.5,33.1 392.7,36.5 392.9,40.6 393.1,45.3 393.3,50.3 393.5,55.6 393.7,61 393.9,66.4 394.1,71.7 394.3,76.8 394.5,81.8 394.7,86.5 394.9,91 395.1,95.1 395.3,99.1 395.5,102.7 395.7,106.2 395.9,109.3 396.1,112.3 396.3,115 396.5,117.5 396.7,119.9 396.9,122.1 397.1,124.1 397.3,126 397.5,127.7 397.7,129.3 397.9,130.8 398.1,132.2 398.3,133.5 398.5,134.8 398.7,135.9 398.9,137 399.1,137.9 399.3,138.9 399.5,139.8 399.7,140.6 399.9,141.3 400.1,142.1 400.3,142.7 400.5,143.4 400.7,144 400.9,144.6 401.1,145.1 401.3,145.6 401.5,146.1 401.7,146.5 401.9,147 402.1,147.4 402.3,147.8 402.5,148.1 402.7,148.5 402.9,148.8 403.1,149.1 403.3,149.4 403.5,149.7 403.7,150 403.9,150.3" fill="none" stroke="#c01a5a" stroke-width="1.5"/>
<path d="M498.4,157.9 498.9,156.5 499.4,154.4 499.9,151.8 500.4,148.8 500.9,145.4 501.4,141.6 501.9,137.5 502.4,133 502.9,128.2 503.4,123.1 503.9,117.7 504.4,112 504.9,106.1 505.4,99.9 505.9,93.4 506.4,86.7 506.9,93.4 507.4,99.9 507.9,106.1 508.4,112 508.9,117.7 509.4,123.1 509.9,128.2 510.4,133 510.9,137.5 511.4,141.6 511.9,145.4 512.4,148.8 512.9,151.8 513.4,154.4 513.9,156.5 514.4,157.9" fill="none" stroke="#b81a52" stroke-width="1.5"/>
<path d="M499,159.1 499.5,157.7 500,155.6 500.5,153 501,150 501.5,146.6 502,142.8 502.5,138.7 503,134.2 503.5,129.4 504,124.3 504.5,118.9 505,113.2 505.5,107.3 505.4,101.1 505.9,94.6 506.4,87.9 506.9,94.6 507.4,101.1 507.3,107.3 507.8,113.2 508.3,118.9 508.8,124.3 509.3,129.4 509.8,134.2 510.3,138.7 510.8,142.8 511.3,146.6 511.8,150 512.3,153 512.8,155.6 513.3,157.7 513.8,159.1" fill="none" stroke="#e0303a" stroke-width="0.7"/>
<g fill="none" stroke="#8884a4" stroke-width="0.8">
<circle cx="318.7" cy="147.9" r="2.4"/>
<circle cx="320.8" cy="141.5" r="2.4"/>
<circle cx="322.9" cy="124.7" r="2.4"/>
<circle cx="324.9" cy="113.2" r="2.4"/>
<circle cx="327" cy="126.9" r="2.4"/>
<circle cx="329.1" cy="136.4" r="2.4"/>
<circle cx="332.8" cy="135.4" r="2.4"/>
<circle cx="335.9" cy="137.7" r="2.4"/>
<circle cx="337.9" cy="142.8" r="2.4"/>
<circle cx="340" cy="147.4" r="2.4"/>
<circle cx="344.5" cy="147.2" r="2.4"/>
<circle cx="346.6" cy="140.3" r="2.4"/>
<circle cx="350.9" cy="142" r="2.4"/>
<circle cx="355.1" cy="141.6" r="2.4"/>
<circle cx="359.6" cy="141.4" r="2.4"/>
<circle cx="361.7" cy="137.1" r="2.4"/>
<circle cx="363.8" cy="129.9" r="2.4"/>
<circle cx="366.3" cy="133.7" r="2.4"/>
<circle cx="368.3" cy="141" r="2.4"/>
<circle cx="372.6" cy="140.9" r="2.4"/>
<circle cx="376.9" cy="140.4" r="2.4"/>
<circle cx="380.6" cy="137.5" r="2.4"/>
<circle cx="382.7" cy="133.5" r="2.4"/>
<circle cx="384.7" cy="128.1" r="2.4"/>
<circle cx="397.6" cy="125.2" r="2.4"/>
<circle cx="399.7" cy="137.2" r="2.4"/>
<circle cx="401.8" cy="143.4" r="2.4"/>
<circle cx="404.5" cy="146.1" r="2.4"/>
<circle cx="407.7" cy="147.8" r="2.4"/>
<circle cx="411.3" cy="146.2" r="2.4"/>
<circle cx="414.8" cy="146.7" r="2.4"/>
<circle cx="417.7" cy="147.7" r="2.4"/>
<circle cx="420.4" cy="148.5" r="2.4"/>
<circle cx="423.5" cy="151.6" r="2.4"/>
<circle cx="426.9" cy="150.5" r="2.4"/>
<circle cx="430.4" cy="152.8" r="2.4"/>
<circle cx="433.9" cy="152.7" r="2.4"/>
<circle cx="437.4" cy="152.3" r="2.4"/>
<circle cx="440.9" cy="152.6" r="2.4"/>
<circle cx="444.5" cy="152.2" r="2.4"/>
<circle cx="448" cy="151.9" r="2.4"/>
<circle cx="451.3" cy="150.3" r="2.4"/>
<circle cx="454.6" cy="148.8" r="2.4"/>
<circle cx="457.5" cy="146.9" r="2.4"/>
<circle cx="459.9" cy="145.9" r="2.4"/>
<circle cx="461.6" cy="143.1" r="2.4"/>
<circle cx="463.1" cy="137.9" r="2.4"/>
<circle cx="464.6" cy="131.5" r="2.4"/>
<circle cx="466.1" cy="118.9" r="2.4"/>
<circle cx="467.7" cy="108.2" r="2.4"/>
<circle cx="470.2" cy="111.3" r="2.4"/>
<circle cx="471.7" cy="122.7" r="2.4"/>
<circle cx="473.2" cy="135.2" r="2.4"/>
<circle cx="474.7" cy="139.5" r="2.4"/>
<circle cx="476.3" cy="145.1" r="2.4"/>
<circle cx="478" cy="148.2" r="2.4"/>
<circle cx="480.3" cy="152.1" r="2.4"/>
<circle cx="483.2" cy="151.8" r="2.4"/>
<circle cx="486.5" cy="154.9" r="2.4"/>
<circle cx="489.9" cy="154.5" r="2.4"/>
<circle cx="391.9" cy="29.5" r="2.4"/>
<circle cx="389.7" cy="48" r="2.4"/>
<circle cx="388.5" cy="73" r="2.4"/>
<circle cx="387.5" cy="96.2" r="2.4"/>
<circle cx="387" cy="112" r="2.4"/>
<circle cx="386.3" cy="126" r="2.4"/>
<circle cx="383.7" cy="134.5" r="2.4"/>
<circle cx="394" cy="49.5" r="2.4"/>
<circle cx="395" cy="76" r="2.4"/>
<circle cx="395.8" cy="101.3" r="2.4"/>
<circle cx="396.3" cy="119.5" r="2.4"/>
<circle cx="398.3" cy="126.8" r="2.4"/>
<circle cx="400.8" cy="133.7" r="2.4"/>
<circle cx="505.9" cy="87.7" r="2.4"/>
<circle cx="504.3" cy="92" r="2.4"/>
<circle cx="508.7" cy="96.5" r="2.4"/>
<circle cx="504.3" cy="115" r="2.4"/>
<circle cx="508.7" cy="120.7" r="2.4"/>
<circle cx="503.2" cy="135" r="2.4"/>
<circle cx="510.9" cy="138.4" r="2.4"/>
<circle cx="502.1" cy="146" r="2.4"/>
<circle cx="512" cy="148.3" r="2.4"/>
<circle cx="500" cy="156" r="2.4"/>
<circle cx="513.1" cy="157" r="2.4"/>
</g>
<rect x="493.5" y="8" width="5" height="157" fill="none"/>
<g stroke="#444" stroke-width="0.9"><path d="M492.2,14.5 L495.8,8.2 M495.4,14.5 L499,8.2"/><path d="M492.2,166 L495.8,159.7 M495.4,166 L499,159.7"/></g>
<g stroke="#606060" stroke-width="1">
<path d="M342.3,162.5 v-3"/>
<path d="M382.3,162.5 v-3"/>
<path d="M422.3,162.5 v-3"/>
<path d="M462.3,162.5 v-3"/>
<path d="M507.4,162.5 v-3"/>
</g>
<g font-family="'Liberation Serif', serif" font-size="12" fill="#222" class="k" text-anchor="middle">
<text x="342.3" y="177">100</text>
<text x="382.3" y="177">150</text>
<text x="422.3" y="177">200</text>
<text x="462.3" y="177">250</text>
<text x="507.4" y="177">520</text>
</g>
<text x="423.5" y="192.5" font-family="'Liberation Serif', serif" font-size="11.6" fill="#222" class="k" text-anchor="middle">Raman Shift (cm<tspan dy="-4.5" font-size="7.5">-1</tspan><tspan dy="4.5">)</tspan></text>
<text transform="translate(311,99.5) rotate(-90)" font-family="'Liberation Serif', serif" font-size="14.8" fill="#222" class="k" style="stroke-width:0.45px" text-anchor="middle">Intensity (a.u.)</text>
<text transform="translate(287.3,15.6) scale(0.98,1)" font-family="'Liberation Sans', sans-serif" font-size="20.2" fill="#111" stroke="#111" stroke-width="0.15">b)</text>
<rect x="37.5" y="209.5" width="210.5" height="162.3" fill="#fff" stroke="#606060" stroke-width="1"/>
<g stroke="#606060" stroke-width="1">
<path d="M98.4,371.8 v-3"/>
<path d="M159.4,371.8 v-3"/>
<path d="M220.4,371.8 v-3"/>
<path d="M37.5,367.4 h3"/>
<path d="M37.5,318.5 h3"/>
<path d="M37.5,269.7 h3"/>
<path d="M37.5,220.8 h3"/>
</g>
<g font-family="'Liberation Serif', serif" font-size="14" fill="#222" class="k" text-anchor="middle">
<text x="37.4" y="387.8">0</text>
<text x="98.6" y="387.8">10</text>
<text x="159.6" y="387.8">20</text>
<text x="220.6" y="387.8">30</text>
</g>
<g font-family="'Liberation Serif', serif" font-size="14" fill="#222" class="k" text-anchor="end">
<text x="33.6" y="372.2">0</text>
<text x="33.6" y="323.3">1</text>
<text x="33.6" y="274.5">2</text>
<text x="33.6" y="225.6">3</text>
</g>
<text x="143.5" y="404.6" font-family="'Liberation Serif', serif" font-size="14" fill="#222" class="k" text-anchor="middle">Time (min)</text>
<text transform="translate(18.3,290) rotate(-90)" font-family="'Liberation Serif', serif" font-size="22" font-style="italic" font-weight="bold" fill="#111" text-anchor="middle">r(t)</text>
<text transform="translate(0.2,232.2) scale(0.9,1)" font-family="'Liberation Sans', sans-serif" font-size="20" fill="#111" stroke="#111" stroke-width="0.15">c)</text>
<defs><clipPath id="cc"><rect x="38" y="210" width="209.5" height="161.3"/></clipPath></defs>
<g clip-path="url(#cc)">
<path d="M41.1,359.7 l4.2,7.2 h-8.4z" fill="#7a7a7a"/>
<path d="M56.9,359.7 l4.2,7.2 h-8.4z" fill="#7a7a7a"/>
<path d="M88,359.7 l4.2,7.2 h-8.4z" fill="#7a7a7a"/>
<path d="M113.7,359.7 l4.2,7.2 h-8.4z" fill="#7a7a7a"/>
<path d="M189.3,359.7 l4.2,7.2 h-8.4z" fill="#7a7a7a"/>
<path d="M240.5,359.7 l4.2,7.2 h-8.4z" fill="#7a7a7a"/>
<circle cx="42.3" cy="361.5" r="3.7" fill="#137a13"/>
<path d="M62.4,313.2 V323.9 M60.9,313.2 h3 M60.9,323.9 h3" stroke="#3a6e3a" stroke-width="1"/>
<circle cx="62.4" cy="318.5" r="3.7" fill="#137a13"/>
<path d="M83.2,293.6 V304.4 M81.7,293.6 h3 M81.7,304.4 h3" stroke="#3a6e3a" stroke-width="1"/>
<circle cx="83.2" cy="299" r="3.7" fill="#137a13"/>
<path d="M123.4,264.3 V284.8 M121.9,264.3 h3 M121.9,284.8 h3" stroke="#3a6e3a" stroke-width="1"/>
<circle cx="123.4" cy="274.6" r="3.7" fill="#137a13"/>
<path d="M164.3,250.6 V271.7 M162.8,250.6 h3 M162.8,271.7 h3" stroke="#3a6e3a" stroke-width="1"/>
<circle cx="164.3" cy="261.2" r="3.7" fill="#137a13"/>
<path d="M210,246.3 V264.8 M208.5,246.3 h3 M208.5,264.8 h3" stroke="#3a6e3a" stroke-width="1"/>
<circle cx="210" cy="255.5" r="3.7" fill="#137a13"/>
<path d="M250,236 V250.6 M248.5,236 h3 M248.5,250.6 h3" stroke="#3a6e3a" stroke-width="1"/>
<circle cx="250" cy="243.3" r="3.7" fill="#137a13"/>
<rect x="34" y="360.1" width="6.8" height="6.8" fill="#f01010"/>
<rect x="43.8" y="353.7" width="6.8" height="6.8" fill="#f01010"/>
<rect x="53.5" y="347.9" width="6.8" height="6.8" fill="#f01010"/>
<path d="M77.7,339.8 V343.7 M76.2,339.8 h3 M76.2,343.7 h3" stroke="#e01818" stroke-width="1"/>
<rect x="74.3" y="338.4" width="6.8" height="6.8" fill="#f01010"/>
<path d="M97.8,330.8 V338.6 M96.3,330.8 h3 M96.3,338.6 h3" stroke="#e01818" stroke-width="1"/>
<rect x="94.4" y="331.3" width="6.8" height="6.8" fill="#f01010"/>
<path d="M117.9,323.4 V333.2 M116.4,323.4 h3 M116.4,333.2 h3" stroke="#e01818" stroke-width="1"/>
<rect x="114.5" y="324.9" width="6.8" height="6.8" fill="#f01010"/>
<path d="M138.7,320 V329.8 M137.2,320 h3 M137.2,329.8 h3" stroke="#e01818" stroke-width="1"/>
<rect x="135.3" y="321.5" width="6.8" height="6.8" fill="#f01010"/>
<path d="M169.2,316.6 V326.4 M167.7,316.6 h3 M167.7,326.4 h3" stroke="#e01818" stroke-width="1"/>
<rect x="165.8" y="318.1" width="6.8" height="6.8" fill="#f01010"/>
<path d="M199.7,313.2 V322.9 M198.2,313.2 h3 M198.2,322.9 h3" stroke="#e01818" stroke-width="1"/>
<rect x="196.3" y="314.7" width="6.8" height="6.8" fill="#f01010"/>
<path d="M230.8,307.8 V322.5 M229.3,307.8 h3 M229.3,322.5 h3" stroke="#e01818" stroke-width="1"/>
<rect x="227.4" y="311.7" width="6.8" height="6.8" fill="#f01010"/>
</g>
<text x="47.6" y="226.3" font-family="'Liberation Serif', serif" font-size="10.8" fill="#222" class="k" style="stroke-width:0.08px">ρ ~ 0.9 mW.μm<tspan dy="-4" font-size="6.5">-2</tspan></text>
<circle cx="55.4" cy="240.8" r="3.6" fill="#137a13"/>
<rect x="52" y="251.3" width="6.8" height="6.7" fill="#f01010"/>
<path d="M55.2,264.2 l4.1,6.5 h-8.2z" fill="#7a7a7a"/>
<g font-family="'Liberation Serif', serif" font-size="10.6" fill="#222" class="k" style="stroke-width:0.08px">
<text x="69.8" y="244.6">514 nm</text><text x="69.8" y="258">633 nm</text><text x="69.8" y="271.4">785 nm</text>
</g>
<rect x="327" y="210" width="62.2" height="162" fill="#fc7b79"/>
<rect x="389.2" y="210" width="62.2" height="162" fill="#bfbfbf"/>
<rect x="451.4" y="210" width="67.1" height="162" fill="#fc7b79"/>
<rect x="327" y="210" width="191.5" height="162" fill="none" stroke="#606060" stroke-width="1"/>
<g stroke="#606060" stroke-width="1">
<path d="M330,372 v-3"/>
<path d="M370.8,372 v-3"/>
<path d="M411.6,372 v-3"/>
<path d="M452.4,372 v-3"/>
<path d="M493.2,372 v-3"/>
<path d="M327,363.5 h3"/>
<path d="M327,326.4 h3"/>
<path d="M327,289.3 h3"/>
<path d="M327,252.1 h3"/>
<path d="M327,215 h3"/>
</g>
<g font-family="'Liberation Serif', serif" font-size="14" fill="#222" class="k" text-anchor="middle">
<text x="330" y="386.2">0</text>
<text x="370.8" y="386.2">40</text>
<text x="411.6" y="386.2">80</text>
<text x="452.4" y="386.2">120</text>
<text x="493.2" y="386.2">160</text>
</g>
<g font-family="'Liberation Serif', serif" font-size="14" fill="#222" class="k" text-anchor="end">
<text x="323.2" y="368.1">0.0</text>
<text x="323.2" y="331">0.4</text>
<text x="323.2" y="293.9">0.8</text>
<text x="323.2" y="256.7">1.2</text>
<text x="323.2" y="219.6">1.6</text>
</g>
<text x="424.8" y="404.6" font-family="'Liberation Serif', serif" font-size="14" fill="#222" class="k" text-anchor="middle">Time (min)</text>
<text transform="translate(294,290) rotate(-90)" font-family="'Liberation Serif', serif" font-size="22" font-style="italic" font-weight="bold" fill="#111" text-anchor="middle">r(t)</text>
<text transform="translate(286.2,232) scale(1,1)" font-family="'Liberation Sans', sans-serif" font-size="20.5" fill="#111" stroke="#111" stroke-width="0.15">d)</text>
<g font-family="'Liberation Serif', serif" font-size="14" fill="#1a0a0a" class="k">
<text x="335.2" y="225.2">Laser on</text><text x="394.3" y="225.2">Laser off</text><text x="462.3" y="225.2">Laser on</text>
</g>
<path d="M327.2,265 H518" stroke="#3e3ad8" stroke-width="1.6" stroke-dasharray="7.1,6.16"/>
<path d="M329.4,354 V363 M327.9,354 h3 M327.9,363 h3" stroke="#3a0a0a" stroke-width="1"/>
<circle cx="329.4" cy="357.9" r="2.8" fill="#0a0a0a"/>
<path d="M333.2,340.3 V360.8 M331.7,340.3 h3 M331.7,360.8 h3" stroke="#3a0a0a" stroke-width="1"/>
<circle cx="333.2" cy="350.6" r="2.8" fill="#0a0a0a"/>
<path d="M337.3,314 V340.3 M335.8,314 h3 M335.8,340.3 h3" stroke="#3a0a0a" stroke-width="1"/>
<circle cx="337.3" cy="327.1" r="2.8" fill="#0a0a0a"/>
<path d="M345.5,294 V321.8 M344,294 h3 M344,321.8 h3" stroke="#3a0a0a" stroke-width="1"/>
<circle cx="345.5" cy="307.8" r="2.8" fill="#0a0a0a"/>
<path d="M362.5,267.6 V292.5 M361,267.6 h3 M361,292.5 h3" stroke="#3a0a0a" stroke-width="1"/>
<circle cx="362.5" cy="280" r="2.8" fill="#0a0a0a"/>
<path d="M371.3,262.3 V279.3 M369.8,262.3 h3 M369.8,279.3 h3" stroke="#3a0a0a" stroke-width="1"/>
<circle cx="371.3" cy="270.5" r="2.8" fill="#0a0a0a"/>
<path d="M379.8,263.2 V272.9 M378.3,263.2 h3 M378.3,272.9 h3" stroke="#3a0a0a" stroke-width="1"/>
<circle cx="379.8" cy="267.6" r="2.8" fill="#0a0a0a"/>
<path d="M388.6,254.4 V269 M387.1,254.4 h3 M387.1,269 h3" stroke="#3a0a0a" stroke-width="1"/>
<circle cx="388.6" cy="261.1" r="2.8" fill="#0a0a0a"/>
<circle cx="451.1" cy="269" r="2.8" fill="#0a0a0a"/>
<circle cx="454.4" cy="267.2" r="2.8" fill="#0a0a0a"/>
<circle cx="459.9" cy="264.2" r="2.8" fill="#0a0a0a"/>
<path d="M467.7,256 V264.6 M466.2,256 h3 M466.2,264.6 h3" stroke="#3a0a0a" stroke-width="1"/>
<circle cx="467.7" cy="260.3" r="2.8" fill="#0a0a0a"/>
<path d="M485.1,245.2 V266 M483.6,245.2 h3 M483.6,266 h3" stroke="#3a0a0a" stroke-width="1"/>
<circle cx="485.1" cy="256" r="2.8" fill="#0a0a0a"/>
<path d="M493.6,240 V260.6 M492.1,240 h3 M492.1,260.6 h3" stroke="#3a0a0a" stroke-width="1"/>
<circle cx="493.6" cy="250.2" r="2.8" fill="#0a0a0a"/>
<path d="M502.3,240.8 V263.9 M500.8,240.8 h3 M500.8,263.9 h3" stroke="#3a0a0a" stroke-width="1"/>
<circle cx="502.3" cy="251.9" r="2.8" fill="#0a0a0a"/>
<circle cx="510.7" cy="254.1" r="2.8" fill="#0a0a0a"/>
</svg></body></html>
